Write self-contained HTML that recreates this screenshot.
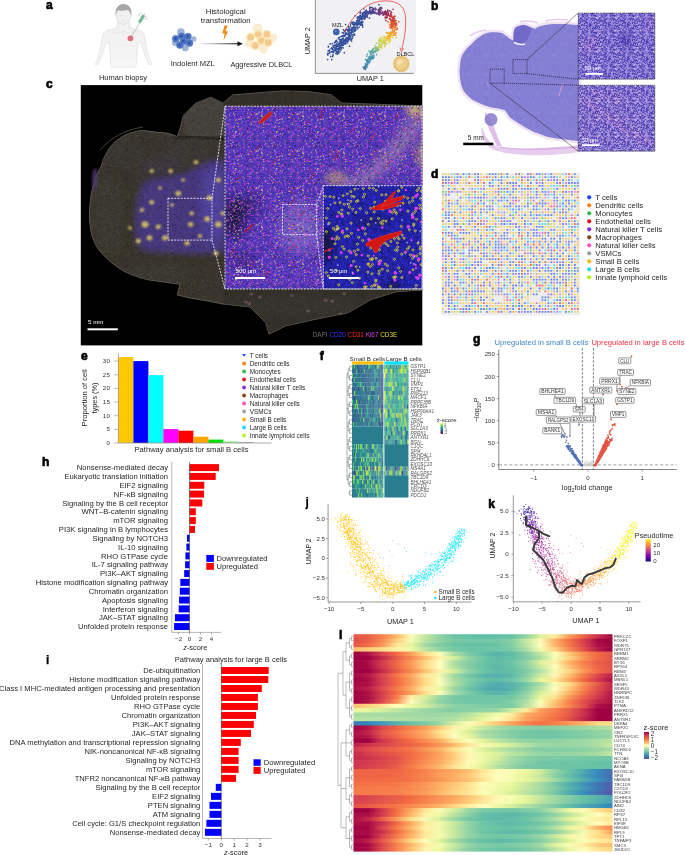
<!DOCTYPE html>
<html><head><meta charset="utf-8"><style>
html,body{margin:0;padding:0;background:#fff;width:685px;height:855px;overflow:hidden}
svg{display:block;will-change:transform}
text{font-family:"Liberation Sans",sans-serif}
</style></head><body>
<svg width="685" height="855" viewBox="0 0 685 855">
<text x="46.0" y="9.4" font-size="12" text-anchor="start" fill="#000" font-weight="bold" stroke="#000" stroke-width="0.65">a</text>
<text x="431.0" y="9.5" font-size="12" text-anchor="start" fill="#000" font-weight="bold" stroke="#000" stroke-width="0.65">b</text>
<text x="46.0" y="88.0" font-size="12" text-anchor="start" fill="#000" font-weight="bold" stroke="#000" stroke-width="0.65">c</text>
<text x="431.0" y="177.8" font-size="12" text-anchor="start" fill="#000" font-weight="bold" stroke="#000" stroke-width="0.65">d</text>
<text x="81.0" y="359.8" font-size="12" text-anchor="start" fill="#000" font-weight="bold" stroke="#000" stroke-width="0.65">e</text>
<text x="319.7" y="359.7" font-size="12" text-anchor="start" fill="#000" font-weight="bold" stroke="#000" stroke-width="0.65">f</text>
<text x="473.0" y="342.6" font-size="12" text-anchor="start" fill="#000" font-weight="bold" stroke="#000" stroke-width="0.65">g</text>
<text x="42.0" y="465.6" font-size="12" text-anchor="start" fill="#000" font-weight="bold" stroke="#000" stroke-width="0.65">h</text>
<text x="46.0" y="663.9" font-size="12" text-anchor="start" fill="#000" font-weight="bold" stroke="#000" stroke-width="0.25">i</text>
<text x="305.5" y="506.3" font-size="12" text-anchor="start" fill="#000" font-weight="bold" stroke="#000" stroke-width="0.25">j</text>
<text x="488.2" y="507.5" font-size="12" text-anchor="start" fill="#000" font-weight="bold" stroke="#000" stroke-width="0.65">k</text>
<text x="339.0" y="639.0" font-size="12" text-anchor="start" fill="#000" font-weight="bold" stroke="#000" stroke-width="0.65">l</text>
<defs><linearGradient id="bodyfade" x1="0" y1="0" x2="0" y2="1"><stop offset="0" stop-color="#f1f1f1"/><stop offset="0.8" stop-color="#f4f4f4"/><stop offset="1" stop-color="#fafafa"/></linearGradient><linearGradient id="arrowg" x1="0" y1="0" x2="1" y2="0"><stop offset="0" stop-color="#e8e8e8"/><stop offset="0.5" stop-color="#909090"/><stop offset="1" stop-color="#111"/></linearGradient></defs>
<path d="M117.5,22 L117,28 C112,29.5 107,30 104.5,32 C102,35 101.5,42 100.5,48 C99,55 97,60 95.3,64.5 L98,65 C100,60 102.5,54 104,49 L106,43 L109,42 C110,48 110,54 110.5,60 L111,67 L136,67 L136.5,60 C137,54 137,48 138,42 L141,43 L143,49 C144.5,54 147,60 149,65 L151.8,64.5 C150,60 148,55 146.5,48 C145.5,42 145,35 142.5,32 C140,30 135,29.5 130,28 L129.5,22 Z" fill="url(#bodyfade)" stroke="#cfcfcf" stroke-width="0.45"/>
<path d="M113,32 C117,33.5 121,33 123.5,31 C126,33 130,33.5 134,32" stroke="#d4d4d4" stroke-width="0.35" fill="none"/>
<path d="M123.5,31 L123.5,37 M116,44 C118,46 121,46 123,45 M124,45 C126,46 129,46 131,44" stroke="#dcdcdc" stroke-width="0.35" fill="none"/>
<ellipse cx="123.5" cy="14.8" rx="7.3" ry="9.6" fill="#f0f0f0" stroke="#c8c8c8" stroke-width="0.45"/>
<path d="M115.6,16 C115,9 117.5,4.3 123.5,4.1 C129.5,4.3 132.2,9 131.4,16 C130.5,12 129,10.5 127,10 C124,11 120,11 118,10.3 C116.5,11.5 116,13.5 115.6,16Z" fill="#a6a6a6"/>
<path d="M120,16 h2 M125,16 h2 M122.5,20.5 h2" stroke="#c0c0c0" stroke-width="0.4"/>
<circle cx="130.4" cy="38.3" r="2.9" fill="#e2707c"/>
<path d="M131.2,37.3 L140.5,21.5" stroke="#7a7a7a" stroke-width="0.4"/>
<g transform="translate(141.5,19) rotate(-58)"><rect x="-4.2" y="-1.3" width="8.4" height="2.6" rx="1" fill="#6cbf98" stroke="#4a9a78" stroke-width="0.3"/><ellipse cx="3.2" cy="-2.6" rx="1.4" ry="2" fill="none" stroke="#999" stroke-width="0.35"/><ellipse cx="3.2" cy="2.6" rx="1.4" ry="2" fill="none" stroke="#999" stroke-width="0.35"/><path d="M4.2,0 H6.3" stroke="#888" stroke-width="0.5"/></g>
<text x="123.0" y="79.6" font-size="7.55" text-anchor="middle" fill="#231f20" >Human biopsy</text>
<circle cx="180.9" cy="32.1" r="3.8" fill="#9db3da"/>
<circle cx="193.8" cy="38.9" r="2.7" fill="#9db3da"/>
<circle cx="174.6" cy="43.3" r="2.7" fill="#9db3da"/>
<circle cx="185.3" cy="47.9" r="3.4" fill="#9db3da"/>
<circle cx="175.7" cy="38.7" r="3.55" fill="#4d72c2" stroke="#5a7dc8" stroke-width="0.3"/>
<circle cx="175.5" cy="38.6" r="1.35" fill="#2f56a2"/>
<circle cx="181.6" cy="36.3" r="3.55" fill="#4d72c2" stroke="#5a7dc8" stroke-width="0.3"/>
<circle cx="181.4" cy="36.199999999999996" r="1.35" fill="#2f56a2"/>
<circle cx="187.9" cy="36.5" r="3.55" fill="#4d72c2" stroke="#5a7dc8" stroke-width="0.3"/>
<circle cx="187.70000000000002" cy="36.4" r="1.35" fill="#2f56a2"/>
<circle cx="183.5" cy="41.3" r="3.55" fill="#4d72c2" stroke="#5a7dc8" stroke-width="0.3"/>
<circle cx="183.3" cy="41.199999999999996" r="1.35" fill="#2f56a2"/>
<circle cx="189.5" cy="43.1" r="3.55" fill="#4d72c2" stroke="#5a7dc8" stroke-width="0.3"/>
<circle cx="189.3" cy="43.0" r="1.35" fill="#2f56a2"/>
<circle cx="179.8" cy="45.1" r="3.55" fill="#4d72c2" stroke="#5a7dc8" stroke-width="0.3"/>
<circle cx="179.60000000000002" cy="45.0" r="1.35" fill="#2f56a2"/>
<text x="192.8" y="66.0" font-size="7.55" text-anchor="middle" fill="#231f20" >Indolent MZL</text>
<rect x="200.5" y="43.2" width="38" height="1.1" fill="url(#arrowg)"/>
<path d="M237.5,41.3 L242.8,43.75 L237.5,46.2 Z" fill="#111"/>
<path d="M224.6,25.6 L227.6,25.6 L225.6,31.2 L228.2,31.2 L223.5,40.6 L224.6,33.6 L222.2,33.6 Z" fill="#f08a1c"/>
<text x="225.7" y="13.5" font-size="7.8" text-anchor="middle" fill="#231f20" >Histological</text>
<text x="225.7" y="22.6" font-size="7.8" text-anchor="middle" fill="#231f20" >transformation</text>
<circle cx="257.7" cy="28.8" r="5.2" fill="#faecd0"/>
<circle cx="273.5" cy="37.8" r="3.7" fill="#faecd0"/>
<circle cx="248.8" cy="43.5" r="3.7" fill="#faecd0"/>
<circle cx="263.5" cy="49.3" r="4.2" fill="#faecd0"/>
<circle cx="250.6" cy="37.2" r="4.4" fill="#fcf0c0" stroke="#f3df9c" stroke-width="0.4"/>
<circle cx="250.6" cy="37.2" r="3.3" fill="#f4c88e"/>
<circle cx="258.2" cy="34.6" r="4.4" fill="#fcf0c0" stroke="#f3df9c" stroke-width="0.4"/>
<circle cx="258.2" cy="34.6" r="3.3" fill="#f4c88e"/>
<circle cx="266.9" cy="34.3" r="4.4" fill="#fcf0c0" stroke="#f3df9c" stroke-width="0.4"/>
<circle cx="266.9" cy="34.3" r="3.3" fill="#f4c88e"/>
<circle cx="261.4" cy="40.7" r="4.4" fill="#fcf0c0" stroke="#f3df9c" stroke-width="0.4"/>
<circle cx="261.4" cy="40.7" r="3.3" fill="#f4c88e"/>
<circle cx="268.2" cy="42.5" r="4.4" fill="#fcf0c0" stroke="#f3df9c" stroke-width="0.4"/>
<circle cx="268.2" cy="42.5" r="3.3" fill="#f4c88e"/>
<circle cx="255.3" cy="45.6" r="4.4" fill="#fcf0c0" stroke="#f3df9c" stroke-width="0.4"/>
<circle cx="255.3" cy="45.6" r="3.3" fill="#f4c88e"/>
<text x="261.4" y="67.2" font-size="7.35" text-anchor="middle" fill="#231f20" >Aggressive DLBCL</text>
<rect x="315" y="0" width="101" height="73.4" fill="#f1f1f3"/>
<path d="M315.3 0V73.4H413.7" stroke="#666" stroke-width="0.7" fill="none"/>
<text x="370.2" y="81.2" font-size="7.3" text-anchor="middle" fill="#231f20" >UMAP 1</text>
<text transform="translate(310,40.8) rotate(-90)" font-size="7.3" text-anchor="middle" fill="#231f20">UMAP 2</text>
<path d="M328.4 46.3h0M331.0 48.6h0M328.1 51.0h0M340.3 47.3h0M333.7 47.5h0M339.8 51.7h0M335.5 45.9h0M330.0 52.7h0M332.8 52.1h0M329.5 51.0h0M333.3 45.5h0M334.5 47.7h0M345.7 43.9h0M336.5 48.7h0M338.6 52.7h0M336.4 46.8h0M339.7 44.3h0M336.0 49.2h0M338.9 44.9h0M337.1 44.9h0M327.6 59.5h0M339.5 47.7h0M337.3 54.2h0M329.3 50.1h0M332.5 49.6h0M339.2 49.4h0M331.8 59.6h0M336.1 51.8h0M327.9 55.0h0M344.3 52.7h0M332.6 56.6h0M333.6 51.2h0M329.7 51.0h0M334.0 50.1h0M335.7 44.8h0M339.5 46.8h0M340.1 42.7h0M332.2 43.6h0M339.1 49.2h0M335.1 48.3h0M333.7 52.1h0M337.1 52.4h0M335.8 49.5h0M339.5 47.4h0M338.6 44.5h0M335.4 49.4h0M330.7 56.4h0M333.0 55.3h0M338.2 50.0h0M343.4 44.4h0M335.8 45.9h0M338.5 53.5h0M337.9 46.5h0M331.7 47.8h0M335.1 50.1h0M335.4 41.4h0M336.1 41.1h0M336.5 48.5h0M341.3 42.6h0M340.7 42.9h0M333.6 50.1h0M340.4 49.7h0M343.5 40.7h0M334.1 45.3h0M335.7 47.9h0M341.8 47.0h0M335.9 53.5h0M330.1 43.9h0M336.0 50.9h0M337.7 48.7h0M337.4 42.1h0M336.9 48.9h0M327.5 53.7h0M341.4 42.7h0M335.6 49.3h0M338.7 43.3h0M339.8 45.8h0M330.0 52.3h0M329.0 53.4h0M333.0 54.1h0M338.7 44.5h0M332.0 52.0h0M335.0 45.5h0M339.8 46.1h0M341.0 49.8h0M333.8 51.6h0M332.5 48.8h0M339.7 39.8h0M338.3 50.2h0M336.3 51.6h0M338.5 48.8h0M332.9 46.2h0M336.7 44.4h0M339.2 45.1h0M339.1 43.0h0M330.2 44.0h0M328.4 46.9h0M341.4 44.7h0M338.3 51.9h0M335.3 41.9h0M340.3 45.7h0M334.6 43.0h0M339.2 46.7h0M337.1 51.6h0M336.4 44.4h0M331.7 51.6h0M339.5 48.2h0M339.2 47.3h0M334.7 42.4h0M340.6 45.6h0M349.4 36.5h0M343.0 44.0h0M339.4 37.4h0M343.4 41.7h0M348.4 35.2h0M350.4 35.6h0M345.7 42.4h0M343.5 39.0h0M344.7 35.0h0M343.2 35.4h0M348.9 39.3h0M349.9 38.5h0M340.6 41.8h0M346.1 34.2h0M343.0 41.5h0M346.4 37.7h0M348.2 37.3h0M340.8 39.5h0M341.8 39.8h0M348.4 39.9h0M343.2 45.2h0M341.3 42.2h0M345.3 40.9h0M342.7 35.5h0M342.3 32.5h0M341.5 36.4h0M346.2 38.3h0M349.5 46.2h0M348.6 37.7h0M345.7 38.8h0M342.0 39.0h0M337.3 45.5h0M341.5 48.2h0M348.7 35.5h0M344.2 35.9h0M345.9 38.9h0M344.5 43.9h0M342.6 38.7h0M343.1 47.8h0M349.1 34.5h0M343.7 42.4h0M344.6 40.1h0M340.4 41.1h0M338.4 38.4h0M336.7 43.8h0M343.9 42.0h0M350.4 40.0h0M344.7 31.1h0M341.7 40.6h0M349.4 38.9h0M346.3 39.1h0M347.4 34.2h0M350.5 32.8h0M346.4 34.0h0M348.3 38.7h0M346.6 40.0h0M343.6 36.7h0M346.2 33.1h0M341.9 36.5h0M347.4 40.5h0M346.2 29.3h0M336.5 40.5h0M341.3 42.3h0M340.6 43.2h0M345.2 39.6h0M347.9 38.6h0M344.4 30.9h0M336.5 40.4h0M342.0 42.8h0M345.5 42.8h0M351.6 41.1h0M339.4 39.5h0M341.9 45.0h0M343.5 43.6h0M344.6 41.5h0M343.1 47.8h0M347.1 37.5h0M347.6 43.0h0M343.2 41.6h0M346.0 39.3h0M348.6 37.4h0M349.2 39.1h0M348.0 41.3h0M343.9 40.8h0M346.5 41.5h0M343.1 38.6h0M340.1 41.3h0M351.7 39.1h0M346.0 38.9h0M348.0 31.9h0M342.3 45.3h0M341.0 36.6h0M346.9 39.3h0M353.2 32.1h0M350.5 35.5h0M350.0 30.2h0M348.6 31.9h0M350.2 26.4h0M352.5 38.0h0M350.7 36.4h0M345.6 24.5h0M345.7 30.6h0M349.5 33.3h0M345.4 32.9h0M349.5 38.6h0M347.0 38.8h0M350.1 29.0h0M347.8 30.2h0M351.9 28.7h0M344.7 36.1h0M348.7 33.9h0M352.0 35.0h0M343.4 32.9h0M352.8 36.6h0M348.9 29.4h0M350.6 37.7h0M354.6 31.1h0M347.0 29.5h0M353.8 35.0h0M347.3 34.3h0M345.7 29.9h0M352.3 34.6h0M349.6 35.9h0M348.8 29.0h0M350.5 35.2h0M349.3 30.9h0M354.7 28.4h0M343.4 29.8h0M351.5 31.6h0M345.2 35.4h0M350.5 35.8h0M352.2 30.1h0M350.5 29.8h0M354.9 29.7h0M352.0 30.6h0M349.7 33.3h0M345.6 33.2h0M350.0 30.5h0M343.5 33.2h0M350.1 29.5h0M349.6 29.5h0M349.1 30.6h0" stroke="#34509a" stroke-width="1.7" stroke-linecap="round" fill="none"/>
<path d="M352.9 30.7h0M349.0 27.7h0M352.6 27.5h0M352.1 27.9h0M351.3 33.4h0M352.5 30.3h0M360.0 24.5h0M354.3 29.5h0M348.5 26.5h0M354.1 34.2h0M354.1 27.6h0M348.1 29.4h0M351.9 22.3h0M357.6 28.9h0M351.9 27.5h0M355.4 27.2h0M351.1 22.9h0M356.5 22.8h0M352.6 23.8h0M353.9 25.8h0M353.8 27.2h0M357.0 27.1h0M352.7 29.3h0M353.2 27.1h0M355.5 23.9h0M349.4 30.0h0M353.8 24.4h0M352.7 24.2h0M354.7 29.2h0M354.6 34.1h0M355.7 28.7h0M355.6 30.4h0M352.4 31.9h0M354.7 30.9h0M354.6 34.8h0M353.6 27.2h0M351.6 30.0h0M355.5 24.3h0M351.6 32.1h0M351.0 32.6h0M350.6 24.8h0M357.5 22.3h0M359.2 27.1h0M357.1 25.3h0M362.6 25.3h0M353.9 22.3h0M356.6 23.6h0M355.1 15.8h0M353.9 28.0h0M352.9 22.2h0M359.2 22.3h0M362.7 27.1h0M358.6 23.0h0M358.3 22.5h0M362.3 24.0h0M359.4 24.2h0M354.4 22.9h0M359.3 23.9h0M354.8 24.1h0M362.8 21.9h0M360.9 24.8h0M357.5 27.5h0M355.3 24.7h0M361.3 21.8h0M356.4 24.4h0M356.5 22.7h0M357.0 24.4h0M364.4 19.2h0M358.4 24.3h0M362.4 18.7h0M355.1 23.1h0" stroke="#36509a" stroke-width="1.7" stroke-linecap="round" fill="none"/>
<path d="M360.3 22.6h0M359.1 18.7h0M360.7 17.7h0M357.9 16.8h0M360.8 22.3h0M359.2 17.3h0M361.0 24.7h0M358.3 18.1h0M360.5 25.1h0M357.1 17.7h0M361.9 24.9h0M359.1 22.0h0M356.5 20.8h0M364.9 18.5h0M362.0 24.5h0M359.2 20.0h0M358.9 21.9h0M357.6 24.2h0M357.0 22.3h0M361.5 19.7h0M359.8 24.2h0M362.5 21.7h0M359.3 16.3h0M357.9 20.6h0M361.0 19.7h0M353.1 24.1h0M360.0 15.5h0M358.4 23.1h0M357.4 22.5h0M357.4 20.1h0M360.7 18.7h0M360.6 23.6h0M359.3 20.8h0M361.9 21.8h0M362.5 18.4h0M361.3 16.6h0M361.8 17.7h0M358.3 21.5h0M361.4 19.3h0M357.3 25.1h0M361.7 19.6h0M360.1 13.3h0M360.4 12.1h0M360.5 15.3h0M359.6 16.6h0M362.6 15.8h0M362.5 14.8h0M361.0 16.2h0M363.3 13.5h0M358.4 18.3h0M364.0 18.5h0M366.5 16.2h0M362.2 17.5h0M361.3 16.5h0M362.6 15.8h0M364.5 17.0h0M361.8 18.5h0M359.4 18.9h0M362.8 16.8h0M363.9 9.0h0M358.0 18.4h0M361.5 22.8h0M360.2 18.5h0M363.7 16.2h0" stroke="#38509c" stroke-width="1.7" stroke-linecap="round" fill="none"/>
<path d="M365.1 12.5h0M366.7 13.6h0M365.0 15.8h0M364.2 16.9h0M364.8 11.9h0M369.5 18.2h0M366.0 13.5h0M364.3 13.4h0M362.5 13.6h0M364.8 12.1h0M365.5 12.7h0M364.9 15.0h0M366.4 16.7h0M365.3 12.5h0M360.6 12.5h0M363.1 12.3h0M365.0 15.3h0M362.4 14.6h0M367.4 17.2h0M366.3 11.2h0M367.3 15.2h0M362.7 13.7h0M365.1 17.3h0M366.5 13.7h0M365.5 12.9h0M371.8 12.0h0M365.7 11.0h0M369.0 12.6h0M363.8 15.4h0M368.7 11.9h0M365.2 14.8h0M367.9 11.6h0M368.4 12.8h0M366.5 12.4h0M365.5 13.6h0M366.4 11.2h0M366.6 15.8h0M365.2 14.9h0M366.9 14.4h0M367.7 12.7h0" stroke="#3c4c98" stroke-width="1.7" stroke-linecap="round" fill="none"/>
<path d="M372.3 7.6h0M371.7 12.3h0M371.7 12.4h0M372.0 9.5h0M369.3 11.7h0M368.4 13.8h0M370.0 13.1h0M371.8 13.3h0M370.1 13.5h0M369.8 7.0h0M369.9 11.4h0M369.8 10.5h0M366.3 10.2h0M370.9 14.0h0M372.8 10.3h0M374.0 11.5h0M373.1 13.2h0M374.8 12.8h0M376.4 13.7h0M375.0 12.1h0M376.2 13.3h0M370.6 12.3h0M371.8 11.4h0M372.9 9.8h0M373.9 11.5h0M376.2 9.3h0M372.9 9.8h0M370.9 7.5h0M369.7 8.7h0M373.0 11.9h0M372.7 9.6h0M370.0 10.4h0M370.4 11.1h0M375.5 9.8h0" stroke="#4a4490" stroke-width="1.7" stroke-linecap="round" fill="none"/>
<path d="M378.2 14.1h0M380.1 9.8h0M373.1 9.9h0M374.6 8.9h0M378.5 9.6h0M378.6 11.3h0M374.3 12.9h0M378.7 12.1h0M373.4 9.1h0M378.8 10.6h0M375.2 8.0h0M378.3 9.9h0M373.0 11.2h0M379.4 14.8h0M381.1 13.6h0M379.5 11.4h0M378.3 10.1h0M381.0 9.1h0M381.8 8.0h0M378.3 13.6h0M379.1 9.4h0M380.2 7.3h0M373.8 8.5h0M379.1 9.9h0M378.9 4.7h0M378.5 11.5h0M381.1 7.5h0M377.4 13.1h0M379.3 12.0h0M378.5 11.5h0M380.0 13.7h0M380.2 12.0h0" stroke="#5e3c8c" stroke-width="1.7" stroke-linecap="round" fill="none"/>
<path d="M381.3 13.1h0M380.2 13.9h0M381.0 10.9h0M379.4 8.9h0M384.2 13.2h0M382.2 13.0h0M386.0 14.4h0M384.3 11.9h0M382.7 12.1h0M379.2 11.8h0M384.7 11.5h0M378.6 10.6h0M383.6 14.4h0M383.2 13.9h0M385.7 11.0h0M385.4 14.4h0M383.1 15.2h0M388.5 13.9h0M387.9 10.2h0M386.1 12.7h0M386.4 13.2h0M385.4 17.2h0M380.3 11.4h0M385.6 11.5h0M383.6 13.9h0M385.6 11.4h0M385.8 13.2h0M385.5 13.0h0M386.8 12.1h0" stroke="#7e3474" stroke-width="1.7" stroke-linecap="round" fill="none"/>
<path d="M390.2 18.5h0M386.1 12.5h0M393.1 9.3h0M386.8 16.2h0M387.8 11.9h0M389.7 10.8h0M393.1 17.5h0M391.3 14.7h0M388.0 11.8h0M386.2 14.9h0M388.1 15.1h0M384.7 12.9h0M385.0 14.3h0M388.0 12.9h0M386.9 17.4h0M385.7 20.4h0M388.2 13.7h0M387.6 14.0h0M388.2 15.2h0M391.1 21.0h0M391.5 12.4h0M390.7 13.6h0M389.5 15.3h0M391.1 11.8h0M391.2 15.4h0M386.5 18.0h0" stroke="#a02e54" stroke-width="1.7" stroke-linecap="round" fill="none"/>
<path d="M392.8 21.4h0M392.2 19.5h0M393.1 17.3h0M391.9 20.5h0M393.9 16.6h0M389.8 16.6h0M391.1 16.5h0M389.5 18.8h0M393.7 17.7h0M393.6 21.1h0M392.3 17.6h0M393.7 18.0h0M396.5 23.4h0M394.9 16.2h0M385.1 18.0h0M391.8 16.1h0M391.5 14.9h0M387.4 17.0h0M392.9 20.1h0M392.6 17.9h0M391.8 17.1h0M393.3 22.3h0M391.7 24.1h0M390.2 19.1h0M394.9 22.8h0M393.7 22.8h0M395.9 20.5h0M394.7 24.1h0M393.8 19.9h0M388.0 21.8h0M392.4 19.9h0M394.7 18.6h0M394.9 21.2h0M391.1 20.7h0M394.6 21.4h0M395.9 25.1h0M391.1 21.8h0M391.3 21.5h0M391.7 24.9h0" stroke="#c83a36" stroke-width="1.7" stroke-linecap="round" fill="none"/>
<path d="M393.2 22.9h0M392.8 23.3h0M391.9 23.4h0M392.1 24.9h0M392.2 26.8h0M391.4 22.2h0M392.5 21.9h0M395.0 21.7h0M396.7 25.1h0M392.3 21.8h0M393.8 24.3h0M391.2 23.4h0M398.8 21.8h0M391.4 25.9h0M392.5 27.1h0M393.1 26.5h0M391.6 23.6h0M397.2 28.2h0M390.6 26.5h0M393.8 23.9h0M395.5 27.1h0M393.5 25.2h0M394.5 28.0h0M390.9 26.9h0M395.9 25.5h0M389.9 24.7h0M394.8 22.8h0M394.8 26.3h0M392.7 25.7h0M396.8 29.6h0M390.1 27.2h0M393.1 25.2h0M391.0 28.2h0" stroke="#e0582a" stroke-width="1.7" stroke-linecap="round" fill="none"/>
<path d="M389.4 33.4h0M390.6 21.9h0M394.1 35.2h0M392.7 33.3h0M392.9 28.3h0M392.9 30.4h0M394.9 30.0h0M395.9 32.6h0M392.3 30.9h0M394.2 31.4h0M390.0 27.6h0M395.2 29.4h0M394.7 26.8h0M389.5 33.8h0M392.8 30.6h0M393.6 33.3h0M390.2 32.7h0M391.7 33.0h0M387.8 33.1h0M393.7 32.1h0M392.5 30.2h0M392.4 30.6h0M389.4 33.6h0M390.8 34.7h0M395.3 34.0h0M390.3 36.4h0" stroke="#f08a22" stroke-width="1.7" stroke-linecap="round" fill="none"/>
<path d="M389.2 33.0h0M390.3 34.8h0M393.0 33.5h0M389.8 35.3h0M389.4 33.1h0M388.9 36.3h0M396.0 37.5h0M389.6 36.8h0M391.2 32.2h0M386.4 32.6h0M395.8 34.9h0M390.4 34.7h0M387.9 36.2h0M390.8 35.5h0M387.3 36.2h0M389.9 34.0h0M392.4 33.1h0M384.4 36.8h0M391.2 34.8h0M388.0 37.0h0M389.5 35.2h0M387.7 38.9h0M389.9 37.7h0M390.7 34.4h0M386.7 37.9h0M392.8 35.5h0M389.9 39.3h0M388.4 35.7h0M388.8 38.3h0M387.8 39.6h0" stroke="#f0b024" stroke-width="1.7" stroke-linecap="round" fill="none"/>
<path d="M389.5 37.6h0M384.5 41.1h0M388.2 40.2h0M385.8 39.8h0M384.9 41.5h0M387.4 40.4h0M385.6 38.2h0M384.5 40.1h0M392.3 37.5h0M388.4 40.1h0M389.8 40.1h0M385.9 37.7h0M389.8 41.3h0M390.2 40.9h0M391.5 35.5h0M383.9 42.6h0M386.1 42.9h0M386.9 40.5h0M380.5 40.9h0M387.8 37.5h0M383.0 41.5h0M384.5 40.0h0M385.3 39.6h0M380.5 37.5h0M383.2 40.4h0M384.5 44.9h0M383.1 41.7h0M378.7 40.1h0M382.9 36.8h0M381.0 40.4h0M380.4 39.7h0M389.1 42.8h0M389.4 41.5h0M384.1 41.6h0" stroke="#e8d040" stroke-width="1.7" stroke-linecap="round" fill="none"/>
<path d="M380.0 41.6h0M381.0 38.5h0M382.1 43.7h0M379.2 46.2h0M384.4 42.1h0M382.4 43.4h0M384.6 46.6h0M386.4 44.4h0M379.7 47.4h0M384.6 40.1h0M385.5 43.2h0M384.3 43.5h0M385.0 42.6h0M382.0 43.3h0M379.6 39.5h0M381.7 43.9h0M381.0 41.2h0M383.3 38.8h0M382.0 42.3h0M379.3 49.5h0M381.0 45.8h0M379.2 44.3h0M379.1 43.8h0M380.3 46.3h0M379.1 42.7h0M380.9 45.5h0M384.0 42.5h0M381.4 47.9h0M378.7 47.9h0M379.2 44.1h0M381.6 43.7h0M383.4 41.7h0M379.4 40.3h0M381.9 46.8h0M378.3 46.5h0M380.4 44.8h0M379.8 45.2h0M380.0 46.1h0" stroke="#c8d058" stroke-width="1.7" stroke-linecap="round" fill="none"/>
<path d="M377.4 49.5h0M377.3 48.4h0M378.5 49.8h0M376.7 47.0h0M377.6 48.3h0M375.8 49.8h0M374.4 47.5h0M374.5 51.2h0M376.4 43.2h0M376.3 49.1h0M375.5 45.5h0M377.2 51.4h0M376.9 49.2h0M374.8 50.6h0M376.6 49.9h0M375.6 47.6h0M377.6 51.0h0M373.1 49.0h0M375.1 48.0h0M374.1 48.5h0" stroke="#90c080" stroke-width="1.7" stroke-linecap="round" fill="none"/>
<path d="M372.1 50.1h0M369.1 51.1h0M375.3 51.9h0M373.3 53.9h0M370.2 53.5h0M372.0 52.5h0M373.1 52.7h0M373.0 52.2h0M370.7 52.0h0M372.6 52.6h0M373.3 52.7h0M371.3 51.5h0M372.8 51.1h0M373.3 56.8h0M373.9 51.5h0M375.9 50.4h0M376.6 54.6h0M371.1 52.5h0M372.8 49.4h0M373.7 57.2h0M373.3 51.7h0M373.4 53.4h0M367.4 54.2h0M369.7 56.1h0M372.6 57.4h0M372.1 52.8h0M371.9 52.6h0M370.9 51.4h0M369.9 57.0h0M374.1 55.8h0M370.1 51.9h0M372.6 56.9h0" stroke="#5aa8a8" stroke-width="1.7" stroke-linecap="round" fill="none"/>
<path d="M371.9 56.6h0M368.6 58.0h0M373.5 57.4h0M371.2 54.7h0M370.4 56.9h0M369.7 59.0h0M371.5 58.8h0M371.8 57.6h0M370.5 58.0h0M369.0 58.4h0M373.3 58.5h0M370.9 54.5h0M373.0 55.6h0M369.0 57.0h0M371.8 56.6h0M370.8 57.9h0M366.8 56.1h0M369.5 58.7h0M370.6 59.9h0M367.4 62.1h0M368.8 61.7h0M367.2 59.4h0M369.5 62.6h0M369.0 61.7h0M369.2 62.7h0M369.2 58.5h0M369.1 59.4h0M368.0 60.5h0M372.0 58.8h0" stroke="#4898b0" stroke-width="1.7" stroke-linecap="round" fill="none"/>
<path d="M367.6 62.2h0M365.4 63.8h0M367.3 64.4h0M367.8 63.7h0M369.8 61.5h0M365.7 59.7h0M366.8 66.1h0M365.6 64.8h0M367.9 63.9h0M367.5 64.5h0M366.3 65.5h0M367.1 61.4h0M367.0 64.4h0M367.7 61.0h0M366.7 61.1h0M364.8 66.4h0M367.1 64.7h0M363.7 68.2h0M366.6 64.1h0M364.9 67.8h0M365.1 68.4h0M365.1 68.6h0M363.3 67.2h0M363.9 68.6h0M366.3 64.3h0" stroke="#4088b0" stroke-width="1.7" stroke-linecap="round" fill="none"/>
<path d="M365.5 69.5h0M365.1 67.9h0M365.3 66.7h0M366.8 67.4h0M363.8 68.3h0" stroke="#4080b0" stroke-width="1.7" stroke-linecap="round" fill="none"/>
<circle cx="336.3" cy="31.9" r="3.3" fill="#3a5fae"/><circle cx="335.5" cy="31" r="1.4" fill="#5a7cc0"/>
<text x="337.6" y="27.0" font-size="5.6" text-anchor="middle" fill="#231f20" >MZL</text>
<path d="M343.9,32.6 C352,18 362,4 380,1.2 C395,-0.5 404,4 405.5,16 C406.5,28 404,40 401.8,49" stroke="#e83434" stroke-width="0.75" fill="none"/>
<path d="M399.9,47.6 L401.6,51.8 L403.4,48" stroke="#e83434" stroke-width="0.75" fill="none"/>
<polygon points="409.90,63.80 408.71,65.49 409.05,67.53 407.24,68.54 406.66,70.52 404.60,70.65 403.21,72.18 401.30,71.40 399.39,72.18 398.00,70.65 395.94,70.52 395.36,68.54 393.55,67.53 393.89,65.49 392.70,63.80 393.89,62.11 393.55,60.07 395.36,59.06 395.94,57.08 398.00,56.95 399.39,55.42 401.30,56.20 403.21,55.42 404.60,56.95 406.66,57.08 407.24,59.06 409.05,60.07 408.71,62.11" fill="#e2bc6a"/>
<circle cx="401.3" cy="63.8" r="7.3" fill="#e6c274"/><circle cx="401.3" cy="63.8" r="6.0" fill="#eecf8c"/><circle cx="399.6" cy="62" r="2.8" fill="#f6e2b0"/>
<text x="405.4" y="55.9" font-size="5.6" text-anchor="middle" fill="#231f20" >DLBCL</text>
<defs><pattern id="sp_he" width="19" height="17" patternUnits="userSpaceOnUse"><path d="M3.0 11.0h1.0v1.0h-1.0zM11.4 7.7h1.0v1.0h-1.0zM3.9 12.7h1.0v1.0h-1.0zM14.5 8.2h1.0v1.0h-1.0zM9.1 3.8h1.0v1.0h-1.0zM0.1 5.9h1.0v1.0h-1.0zM10.5 1.1h1.0v1.0h-1.0zM14.3 3.7h1.0v1.0h-1.0zM4.2 0.7h1.0v1.0h-1.0zM18.0 11.8h1.0v1.0h-1.0zM15.8 9.9h1.0v1.0h-1.0zM0.6 5.3h1.0v1.0h-1.0zM9.0 1.9h1.0v1.0h-1.0zM17.1 5.9h1.0v1.0h-1.0zM2.8 13.1h1.0v1.0h-1.0zM2.2 14.8h1.0v1.0h-1.0zM8.2 8.8h1.0v1.0h-1.0zM6.2 7.8h1.0v1.0h-1.0zM3.4 0.6h1.0v1.0h-1.0zM15.6 3.8h1.0v1.0h-1.0zM14.0 3.3h1.0v1.0h-1.0zM17.4 14.3h1.0v1.0h-1.0zM13.6 12.2h1.0v1.0h-1.0zM10.5 11.7h1.0v1.0h-1.0zM2.2 7.6h1.0v1.0h-1.0zM14.9 3.2h1.0v1.0h-1.0zM16.6 14.2h1.0v1.0h-1.0zM7.4 5.8h1.0v1.0h-1.0zM8.1 6.2h1.0v1.0h-1.0zM17.9 6.2h1.0v1.0h-1.0zM0.5 1.5h1.0v1.0h-1.0zM12.9 15.9h1.0v1.0h-1.0zM8.9 7.9h1.0v1.0h-1.0zM9.9 12.0h1.0v1.0h-1.0zM4.0 9.7h1.0v1.0h-1.0zM10.0 10.0h1.0v1.0h-1.0zM3.3 2.7h1.0v1.0h-1.0zM6.3 14.8h1.0v1.0h-1.0zM6.2 9.6h1.0v1.0h-1.0zM5.5 1.7h1.0v1.0h-1.0zM1.2 13.0h1.0v1.0h-1.0zM14.0 6.0h1.0v1.0h-1.0zM12.3 10.8h1.0v1.0h-1.0zM16.2 15.3h1.0v1.0h-1.0zM7.3 15.8h1.0v1.0h-1.0zM17.3 9.4h1.0v1.0h-1.0zM15.9 7.9h1.0v1.0h-1.0zM6.8 4.0h1.0v1.0h-1.0zM15.8 2.6h1.0v1.0h-1.0zM1.2 12.9h1.0v1.0h-1.0zM13.9 7.7h1.0v1.0h-1.0zM15.1 0.8h1.0v1.0h-1.0zM4.6 4.6h1.0v1.0h-1.0zM7.6 2.7h1.0v1.0h-1.0zM1.3 5.4h1.0v1.0h-1.0zM16.2 15.7h1.0v1.0h-1.0zM13.4 7.7h1.0v1.0h-1.0zM4.5 15.3h1.0v1.0h-1.0zM9.5 11.7h1.0v1.0h-1.0zM0.5 3.4h1.0v1.0h-1.0zM15.1 12.7h1.0v1.0h-1.0zM15.9 9.6h1.0v1.0h-1.0zM7.7 9.3h1.0v1.0h-1.0zM15.3 4.9h1.0v1.0h-1.0zM9.6 4.4h1.0v1.0h-1.0zM13.8 0.2h1.0v1.0h-1.0zM12.3 15.3h1.0v1.0h-1.0zM0.4 9.5h1.0v1.0h-1.0zM11.6 13.6h1.0v1.0h-1.0zM10.5 4.1h1.0v1.0h-1.0zM7.3 15.3h1.0v1.0h-1.0zM16.3 2.1h1.0v1.0h-1.0zM1.7 1.5h1.0v1.0h-1.0zM0.5 7.1h1.0v1.0h-1.0zM2.5 13.9h1.0v1.0h-1.0zM11.8 2.0h1.0v1.0h-1.0zM9.7 5.2h1.0v1.0h-1.0zM8.9 3.5h1.0v1.0h-1.0zM3.0 2.9h1.0v1.0h-1.0zM6.8 11.4h1.0v1.0h-1.0zM9.9 0.7h1.0v1.0h-1.0zM12.8 14.0h1.0v1.0h-1.0zM13.9 12.7h1.0v1.0h-1.0zM0.1 7.4h1.0v1.0h-1.0zM1.1 12.2h1.0v1.0h-1.0zM3.2 11.4h1.0v1.0h-1.0zM4.6 11.1h1.0v1.0h-1.0zM5.6 0.7h1.0v1.0h-1.0zM7.0 5.0h1.0v1.0h-1.0zM16.2 4.7h1.0v1.0h-1.0zM9.1 8.8h1.0v1.0h-1.0zM17.1 1.6h1.0v1.0h-1.0zM10.8 8.1h1.0v1.0h-1.0zM13.2 15.5h1.0v1.0h-1.0zM5.6 11.2h1.0v1.0h-1.0zM9.5 9.0h1.0v1.0h-1.0zM1.1 13.0h1.0v1.0h-1.0zM17.6 5.7h1.0v1.0h-1.0zM5.7 15.9h1.0v1.0h-1.0zM1.9 1.2h1.0v1.0h-1.0zM1.3 13.0h1.0v1.0h-1.0zM13.7 7.2h1.0v1.0h-1.0zM11.2 0.3h1.0v1.0h-1.0zM11.6 7.1h1.0v1.0h-1.0zM9.3 6.2h1.0v1.0h-1.0zM7.2 3.6h1.0v1.0h-1.0zM0.9 6.9h1.0v1.0h-1.0zM4.4 11.3h1.0v1.0h-1.0zM14.7 11.6h1.0v1.0h-1.0zM8.2 3.8h1.0v1.0h-1.0zM6.9 7.8h1.0v1.0h-1.0zM11.4 15.4h1.0v1.0h-1.0zM1.5 7.7h1.0v1.0h-1.0zM8.9 11.5h1.0v1.0h-1.0zM16.0 12.5h1.0v1.0h-1.0zM11.3 12.1h1.0v1.0h-1.0zM12.0 13.7h1.0v1.0h-1.0zM12.6 10.9h1.0v1.0h-1.0zM4.4 14.7h1.0v1.0h-1.0zM6.9 9.8h1.0v1.0h-1.0zM14.8 15.4h1.0v1.0h-1.0zM17.8 0.1h1.0v1.0h-1.0zM5.6 5.0h1.0v1.0h-1.0zM7.0 2.3h1.0v1.0h-1.0zM10.0 1.3h1.0v1.0h-1.0zM5.4 15.1h1.0v1.0h-1.0zM13.4 7.4h1.0v1.0h-1.0zM1.9 15.3h1.0v1.0h-1.0zM12.7 3.3h1.0v1.0h-1.0zM6.0 10.3h1.0v1.0h-1.0zM12.3 4.2h1.0v1.0h-1.0zM17.1 5.2h1.0v1.0h-1.0zM4.6 13.5h1.0v1.0h-1.0zM2.8 10.9h1.0v1.0h-1.0zM3.6 9.6h1.0v1.0h-1.0zM5.0 6.1h1.0v1.0h-1.0zM16.9 7.5h1.0v1.0h-1.0zM7.9 9.9h1.0v1.0h-1.0zM5.1 2.8h1.0v1.0h-1.0zM6.9 4.4h1.0v1.0h-1.0zM3.4 15.4h1.0v1.0h-1.0zM0.6 13.0h1.0v1.0h-1.0zM16.8 11.3h1.0v1.0h-1.0zM0.3 8.0h1.0v1.0h-1.0zM0.7 9.7h1.0v1.0h-1.0zM12.6 3.8h1.0v1.0h-1.0zM0.1 8.7h1.0v1.0h-1.0zM1.7 4.9h1.0v1.0h-1.0zM8.2 14.3h1.0v1.0h-1.0zM6.7 2.2h1.0v1.0h-1.0z" fill="#2c1c9c" opacity="0.8"/><path d="M14.3 13.2h1.0v1.0h-1.0zM9.5 0.8h1.0v1.0h-1.0zM3.4 6.4h1.0v1.0h-1.0zM9.9 3.6h1.0v1.0h-1.0zM14.4 13.5h1.0v1.0h-1.0zM16.7 14.1h1.0v1.0h-1.0zM0.3 9.3h1.0v1.0h-1.0zM1.4 14.4h1.0v1.0h-1.0zM13.4 12.1h1.0v1.0h-1.0zM3.4 1.0h1.0v1.0h-1.0zM14.7 9.7h1.0v1.0h-1.0zM11.2 7.5h1.0v1.0h-1.0zM14.4 5.4h1.0v1.0h-1.0zM4.9 5.7h1.0v1.0h-1.0zM5.4 10.0h1.0v1.0h-1.0zM16.0 1.1h1.0v1.0h-1.0zM1.2 8.2h1.0v1.0h-1.0zM12.2 3.0h1.0v1.0h-1.0zM4.9 0.9h1.0v1.0h-1.0zM0.7 7.9h1.0v1.0h-1.0zM12.3 10.5h1.0v1.0h-1.0zM2.8 1.7h1.0v1.0h-1.0zM16.8 8.6h1.0v1.0h-1.0zM7.4 11.1h1.0v1.0h-1.0zM13.1 8.4h1.0v1.0h-1.0zM1.4 13.2h1.0v1.0h-1.0zM3.8 0.6h1.0v1.0h-1.0zM6.3 8.5h1.0v1.0h-1.0zM11.3 2.8h1.0v1.0h-1.0zM12.8 7.9h1.0v1.0h-1.0zM2.9 13.6h1.0v1.0h-1.0zM14.5 14.5h1.0v1.0h-1.0zM12.2 3.5h1.0v1.0h-1.0zM14.0 14.4h1.0v1.0h-1.0zM9.6 14.5h1.0v1.0h-1.0zM17.5 6.2h1.0v1.0h-1.0zM17.0 15.0h1.0v1.0h-1.0zM14.3 0.2h1.0v1.0h-1.0zM6.3 9.8h1.0v1.0h-1.0zM10.9 12.1h1.0v1.0h-1.0zM11.6 2.6h1.0v1.0h-1.0zM16.8 8.6h1.0v1.0h-1.0zM15.9 3.3h1.0v1.0h-1.0zM18.0 8.9h1.0v1.0h-1.0zM14.0 11.8h1.0v1.0h-1.0zM15.9 5.8h1.0v1.0h-1.0zM1.5 6.5h1.0v1.0h-1.0zM3.2 8.6h1.0v1.0h-1.0zM14.7 5.8h1.0v1.0h-1.0zM2.4 0.4h1.0v1.0h-1.0zM7.6 9.3h1.0v1.0h-1.0zM0.5 10.6h1.0v1.0h-1.0zM3.8 1.7h1.0v1.0h-1.0zM16.7 8.4h1.0v1.0h-1.0zM16.1 8.2h1.0v1.0h-1.0zM2.2 3.8h1.0v1.0h-1.0zM7.6 10.3h1.0v1.0h-1.0zM13.9 12.0h1.0v1.0h-1.0zM11.7 4.0h1.0v1.0h-1.0zM7.7 6.0h1.0v1.0h-1.0z" fill="#4838b8" opacity="0.6"/><path d="M8.9 4.3h0.9v0.9h-0.9zM9.7 7.4h0.9v0.9h-0.9zM0.6 13.2h0.9v0.9h-0.9zM10.6 12.9h0.9v0.9h-0.9zM13.3 11.8h0.9v0.9h-0.9zM18.0 6.1h0.9v0.9h-0.9zM7.1 0.1h0.9v0.9h-0.9zM12.0 9.4h0.9v0.9h-0.9zM10.4 16.1h0.9v0.9h-0.9zM3.6 3.7h0.9v0.9h-0.9zM13.3 13.1h0.9v0.9h-0.9zM8.7 0.9h0.9v0.9h-0.9zM6.7 13.3h0.9v0.9h-0.9zM9.0 7.4h0.9v0.9h-0.9zM7.0 10.1h0.9v0.9h-0.9zM10.8 11.2h0.9v0.9h-0.9zM15.7 12.1h0.9v0.9h-0.9zM6.8 4.0h0.9v0.9h-0.9z" fill="#f0e8ff" opacity="0.7"/></pattern><pattern id="sp_he2" width="23" height="21" patternUnits="userSpaceOnUse"><path d="M21.1 2.8h1.0v1.0h-1.0zM0.5 20.0h1.0v1.0h-1.0zM4.1 2.4h1.0v1.0h-1.0zM14.3 6.9h1.0v1.0h-1.0zM19.6 4.6h1.0v1.0h-1.0zM21.1 6.4h1.0v1.0h-1.0zM13.2 18.6h1.0v1.0h-1.0zM15.1 18.5h1.0v1.0h-1.0zM15.6 1.0h1.0v1.0h-1.0zM19.4 11.8h1.0v1.0h-1.0zM6.8 3.8h1.0v1.0h-1.0zM18.7 11.7h1.0v1.0h-1.0zM20.6 15.5h1.0v1.0h-1.0zM21.1 11.3h1.0v1.0h-1.0zM15.4 12.2h1.0v1.0h-1.0zM5.7 19.1h1.0v1.0h-1.0zM6.9 15.6h1.0v1.0h-1.0zM21.0 13.0h1.0v1.0h-1.0zM3.1 16.5h1.0v1.0h-1.0zM14.7 3.7h1.0v1.0h-1.0zM1.1 10.6h1.0v1.0h-1.0zM0.7 18.5h1.0v1.0h-1.0zM11.1 10.3h1.0v1.0h-1.0zM9.0 13.2h1.0v1.0h-1.0zM20.2 6.1h1.0v1.0h-1.0zM8.2 11.7h1.0v1.0h-1.0zM6.5 11.9h1.0v1.0h-1.0zM11.9 8.7h1.0v1.0h-1.0zM14.8 10.6h1.0v1.0h-1.0zM1.9 19.9h1.0v1.0h-1.0zM7.8 8.6h1.0v1.0h-1.0zM8.9 18.6h1.0v1.0h-1.0zM20.9 10.2h1.0v1.0h-1.0zM8.8 1.9h1.0v1.0h-1.0zM19.7 3.4h1.0v1.0h-1.0zM12.0 7.0h1.0v1.0h-1.0zM7.2 7.1h1.0v1.0h-1.0zM4.2 0.7h1.0v1.0h-1.0zM11.8 15.9h1.0v1.0h-1.0zM14.2 4.0h1.0v1.0h-1.0z" fill="#2c1c9c" opacity="0.5"/><path d="M15.1 1.0h1.2v1.2h-1.2zM9.0 16.4h1.2v1.2h-1.2zM20.1 9.1h1.2v1.2h-1.2zM18.5 9.9h1.2v1.2h-1.2zM11.4 11.6h1.2v1.2h-1.2zM21.6 14.7h1.2v1.2h-1.2zM10.3 14.4h1.2v1.2h-1.2zM14.0 7.0h1.2v1.2h-1.2zM17.1 16.2h1.2v1.2h-1.2zM13.3 18.7h1.2v1.2h-1.2zM0.4 9.9h1.2v1.2h-1.2zM13.8 6.7h1.2v1.2h-1.2zM3.7 13.7h1.2v1.2h-1.2zM9.5 5.3h1.2v1.2h-1.2z" fill="#e0a0e0" opacity="0.5"/></pattern><pattern id="sp_body" width="17" height="19" patternUnits="userSpaceOnUse"><path d="M14.8 17.1h1.0v1.0h-1.0zM14.3 1.5h1.0v1.0h-1.0zM9.5 7.6h1.0v1.0h-1.0zM8.5 2.3h1.0v1.0h-1.0zM3.1 8.0h1.0v1.0h-1.0zM3.5 8.2h1.0v1.0h-1.0zM0.4 1.5h1.0v1.0h-1.0zM11.4 7.6h1.0v1.0h-1.0zM8.2 13.2h1.0v1.0h-1.0zM5.7 1.0h1.0v1.0h-1.0zM12.5 10.6h1.0v1.0h-1.0zM10.5 11.2h1.0v1.0h-1.0zM15.5 6.5h1.0v1.0h-1.0zM12.2 6.6h1.0v1.0h-1.0zM9.2 11.9h1.0v1.0h-1.0zM5.0 1.5h1.0v1.0h-1.0zM7.6 12.9h1.0v1.0h-1.0zM9.4 8.1h1.0v1.0h-1.0zM10.3 3.3h1.0v1.0h-1.0zM2.9 5.8h1.0v1.0h-1.0zM13.1 3.5h1.0v1.0h-1.0zM1.8 1.8h1.0v1.0h-1.0z" fill="#6a60c4" opacity="0.35"/><path d="M0.6 5.0h1.0v1.0h-1.0zM9.2 14.8h1.0v1.0h-1.0zM5.3 6.7h1.0v1.0h-1.0zM4.6 5.5h1.0v1.0h-1.0zM12.4 9.9h1.0v1.0h-1.0zM4.1 1.9h1.0v1.0h-1.0zM12.5 12.7h1.0v1.0h-1.0zM13.3 4.3h1.0v1.0h-1.0zM8.7 16.5h1.0v1.0h-1.0zM9.5 17.0h1.0v1.0h-1.0zM2.7 17.6h1.0v1.0h-1.0zM0.9 7.5h1.0v1.0h-1.0zM0.4 14.6h1.0v1.0h-1.0zM11.0 17.5h1.0v1.0h-1.0zM12.9 17.1h1.0v1.0h-1.0zM8.6 17.8h1.0v1.0h-1.0zM12.0 6.2h1.0v1.0h-1.0zM15.6 6.8h1.0v1.0h-1.0z" fill="#a49ce6" opacity="0.35"/></pattern><clipPath id="bins1"><rect x="578.2" y="13" width="76.7" height="66.2"/></clipPath><clipPath id="bins2"><rect x="578.2" y="85.2" width="76.7" height="66"/></clipPath></defs>
<clipPath id="bclip"><path d="M459.6,71.6 C460,64 460.5,59 462.3,55.1 C465,50 468,47 471.4,44.2 C475,40 479,37 482.4,35.1 C486,33 489,32.4 491.5,32.3 C496,32 499,32.5 502.4,33.2 C505,35 508,37 509.7,38.7 L513.4,40.5 C513.5,34 513.5,30 515.2,27.8 C518,26 521,25 524.3,25 C527,25.5 529.5,27 531.6,27.8 L535.3,28.7 C537,27.5 539,26.5 540.8,26 C545,25 549,24.3 553.5,24.1 L564.5,24.1 L577.3,25 L579,25 L579,141 L577.3,140.9 L560.8,139.1 C555,138 550,137.5 546.2,136.4 C541,134.5 537,133 533.5,131.8 C528,129 524,127 520.7,124.5 C516,121.5 512,119 509.7,117.2 C507.5,113.5 506,111 504.3,109.9 C501,109 498,108.6 495.1,108.1 C490,107 486,106 482.4,104.4 C478,102.5 474.5,101 471.4,99 C467,95.5 464,92 462.3,88 C460.5,83 459.6,77 459.6,71.6Z"/></clipPath>
<path d="M459.6,71.6 C460,64 460.5,59 462.3,55.1 C465,50 468,47 471.4,44.2 C475,40 479,37 482.4,35.1 C486,33 489,32.4 491.5,32.3 C496,32 499,32.5 502.4,33.2 C505,35 508,37 509.7,38.7 L513.4,40.5 C513.5,34 513.5,30 515.2,27.8 C518,26 521,25 524.3,25 C527,25.5 529.5,27 531.6,27.8 L535.3,28.7 C537,27.5 539,26.5 540.8,26 C545,25 549,24.3 553.5,24.1 L564.5,24.1 L577.3,25 L579,25 L579,141 L577.3,140.9 L560.8,139.1 C555,138 550,137.5 546.2,136.4 C541,134.5 537,133 533.5,131.8 C528,129 524,127 520.7,124.5 C516,121.5 512,119 509.7,117.2 C507.5,113.5 506,111 504.3,109.9 C501,109 498,108.6 495.1,108.1 C490,107 486,106 482.4,104.4 C478,102.5 474.5,101 471.4,99 C467,95.5 464,92 462.3,88 C460.5,83 459.6,77 459.6,71.6Z" fill="#efe2f3" stroke="#efe2f3" stroke-width="5" stroke-linejoin="round"/>
<path d="M482,126 C484,134 488,142 496,146 C505,149 520,149 540,148 C555,147 570,146 580,145 L580,152 C565,154 545,156 525,155 C508,154 496,152 489,147 C483,141 480,133 482,126Z" fill="#e6cced"/>
<path d="M486,112 C490,118 494,126 497,135 C499,140 500,143 502,146 L497,146 C494,140 490,132 487,124 C485,119 484,115 486,112Z" fill="#e0c0ea"/>
<path d="M500,147 C515,150 540,150 578,147" stroke="#d6a6e0" stroke-width="1" fill="none"/>
<ellipse cx="491" cy="119.5" rx="6.5" ry="6.5" fill="#8d82cc" opacity="0.9"/>
<path d="M470,36 C474,33 480,31 486,30 M520,22 C526,20 532,21 538,23 M545,21 C552,19 560,19 568,20" stroke="#e2b8e8" stroke-width="1.4" fill="none" opacity="0.8"/>
<path d="M459.6,71.6 C460,64 460.5,59 462.3,55.1 C465,50 468,47 471.4,44.2 C475,40 479,37 482.4,35.1 C486,33 489,32.4 491.5,32.3 C496,32 499,32.5 502.4,33.2 C505,35 508,37 509.7,38.7 L513.4,40.5 C513.5,34 513.5,30 515.2,27.8 C518,26 521,25 524.3,25 C527,25.5 529.5,27 531.6,27.8 L535.3,28.7 C537,27.5 539,26.5 540.8,26 C545,25 549,24.3 553.5,24.1 L564.5,24.1 L577.3,25 L579,25 L579,141 L577.3,140.9 L560.8,139.1 C555,138 550,137.5 546.2,136.4 C541,134.5 537,133 533.5,131.8 C528,129 524,127 520.7,124.5 C516,121.5 512,119 509.7,117.2 C507.5,113.5 506,111 504.3,109.9 C501,109 498,108.6 495.1,108.1 C490,107 486,106 482.4,104.4 C478,102.5 474.5,101 471.4,99 C467,95.5 464,92 462.3,88 C460.5,83 459.6,77 459.6,71.6Z" fill="#857fd4"/>
<g clip-path="url(#bclip)">
<rect x="455" y="20" width="130" height="125" fill="url(#sp_body)"/>
<path d="M513.4,40.5 C513.5,34 513.5,30 515.2,27.8 C518,26 521,25 524.3,25 C527,25.5 529.5,27 531.6,27.8 C531,34 528,40 524,43 C520,44 516,43 513.4,40.5Z" fill="#6e64c4" opacity="0.8"/>
<path d="M514,42.5 C518,44.5 522,45 525,44" stroke="#fff" stroke-width="1.6" fill="none" opacity="0.9"/>
<path d="M563,83 C561,88 560,92 559,96" stroke="#d8a0d8" stroke-width="0.9" fill="none"/>
<path d="M487,82 C487,84 488,86 489,87" stroke="#c898d8" stroke-width="0.7" fill="none"/>
<path d="M476,55 L476,47 M480,55 L480,49" stroke="#6a60c0" stroke-width="0.5" fill="none" opacity="0.6"/>
</g>
<rect x="513" y="59.6" width="14" height="14" stroke="#111" stroke-width="0.6" stroke-dasharray="1.2,0.8" fill="none"/>
<rect x="490" y="69.2" width="14.2" height="14" stroke="#111" stroke-width="0.6" stroke-dasharray="1.2,0.8" fill="none"/>
<path d="M527,73.6 L578.2,79.2 M504,83.2 L578.2,85.2" stroke="#111" stroke-width="0.6" stroke-dasharray="1.2,0.8" fill="none"/>
<path d="M490,83.2 L578.2,151.2 M527,59.6 L578.2,13" stroke="#222" stroke-width="0.5" fill="none"/>
<rect x="578.2" y="13" width="76.7" height="66.2" fill="#a294e2"/>
<g clip-path="url(#bins1)" filter="url(#blur2)"><ellipse cx="590" cy="45" rx="8" ry="6" fill="#d8a0e0" opacity="0.6"/><ellipse cx="625" cy="40" rx="7" ry="8" fill="#3020a0" opacity="0.4"/><ellipse cx="650" cy="25" rx="6" ry="8" fill="#d8a0e0" opacity="0.4"/></g>
<rect x="578.2" y="13" width="76.7" height="66.2" fill="url(#sp_he)"/>
<rect x="578.2" y="13" width="76.7" height="66.2" fill="url(#sp_he2)"/>
<rect x="578.2" y="85.2" width="76.7" height="66" fill="#a898e0"/>
<g filter="url(#blur2)" clip-path="url(#bins2)"><path d="M583,100 C600,110 620,128 652,145" stroke="#d898d8" stroke-width="7" fill="none" opacity="0.6"/><path d="M590,90 C600,96 612,95 625,104" stroke="#d898d8" stroke-width="5" fill="none" opacity="0.5"/></g>
<rect x="578.2" y="85.2" width="76.7" height="66" fill="url(#sp_he)"/>
<rect x="578.2" y="85.2" width="76.7" height="66" fill="url(#sp_he2)"/>
<rect x="578.2" y="13" width="76.7" height="66.2" stroke="#111" stroke-width="0.6" stroke-dasharray="1.2,0.8" fill="none"/>
<rect x="578.2" y="85.2" width="76.7" height="66" stroke="#111" stroke-width="0.6" stroke-dasharray="1.2,0.8" fill="none"/>
<rect x="585.4" y="73" width="17.6" height="1.8" fill="#fff"/>
<text x="585.0" y="70.0" font-size="5.6" text-anchor="start" fill="#fff" >50 µm</text>
<rect x="582" y="144.2" width="17.6" height="1.8" fill="#fff"/>
<text x="582.0" y="141.5" font-size="5.6" text-anchor="start" fill="#fff" >50 µm</text>
<rect x="463.2" y="142.7" width="30.1" height="2.5" fill="#000"/>
<text x="467.8" y="140.0" font-size="6.4" text-anchor="start" fill="#231f20" >5 mm</text>
<defs><clipPath id="cclip"><rect x="80.8" y="85.1" width="341.5" height="260.3"/></clipPath><clipPath id="cmed"><rect x="225" y="106.2" width="197.3" height="182.8"/></clipPath><clipPath id="csml"><rect x="323.3" y="185.7" width="99" height="103.3"/></clipPath><filter id="blur1"><feGaussianBlur stdDeviation="1.2"/></filter><filter id="blur2"><feGaussianBlur stdDeviation="3"/></filter><filter id="blur4"><feGaussianBlur stdDeviation="6"/></filter><pattern id="sp_med" width="41" height="37" patternUnits="userSpaceOnUse"><path d="M24.9 26.7h1.0v1.0h-1.0zM31.8 33.9h1.0v1.0h-1.0zM29.6 33.2h1.0v1.0h-1.0zM1.2 16.8h1.0v1.0h-1.0zM37.7 23.4h1.0v1.0h-1.0zM36.0 4.1h1.0v1.0h-1.0zM18.8 8.9h1.0v1.0h-1.0zM21.8 20.7h1.0v1.0h-1.0zM0.5 7.8h1.0v1.0h-1.0zM11.2 33.0h1.0v1.0h-1.0zM30.6 5.7h1.0v1.0h-1.0zM31.9 5.0h1.0v1.0h-1.0zM24.7 4.6h1.0v1.0h-1.0zM0.1 31.4h1.0v1.0h-1.0zM8.4 7.8h1.0v1.0h-1.0zM39.3 31.4h1.0v1.0h-1.0zM11.6 34.6h1.0v1.0h-1.0zM21.6 24.4h1.0v1.0h-1.0zM8.2 33.9h1.0v1.0h-1.0zM27.6 34.8h1.0v1.0h-1.0zM35.7 10.8h1.0v1.0h-1.0zM14.4 6.0h1.0v1.0h-1.0zM5.8 2.3h1.0v1.0h-1.0zM12.1 21.7h1.0v1.0h-1.0zM0.1 24.4h1.0v1.0h-1.0zM13.5 11.2h1.0v1.0h-1.0zM32.7 17.3h1.0v1.0h-1.0zM12.6 17.3h1.0v1.0h-1.0zM28.2 2.1h1.0v1.0h-1.0zM39.0 0.8h1.0v1.0h-1.0zM30.0 30.4h1.0v1.0h-1.0zM0.7 28.4h1.0v1.0h-1.0zM14.6 20.8h1.0v1.0h-1.0zM0.4 1.7h1.0v1.0h-1.0zM7.2 34.4h1.0v1.0h-1.0zM7.9 27.2h1.0v1.0h-1.0zM37.2 33.9h1.0v1.0h-1.0zM13.8 12.8h1.0v1.0h-1.0zM21.0 27.9h1.0v1.0h-1.0zM4.3 26.9h1.0v1.0h-1.0zM31.9 30.9h1.0v1.0h-1.0zM1.5 34.0h1.0v1.0h-1.0zM3.6 12.3h1.0v1.0h-1.0zM24.4 33.1h1.0v1.0h-1.0zM13.6 33.3h1.0v1.0h-1.0zM21.8 11.2h1.0v1.0h-1.0zM12.7 6.4h1.0v1.0h-1.0zM3.1 5.4h1.0v1.0h-1.0zM27.6 35.9h1.0v1.0h-1.0zM6.5 1.7h1.0v1.0h-1.0zM39.5 19.2h1.0v1.0h-1.0zM16.2 8.5h1.0v1.0h-1.0zM23.8 29.7h1.0v1.0h-1.0zM18.2 15.2h1.0v1.0h-1.0zM2.2 33.0h1.0v1.0h-1.0zM1.3 17.8h1.0v1.0h-1.0zM33.5 4.7h1.0v1.0h-1.0zM29.3 34.2h1.0v1.0h-1.0zM25.2 28.4h1.0v1.0h-1.0zM4.3 15.6h1.0v1.0h-1.0zM6.0 30.4h1.0v1.0h-1.0zM11.8 16.3h1.0v1.0h-1.0zM40.0 30.7h1.0v1.0h-1.0zM39.0 16.3h1.0v1.0h-1.0zM19.5 26.3h1.0v1.0h-1.0zM19.2 10.5h1.0v1.0h-1.0zM16.2 5.3h1.0v1.0h-1.0zM15.1 35.6h1.0v1.0h-1.0zM38.4 22.6h1.0v1.0h-1.0zM20.0 12.2h1.0v1.0h-1.0zM3.6 9.8h1.0v1.0h-1.0zM31.3 31.2h1.0v1.0h-1.0zM14.5 28.3h1.0v1.0h-1.0zM31.0 25.0h1.0v1.0h-1.0zM26.6 27.3h1.0v1.0h-1.0zM14.5 25.4h1.0v1.0h-1.0zM11.2 17.5h1.0v1.0h-1.0zM30.8 24.9h1.0v1.0h-1.0zM11.8 34.0h1.0v1.0h-1.0zM26.0 20.9h1.0v1.0h-1.0z" fill="#1c1040" opacity="0.7"/><path d="M0.5 19.7h1.0v1.0h-1.0zM10.0 24.2h1.0v1.0h-1.0zM18.5 29.4h1.0v1.0h-1.0zM25.9 28.7h1.0v1.0h-1.0zM13.9 23.2h1.0v1.0h-1.0zM29.5 29.8h1.0v1.0h-1.0zM14.0 30.3h1.0v1.0h-1.0zM34.8 24.8h1.0v1.0h-1.0zM39.0 34.4h1.0v1.0h-1.0zM20.7 19.1h1.0v1.0h-1.0zM6.6 30.1h1.0v1.0h-1.0zM37.5 17.2h1.0v1.0h-1.0zM27.7 25.9h1.0v1.0h-1.0zM29.2 6.2h1.0v1.0h-1.0zM31.2 20.9h1.0v1.0h-1.0zM26.6 15.1h1.0v1.0h-1.0zM24.9 27.9h1.0v1.0h-1.0zM25.5 25.9h1.0v1.0h-1.0zM1.1 5.8h1.0v1.0h-1.0zM17.6 23.4h1.0v1.0h-1.0zM8.8 24.7h1.0v1.0h-1.0zM25.2 1.5h1.0v1.0h-1.0zM18.9 8.1h1.0v1.0h-1.0zM2.2 4.8h1.0v1.0h-1.0zM12.7 6.5h1.0v1.0h-1.0zM7.7 1.3h1.0v1.0h-1.0zM18.6 13.7h1.0v1.0h-1.0zM24.5 21.2h1.0v1.0h-1.0zM9.5 32.5h1.0v1.0h-1.0zM0.0 14.6h1.0v1.0h-1.0zM11.1 14.8h1.0v1.0h-1.0zM4.6 29.9h1.0v1.0h-1.0zM15.0 1.3h1.0v1.0h-1.0zM24.5 3.4h1.0v1.0h-1.0zM21.8 12.2h1.0v1.0h-1.0zM23.2 34.5h1.0v1.0h-1.0zM32.7 15.1h1.0v1.0h-1.0zM32.5 23.1h1.0v1.0h-1.0zM14.8 5.1h1.0v1.0h-1.0zM23.8 20.3h1.0v1.0h-1.0zM38.3 34.8h1.0v1.0h-1.0zM24.3 12.6h1.0v1.0h-1.0zM35.7 0.0h1.0v1.0h-1.0zM4.3 20.4h1.0v1.0h-1.0zM24.6 5.1h1.0v1.0h-1.0zM25.2 32.1h1.0v1.0h-1.0zM15.0 15.5h1.0v1.0h-1.0zM9.1 10.5h1.0v1.0h-1.0zM38.9 13.7h1.0v1.0h-1.0zM38.4 32.9h1.0v1.0h-1.0zM23.8 9.4h1.0v1.0h-1.0zM39.2 17.9h1.0v1.0h-1.0zM16.6 11.5h1.0v1.0h-1.0zM39.4 17.7h1.0v1.0h-1.0zM11.5 17.2h1.0v1.0h-1.0zM4.9 22.4h1.0v1.0h-1.0zM17.7 10.6h1.0v1.0h-1.0zM31.3 29.8h1.0v1.0h-1.0zM0.5 19.2h1.0v1.0h-1.0zM11.0 33.7h1.0v1.0h-1.0zM31.3 8.8h1.0v1.0h-1.0zM10.7 5.6h1.0v1.0h-1.0zM39.6 10.6h1.0v1.0h-1.0zM24.3 17.1h1.0v1.0h-1.0zM25.8 21.7h1.0v1.0h-1.0zM29.7 4.3h1.0v1.0h-1.0zM30.4 10.8h1.0v1.0h-1.0zM21.3 12.1h1.0v1.0h-1.0zM11.9 19.1h1.0v1.0h-1.0zM18.6 13.0h1.0v1.0h-1.0zM29.8 21.3h1.0v1.0h-1.0zM1.5 9.1h1.0v1.0h-1.0zM18.2 33.0h1.0v1.0h-1.0zM35.5 19.6h1.0v1.0h-1.0zM0.6 28.0h1.0v1.0h-1.0zM17.1 20.7h1.0v1.0h-1.0zM28.3 22.8h1.0v1.0h-1.0zM19.3 32.8h1.0v1.0h-1.0zM15.4 14.1h1.0v1.0h-1.0zM34.1 7.1h1.0v1.0h-1.0zM11.9 29.9h1.0v1.0h-1.0zM2.6 30.1h1.0v1.0h-1.0zM27.8 15.6h1.0v1.0h-1.0zM11.5 28.1h1.0v1.0h-1.0zM36.4 5.1h1.0v1.0h-1.0zM19.1 19.8h1.0v1.0h-1.0zM19.9 11.9h1.0v1.0h-1.0zM6.1 21.1h1.0v1.0h-1.0zM32.5 2.5h1.0v1.0h-1.0zM9.2 29.5h1.0v1.0h-1.0zM31.7 23.9h1.0v1.0h-1.0zM1.0 26.0h1.0v1.0h-1.0zM39.1 35.9h1.0v1.0h-1.0zM28.0 1.8h1.0v1.0h-1.0zM33.7 7.9h1.0v1.0h-1.0zM25.8 34.3h1.0v1.0h-1.0zM28.5 4.8h1.0v1.0h-1.0zM11.7 33.0h1.0v1.0h-1.0zM6.0 22.0h1.0v1.0h-1.0zM16.6 5.8h1.0v1.0h-1.0zM24.9 1.6h1.0v1.0h-1.0zM4.3 13.7h1.0v1.0h-1.0zM2.9 2.1h1.0v1.0h-1.0zM23.0 26.7h1.0v1.0h-1.0zM35.1 4.8h1.0v1.0h-1.0zM17.3 11.3h1.0v1.0h-1.0zM24.0 17.6h1.0v1.0h-1.0zM37.5 13.5h1.0v1.0h-1.0zM2.2 25.1h1.0v1.0h-1.0zM6.0 22.7h1.0v1.0h-1.0zM20.2 32.8h1.0v1.0h-1.0zM22.2 22.4h1.0v1.0h-1.0zM10.5 19.9h1.0v1.0h-1.0zM10.2 27.0h1.0v1.0h-1.0zM20.7 4.8h1.0v1.0h-1.0zM9.4 13.4h1.0v1.0h-1.0zM29.5 6.5h1.0v1.0h-1.0zM28.5 23.6h1.0v1.0h-1.0zM3.4 24.0h1.0v1.0h-1.0zM3.6 4.5h1.0v1.0h-1.0zM23.8 8.6h1.0v1.0h-1.0zM35.1 17.3h1.0v1.0h-1.0zM12.9 28.7h1.0v1.0h-1.0zM1.2 26.1h1.0v1.0h-1.0zM2.1 5.4h1.0v1.0h-1.0zM38.1 24.5h1.0v1.0h-1.0zM8.9 4.2h1.0v1.0h-1.0zM38.9 23.9h1.0v1.0h-1.0zM32.8 5.0h1.0v1.0h-1.0zM25.0 12.8h1.0v1.0h-1.0zM9.4 12.0h1.0v1.0h-1.0zM24.6 12.6h1.0v1.0h-1.0zM15.4 4.9h1.0v1.0h-1.0zM33.2 23.3h1.0v1.0h-1.0zM32.2 15.6h1.0v1.0h-1.0zM34.1 18.6h1.0v1.0h-1.0zM23.7 20.6h1.0v1.0h-1.0zM29.6 14.2h1.0v1.0h-1.0zM3.9 1.2h1.0v1.0h-1.0zM8.1 1.4h1.0v1.0h-1.0zM35.6 17.3h1.0v1.0h-1.0zM30.4 0.0h1.0v1.0h-1.0zM18.8 32.0h1.0v1.0h-1.0zM24.8 15.4h1.0v1.0h-1.0zM18.6 3.6h1.0v1.0h-1.0zM6.2 5.7h1.0v1.0h-1.0zM15.0 13.9h1.0v1.0h-1.0zM35.2 5.5h1.0v1.0h-1.0zM10.2 10.0h1.0v1.0h-1.0zM6.5 10.3h1.0v1.0h-1.0zM9.4 17.4h1.0v1.0h-1.0zM1.3 33.3h1.0v1.0h-1.0zM14.8 33.8h1.0v1.0h-1.0zM27.5 24.3h1.0v1.0h-1.0zM18.9 34.0h1.0v1.0h-1.0zM4.7 24.1h1.0v1.0h-1.0zM11.6 24.3h1.0v1.0h-1.0zM29.2 5.9h1.0v1.0h-1.0zM8.0 0.9h1.0v1.0h-1.0zM9.2 2.8h1.0v1.0h-1.0zM16.0 35.0h1.0v1.0h-1.0zM14.6 11.2h1.0v1.0h-1.0zM18.7 10.2h1.0v1.0h-1.0zM29.3 25.8h1.0v1.0h-1.0zM6.5 8.7h1.0v1.0h-1.0zM26.9 33.9h1.0v1.0h-1.0zM25.8 15.5h1.0v1.0h-1.0zM39.0 0.2h1.0v1.0h-1.0zM2.4 28.1h1.0v1.0h-1.0zM16.4 1.6h1.0v1.0h-1.0zM21.9 35.6h1.0v1.0h-1.0zM20.8 12.6h1.0v1.0h-1.0zM3.8 2.6h1.0v1.0h-1.0zM36.0 17.7h1.0v1.0h-1.0zM37.4 1.9h1.0v1.0h-1.0zM9.7 1.8h1.0v1.0h-1.0zM15.9 2.2h1.0v1.0h-1.0zM10.2 14.7h1.0v1.0h-1.0zM12.2 1.8h1.0v1.0h-1.0zM1.5 35.0h1.0v1.0h-1.0zM7.2 18.3h1.0v1.0h-1.0zM16.1 19.1h1.0v1.0h-1.0zM3.4 11.3h1.0v1.0h-1.0zM4.3 19.5h1.0v1.0h-1.0zM36.9 21.5h1.0v1.0h-1.0zM34.3 7.7h1.0v1.0h-1.0zM0.7 19.4h1.0v1.0h-1.0zM19.5 20.6h1.0v1.0h-1.0zM15.1 22.5h1.0v1.0h-1.0zM29.0 32.9h1.0v1.0h-1.0z" fill="#cc3ce4" opacity="0.9"/><path d="M12.3 16.2h1.0v1.0h-1.0zM33.1 8.1h1.0v1.0h-1.0zM4.6 11.2h1.0v1.0h-1.0zM3.5 27.8h1.0v1.0h-1.0zM32.8 11.3h1.0v1.0h-1.0zM5.2 3.0h1.0v1.0h-1.0zM9.8 3.0h1.0v1.0h-1.0zM17.1 20.8h1.0v1.0h-1.0zM9.8 2.2h1.0v1.0h-1.0zM28.0 1.7h1.0v1.0h-1.0zM8.0 10.3h1.0v1.0h-1.0zM15.0 3.5h1.0v1.0h-1.0zM16.8 11.3h1.0v1.0h-1.0zM30.1 20.0h1.0v1.0h-1.0zM35.8 23.5h1.0v1.0h-1.0zM30.4 20.7h1.0v1.0h-1.0zM17.7 29.4h1.0v1.0h-1.0zM26.2 34.4h1.0v1.0h-1.0zM29.1 25.2h1.0v1.0h-1.0zM10.7 29.2h1.0v1.0h-1.0zM15.3 4.7h1.0v1.0h-1.0zM2.6 6.1h1.0v1.0h-1.0zM10.5 24.3h1.0v1.0h-1.0zM11.4 2.3h1.0v1.0h-1.0zM30.6 20.1h1.0v1.0h-1.0zM1.1 1.8h1.0v1.0h-1.0zM5.2 12.9h1.0v1.0h-1.0zM34.4 34.2h1.0v1.0h-1.0zM24.5 8.3h1.0v1.0h-1.0zM17.2 13.0h1.0v1.0h-1.0zM13.2 0.4h1.0v1.0h-1.0zM23.4 29.8h1.0v1.0h-1.0zM29.1 3.4h1.0v1.0h-1.0zM21.2 6.2h1.0v1.0h-1.0zM28.4 16.1h1.0v1.0h-1.0zM37.5 28.6h1.0v1.0h-1.0zM4.7 11.4h1.0v1.0h-1.0zM36.6 16.6h1.0v1.0h-1.0zM17.4 15.9h1.0v1.0h-1.0zM30.7 33.7h1.0v1.0h-1.0zM21.3 34.9h1.0v1.0h-1.0zM23.8 3.7h1.0v1.0h-1.0zM32.6 15.1h1.0v1.0h-1.0zM2.1 35.2h1.0v1.0h-1.0zM1.3 20.8h1.0v1.0h-1.0zM19.3 31.7h1.0v1.0h-1.0zM15.7 7.8h1.0v1.0h-1.0zM11.1 7.2h1.0v1.0h-1.0zM22.5 12.9h1.0v1.0h-1.0zM30.0 8.7h1.0v1.0h-1.0zM14.1 8.9h1.0v1.0h-1.0zM39.3 30.2h1.0v1.0h-1.0zM34.0 22.3h1.0v1.0h-1.0zM16.0 5.1h1.0v1.0h-1.0zM33.3 17.6h1.0v1.0h-1.0zM1.5 6.1h1.0v1.0h-1.0zM3.9 25.8h1.0v1.0h-1.0zM36.0 7.2h1.0v1.0h-1.0zM31.9 11.7h1.0v1.0h-1.0zM27.3 31.1h1.0v1.0h-1.0z" fill="#dcd050" opacity="0.85"/><path d="M24.9 28.8h1.0v1.0h-1.0zM15.1 0.4h1.0v1.0h-1.0zM20.5 21.1h1.0v1.0h-1.0zM7.4 14.0h1.0v1.0h-1.0zM12.7 1.0h1.0v1.0h-1.0zM12.5 13.8h1.0v1.0h-1.0zM19.0 25.3h1.0v1.0h-1.0zM16.0 35.4h1.0v1.0h-1.0zM32.6 33.3h1.0v1.0h-1.0zM27.7 24.1h1.0v1.0h-1.0zM21.5 28.8h1.0v1.0h-1.0zM14.5 21.4h1.0v1.0h-1.0zM27.2 18.8h1.0v1.0h-1.0zM11.4 2.8h1.0v1.0h-1.0zM3.5 12.8h1.0v1.0h-1.0zM23.2 27.3h1.0v1.0h-1.0zM28.6 11.0h1.0v1.0h-1.0zM37.2 9.9h1.0v1.0h-1.0zM28.6 2.6h1.0v1.0h-1.0zM30.1 24.1h1.0v1.0h-1.0zM38.3 32.3h1.0v1.0h-1.0zM27.5 30.2h1.0v1.0h-1.0zM29.5 22.0h1.0v1.0h-1.0zM8.3 18.6h1.0v1.0h-1.0zM35.8 8.6h1.0v1.0h-1.0zM39.0 19.6h1.0v1.0h-1.0zM15.7 0.1h1.0v1.0h-1.0zM15.6 6.4h1.0v1.0h-1.0zM26.1 32.4h1.0v1.0h-1.0zM36.4 22.1h1.0v1.0h-1.0zM15.5 3.9h1.0v1.0h-1.0zM27.6 19.9h1.0v1.0h-1.0zM28.6 13.5h1.0v1.0h-1.0zM35.5 7.7h1.0v1.0h-1.0zM12.2 9.6h1.0v1.0h-1.0zM24.9 32.3h1.0v1.0h-1.0zM6.7 22.8h1.0v1.0h-1.0zM30.7 8.1h1.0v1.0h-1.0zM2.5 20.4h1.0v1.0h-1.0zM33.2 31.6h1.0v1.0h-1.0zM29.1 15.0h1.0v1.0h-1.0zM17.0 19.0h1.0v1.0h-1.0zM36.2 10.9h1.0v1.0h-1.0zM11.2 21.8h1.0v1.0h-1.0zM38.7 6.7h1.0v1.0h-1.0z" fill="#b4a8f0" opacity="0.7"/><path d="M1.2 4.2h1.0v1.0h-1.0zM22.5 21.7h1.0v1.0h-1.0zM7.4 6.9h1.0v1.0h-1.0zM23.8 23.3h1.0v1.0h-1.0zM27.6 26.2h1.0v1.0h-1.0zM2.5 17.4h1.0v1.0h-1.0zM33.4 34.5h1.0v1.0h-1.0zM12.7 30.6h1.0v1.0h-1.0zM25.8 33.4h1.0v1.0h-1.0zM9.2 25.1h1.0v1.0h-1.0zM33.6 17.2h1.0v1.0h-1.0zM4.0 7.0h1.0v1.0h-1.0zM6.3 3.3h1.0v1.0h-1.0zM6.1 22.2h1.0v1.0h-1.0z" fill="#b82424" opacity="0.8"/></pattern><pattern id="sp_med2" width="29" height="31" patternUnits="userSpaceOnUse"><path d="M13.0 11.2h0.9v0.9h-0.9zM3.9 26.1h0.9v0.9h-0.9zM0.2 15.1h0.9v0.9h-0.9zM25.2 2.4h0.9v0.9h-0.9zM15.6 18.6h0.9v0.9h-0.9zM1.1 11.4h0.9v0.9h-0.9zM19.8 13.6h0.9v0.9h-0.9zM20.4 4.7h0.9v0.9h-0.9zM6.7 3.3h0.9v0.9h-0.9zM14.2 27.8h0.9v0.9h-0.9zM16.6 23.3h0.9v0.9h-0.9zM10.8 22.5h0.9v0.9h-0.9zM2.9 8.8h0.9v0.9h-0.9zM18.9 21.8h0.9v0.9h-0.9zM11.9 2.6h0.9v0.9h-0.9zM7.5 6.3h0.9v0.9h-0.9zM7.9 24.4h0.9v0.9h-0.9zM5.6 26.7h0.9v0.9h-0.9zM24.7 1.6h0.9v0.9h-0.9zM10.6 14.8h0.9v0.9h-0.9zM0.7 12.8h0.9v0.9h-0.9zM25.5 3.4h0.9v0.9h-0.9zM16.8 3.6h0.9v0.9h-0.9zM16.3 26.9h0.9v0.9h-0.9zM5.7 0.2h0.9v0.9h-0.9zM2.3 16.2h0.9v0.9h-0.9zM0.5 2.6h0.9v0.9h-0.9zM14.0 27.7h0.9v0.9h-0.9zM11.8 12.0h0.9v0.9h-0.9zM17.9 2.8h0.9v0.9h-0.9zM16.3 5.2h0.9v0.9h-0.9zM17.1 28.8h0.9v0.9h-0.9zM1.5 16.7h0.9v0.9h-0.9zM17.0 4.5h0.9v0.9h-0.9zM7.5 29.9h0.9v0.9h-0.9zM28.0 3.7h0.9v0.9h-0.9zM19.8 28.6h0.9v0.9h-0.9zM6.7 18.4h0.9v0.9h-0.9zM1.2 11.0h0.9v0.9h-0.9zM18.9 17.8h0.9v0.9h-0.9z" fill="#d040e8" opacity="0.8"/><path d="M21.7 2.6h1.0v1.0h-1.0zM9.7 25.9h1.0v1.0h-1.0zM16.4 13.5h1.0v1.0h-1.0zM11.3 29.6h1.0v1.0h-1.0zM16.1 0.6h1.0v1.0h-1.0zM22.4 9.9h1.0v1.0h-1.0zM12.1 6.4h1.0v1.0h-1.0zM12.4 9.7h1.0v1.0h-1.0zM2.5 18.9h1.0v1.0h-1.0zM2.9 23.5h1.0v1.0h-1.0zM0.7 23.4h1.0v1.0h-1.0zM22.6 14.9h1.0v1.0h-1.0zM19.9 7.4h1.0v1.0h-1.0zM20.7 12.8h1.0v1.0h-1.0zM6.5 28.9h1.0v1.0h-1.0zM11.2 11.2h1.0v1.0h-1.0zM24.1 11.1h1.0v1.0h-1.0zM18.7 5.1h1.0v1.0h-1.0zM23.6 7.8h1.0v1.0h-1.0zM1.4 29.3h1.0v1.0h-1.0zM4.8 28.4h1.0v1.0h-1.0zM27.6 18.2h1.0v1.0h-1.0zM0.3 1.8h1.0v1.0h-1.0zM5.8 11.7h1.0v1.0h-1.0zM17.1 29.0h1.0v1.0h-1.0zM9.9 4.2h1.0v1.0h-1.0zM15.7 4.1h1.0v1.0h-1.0zM2.4 16.7h1.0v1.0h-1.0zM19.5 2.0h1.0v1.0h-1.0zM12.6 21.1h1.0v1.0h-1.0zM21.4 11.5h1.0v1.0h-1.0zM24.8 5.1h1.0v1.0h-1.0zM20.0 23.2h1.0v1.0h-1.0zM24.6 14.8h1.0v1.0h-1.0zM2.8 1.5h1.0v1.0h-1.0zM14.8 5.2h1.0v1.0h-1.0zM17.6 2.5h1.0v1.0h-1.0zM21.8 6.7h1.0v1.0h-1.0zM0.4 5.3h1.0v1.0h-1.0zM12.8 16.8h1.0v1.0h-1.0z" fill="#2a1c70" opacity="0.6"/></pattern><pattern id="sp_tis" width="33" height="29" patternUnits="userSpaceOnUse"><path d="M8.3 19.2h1.0v1.0h-1.0zM21.9 23.8h1.0v1.0h-1.0zM5.9 6.5h1.0v1.0h-1.0zM4.7 6.3h1.0v1.0h-1.0zM23.5 3.6h1.0v1.0h-1.0zM17.0 6.0h1.0v1.0h-1.0zM9.4 12.1h1.0v1.0h-1.0zM26.8 17.0h1.0v1.0h-1.0zM0.5 7.7h1.0v1.0h-1.0zM4.7 24.4h1.0v1.0h-1.0zM25.9 22.6h1.0v1.0h-1.0zM26.4 20.9h1.0v1.0h-1.0zM30.4 22.2h1.0v1.0h-1.0zM8.2 23.8h1.0v1.0h-1.0zM15.6 21.1h1.0v1.0h-1.0zM18.1 12.0h1.0v1.0h-1.0zM11.7 12.0h1.0v1.0h-1.0zM10.0 3.3h1.0v1.0h-1.0zM26.2 22.4h1.0v1.0h-1.0zM31.5 19.3h1.0v1.0h-1.0zM17.7 21.0h1.0v1.0h-1.0zM4.3 19.0h1.0v1.0h-1.0zM14.2 4.9h1.0v1.0h-1.0zM6.5 14.6h1.0v1.0h-1.0zM8.1 12.9h1.0v1.0h-1.0zM19.4 11.1h1.0v1.0h-1.0zM4.2 13.7h1.0v1.0h-1.0zM7.5 6.6h1.0v1.0h-1.0zM6.2 10.3h1.0v1.0h-1.0zM2.3 18.2h1.0v1.0h-1.0zM30.5 10.9h1.0v1.0h-1.0zM23.0 26.1h1.0v1.0h-1.0zM1.4 4.0h1.0v1.0h-1.0zM25.8 23.5h1.0v1.0h-1.0zM20.4 4.5h1.0v1.0h-1.0zM13.2 24.3h1.0v1.0h-1.0zM28.4 22.5h1.0v1.0h-1.0zM6.5 23.9h1.0v1.0h-1.0zM12.0 20.1h1.0v1.0h-1.0zM4.4 27.2h1.0v1.0h-1.0zM19.3 20.2h1.0v1.0h-1.0zM6.8 17.3h1.0v1.0h-1.0zM18.6 16.6h1.0v1.0h-1.0zM11.5 20.4h1.0v1.0h-1.0zM10.9 8.3h1.0v1.0h-1.0zM5.3 19.2h1.0v1.0h-1.0zM3.6 6.3h1.0v1.0h-1.0zM2.2 18.0h1.0v1.0h-1.0zM17.8 15.2h1.0v1.0h-1.0zM1.2 12.3h1.0v1.0h-1.0zM11.0 2.6h1.0v1.0h-1.0zM0.1 27.9h1.0v1.0h-1.0zM3.9 8.4h1.0v1.0h-1.0zM8.6 16.7h1.0v1.0h-1.0zM2.5 13.2h1.0v1.0h-1.0zM11.7 23.4h1.0v1.0h-1.0zM0.2 9.4h1.0v1.0h-1.0zM15.9 27.2h1.0v1.0h-1.0zM16.5 13.3h1.0v1.0h-1.0zM21.4 8.3h1.0v1.0h-1.0zM1.0 14.0h1.0v1.0h-1.0zM29.1 20.7h1.0v1.0h-1.0zM8.3 19.2h1.0v1.0h-1.0zM27.2 7.2h1.0v1.0h-1.0zM18.8 10.0h1.0v1.0h-1.0zM7.8 8.0h1.0v1.0h-1.0zM6.5 9.8h1.0v1.0h-1.0zM1.2 11.1h1.0v1.0h-1.0zM2.8 21.2h1.0v1.0h-1.0zM19.2 0.1h1.0v1.0h-1.0z" fill="#5c5850" opacity="0.45"/><path d="M24.8 5.3h1.0v1.0h-1.0zM15.4 15.5h1.0v1.0h-1.0zM10.7 8.1h1.0v1.0h-1.0zM13.9 3.8h1.0v1.0h-1.0zM27.6 3.1h1.0v1.0h-1.0zM26.4 6.1h1.0v1.0h-1.0zM9.7 10.9h1.0v1.0h-1.0zM1.1 3.6h1.0v1.0h-1.0zM11.6 12.4h1.0v1.0h-1.0zM28.0 27.7h1.0v1.0h-1.0zM1.4 15.0h1.0v1.0h-1.0zM4.1 22.5h1.0v1.0h-1.0zM10.3 25.0h1.0v1.0h-1.0zM17.5 3.5h1.0v1.0h-1.0zM0.2 6.9h1.0v1.0h-1.0zM27.8 4.2h1.0v1.0h-1.0zM15.3 10.4h1.0v1.0h-1.0zM11.0 22.4h1.0v1.0h-1.0zM6.8 20.1h1.0v1.0h-1.0zM21.3 26.2h1.0v1.0h-1.0zM16.6 25.8h1.0v1.0h-1.0zM14.1 16.1h1.0v1.0h-1.0zM19.9 23.5h1.0v1.0h-1.0zM28.7 3.2h1.0v1.0h-1.0zM4.4 14.9h1.0v1.0h-1.0zM26.0 14.9h1.0v1.0h-1.0zM9.6 26.9h1.0v1.0h-1.0zM9.5 2.4h1.0v1.0h-1.0zM1.7 0.9h1.0v1.0h-1.0zM23.3 3.0h1.0v1.0h-1.0zM22.9 24.3h1.0v1.0h-1.0zM32.0 22.7h1.0v1.0h-1.0zM13.6 17.4h1.0v1.0h-1.0zM26.7 20.0h1.0v1.0h-1.0zM9.3 21.3h1.0v1.0h-1.0zM3.5 8.6h1.0v1.0h-1.0zM31.9 13.2h1.0v1.0h-1.0zM8.6 22.0h1.0v1.0h-1.0zM14.4 0.1h1.0v1.0h-1.0zM0.9 7.3h1.0v1.0h-1.0zM10.6 26.2h1.0v1.0h-1.0zM7.9 23.8h1.0v1.0h-1.0zM27.3 11.7h1.0v1.0h-1.0zM31.8 21.3h1.0v1.0h-1.0zM15.5 7.3h1.0v1.0h-1.0zM14.8 25.3h1.0v1.0h-1.0zM17.2 5.4h1.0v1.0h-1.0zM12.0 13.3h1.0v1.0h-1.0zM6.1 16.0h1.0v1.0h-1.0zM1.1 23.0h1.0v1.0h-1.0zM5.7 2.9h1.0v1.0h-1.0zM18.8 8.6h1.0v1.0h-1.0zM28.3 13.9h1.0v1.0h-1.0zM16.7 23.4h1.0v1.0h-1.0zM6.9 20.9h1.0v1.0h-1.0zM20.8 12.0h1.0v1.0h-1.0zM30.7 0.6h1.0v1.0h-1.0zM27.6 4.0h1.0v1.0h-1.0zM26.9 4.3h1.0v1.0h-1.0zM1.7 14.0h1.0v1.0h-1.0z" fill="#1c1a16" opacity="0.45"/><path d="M29.6 7.2h1.0v1.0h-1.0zM15.6 17.0h1.0v1.0h-1.0zM7.8 14.8h1.0v1.0h-1.0zM0.3 12.6h1.0v1.0h-1.0zM24.3 9.5h1.0v1.0h-1.0zM7.1 1.4h1.0v1.0h-1.0zM22.4 12.0h1.0v1.0h-1.0zM29.3 20.7h1.0v1.0h-1.0zM3.2 25.6h1.0v1.0h-1.0zM29.8 22.9h1.0v1.0h-1.0z" fill="#6a3a30" opacity="0.5"/><path d="M26.6 19.1h1.0v1.0h-1.0zM23.1 18.7h1.0v1.0h-1.0zM18.9 7.2h1.0v1.0h-1.0zM4.3 20.3h1.0v1.0h-1.0zM19.1 1.6h1.0v1.0h-1.0zM20.5 17.1h1.0v1.0h-1.0z" fill="#505a30" opacity="0.5"/></pattern><pattern id="sp_sml" width="23" height="27" patternUnits="userSpaceOnUse"><path d="M11.4 20.8h1.2v1.2h-1.2zM20.9 7.5h1.2v1.2h-1.2zM16.7 18.2h1.2v1.2h-1.2zM14.4 2.8h1.2v1.2h-1.2zM0.6 9.9h1.2v1.2h-1.2zM16.3 6.5h1.2v1.2h-1.2zM10.9 8.2h1.2v1.2h-1.2zM18.4 24.4h1.2v1.2h-1.2zM8.8 25.8h1.2v1.2h-1.2zM1.4 21.0h1.2v1.2h-1.2zM19.1 3.9h1.2v1.2h-1.2zM15.4 14.4h1.2v1.2h-1.2zM20.8 5.4h1.2v1.2h-1.2zM11.8 22.8h1.2v1.2h-1.2zM13.9 8.0h1.2v1.2h-1.2zM1.8 24.2h1.2v1.2h-1.2zM10.3 25.7h1.2v1.2h-1.2zM3.1 21.0h1.2v1.2h-1.2zM17.7 23.7h1.2v1.2h-1.2zM0.4 9.6h1.2v1.2h-1.2zM1.1 19.4h1.2v1.2h-1.2zM7.7 24.8h1.2v1.2h-1.2zM8.2 20.0h1.2v1.2h-1.2zM18.9 6.2h1.2v1.2h-1.2zM12.1 24.7h1.2v1.2h-1.2zM11.5 9.3h1.2v1.2h-1.2zM5.8 20.3h1.2v1.2h-1.2zM4.2 15.6h1.2v1.2h-1.2zM12.1 14.3h1.2v1.2h-1.2zM2.8 17.0h1.2v1.2h-1.2zM20.0 8.2h1.2v1.2h-1.2zM7.2 23.5h1.2v1.2h-1.2zM12.6 7.0h1.2v1.2h-1.2zM0.2 19.4h1.2v1.2h-1.2zM7.6 12.1h1.2v1.2h-1.2zM5.9 16.3h1.2v1.2h-1.2zM15.9 8.0h1.2v1.2h-1.2zM1.6 25.5h1.2v1.2h-1.2zM19.8 0.5h1.2v1.2h-1.2zM12.3 17.7h1.2v1.2h-1.2zM8.8 18.9h1.2v1.2h-1.2zM20.9 15.2h1.2v1.2h-1.2zM8.5 5.0h1.2v1.2h-1.2zM5.5 3.9h1.2v1.2h-1.2zM2.4 5.5h1.2v1.2h-1.2zM18.4 13.9h1.2v1.2h-1.2zM17.5 23.7h1.2v1.2h-1.2zM17.7 1.3h1.2v1.2h-1.2zM20.2 2.4h1.2v1.2h-1.2zM16.8 21.6h1.2v1.2h-1.2zM14.3 10.4h1.2v1.2h-1.2zM1.6 2.2h1.2v1.2h-1.2zM13.9 6.2h1.2v1.2h-1.2zM11.6 6.8h1.2v1.2h-1.2zM3.6 7.6h1.2v1.2h-1.2zM15.8 12.6h1.2v1.2h-1.2zM8.6 12.6h1.2v1.2h-1.2zM12.1 13.3h1.2v1.2h-1.2zM9.7 25.0h1.2v1.2h-1.2zM16.4 5.9h1.2v1.2h-1.2zM6.9 4.9h1.2v1.2h-1.2zM7.9 0.7h1.2v1.2h-1.2zM16.2 14.7h1.2v1.2h-1.2zM9.2 23.1h1.2v1.2h-1.2zM7.2 14.9h1.2v1.2h-1.2zM20.3 14.3h1.2v1.2h-1.2zM13.4 9.5h1.2v1.2h-1.2zM21.8 19.5h1.2v1.2h-1.2zM6.6 9.2h1.2v1.2h-1.2zM12.9 13.4h1.2v1.2h-1.2z" fill="#101040" opacity="0.6"/><path d="M11.5 5.0h1.1v1.1h-1.1zM12.6 18.2h1.1v1.1h-1.1zM16.8 11.6h1.1v1.1h-1.1zM9.8 13.1h1.1v1.1h-1.1zM11.7 12.3h1.1v1.1h-1.1zM0.3 6.8h1.1v1.1h-1.1zM21.6 21.4h1.1v1.1h-1.1zM10.2 19.5h1.1v1.1h-1.1zM4.6 6.9h1.1v1.1h-1.1zM11.3 18.1h1.1v1.1h-1.1zM0.6 12.2h1.1v1.1h-1.1zM19.8 15.9h1.1v1.1h-1.1zM21.7 2.6h1.1v1.1h-1.1zM19.9 21.7h1.1v1.1h-1.1zM0.6 13.9h1.1v1.1h-1.1zM16.6 5.8h1.1v1.1h-1.1zM14.2 22.0h1.1v1.1h-1.1zM17.4 11.1h1.1v1.1h-1.1zM1.3 14.0h1.1v1.1h-1.1zM4.1 14.0h1.1v1.1h-1.1zM5.9 9.0h1.1v1.1h-1.1zM11.9 21.2h1.1v1.1h-1.1zM21.4 10.5h1.1v1.1h-1.1zM0.2 19.4h1.1v1.1h-1.1zM7.4 19.6h1.1v1.1h-1.1zM18.2 0.9h1.1v1.1h-1.1zM16.0 7.4h1.1v1.1h-1.1zM7.0 8.7h1.1v1.1h-1.1zM11.8 6.3h1.1v1.1h-1.1zM10.8 7.3h1.1v1.1h-1.1zM2.7 6.5h1.1v1.1h-1.1zM14.9 8.0h1.1v1.1h-1.1zM4.4 9.5h1.1v1.1h-1.1zM4.7 25.5h1.1v1.1h-1.1zM17.2 3.9h1.1v1.1h-1.1zM6.4 11.3h1.1v1.1h-1.1zM11.6 10.1h1.1v1.1h-1.1zM11.5 19.7h1.1v1.1h-1.1zM3.4 14.5h1.1v1.1h-1.1zM3.6 13.9h1.1v1.1h-1.1zM6.9 20.8h1.1v1.1h-1.1zM19.3 24.8h1.1v1.1h-1.1zM8.9 16.0h1.1v1.1h-1.1zM3.7 18.4h1.1v1.1h-1.1zM17.0 11.1h1.1v1.1h-1.1zM7.0 19.6h1.1v1.1h-1.1zM16.4 20.7h1.1v1.1h-1.1zM6.3 6.3h1.1v1.1h-1.1zM5.5 4.9h1.1v1.1h-1.1zM0.2 3.2h1.1v1.1h-1.1zM10.8 11.2h1.1v1.1h-1.1zM19.5 9.8h1.1v1.1h-1.1zM3.7 24.1h1.1v1.1h-1.1zM1.6 8.8h1.1v1.1h-1.1zM16.7 8.3h1.1v1.1h-1.1zM21.1 19.3h1.1v1.1h-1.1zM6.8 22.4h1.1v1.1h-1.1zM20.2 13.3h1.1v1.1h-1.1zM3.1 2.7h1.1v1.1h-1.1zM17.9 23.0h1.1v1.1h-1.1zM14.3 20.0h1.1v1.1h-1.1zM17.4 6.1h1.1v1.1h-1.1zM4.7 22.5h1.1v1.1h-1.1zM18.4 11.3h1.1v1.1h-1.1zM5.9 2.0h1.1v1.1h-1.1zM8.9 23.5h1.1v1.1h-1.1zM4.5 8.2h1.1v1.1h-1.1zM0.8 14.7h1.1v1.1h-1.1zM1.3 17.5h1.1v1.1h-1.1zM10.8 11.0h1.1v1.1h-1.1zM5.7 7.8h1.1v1.1h-1.1zM19.6 24.4h1.1v1.1h-1.1zM16.5 5.5h1.1v1.1h-1.1zM4.6 9.4h1.1v1.1h-1.1zM19.2 24.4h1.1v1.1h-1.1zM5.0 16.4h1.1v1.1h-1.1zM8.3 11.8h1.1v1.1h-1.1zM4.3 18.7h1.1v1.1h-1.1zM17.1 24.3h1.1v1.1h-1.1zM10.6 11.4h1.1v1.1h-1.1z" fill="#3434f0" opacity="0.7"/></pattern></defs>
<rect x="80.8" y="85.1" width="341.5" height="260.3" fill="#000"/>
<g clip-path="url(#cclip)">
<clipPath id="tclip"><path d="M143.2,130.5 C135,131 127,133.5 122.1,136.8 C115,141 110,146 107.4,151.6 C104,157 102.5,162 101.1,166.3 C98,172 96,176 94.7,181 C92,188 91,194 90.5,200 C89.7,207 89.4,213 89.5,219 C90,226 91,232 92.6,237.9 C96,246 99,251 103.2,254.7 C108,260 113,264 117.9,267.4 C123,271 129,274 134.7,275.8 C140,278 145,279 149.5,280 L164.2,282.1 L180,284.2 L177.3,294.9 L189.5,297.9 L207.7,301 L222.9,304 L250,307 L265.7,322.7 L269,334.2 L285.4,326 L315,319.4 L347.8,312.9 L370.8,299.7 L397,291.5 L425,289.9 L425,106 L341.3,103 L331.4,94.9 L308.4,91.6 L282,90.9 L232.8,94.9 L223,103.2 L210.8,97.2 L195.6,103.2 L183.4,115.4 L180.4,127.6 L177.3,136.7 C172,134 166,132.5 160,132.6 Z"/></clipPath>
<path d="M143.2,130.5 C135,131 127,133.5 122.1,136.8 C115,141 110,146 107.4,151.6 C104,157 102.5,162 101.1,166.3 C98,172 96,176 94.7,181 C92,188 91,194 90.5,200 C89.7,207 89.4,213 89.5,219 C90,226 91,232 92.6,237.9 C96,246 99,251 103.2,254.7 C108,260 113,264 117.9,267.4 C123,271 129,274 134.7,275.8 C140,278 145,279 149.5,280 L164.2,282.1 L180,284.2 L177.3,294.9 L189.5,297.9 L207.7,301 L222.9,304 L250,307 L265.7,322.7 L269,334.2 L285.4,326 L315,319.4 L347.8,312.9 L370.8,299.7 L397,291.5 L425,289.9 L425,106 L341.3,103 L331.4,94.9 L308.4,91.6 L282,90.9 L232.8,94.9 L223,103.2 L210.8,97.2 L195.6,103.2 L183.4,115.4 L180.4,127.6 L177.3,136.7 C172,134 166,132.5 160,132.6 Z" fill="#39352c" stroke="#5e5a52" stroke-width="1.0"/>
<path d="M100,150 C110,138 125,130 143,127" stroke="#55524d" stroke-width="0.8" fill="none"/>
<g filter="url(#blur1)"><ellipse cx="95" cy="180" rx="3" ry="12" fill="#4a3c70" opacity="0.8"/></g>
<g clip-path="url(#tclip)">
<g filter="url(#blur4)"><ellipse cx="118" cy="150" rx="22" ry="12" fill="#3a3833" opacity="0.8"/><ellipse cx="190" cy="150" rx="30" ry="14" fill="#3c3636" opacity="0.7"/><ellipse cx="108" cy="215" rx="14" ry="40" fill="#3e3a30" opacity="0.6"/><ellipse cx="160" cy="168" rx="22" ry="9" fill="#3e3650" opacity="0.7"/><ellipse cx="160" cy="272" rx="35" ry="8" fill="#3e3b36" opacity="0.6"/><ellipse cx="300" cy="305" rx="60" ry="10" fill="#443f3a" opacity="0.6"/></g>
<path d="M183.4,115.4 C190,104 200,98 210.8,97.2 C218,98 223,103 225,106 L225,135 C215,140 200,140 185,134 Z" fill="#45423c" filter="url(#blur1)"/>
<path d="M176,138 C185,135 200,137 226,139" stroke="#151412" stroke-width="2.2" fill="none" filter="url(#blur1)"/>
<path d="M147,180 C160,177 175,177 190,171 C200,163 215,158 226,160 L226,252 C200,256 175,254 150,252 C140,251 136,246 135.5,235 C134.5,222 135,212 137,200 C139,190 142,184 147,180Z" fill="#47398c" opacity="0.88" filter="url(#blur2)"/>
<ellipse cx="214" cy="205" rx="14" ry="40" fill="#5a4cc0" opacity="0.55" filter="url(#blur4)"/>
<rect x="80" y="85" width="345" height="260" fill="url(#sp_tis)"/>
<rect x="224" y="85" width="201" height="260" fill="#262626" opacity="0.3"/>
<g filter="url(#blur1)"><ellipse cx="145" cy="224.4" rx="3.5" ry="3.1" fill="#d8c460" opacity="0.9"/><ellipse cx="149.4" cy="237.8" rx="2.9" ry="2.6" fill="#d8c460" opacity="0.9"/><ellipse cx="158.3" cy="226.7" rx="2.6" ry="2.3" fill="#d8c460" opacity="0.9"/><ellipse cx="165" cy="237.8" rx="2.9" ry="2.6" fill="#d8c460" opacity="0.9"/><ellipse cx="178.3" cy="193.3" rx="2.9" ry="2.6" fill="#d8c460" opacity="0.9"/><ellipse cx="191.7" cy="213.3" rx="2.3" ry="2.1" fill="#d8c460" opacity="0.9"/><ellipse cx="190.6" cy="224.4" rx="2.6" ry="2.3" fill="#d8c460" opacity="0.9"/><ellipse cx="207.2" cy="218.9" rx="2.9" ry="2.6" fill="#d8c460" opacity="0.9"/><ellipse cx="218.3" cy="224.4" rx="3.2" ry="2.9" fill="#d8c460" opacity="0.9"/><ellipse cx="209.4" cy="197.8" rx="2.9" ry="2.6" fill="#d8c460" opacity="0.9"/><ellipse cx="187.2" cy="243.3" rx="2.6" ry="2.3" fill="#d8c460" opacity="0.9"/><ellipse cx="151.7" cy="202.2" rx="2.5" ry="2.2" fill="#d8c460" opacity="0.9"/><ellipse cx="138.3" cy="241.1" rx="2.6" ry="2.3" fill="#d8c460" opacity="0.9"/><ellipse cx="196" cy="162.2" rx="2.3" ry="2.1" fill="#d8c460" opacity="0.9"/><ellipse cx="170.6" cy="171.1" rx="2.3" ry="2.1" fill="#d8c460" opacity="0.9"/><ellipse cx="151.7" cy="171.1" rx="2.2" ry="2.0" fill="#d8c460" opacity="0.9"/><ellipse cx="218.3" cy="180" rx="2.6" ry="2.3" fill="#d8c460" opacity="0.9"/><ellipse cx="222.8" cy="213.3" rx="2.3" ry="2.1" fill="#d8c460" opacity="0.9"/><ellipse cx="216" cy="253.3" rx="2.5" ry="2.2" fill="#d8c460" opacity="0.9"/><ellipse cx="142" cy="210" rx="2.2" ry="2.0" fill="#d8c460" opacity="0.9"/><ellipse cx="172" cy="205" rx="2.0" ry="1.8" fill="#d8c460" opacity="0.9"/><ellipse cx="200" cy="236" rx="2.2" ry="2.0" fill="#d8c460" opacity="0.9"/><ellipse cx="130" cy="228" rx="2.0" ry="1.8" fill="#d8c460" opacity="0.9"/><ellipse cx="183" cy="180" rx="1.9" ry="1.7" fill="#d8c460" opacity="0.9"/><ellipse cx="160" cy="188" rx="1.9" ry="1.7" fill="#d8c460" opacity="0.9"/></g>
<ellipse cx="291.8" cy="295.5" rx="2" ry="1.6" fill="#8a6a70" opacity="0.5"/>
<ellipse cx="344.1" cy="293.7" rx="2" ry="1.6" fill="#8a6a70" opacity="0.5"/>
<ellipse cx="325.7" cy="300.4" rx="2" ry="1.6" fill="#8a6a70" opacity="0.5"/>
<ellipse cx="249.3" cy="303.7" rx="2" ry="1.6" fill="#8a6a70" opacity="0.5"/>
<ellipse cx="246.0" cy="302.0" rx="2" ry="1.6" fill="#8a6a70" opacity="0.5"/>
<ellipse cx="251.2" cy="294.1" rx="2" ry="1.6" fill="#8a6a70" opacity="0.5"/>
<ellipse cx="307.9" cy="311.0" rx="2" ry="1.6" fill="#8a6a70" opacity="0.5"/>
<ellipse cx="259.8" cy="297.1" rx="2" ry="1.6" fill="#8a6a70" opacity="0.5"/>
<ellipse cx="340.4" cy="313.8" rx="2" ry="1.6" fill="#8a6a70" opacity="0.5"/>
<ellipse cx="332.3" cy="301.1" rx="2" ry="1.6" fill="#8a6a70" opacity="0.5"/>
<ellipse cx="396.2" cy="293.1" rx="2" ry="1.6" fill="#8a6a70" opacity="0.5"/>
<ellipse cx="377.4" cy="298.7" rx="2" ry="1.6" fill="#8a6a70" opacity="0.5"/>
</g>
</g>
<g clip-path="url(#cmed)">
<rect x="225" y="106.2" width="197.3" height="182.8" fill="#4c38b8"/>
<g filter="url(#blur4)"><path d="M330,195 C340,185 350,178 362,172 C380,160 395,140 410,118 L425,104 L425,125 C410,145 395,165 375,180 C360,190 345,198 335,202Z" fill="#b0a0a8" opacity="0.55"/><ellipse cx="300" cy="228" rx="22" ry="26" fill="#9a90d0" opacity="0.45"/><ellipse cx="234" cy="218" rx="10" ry="22" fill="#120c20" opacity="0.8"/><ellipse cx="250" cy="205" rx="10" ry="10" fill="#201040" opacity="0.6"/><ellipse cx="242" cy="262" rx="9" ry="9" fill="#2a1a40" opacity="0.5"/></g>
<g filter="url(#blur2)"><ellipse cx="415" cy="110" rx="10" ry="6" fill="#d8c860" opacity="0.8"/><ellipse cx="421" cy="155" rx="5" ry="14" fill="#c8b868" opacity="0.6"/><ellipse cx="336" cy="178" rx="11" ry="7" fill="#c8b860" opacity="0.6"/></g>
<rect x="225" y="106" width="198" height="184" fill="url(#sp_med)"/>
<rect x="225" y="106" width="198" height="184" fill="url(#sp_med2)"/>
<path d="M259,122 C262,118 267,114 272,111 C273,112 271,116 267,119 C264,121 262,123 259,124Z" fill="#c81818" stroke="#e85020" stroke-width="0.5"/>
<line x1="236" y1="180" x2="241" y2="176" stroke="#b81c1c" stroke-width="0.9" stroke-linecap="round"/>
<line x1="290" y1="205" x2="295" y2="199" stroke="#b81c1c" stroke-width="0.9" stroke-linecap="round"/>
<line x1="300" y1="216" x2="305" y2="211" stroke="#b81c1c" stroke-width="0.8" stroke-linecap="round"/>
<line x1="335" y1="160" x2="339" y2="151" stroke="#b81c1c" stroke-width="0.8" stroke-linecap="round"/>
<line x1="370" y1="140" x2="376" y2="133" stroke="#b81c1c" stroke-width="0.8" stroke-linecap="round"/>
<line x1="255" y1="150" x2="260" y2="146" stroke="#b81c1c" stroke-width="0.8" stroke-linecap="round"/>
<line x1="230" y1="255" x2="234" y2="250" stroke="#b81c1c" stroke-width="0.8" stroke-linecap="round"/>
<line x1="395" y1="120" x2="399" y2="113" stroke="#b81c1c" stroke-width="0.8" stroke-linecap="round"/>
<line x1="320" y1="118" x2="323" y2="109" stroke="#b81c1c" stroke-width="0.8" stroke-linecap="round"/>
<line x1="272" y1="165" x2="276" y2="159" stroke="#b81c1c" stroke-width="0.7" stroke-linecap="round"/>
<line x1="350" y1="132" x2="356" y2="128" stroke="#b81c1c" stroke-width="0.7" stroke-linecap="round"/>
<line x1="385" y1="168" x2="389" y2="162" stroke="#b81c1c" stroke-width="0.7" stroke-linecap="round"/>
<line x1="290" y1="250" x2="294" y2="245" stroke="#b81c1c" stroke-width="0.7" stroke-linecap="round"/>
<line x1="265" y1="275" x2="270" y2="271" stroke="#b81c1c" stroke-width="0.7" stroke-linecap="round"/>
<line x1="310" y1="180" x2="313" y2="174" stroke="#b81c1c" stroke-width="0.7" stroke-linecap="round"/>
<line x1="245" y1="232" x2="252" y2="225" stroke="#b81c1c" stroke-width="1.2" stroke-linecap="round"/>
</g>
<g clip-path="url(#csml)">
<rect x="323.3" y="185.7" width="99" height="103.3" fill="#2222a8"/>
<rect x="323" y="185" width="100" height="105" fill="url(#sp_sml)"/>
<g filter="url(#blur2)"><ellipse cx="327" cy="245" rx="5" ry="18" fill="#0c0c18" opacity="0.8"/><ellipse cx="393" cy="286" rx="6" ry="4" fill="#0c0c18" opacity="0.8"/><ellipse cx="372" cy="222" rx="18" ry="6" fill="#181860" opacity="0.5"/></g>
<path d="M333.5,227.4a1.0,1.0 0 1,0 0.01,0zM325.3,195.5a1.0,1.0 0 1,0 0.01,0zM382.9,219.9a1.0,1.0 0 1,0 0.01,0zM363.4,196.2a1.0,1.0 0 1,0 0.01,0zM410.6,254.1a1.0,1.0 0 1,0 0.01,0zM371.6,240.3a1.0,1.0 0 1,0 0.01,0zM342.4,245.7a1.0,1.0 0 1,0 0.01,0zM397.7,204.7a1.0,1.0 0 1,0 0.01,0zM338.7,237.6a1.0,1.0 0 1,0 0.01,0zM337.8,227.7a1.0,1.0 0 1,0 0.01,0zM350.9,190.7a1.0,1.0 0 1,0 0.01,0zM357.9,269.3a1.0,1.0 0 1,0 0.01,0zM378.0,207.2a1.0,1.0 0 1,0 0.01,0zM330.1,195.6a1.0,1.0 0 1,0 0.01,0zM421.1,263.7a1.0,1.0 0 1,0 0.01,0zM383.4,241.8a1.0,1.0 0 1,0 0.01,0zM407.6,197.3a1.0,1.0 0 1,0 0.01,0zM400.6,270.6a1.0,1.0 0 1,0 0.01,0zM353.7,260.5a1.0,1.0 0 1,0 0.01,0zM356.1,253.6a1.0,1.0 0 1,0 0.01,0zM349.4,206.1a1.0,1.0 0 1,0 0.01,0zM420.5,207.6a1.0,1.0 0 1,0 0.01,0zM348.2,212.3a1.0,1.0 0 1,0 0.01,0zM374.1,206.1a1.0,1.0 0 1,0 0.01,0zM329.2,222.1a1.0,1.0 0 1,0 0.01,0zM369.4,187.1a1.0,1.0 0 1,0 0.01,0zM420.6,197.6a1.0,1.0 0 1,0 0.01,0zM374.8,284.5a1.0,1.0 0 1,0 0.01,0zM401.9,276.6a1.0,1.0 0 1,0 0.01,0zM416.8,254.9a1.0,1.0 0 1,0 0.01,0zM378.5,244.0a1.0,1.0 0 1,0 0.01,0zM352.4,281.8a1.0,1.0 0 1,0 0.01,0zM370.4,258.6a1.0,1.0 0 1,0 0.01,0zM343.1,194.7a1.0,1.0 0 1,0 0.01,0zM378.5,286.1a1.0,1.0 0 1,0 0.01,0zM366.6,211.8a1.0,1.0 0 1,0 0.01,0zM364.6,286.0a1.0,1.0 0 1,0 0.01,0zM347.0,227.8a1.0,1.0 0 1,0 0.01,0zM392.3,211.6a1.0,1.0 0 1,0 0.01,0zM370.7,207.4a1.0,1.0 0 1,0 0.01,0zM404.2,195.8a1.0,1.0 0 1,0 0.01,0zM338.1,227.6a1.0,1.0 0 1,0 0.01,0zM398.7,266.9a1.0,1.0 0 1,0 0.01,0zM415.2,229.9a1.0,1.0 0 1,0 0.01,0zM335.6,238.5a1.0,1.0 0 1,0 0.01,0zM397.6,233.6a1.0,1.0 0 1,0 0.01,0zM390.9,233.9a1.0,1.0 0 1,0 0.01,0zM375.9,279.2a1.0,1.0 0 1,0 0.01,0zM362.7,239.6a1.0,1.0 0 1,0 0.01,0zM371.8,285.5a1.0,1.0 0 1,0 0.01,0zM413.7,223.1a1.0,1.0 0 1,0 0.01,0zM368.3,223.5a1.0,1.0 0 1,0 0.01,0zM335.5,229.1a1.0,1.0 0 1,0 0.01,0zM382.5,223.0a1.0,1.0 0 1,0 0.01,0zM374.7,201.3a1.0,1.0 0 1,0 0.01,0zM412.7,257.3a1.0,1.0 0 1,0 0.01,0zM326.4,217.1a1.0,1.0 0 1,0 0.01,0zM393.7,276.4a1.0,1.0 0 1,0 0.01,0zM381.8,193.9a1.0,1.0 0 1,0 0.01,0zM376.2,189.5a1.0,1.0 0 1,0 0.01,0zM338.8,211.5a1.0,1.0 0 1,0 0.01,0zM386.0,220.2a1.0,1.0 0 1,0 0.01,0zM337.0,235.9a1.0,1.0 0 1,0 0.01,0zM395.6,211.1a1.0,1.0 0 1,0 0.01,0zM401.8,186.5a1.0,1.0 0 1,0 0.01,0zM373.3,187.5a1.0,1.0 0 1,0 0.01,0zM394.0,209.0a1.0,1.0 0 1,0 0.01,0zM413.0,268.8a1.0,1.0 0 1,0 0.01,0zM363.3,187.7a1.0,1.0 0 1,0 0.01,0zM338.7,283.8a1.0,1.0 0 1,0 0.01,0zM371.9,272.9a1.0,1.0 0 1,0 0.01,0zM413.2,212.7a1.0,1.0 0 1,0 0.01,0zM391.0,240.6a1.0,1.0 0 1,0 0.01,0zM380.8,221.8a1.0,1.0 0 1,0 0.01,0zM366.2,285.9a1.0,1.0 0 1,0 0.01,0zM394.4,237.8a1.0,1.0 0 1,0 0.01,0zM364.5,227.8a1.0,1.0 0 1,0 0.01,0zM368.3,254.9a1.0,1.0 0 1,0 0.01,0zM385.3,263.1a1.0,1.0 0 1,0 0.01,0zM403.2,202.3a1.0,1.0 0 1,0 0.01,0zM397.7,246.4a1.0,1.0 0 1,0 0.01,0zM370.2,265.6a1.0,1.0 0 1,0 0.01,0zM420.5,246.0a1.0,1.0 0 1,0 0.01,0zM351.8,195.1a1.0,1.0 0 1,0 0.01,0zM382.6,208.4a1.0,1.0 0 1,0 0.01,0zM378.6,285.9a1.0,1.0 0 1,0 0.01,0zM409.4,201.7a1.0,1.0 0 1,0 0.01,0zM344.0,248.1a1.0,1.0 0 1,0 0.01,0zM340.0,201.8a1.0,1.0 0 1,0 0.01,0zM348.4,235.5a1.0,1.0 0 1,0 0.01,0zM374.2,211.0a1.0,1.0 0 1,0 0.01,0zM335.0,242.8a1.0,1.0 0 1,0 0.01,0zM341.7,213.2a1.0,1.0 0 1,0 0.01,0zM415.2,287.9a1.0,1.0 0 1,0 0.01,0zM326.3,271.6a1.0,1.0 0 1,0 0.01,0zM390.7,285.5a1.0,1.0 0 1,0 0.01,0zM392.3,217.8a1.0,1.0 0 1,0 0.01,0zM376.8,240.8a1.0,1.0 0 1,0 0.01,0zM394.2,235.6a1.0,1.0 0 1,0 0.01,0zM379.3,270.1a1.0,1.0 0 1,0 0.01,0zM388.0,244.7a1.0,1.0 0 1,0 0.01,0zM409.3,228.8a1.0,1.0 0 1,0 0.01,0zM350.8,200.4a1.0,1.0 0 1,0 0.01,0zM378.5,217.6a1.0,1.0 0 1,0 0.01,0zM402.2,234.2a1.0,1.0 0 1,0 0.01,0zM337.1,225.5a1.0,1.0 0 1,0 0.01,0zM387.7,269.9a1.0,1.0 0 1,0 0.01,0zM391.6,195.6a1.0,1.0 0 1,0 0.01,0zM397.3,249.4a1.0,1.0 0 1,0 0.01,0zM399.0,238.0a1.0,1.0 0 1,0 0.01,0zM417.9,242.3a1.0,1.0 0 1,0 0.01,0zM374.6,283.9a1.0,1.0 0 1,0 0.01,0zM380.4,259.7a1.0,1.0 0 1,0 0.01,0zM394.8,276.4a1.0,1.0 0 1,0 0.01,0zM396.4,212.5a1.0,1.0 0 1,0 0.01,0zM352.7,208.2a1.0,1.0 0 1,0 0.01,0zM387.4,264.8a1.0,1.0 0 1,0 0.01,0zM413.7,224.5a1.0,1.0 0 1,0 0.01,0zM405.2,251.5a1.0,1.0 0 1,0 0.01,0zM335.8,256.5a1.0,1.0 0 1,0 0.01,0zM421.2,190.2a1.0,1.0 0 1,0 0.01,0zM401.2,225.4a1.0,1.0 0 1,0 0.01,0zM386.1,193.8a1.0,1.0 0 1,0 0.01,0zM401.7,253.2a1.0,1.0 0 1,0 0.01,0zM342.6,231.7a1.0,1.0 0 1,0 0.01,0zM409.2,246.0a1.0,1.0 0 1,0 0.01,0zM360.3,207.6a1.0,1.0 0 1,0 0.01,0zM418.8,187.4a1.0,1.0 0 1,0 0.01,0zM420.0,252.6a1.0,1.0 0 1,0 0.01,0zM356.0,211.5a1.0,1.0 0 1,0 0.01,0zM372.4,263.6a1.0,1.0 0 1,0 0.01,0zM348.6,203.3a1.0,1.0 0 1,0 0.01,0zM417.0,189.6a1.0,1.0 0 1,0 0.01,0zM378.8,272.8a1.0,1.0 0 1,0 0.01,0zM358.1,248.9a1.0,1.0 0 1,0 0.01,0zM333.8,196.3a1.0,1.0 0 1,0 0.01,0zM407.4,248.0a1.0,1.0 0 1,0 0.01,0zM371.1,217.8a1.0,1.0 0 1,0 0.01,0zM404.0,237.3a1.0,1.0 0 1,0 0.01,0zM368.0,263.4a1.0,1.0 0 1,0 0.01,0zM349.2,250.1a1.0,1.0 0 1,0 0.01,0zM349.9,278.3a1.0,1.0 0 1,0 0.01,0zM412.8,196.9a1.0,1.0 0 1,0 0.01,0zM370.8,247.2a1.0,1.0 0 1,0 0.01,0zM327.7,207.6a1.0,1.0 0 1,0 0.01,0zM334.9,202.0a1.0,1.0 0 1,0 0.01,0zM397.6,236.4a1.0,1.0 0 1,0 0.01,0zM379.7,286.8a1.0,1.0 0 1,0 0.01,0zM356.3,265.8a1.0,1.0 0 1,0 0.01,0zM358.6,236.5a1.0,1.0 0 1,0 0.01,0zM344.3,203.4a1.0,1.0 0 1,0 0.01,0zM365.3,232.9a1.0,1.0 0 1,0 0.01,0zM367.8,271.2a1.0,1.0 0 1,0 0.01,0zM364.6,193.4a1.0,1.0 0 1,0 0.01,0zM347.3,234.8a1.0,1.0 0 1,0 0.01,0zM365.1,287.7a1.0,1.0 0 1,0 0.01,0zM354.9,188.2a1.0,1.0 0 1,0 0.01,0zM382.2,268.3a1.0,1.0 0 1,0 0.01,0zM394.4,258.4a1.0,1.0 0 1,0 0.01,0zM379.4,248.9a1.0,1.0 0 1,0 0.01,0zM328.3,275.0a1.0,1.0 0 1,0 0.01,0zM416.4,284.6a1.0,1.0 0 1,0 0.01,0zM326.4,230.8a1.0,1.0 0 1,0 0.01,0zM357.5,243.2a1.0,1.0 0 1,0 0.01,0zM372.1,241.6a1.0,1.0 0 1,0 0.01,0zM412.6,200.0a1.0,1.0 0 1,0 0.01,0zM356.5,200.6a1.0,1.0 0 1,0 0.01,0zM351.4,232.4a1.0,1.0 0 1,0 0.01,0zM357.9,199.7a1.0,1.0 0 1,0 0.01,0zM397.4,242.1a1.0,1.0 0 1,0 0.01,0zM419.6,204.5a1.0,1.0 0 1,0 0.01,0zM375.8,280.3a1.0,1.0 0 1,0 0.01,0zM386.0,242.8a1.0,1.0 0 1,0 0.01,0zM418.4,259.3a1.0,1.0 0 1,0 0.01,0zM412.9,249.1a1.0,1.0 0 1,0 0.01,0zM345.1,235.8a1.0,1.0 0 1,0 0.01,0zM372.2,258.7a1.0,1.0 0 1,0 0.01,0zM395.4,249.0a1.0,1.0 0 1,0 0.01,0zM354.0,195.8a1.0,1.0 0 1,0 0.01,0zM354.6,250.3a1.0,1.0 0 1,0 0.01,0zM370.5,241.5a1.0,1.0 0 1,0 0.01,0zM376.0,257.4a1.0,1.0 0 1,0 0.01,0zM420.0,248.1a1.0,1.0 0 1,0 0.01,0zM415.3,210.4a1.0,1.0 0 1,0 0.01,0zM347.3,192.9a1.0,1.0 0 1,0 0.01,0zM416.6,218.4a1.0,1.0 0 1,0 0.01,0zM395.4,275.8a1.0,1.0 0 1,0 0.01,0zM408.0,210.2a1.0,1.0 0 1,0 0.01,0zM372.1,257.6a1.0,1.0 0 1,0 0.01,0zM336.6,269.6a1.0,1.0 0 1,0 0.01,0zM398.5,190.1a1.0,1.0 0 1,0 0.01,0zM341.3,213.4a1.0,1.0 0 1,0 0.01,0zM394.0,198.7a1.0,1.0 0 1,0 0.01,0zM368.6,262.8a1.0,1.0 0 1,0 0.01,0zM359.5,277.3a1.0,1.0 0 1,0 0.01,0zM346.5,256.0a1.0,1.0 0 1,0 0.01,0zM351.1,222.2a1.0,1.0 0 1,0 0.01,0zM398.6,189.7a1.0,1.0 0 1,0 0.01,0zM385.4,200.4a1.0,1.0 0 1,0 0.01,0zM341.8,209.1a1.0,1.0 0 1,0 0.01,0z" fill="#6a6030" fill-opacity="0.4" stroke="#e0d440" stroke-width="0.75"/>
<path d="M408.2,225.0a1.7,1.7 0 1,0 0.01,0zM379.2,262.0a1.7,1.7 0 1,0 0.01,0zM411.4,239.0a1.1,1.1 0 1,0 0.01,0zM351.0,251.1a1.6,1.6 0 1,0 0.01,0zM416.1,276.0a1.2,1.2 0 1,0 0.01,0zM390.0,209.6a1.7,1.7 0 1,0 0.01,0zM362.6,226.3a1.7,1.7 0 1,0 0.01,0zM400.5,208.5a1.4,1.4 0 1,0 0.01,0zM418.8,257.8a1.0,1.0 0 1,0 0.01,0zM420.8,220.8a1.1,1.1 0 1,0 0.01,0zM405.8,188.8a1.2,1.2 0 1,0 0.01,0zM364.9,281.9a1.3,1.3 0 1,0 0.01,0zM415.9,206.7a1.7,1.7 0 1,0 0.01,0zM373.7,254.7a1.1,1.1 0 1,0 0.01,0zM376.9,283.3a1.1,1.1 0 1,0 0.01,0zM337.3,214.9a1.4,1.4 0 1,0 0.01,0zM382.4,203.8a1.2,1.2 0 1,0 0.01,0zM417.0,206.8a1.5,1.5 0 1,0 0.01,0zM361.8,253.8a1.3,1.3 0 1,0 0.01,0zM415.5,263.5a1.3,1.3 0 1,0 0.01,0zM413.7,254.1a1.7,1.7 0 1,0 0.01,0zM395.2,271.0a1.8,1.8 0 1,0 0.01,0zM341.3,250.9a1.5,1.5 0 1,0 0.01,0zM419.8,273.4a1.7,1.7 0 1,0 0.01,0zM358.3,228.5a1.4,1.4 0 1,0 0.01,0zM405.5,250.6a1.3,1.3 0 1,0 0.01,0zM351.1,264.1a1.6,1.6 0 1,0 0.01,0zM382.3,226.2a1.3,1.3 0 1,0 0.01,0zM342.4,214.6a1.6,1.6 0 1,0 0.01,0zM416.0,267.0a1.2,1.2 0 1,0 0.01,0zM329.3,248.5a1.5,1.5 0 1,0 0.01,0zM415.9,194.4a1.7,1.7 0 1,0 0.01,0zM400.0,231.2a1.6,1.6 0 1,0 0.01,0zM380.8,260.4a1.2,1.2 0 1,0 0.01,0zM394.8,278.8a1.5,1.5 0 1,0 0.01,0zM379.9,243.6a1.7,1.7 0 1,0 0.01,0zM397.5,233.6a1.5,1.5 0 1,0 0.01,0zM409.8,270.8a1.6,1.6 0 1,0 0.01,0zM412.2,213.1a1.0,1.0 0 1,0 0.01,0zM329.3,255.7a1.6,1.6 0 1,0 0.01,0zM417.6,193.1a1.3,1.3 0 1,0 0.01,0zM418.8,257.3a1.7,1.7 0 1,0 0.01,0zM342.4,229.4a1.6,1.6 0 1,0 0.01,0zM369.0,237.7a1.7,1.7 0 1,0 0.01,0zM396.0,198.0a1.6,1.6 0 1,0 0.01,0zM412.7,215.5a1.8,1.8 0 1,0 0.01,0zM353.0,272.4a1.2,1.2 0 1,0 0.01,0zM417.8,276.5a1.7,1.7 0 1,0 0.01,0zM396.0,204.0a1.1,1.1 0 1,0 0.01,0zM332.2,236.9a1.6,1.6 0 1,0 0.01,0z" fill="#e03ce8"/>
<path d="M402.0,219.2a0.8,0.8 0 1,0 0.01,0zM413.9,263.1a0.8,0.8 0 1,0 0.01,0zM378.3,260.5a0.8,0.8 0 1,0 0.01,0zM374.2,249.8a0.8,0.8 0 1,0 0.01,0zM407.1,241.7a0.8,0.8 0 1,0 0.01,0zM410.8,262.0a0.8,0.8 0 1,0 0.01,0zM411.7,214.3a0.8,0.8 0 1,0 0.01,0zM337.8,264.3a0.8,0.8 0 1,0 0.01,0zM358.1,187.9a0.8,0.8 0 1,0 0.01,0zM418.5,241.2a0.8,0.8 0 1,0 0.01,0zM337.1,228.6a0.8,0.8 0 1,0 0.01,0zM375.8,222.0a0.8,0.8 0 1,0 0.01,0zM361.2,219.2a0.8,0.8 0 1,0 0.01,0zM400.4,205.0a0.8,0.8 0 1,0 0.01,0zM420.3,230.6a0.8,0.8 0 1,0 0.01,0zM338.7,197.6a0.8,0.8 0 1,0 0.01,0zM328.0,223.5a0.8,0.8 0 1,0 0.01,0zM352.6,271.6a0.8,0.8 0 1,0 0.01,0zM378.5,186.0a0.8,0.8 0 1,0 0.01,0zM330.6,203.8a0.8,0.8 0 1,0 0.01,0zM359.8,266.2a0.8,0.8 0 1,0 0.01,0zM347.8,199.2a0.8,0.8 0 1,0 0.01,0zM347.5,203.2a0.8,0.8 0 1,0 0.01,0zM414.5,255.7a0.8,0.8 0 1,0 0.01,0zM330.3,277.2a0.8,0.8 0 1,0 0.01,0z" fill="#e8d8f0" opacity="0.7"/>
<path d="M371,209 C380,204 390,199 403,196 C404,198 402,200 398,201 C392,203 386,205 380,207 C388,205 396,203 402,202 C400,205 394,207 386,209 C380,210 375,210 371,209Z" fill="#d01810" stroke="#ff3020" stroke-width="0.6"/>
<path d="M382,206 C386,200 390,195 395,191 C396,192 394,196 390,200Z" fill="#d01810" stroke="#ff3020" stroke-width="0.5"/>
<path d="M366,243 C375,238 388,234 402,231 C402,234 398,236 392,238 C386,240 380,244 378,250 C377,253 375,254 374,251 C373,248 372,246 366,246Z" fill="#d01810" stroke="#ff3020" stroke-width="0.6"/>
<path d="M324,252 C327,250 330,249 333,248" stroke="#e02010" stroke-width="1.2" fill="none"/>
</g>
<rect x="225" y="106.2" width="197" height="182.8" stroke="#fff" stroke-width="0.8" stroke-dasharray="2,1.2" fill="none"/>
<rect x="323.3" y="185.7" width="99" height="103.3" stroke="#fff" stroke-width="0.8" stroke-dasharray="2,1.2" fill="none"/>
<rect x="168" y="198.3" width="44" height="41.8" stroke="#fff" stroke-width="0.8" stroke-dasharray="2,1.2" fill="none"/>
<rect x="282.5" y="204.4" width="34.2" height="30.2" stroke="#fff" stroke-width="0.8" stroke-dasharray="2,1.2" fill="none"/>
<path d="M212,198.3 L225,106.2 M212,240.1 L225,289 M316.7,204.4 L323.3,185.7 M316.7,234.6 L323.3,289" stroke="#fff" stroke-width="0.8" stroke-dasharray="2,1.2" fill="none"/>
<rect x="87.5" y="328.3" width="30.3" height="2" fill="#fff"/>
<text x="88.0" y="323.5" font-size="6.2" text-anchor="start" fill="#fff" >5 mm</text>
<rect x="235" y="277" width="30" height="2" fill="#fff"/>
<text x="235.5" y="272.5" font-size="6.2" text-anchor="start" fill="#fff" >500 µm</text>
<rect x="329" y="277" width="30.5" height="2" fill="#fff"/>
<text x="330.0" y="272.5" font-size="6.2" text-anchor="start" fill="#fff" >50 µm</text>
<text x="312.7" y="336.5" font-size="6.4"><tspan fill="#6d6a64">DAPI </tspan><tspan fill="#3838ff">CD20 </tspan><tspan fill="#ff2a2a">CD31 </tspan><tspan fill="#e040e0">Ki67 </tspan><tspan fill="#e4dc30">CD3E</tspan></text>
<rect x="441.5" y="172.8" width="138.5" height="142.7" fill="#eeeef0"/>
<defs><filter id="gblur" x="-2%" y="-2%" width="104%" height="104%"><feGaussianBlur stdDeviation="0.45"/></filter></defs><g filter="url(#gblur)">
<path d="M442.0 173.3h1.8v1.8h-1.8zM444.9 173.3h1.8v1.8h-1.8zM447.9 173.3h1.8v1.8h-1.8zM459.6 173.3h1.8v1.8h-1.8zM471.3 173.3h1.8v1.8h-1.8zM480.1 173.3h1.8v1.8h-1.8zM521.1 173.3h1.8v1.8h-1.8zM532.8 173.3h1.8v1.8h-1.8zM553.3 173.3h1.8v1.8h-1.8zM556.3 173.3h1.8v1.8h-1.8zM559.2 173.3h1.8v1.8h-1.8zM570.9 173.3h1.8v1.8h-1.8zM462.5 176.2h1.8v1.8h-1.8zM471.3 176.2h1.8v1.8h-1.8zM480.1 176.2h1.8v1.8h-1.8zM497.7 176.2h1.8v1.8h-1.8zM509.4 176.2h1.8v1.8h-1.8zM515.2 176.2h1.8v1.8h-1.8zM518.2 176.2h1.8v1.8h-1.8zM541.6 176.2h1.8v1.8h-1.8zM559.2 176.2h1.8v1.8h-1.8zM565.1 176.2h1.8v1.8h-1.8zM576.8 176.2h1.8v1.8h-1.8zM450.8 179.2h1.8v1.8h-1.8zM459.6 179.2h1.8v1.8h-1.8zM462.5 179.2h1.8v1.8h-1.8zM483.0 179.2h1.8v1.8h-1.8zM485.9 179.2h1.8v1.8h-1.8zM488.9 179.2h1.8v1.8h-1.8zM503.5 179.2h1.8v1.8h-1.8zM506.5 179.2h1.8v1.8h-1.8zM512.3 179.2h1.8v1.8h-1.8zM515.2 179.2h1.8v1.8h-1.8zM524.0 179.2h1.8v1.8h-1.8zM529.9 179.2h1.8v1.8h-1.8zM544.5 179.2h1.8v1.8h-1.8zM559.2 179.2h1.8v1.8h-1.8zM565.1 179.2h1.8v1.8h-1.8zM459.6 182.1h1.8v1.8h-1.8zM462.5 182.1h1.8v1.8h-1.8zM471.3 182.1h1.8v1.8h-1.8zM474.2 182.1h1.8v1.8h-1.8zM480.1 182.1h1.8v1.8h-1.8zM497.7 182.1h1.8v1.8h-1.8zM503.5 182.1h1.8v1.8h-1.8zM524.0 182.1h1.8v1.8h-1.8zM527.0 182.1h1.8v1.8h-1.8zM544.5 182.1h1.8v1.8h-1.8zM547.5 182.1h1.8v1.8h-1.8zM550.4 182.1h1.8v1.8h-1.8zM553.3 182.1h1.8v1.8h-1.8zM444.9 185.0h1.8v1.8h-1.8zM450.8 185.0h1.8v1.8h-1.8zM453.7 185.0h1.8v1.8h-1.8zM459.6 185.0h1.8v1.8h-1.8zM465.4 185.0h1.8v1.8h-1.8zM468.4 185.0h1.8v1.8h-1.8zM471.3 185.0h1.8v1.8h-1.8zM474.2 185.0h1.8v1.8h-1.8zM477.2 185.0h1.8v1.8h-1.8zM480.1 185.0h1.8v1.8h-1.8zM494.7 185.0h1.8v1.8h-1.8zM500.6 185.0h1.8v1.8h-1.8zM503.5 185.0h1.8v1.8h-1.8zM509.4 185.0h1.8v1.8h-1.8zM524.0 185.0h1.8v1.8h-1.8zM529.9 185.0h1.8v1.8h-1.8zM532.8 185.0h1.8v1.8h-1.8zM535.8 185.0h1.8v1.8h-1.8zM544.5 185.0h1.8v1.8h-1.8zM547.5 185.0h1.8v1.8h-1.8zM568.0 185.0h1.8v1.8h-1.8zM442.0 188.0h1.8v1.8h-1.8zM450.8 188.0h1.8v1.8h-1.8zM456.6 188.0h1.8v1.8h-1.8zM459.6 188.0h1.8v1.8h-1.8zM485.9 188.0h1.8v1.8h-1.8zM488.9 188.0h1.8v1.8h-1.8zM491.8 188.0h1.8v1.8h-1.8zM494.7 188.0h1.8v1.8h-1.8zM509.4 188.0h1.8v1.8h-1.8zM518.2 188.0h1.8v1.8h-1.8zM544.5 188.0h1.8v1.8h-1.8zM550.4 188.0h1.8v1.8h-1.8zM559.2 188.0h1.8v1.8h-1.8zM562.1 188.0h1.8v1.8h-1.8zM565.1 188.0h1.8v1.8h-1.8zM568.0 188.0h1.8v1.8h-1.8zM570.9 188.0h1.8v1.8h-1.8zM576.8 188.0h1.8v1.8h-1.8zM462.5 190.9h1.8v1.8h-1.8zM465.4 190.9h1.8v1.8h-1.8zM468.4 190.9h1.8v1.8h-1.8zM477.2 190.9h1.8v1.8h-1.8zM483.0 190.9h1.8v1.8h-1.8zM485.9 190.9h1.8v1.8h-1.8zM488.9 190.9h1.8v1.8h-1.8zM491.8 190.9h1.8v1.8h-1.8zM515.2 190.9h1.8v1.8h-1.8zM524.0 190.9h1.8v1.8h-1.8zM538.7 190.9h1.8v1.8h-1.8zM556.3 190.9h1.8v1.8h-1.8zM456.6 193.8h1.8v1.8h-1.8zM471.3 193.8h1.8v1.8h-1.8zM477.2 193.8h1.8v1.8h-1.8zM480.1 193.8h1.8v1.8h-1.8zM488.9 193.8h1.8v1.8h-1.8zM494.7 193.8h1.8v1.8h-1.8zM500.6 193.8h1.8v1.8h-1.8zM506.5 193.8h1.8v1.8h-1.8zM515.2 193.8h1.8v1.8h-1.8zM524.0 193.8h1.8v1.8h-1.8zM529.9 193.8h1.8v1.8h-1.8zM532.8 193.8h1.8v1.8h-1.8zM541.6 193.8h1.8v1.8h-1.8zM556.3 193.8h1.8v1.8h-1.8zM565.1 193.8h1.8v1.8h-1.8zM573.9 193.8h1.8v1.8h-1.8zM576.8 193.8h1.8v1.8h-1.8zM442.0 196.7h1.8v1.8h-1.8zM444.9 196.7h1.8v1.8h-1.8zM462.5 196.7h1.8v1.8h-1.8zM488.9 196.7h1.8v1.8h-1.8zM497.7 196.7h1.8v1.8h-1.8zM521.1 196.7h1.8v1.8h-1.8zM541.6 196.7h1.8v1.8h-1.8zM565.1 196.7h1.8v1.8h-1.8zM568.0 196.7h1.8v1.8h-1.8zM573.9 196.7h1.8v1.8h-1.8zM442.0 199.7h1.8v1.8h-1.8zM450.8 199.7h1.8v1.8h-1.8zM453.7 199.7h1.8v1.8h-1.8zM459.6 199.7h1.8v1.8h-1.8zM465.4 199.7h1.8v1.8h-1.8zM477.2 199.7h1.8v1.8h-1.8zM483.0 199.7h1.8v1.8h-1.8zM494.7 199.7h1.8v1.8h-1.8zM509.4 199.7h1.8v1.8h-1.8zM524.0 199.7h1.8v1.8h-1.8zM538.7 199.7h1.8v1.8h-1.8zM544.5 199.7h1.8v1.8h-1.8zM547.5 199.7h1.8v1.8h-1.8zM550.4 199.7h1.8v1.8h-1.8zM559.2 199.7h1.8v1.8h-1.8zM576.8 199.7h1.8v1.8h-1.8zM444.9 202.6h1.8v1.8h-1.8zM459.6 202.6h1.8v1.8h-1.8zM462.5 202.6h1.8v1.8h-1.8zM465.4 202.6h1.8v1.8h-1.8zM468.4 202.6h1.8v1.8h-1.8zM471.3 202.6h1.8v1.8h-1.8zM488.9 202.6h1.8v1.8h-1.8zM497.7 202.6h1.8v1.8h-1.8zM503.5 202.6h1.8v1.8h-1.8zM506.5 202.6h1.8v1.8h-1.8zM515.2 202.6h1.8v1.8h-1.8zM521.1 202.6h1.8v1.8h-1.8zM524.0 202.6h1.8v1.8h-1.8zM532.8 202.6h1.8v1.8h-1.8zM550.4 202.6h1.8v1.8h-1.8zM565.1 202.6h1.8v1.8h-1.8zM570.9 202.6h1.8v1.8h-1.8zM573.9 202.6h1.8v1.8h-1.8zM442.0 205.5h1.8v1.8h-1.8zM450.8 205.5h1.8v1.8h-1.8zM453.7 205.5h1.8v1.8h-1.8zM456.6 205.5h1.8v1.8h-1.8zM468.4 205.5h1.8v1.8h-1.8zM477.2 205.5h1.8v1.8h-1.8zM480.1 205.5h1.8v1.8h-1.8zM500.6 205.5h1.8v1.8h-1.8zM512.3 205.5h1.8v1.8h-1.8zM538.7 205.5h1.8v1.8h-1.8zM544.5 205.5h1.8v1.8h-1.8zM547.5 205.5h1.8v1.8h-1.8zM568.0 205.5h1.8v1.8h-1.8zM576.8 205.5h1.8v1.8h-1.8zM444.9 208.5h1.8v1.8h-1.8zM450.8 208.5h1.8v1.8h-1.8zM453.7 208.5h1.8v1.8h-1.8zM474.2 208.5h1.8v1.8h-1.8zM477.2 208.5h1.8v1.8h-1.8zM497.7 208.5h1.8v1.8h-1.8zM500.6 208.5h1.8v1.8h-1.8zM503.5 208.5h1.8v1.8h-1.8zM527.0 208.5h1.8v1.8h-1.8zM529.9 208.5h1.8v1.8h-1.8zM541.6 208.5h1.8v1.8h-1.8zM550.4 208.5h1.8v1.8h-1.8zM559.2 208.5h1.8v1.8h-1.8zM565.1 208.5h1.8v1.8h-1.8zM576.8 208.5h1.8v1.8h-1.8zM442.0 211.4h1.8v1.8h-1.8zM456.6 211.4h1.8v1.8h-1.8zM462.5 211.4h1.8v1.8h-1.8zM465.4 211.4h1.8v1.8h-1.8zM468.4 211.4h1.8v1.8h-1.8zM477.2 211.4h1.8v1.8h-1.8zM483.0 211.4h1.8v1.8h-1.8zM488.9 211.4h1.8v1.8h-1.8zM491.8 211.4h1.8v1.8h-1.8zM494.7 211.4h1.8v1.8h-1.8zM506.5 211.4h1.8v1.8h-1.8zM509.4 211.4h1.8v1.8h-1.8zM518.2 211.4h1.8v1.8h-1.8zM524.0 211.4h1.8v1.8h-1.8zM527.0 211.4h1.8v1.8h-1.8zM532.8 211.4h1.8v1.8h-1.8zM538.7 211.4h1.8v1.8h-1.8zM544.5 211.4h1.8v1.8h-1.8zM550.4 211.4h1.8v1.8h-1.8zM556.3 211.4h1.8v1.8h-1.8zM568.0 211.4h1.8v1.8h-1.8zM573.9 211.4h1.8v1.8h-1.8zM576.8 211.4h1.8v1.8h-1.8zM453.7 214.3h1.8v1.8h-1.8zM456.6 214.3h1.8v1.8h-1.8zM459.6 214.3h1.8v1.8h-1.8zM462.5 214.3h1.8v1.8h-1.8zM465.4 214.3h1.8v1.8h-1.8zM477.2 214.3h1.8v1.8h-1.8zM488.9 214.3h1.8v1.8h-1.8zM494.7 214.3h1.8v1.8h-1.8zM497.7 214.3h1.8v1.8h-1.8zM515.2 214.3h1.8v1.8h-1.8zM527.0 214.3h1.8v1.8h-1.8zM553.3 214.3h1.8v1.8h-1.8zM556.3 214.3h1.8v1.8h-1.8zM559.2 214.3h1.8v1.8h-1.8zM562.1 214.3h1.8v1.8h-1.8zM568.0 214.3h1.8v1.8h-1.8zM573.9 214.3h1.8v1.8h-1.8zM442.0 217.2h1.8v1.8h-1.8zM456.6 217.2h1.8v1.8h-1.8zM465.4 217.2h1.8v1.8h-1.8zM483.0 217.2h1.8v1.8h-1.8zM491.8 217.2h1.8v1.8h-1.8zM506.5 217.2h1.8v1.8h-1.8zM509.4 217.2h1.8v1.8h-1.8zM515.2 217.2h1.8v1.8h-1.8zM518.2 217.2h1.8v1.8h-1.8zM524.0 217.2h1.8v1.8h-1.8zM527.0 217.2h1.8v1.8h-1.8zM547.5 217.2h1.8v1.8h-1.8zM550.4 217.2h1.8v1.8h-1.8zM556.3 217.2h1.8v1.8h-1.8zM568.0 217.2h1.8v1.8h-1.8zM450.8 220.2h1.8v1.8h-1.8zM459.6 220.2h1.8v1.8h-1.8zM462.5 220.2h1.8v1.8h-1.8zM477.2 220.2h1.8v1.8h-1.8zM491.8 220.2h1.8v1.8h-1.8zM494.7 220.2h1.8v1.8h-1.8zM518.2 220.2h1.8v1.8h-1.8zM521.1 220.2h1.8v1.8h-1.8zM529.9 220.2h1.8v1.8h-1.8zM535.8 220.2h1.8v1.8h-1.8zM541.6 220.2h1.8v1.8h-1.8zM550.4 220.2h1.8v1.8h-1.8zM556.3 220.2h1.8v1.8h-1.8zM562.1 220.2h1.8v1.8h-1.8zM565.1 220.2h1.8v1.8h-1.8zM576.8 220.2h1.8v1.8h-1.8zM442.0 223.1h1.8v1.8h-1.8zM444.9 223.1h1.8v1.8h-1.8zM447.9 223.1h1.8v1.8h-1.8zM450.8 223.1h1.8v1.8h-1.8zM459.6 223.1h1.8v1.8h-1.8zM465.4 223.1h1.8v1.8h-1.8zM471.3 223.1h1.8v1.8h-1.8zM485.9 223.1h1.8v1.8h-1.8zM488.9 223.1h1.8v1.8h-1.8zM491.8 223.1h1.8v1.8h-1.8zM497.7 223.1h1.8v1.8h-1.8zM518.2 223.1h1.8v1.8h-1.8zM521.1 223.1h1.8v1.8h-1.8zM532.8 223.1h1.8v1.8h-1.8zM535.8 223.1h1.8v1.8h-1.8zM550.4 223.1h1.8v1.8h-1.8zM553.3 223.1h1.8v1.8h-1.8zM570.9 223.1h1.8v1.8h-1.8zM456.6 226.0h1.8v1.8h-1.8zM465.4 226.0h1.8v1.8h-1.8zM468.4 226.0h1.8v1.8h-1.8zM477.2 226.0h1.8v1.8h-1.8zM480.1 226.0h1.8v1.8h-1.8zM497.7 226.0h1.8v1.8h-1.8zM500.6 226.0h1.8v1.8h-1.8zM503.5 226.0h1.8v1.8h-1.8zM506.5 226.0h1.8v1.8h-1.8zM512.3 226.0h1.8v1.8h-1.8zM521.1 226.0h1.8v1.8h-1.8zM532.8 226.0h1.8v1.8h-1.8zM544.5 226.0h1.8v1.8h-1.8zM547.5 226.0h1.8v1.8h-1.8zM550.4 226.0h1.8v1.8h-1.8zM553.3 226.0h1.8v1.8h-1.8zM559.2 226.0h1.8v1.8h-1.8zM442.0 229.0h1.8v1.8h-1.8zM450.8 229.0h1.8v1.8h-1.8zM468.4 229.0h1.8v1.8h-1.8zM480.1 229.0h1.8v1.8h-1.8zM483.0 229.0h1.8v1.8h-1.8zM494.7 229.0h1.8v1.8h-1.8zM500.6 229.0h1.8v1.8h-1.8zM503.5 229.0h1.8v1.8h-1.8zM509.4 229.0h1.8v1.8h-1.8zM527.0 229.0h1.8v1.8h-1.8zM544.5 229.0h1.8v1.8h-1.8zM547.5 229.0h1.8v1.8h-1.8zM556.3 229.0h1.8v1.8h-1.8zM559.2 229.0h1.8v1.8h-1.8zM565.1 229.0h1.8v1.8h-1.8zM576.8 229.0h1.8v1.8h-1.8zM453.7 231.9h1.8v1.8h-1.8zM456.6 231.9h1.8v1.8h-1.8zM471.3 231.9h1.8v1.8h-1.8zM474.2 231.9h1.8v1.8h-1.8zM480.1 231.9h1.8v1.8h-1.8zM483.0 231.9h1.8v1.8h-1.8zM485.9 231.9h1.8v1.8h-1.8zM488.9 231.9h1.8v1.8h-1.8zM500.6 231.9h1.8v1.8h-1.8zM509.4 231.9h1.8v1.8h-1.8zM512.3 231.9h1.8v1.8h-1.8zM515.2 231.9h1.8v1.8h-1.8zM524.0 231.9h1.8v1.8h-1.8zM529.9 231.9h1.8v1.8h-1.8zM550.4 231.9h1.8v1.8h-1.8zM556.3 231.9h1.8v1.8h-1.8zM559.2 231.9h1.8v1.8h-1.8zM568.0 231.9h1.8v1.8h-1.8zM573.9 231.9h1.8v1.8h-1.8zM576.8 231.9h1.8v1.8h-1.8zM442.0 234.8h1.8v1.8h-1.8zM462.5 234.8h1.8v1.8h-1.8zM465.4 234.8h1.8v1.8h-1.8zM468.4 234.8h1.8v1.8h-1.8zM471.3 234.8h1.8v1.8h-1.8zM474.2 234.8h1.8v1.8h-1.8zM477.2 234.8h1.8v1.8h-1.8zM483.0 234.8h1.8v1.8h-1.8zM497.7 234.8h1.8v1.8h-1.8zM524.0 234.8h1.8v1.8h-1.8zM529.9 234.8h1.8v1.8h-1.8zM544.5 234.8h1.8v1.8h-1.8zM550.4 234.8h1.8v1.8h-1.8zM553.3 234.8h1.8v1.8h-1.8zM576.8 234.8h1.8v1.8h-1.8zM444.9 237.8h1.8v1.8h-1.8zM465.4 237.8h1.8v1.8h-1.8zM468.4 237.8h1.8v1.8h-1.8zM471.3 237.8h1.8v1.8h-1.8zM477.2 237.8h1.8v1.8h-1.8zM483.0 237.8h1.8v1.8h-1.8zM488.9 237.8h1.8v1.8h-1.8zM512.3 237.8h1.8v1.8h-1.8zM515.2 237.8h1.8v1.8h-1.8zM518.2 237.8h1.8v1.8h-1.8zM532.8 237.8h1.8v1.8h-1.8zM535.8 237.8h1.8v1.8h-1.8zM538.7 237.8h1.8v1.8h-1.8zM562.1 237.8h1.8v1.8h-1.8zM565.1 237.8h1.8v1.8h-1.8zM568.0 237.8h1.8v1.8h-1.8zM570.9 237.8h1.8v1.8h-1.8zM447.9 240.7h1.8v1.8h-1.8zM450.8 240.7h1.8v1.8h-1.8zM462.5 240.7h1.8v1.8h-1.8zM465.4 240.7h1.8v1.8h-1.8zM471.3 240.7h1.8v1.8h-1.8zM480.1 240.7h1.8v1.8h-1.8zM483.0 240.7h1.8v1.8h-1.8zM491.8 240.7h1.8v1.8h-1.8zM503.5 240.7h1.8v1.8h-1.8zM506.5 240.7h1.8v1.8h-1.8zM518.2 240.7h1.8v1.8h-1.8zM521.1 240.7h1.8v1.8h-1.8zM524.0 240.7h1.8v1.8h-1.8zM541.6 240.7h1.8v1.8h-1.8zM547.5 240.7h1.8v1.8h-1.8zM553.3 240.7h1.8v1.8h-1.8zM562.1 240.7h1.8v1.8h-1.8zM447.9 243.6h1.8v1.8h-1.8zM459.6 243.6h1.8v1.8h-1.8zM471.3 243.6h1.8v1.8h-1.8zM477.2 243.6h1.8v1.8h-1.8zM485.9 243.6h1.8v1.8h-1.8zM491.8 243.6h1.8v1.8h-1.8zM515.2 243.6h1.8v1.8h-1.8zM521.1 243.6h1.8v1.8h-1.8zM529.9 243.6h1.8v1.8h-1.8zM535.8 243.6h1.8v1.8h-1.8zM544.5 243.6h1.8v1.8h-1.8zM550.4 243.6h1.8v1.8h-1.8zM562.1 243.6h1.8v1.8h-1.8zM573.9 243.6h1.8v1.8h-1.8zM450.8 246.6h1.8v1.8h-1.8zM456.6 246.6h1.8v1.8h-1.8zM465.4 246.6h1.8v1.8h-1.8zM474.2 246.6h1.8v1.8h-1.8zM488.9 246.6h1.8v1.8h-1.8zM509.4 246.6h1.8v1.8h-1.8zM521.1 246.6h1.8v1.8h-1.8zM538.7 246.6h1.8v1.8h-1.8zM544.5 246.6h1.8v1.8h-1.8zM565.1 246.6h1.8v1.8h-1.8zM570.9 246.6h1.8v1.8h-1.8zM576.8 246.6h1.8v1.8h-1.8zM453.7 249.5h1.8v1.8h-1.8zM459.6 249.5h1.8v1.8h-1.8zM480.1 249.5h1.8v1.8h-1.8zM485.9 249.5h1.8v1.8h-1.8zM488.9 249.5h1.8v1.8h-1.8zM509.4 249.5h1.8v1.8h-1.8zM512.3 249.5h1.8v1.8h-1.8zM527.0 249.5h1.8v1.8h-1.8zM532.8 249.5h1.8v1.8h-1.8zM535.8 249.5h1.8v1.8h-1.8zM556.3 249.5h1.8v1.8h-1.8zM562.1 249.5h1.8v1.8h-1.8zM568.0 249.5h1.8v1.8h-1.8zM570.9 249.5h1.8v1.8h-1.8zM576.8 249.5h1.8v1.8h-1.8zM471.3 252.4h1.8v1.8h-1.8zM500.6 252.4h1.8v1.8h-1.8zM503.5 252.4h1.8v1.8h-1.8zM506.5 252.4h1.8v1.8h-1.8zM515.2 252.4h1.8v1.8h-1.8zM518.2 252.4h1.8v1.8h-1.8zM535.8 252.4h1.8v1.8h-1.8zM547.5 252.4h1.8v1.8h-1.8zM553.3 252.4h1.8v1.8h-1.8zM559.2 252.4h1.8v1.8h-1.8zM568.0 252.4h1.8v1.8h-1.8zM570.9 252.4h1.8v1.8h-1.8zM477.2 255.3h1.8v1.8h-1.8zM480.1 255.3h1.8v1.8h-1.8zM488.9 255.3h1.8v1.8h-1.8zM494.7 255.3h1.8v1.8h-1.8zM497.7 255.3h1.8v1.8h-1.8zM503.5 255.3h1.8v1.8h-1.8zM509.4 255.3h1.8v1.8h-1.8zM512.3 255.3h1.8v1.8h-1.8zM515.2 255.3h1.8v1.8h-1.8zM524.0 255.3h1.8v1.8h-1.8zM527.0 255.3h1.8v1.8h-1.8zM538.7 255.3h1.8v1.8h-1.8zM544.5 255.3h1.8v1.8h-1.8zM547.5 255.3h1.8v1.8h-1.8zM553.3 255.3h1.8v1.8h-1.8zM562.1 255.3h1.8v1.8h-1.8zM565.1 255.3h1.8v1.8h-1.8zM573.9 255.3h1.8v1.8h-1.8zM447.9 258.3h1.8v1.8h-1.8zM453.7 258.3h1.8v1.8h-1.8zM456.6 258.3h1.8v1.8h-1.8zM468.4 258.3h1.8v1.8h-1.8zM471.3 258.3h1.8v1.8h-1.8zM477.2 258.3h1.8v1.8h-1.8zM512.3 258.3h1.8v1.8h-1.8zM527.0 258.3h1.8v1.8h-1.8zM532.8 258.3h1.8v1.8h-1.8zM538.7 258.3h1.8v1.8h-1.8zM544.5 258.3h1.8v1.8h-1.8zM559.2 258.3h1.8v1.8h-1.8zM565.1 258.3h1.8v1.8h-1.8zM442.0 261.2h1.8v1.8h-1.8zM447.9 261.2h1.8v1.8h-1.8zM456.6 261.2h1.8v1.8h-1.8zM465.4 261.2h1.8v1.8h-1.8zM471.3 261.2h1.8v1.8h-1.8zM488.9 261.2h1.8v1.8h-1.8zM503.5 261.2h1.8v1.8h-1.8zM506.5 261.2h1.8v1.8h-1.8zM515.2 261.2h1.8v1.8h-1.8zM535.8 261.2h1.8v1.8h-1.8zM541.6 261.2h1.8v1.8h-1.8zM547.5 261.2h1.8v1.8h-1.8zM565.1 261.2h1.8v1.8h-1.8zM568.0 261.2h1.8v1.8h-1.8zM573.9 261.2h1.8v1.8h-1.8zM444.9 264.1h1.8v1.8h-1.8zM447.9 264.1h1.8v1.8h-1.8zM456.6 264.1h1.8v1.8h-1.8zM483.0 264.1h1.8v1.8h-1.8zM485.9 264.1h1.8v1.8h-1.8zM494.7 264.1h1.8v1.8h-1.8zM506.5 264.1h1.8v1.8h-1.8zM512.3 264.1h1.8v1.8h-1.8zM524.0 264.1h1.8v1.8h-1.8zM527.0 264.1h1.8v1.8h-1.8zM556.3 264.1h1.8v1.8h-1.8zM565.1 264.1h1.8v1.8h-1.8zM570.9 264.1h1.8v1.8h-1.8zM447.9 267.1h1.8v1.8h-1.8zM453.7 267.1h1.8v1.8h-1.8zM456.6 267.1h1.8v1.8h-1.8zM471.3 267.1h1.8v1.8h-1.8zM483.0 267.1h1.8v1.8h-1.8zM500.6 267.1h1.8v1.8h-1.8zM509.4 267.1h1.8v1.8h-1.8zM512.3 267.1h1.8v1.8h-1.8zM527.0 267.1h1.8v1.8h-1.8zM550.4 267.1h1.8v1.8h-1.8zM565.1 267.1h1.8v1.8h-1.8zM570.9 267.1h1.8v1.8h-1.8zM447.9 270.0h1.8v1.8h-1.8zM450.8 270.0h1.8v1.8h-1.8zM453.7 270.0h1.8v1.8h-1.8zM459.6 270.0h1.8v1.8h-1.8zM465.4 270.0h1.8v1.8h-1.8zM474.2 270.0h1.8v1.8h-1.8zM477.2 270.0h1.8v1.8h-1.8zM488.9 270.0h1.8v1.8h-1.8zM503.5 270.0h1.8v1.8h-1.8zM532.8 270.0h1.8v1.8h-1.8zM535.8 270.0h1.8v1.8h-1.8zM541.6 270.0h1.8v1.8h-1.8zM559.2 270.0h1.8v1.8h-1.8zM562.1 270.0h1.8v1.8h-1.8zM450.8 272.9h1.8v1.8h-1.8zM462.5 272.9h1.8v1.8h-1.8zM471.3 272.9h1.8v1.8h-1.8zM477.2 272.9h1.8v1.8h-1.8zM483.0 272.9h1.8v1.8h-1.8zM485.9 272.9h1.8v1.8h-1.8zM488.9 272.9h1.8v1.8h-1.8zM509.4 272.9h1.8v1.8h-1.8zM532.8 272.9h1.8v1.8h-1.8zM538.7 272.9h1.8v1.8h-1.8zM541.6 272.9h1.8v1.8h-1.8zM544.5 272.9h1.8v1.8h-1.8zM547.5 272.9h1.8v1.8h-1.8zM559.2 272.9h1.8v1.8h-1.8zM576.8 272.9h1.8v1.8h-1.8zM442.0 275.9h1.8v1.8h-1.8zM450.8 275.9h1.8v1.8h-1.8zM459.6 275.9h1.8v1.8h-1.8zM462.5 275.9h1.8v1.8h-1.8zM465.4 275.9h1.8v1.8h-1.8zM474.2 275.9h1.8v1.8h-1.8zM483.0 275.9h1.8v1.8h-1.8zM491.8 275.9h1.8v1.8h-1.8zM503.5 275.9h1.8v1.8h-1.8zM512.3 275.9h1.8v1.8h-1.8zM515.2 275.9h1.8v1.8h-1.8zM527.0 275.9h1.8v1.8h-1.8zM532.8 275.9h1.8v1.8h-1.8zM544.5 275.9h1.8v1.8h-1.8zM550.4 275.9h1.8v1.8h-1.8zM556.3 275.9h1.8v1.8h-1.8zM573.9 275.9h1.8v1.8h-1.8zM576.8 275.9h1.8v1.8h-1.8zM442.0 278.8h1.8v1.8h-1.8zM444.9 278.8h1.8v1.8h-1.8zM450.8 278.8h1.8v1.8h-1.8zM465.4 278.8h1.8v1.8h-1.8zM468.4 278.8h1.8v1.8h-1.8zM480.1 278.8h1.8v1.8h-1.8zM483.0 278.8h1.8v1.8h-1.8zM488.9 278.8h1.8v1.8h-1.8zM491.8 278.8h1.8v1.8h-1.8zM494.7 278.8h1.8v1.8h-1.8zM506.5 278.8h1.8v1.8h-1.8zM512.3 278.8h1.8v1.8h-1.8zM521.1 278.8h1.8v1.8h-1.8zM524.0 278.8h1.8v1.8h-1.8zM527.0 278.8h1.8v1.8h-1.8zM529.9 278.8h1.8v1.8h-1.8zM547.5 278.8h1.8v1.8h-1.8zM559.2 278.8h1.8v1.8h-1.8zM570.9 278.8h1.8v1.8h-1.8zM576.8 278.8h1.8v1.8h-1.8zM442.0 281.7h1.8v1.8h-1.8zM453.7 281.7h1.8v1.8h-1.8zM456.6 281.7h1.8v1.8h-1.8zM468.4 281.7h1.8v1.8h-1.8zM474.2 281.7h1.8v1.8h-1.8zM477.2 281.7h1.8v1.8h-1.8zM480.1 281.7h1.8v1.8h-1.8zM485.9 281.7h1.8v1.8h-1.8zM491.8 281.7h1.8v1.8h-1.8zM500.6 281.7h1.8v1.8h-1.8zM506.5 281.7h1.8v1.8h-1.8zM512.3 281.7h1.8v1.8h-1.8zM515.2 281.7h1.8v1.8h-1.8zM529.9 281.7h1.8v1.8h-1.8zM538.7 281.7h1.8v1.8h-1.8zM547.5 281.7h1.8v1.8h-1.8zM568.0 281.7h1.8v1.8h-1.8zM576.8 281.7h1.8v1.8h-1.8zM442.0 284.6h1.8v1.8h-1.8zM450.8 284.6h1.8v1.8h-1.8zM456.6 284.6h1.8v1.8h-1.8zM465.4 284.6h1.8v1.8h-1.8zM471.3 284.6h1.8v1.8h-1.8zM485.9 284.6h1.8v1.8h-1.8zM491.8 284.6h1.8v1.8h-1.8zM494.7 284.6h1.8v1.8h-1.8zM500.6 284.6h1.8v1.8h-1.8zM509.4 284.6h1.8v1.8h-1.8zM529.9 284.6h1.8v1.8h-1.8zM544.5 284.6h1.8v1.8h-1.8zM562.1 284.6h1.8v1.8h-1.8zM568.0 284.6h1.8v1.8h-1.8zM570.9 284.6h1.8v1.8h-1.8zM576.8 284.6h1.8v1.8h-1.8zM447.9 287.6h1.8v1.8h-1.8zM459.6 287.6h1.8v1.8h-1.8zM468.4 287.6h1.8v1.8h-1.8zM471.3 287.6h1.8v1.8h-1.8zM480.1 287.6h1.8v1.8h-1.8zM483.0 287.6h1.8v1.8h-1.8zM485.9 287.6h1.8v1.8h-1.8zM494.7 287.6h1.8v1.8h-1.8zM509.4 287.6h1.8v1.8h-1.8zM524.0 287.6h1.8v1.8h-1.8zM527.0 287.6h1.8v1.8h-1.8zM532.8 287.6h1.8v1.8h-1.8zM541.6 287.6h1.8v1.8h-1.8zM559.2 287.6h1.8v1.8h-1.8zM562.1 287.6h1.8v1.8h-1.8zM565.1 287.6h1.8v1.8h-1.8zM447.9 290.5h1.8v1.8h-1.8zM459.6 290.5h1.8v1.8h-1.8zM485.9 290.5h1.8v1.8h-1.8zM488.9 290.5h1.8v1.8h-1.8zM506.5 290.5h1.8v1.8h-1.8zM509.4 290.5h1.8v1.8h-1.8zM518.2 290.5h1.8v1.8h-1.8zM524.0 290.5h1.8v1.8h-1.8zM529.9 290.5h1.8v1.8h-1.8zM532.8 290.5h1.8v1.8h-1.8zM547.5 290.5h1.8v1.8h-1.8zM550.4 290.5h1.8v1.8h-1.8zM559.2 290.5h1.8v1.8h-1.8zM562.1 290.5h1.8v1.8h-1.8zM568.0 290.5h1.8v1.8h-1.8zM573.9 290.5h1.8v1.8h-1.8zM444.9 293.4h1.8v1.8h-1.8zM456.6 293.4h1.8v1.8h-1.8zM480.1 293.4h1.8v1.8h-1.8zM483.0 293.4h1.8v1.8h-1.8zM485.9 293.4h1.8v1.8h-1.8zM488.9 293.4h1.8v1.8h-1.8zM512.3 293.4h1.8v1.8h-1.8zM529.9 293.4h1.8v1.8h-1.8zM556.3 293.4h1.8v1.8h-1.8zM562.1 293.4h1.8v1.8h-1.8zM565.1 293.4h1.8v1.8h-1.8zM573.9 293.4h1.8v1.8h-1.8zM576.8 293.4h1.8v1.8h-1.8zM442.0 296.4h1.8v1.8h-1.8zM453.7 296.4h1.8v1.8h-1.8zM462.5 296.4h1.8v1.8h-1.8zM468.4 296.4h1.8v1.8h-1.8zM474.2 296.4h1.8v1.8h-1.8zM477.2 296.4h1.8v1.8h-1.8zM483.0 296.4h1.8v1.8h-1.8zM488.9 296.4h1.8v1.8h-1.8zM491.8 296.4h1.8v1.8h-1.8zM503.5 296.4h1.8v1.8h-1.8zM524.0 296.4h1.8v1.8h-1.8zM527.0 296.4h1.8v1.8h-1.8zM550.4 296.4h1.8v1.8h-1.8zM556.3 296.4h1.8v1.8h-1.8zM562.1 296.4h1.8v1.8h-1.8zM576.8 296.4h1.8v1.8h-1.8zM444.9 299.3h1.8v1.8h-1.8zM459.6 299.3h1.8v1.8h-1.8zM462.5 299.3h1.8v1.8h-1.8zM468.4 299.3h1.8v1.8h-1.8zM488.9 299.3h1.8v1.8h-1.8zM503.5 299.3h1.8v1.8h-1.8zM515.2 299.3h1.8v1.8h-1.8zM521.1 299.3h1.8v1.8h-1.8zM527.0 299.3h1.8v1.8h-1.8zM562.1 299.3h1.8v1.8h-1.8zM568.0 299.3h1.8v1.8h-1.8zM576.8 299.3h1.8v1.8h-1.8zM444.9 302.2h1.8v1.8h-1.8zM459.6 302.2h1.8v1.8h-1.8zM462.5 302.2h1.8v1.8h-1.8zM465.4 302.2h1.8v1.8h-1.8zM468.4 302.2h1.8v1.8h-1.8zM477.2 302.2h1.8v1.8h-1.8zM480.1 302.2h1.8v1.8h-1.8zM485.9 302.2h1.8v1.8h-1.8zM488.9 302.2h1.8v1.8h-1.8zM491.8 302.2h1.8v1.8h-1.8zM500.6 302.2h1.8v1.8h-1.8zM503.5 302.2h1.8v1.8h-1.8zM506.5 302.2h1.8v1.8h-1.8zM509.4 302.2h1.8v1.8h-1.8zM515.2 302.2h1.8v1.8h-1.8zM521.1 302.2h1.8v1.8h-1.8zM529.9 302.2h1.8v1.8h-1.8zM532.8 302.2h1.8v1.8h-1.8zM538.7 302.2h1.8v1.8h-1.8zM541.6 302.2h1.8v1.8h-1.8zM544.5 302.2h1.8v1.8h-1.8zM556.3 302.2h1.8v1.8h-1.8zM565.1 302.2h1.8v1.8h-1.8zM573.9 302.2h1.8v1.8h-1.8zM444.9 305.1h1.8v1.8h-1.8zM462.5 305.1h1.8v1.8h-1.8zM483.0 305.1h1.8v1.8h-1.8zM488.9 305.1h1.8v1.8h-1.8zM491.8 305.1h1.8v1.8h-1.8zM494.7 305.1h1.8v1.8h-1.8zM497.7 305.1h1.8v1.8h-1.8zM500.6 305.1h1.8v1.8h-1.8zM503.5 305.1h1.8v1.8h-1.8zM509.4 305.1h1.8v1.8h-1.8zM524.0 305.1h1.8v1.8h-1.8zM541.6 305.1h1.8v1.8h-1.8zM550.4 305.1h1.8v1.8h-1.8zM565.1 305.1h1.8v1.8h-1.8zM568.0 305.1h1.8v1.8h-1.8zM570.9 305.1h1.8v1.8h-1.8zM576.8 305.1h1.8v1.8h-1.8zM442.0 308.1h1.8v1.8h-1.8zM471.3 308.1h1.8v1.8h-1.8zM474.2 308.1h1.8v1.8h-1.8zM477.2 308.1h1.8v1.8h-1.8zM527.0 308.1h1.8v1.8h-1.8zM529.9 308.1h1.8v1.8h-1.8zM562.1 308.1h1.8v1.8h-1.8zM442.0 311.0h1.8v1.8h-1.8zM450.8 311.0h1.8v1.8h-1.8zM456.6 311.0h1.8v1.8h-1.8zM471.3 311.0h1.8v1.8h-1.8zM488.9 311.0h1.8v1.8h-1.8zM491.8 311.0h1.8v1.8h-1.8zM494.7 311.0h1.8v1.8h-1.8zM503.5 311.0h1.8v1.8h-1.8zM506.5 311.0h1.8v1.8h-1.8zM515.2 311.0h1.8v1.8h-1.8zM573.9 311.0h1.8v1.8h-1.8zM576.8 311.0h1.8v1.8h-1.8z" fill="#f5c638" opacity="0.7"/>
<path d="M456.6 173.3h1.8v1.8h-1.8zM462.5 173.3h1.8v1.8h-1.8zM468.4 173.3h1.8v1.8h-1.8zM474.2 173.3h1.8v1.8h-1.8zM477.2 173.3h1.8v1.8h-1.8zM488.9 173.3h1.8v1.8h-1.8zM491.8 173.3h1.8v1.8h-1.8zM494.7 173.3h1.8v1.8h-1.8zM506.5 173.3h1.8v1.8h-1.8zM518.2 173.3h1.8v1.8h-1.8zM527.0 173.3h1.8v1.8h-1.8zM535.8 173.3h1.8v1.8h-1.8zM538.7 173.3h1.8v1.8h-1.8zM550.4 173.3h1.8v1.8h-1.8zM573.9 173.3h1.8v1.8h-1.8zM442.0 176.2h1.8v1.8h-1.8zM444.9 176.2h1.8v1.8h-1.8zM447.9 176.2h1.8v1.8h-1.8zM456.6 176.2h1.8v1.8h-1.8zM459.6 176.2h1.8v1.8h-1.8zM477.2 176.2h1.8v1.8h-1.8zM494.7 176.2h1.8v1.8h-1.8zM500.6 176.2h1.8v1.8h-1.8zM506.5 176.2h1.8v1.8h-1.8zM521.1 176.2h1.8v1.8h-1.8zM529.9 176.2h1.8v1.8h-1.8zM532.8 176.2h1.8v1.8h-1.8zM544.5 176.2h1.8v1.8h-1.8zM550.4 176.2h1.8v1.8h-1.8zM553.3 176.2h1.8v1.8h-1.8zM570.9 176.2h1.8v1.8h-1.8zM444.9 179.2h1.8v1.8h-1.8zM447.9 179.2h1.8v1.8h-1.8zM456.6 179.2h1.8v1.8h-1.8zM477.2 179.2h1.8v1.8h-1.8zM491.8 179.2h1.8v1.8h-1.8zM497.7 179.2h1.8v1.8h-1.8zM500.6 179.2h1.8v1.8h-1.8zM527.0 179.2h1.8v1.8h-1.8zM547.5 179.2h1.8v1.8h-1.8zM553.3 179.2h1.8v1.8h-1.8zM556.3 179.2h1.8v1.8h-1.8zM562.1 179.2h1.8v1.8h-1.8zM568.0 179.2h1.8v1.8h-1.8zM444.9 182.1h1.8v1.8h-1.8zM456.6 182.1h1.8v1.8h-1.8zM477.2 182.1h1.8v1.8h-1.8zM488.9 182.1h1.8v1.8h-1.8zM500.6 182.1h1.8v1.8h-1.8zM509.4 182.1h1.8v1.8h-1.8zM512.3 182.1h1.8v1.8h-1.8zM515.2 182.1h1.8v1.8h-1.8zM529.9 182.1h1.8v1.8h-1.8zM535.8 182.1h1.8v1.8h-1.8zM541.6 182.1h1.8v1.8h-1.8zM556.3 182.1h1.8v1.8h-1.8zM568.0 182.1h1.8v1.8h-1.8zM570.9 182.1h1.8v1.8h-1.8zM573.9 182.1h1.8v1.8h-1.8zM576.8 182.1h1.8v1.8h-1.8zM442.0 185.0h1.8v1.8h-1.8zM488.9 185.0h1.8v1.8h-1.8zM491.8 185.0h1.8v1.8h-1.8zM497.7 185.0h1.8v1.8h-1.8zM512.3 185.0h1.8v1.8h-1.8zM518.2 185.0h1.8v1.8h-1.8zM538.7 185.0h1.8v1.8h-1.8zM541.6 185.0h1.8v1.8h-1.8zM565.1 185.0h1.8v1.8h-1.8zM576.8 185.0h1.8v1.8h-1.8zM447.9 188.0h1.8v1.8h-1.8zM453.7 188.0h1.8v1.8h-1.8zM483.0 188.0h1.8v1.8h-1.8zM500.6 188.0h1.8v1.8h-1.8zM503.5 188.0h1.8v1.8h-1.8zM512.3 188.0h1.8v1.8h-1.8zM515.2 188.0h1.8v1.8h-1.8zM521.1 188.0h1.8v1.8h-1.8zM524.0 188.0h1.8v1.8h-1.8zM527.0 188.0h1.8v1.8h-1.8zM529.9 188.0h1.8v1.8h-1.8zM541.6 188.0h1.8v1.8h-1.8zM556.3 188.0h1.8v1.8h-1.8zM573.9 188.0h1.8v1.8h-1.8zM450.8 190.9h1.8v1.8h-1.8zM456.6 190.9h1.8v1.8h-1.8zM497.7 190.9h1.8v1.8h-1.8zM506.5 190.9h1.8v1.8h-1.8zM512.3 190.9h1.8v1.8h-1.8zM535.8 190.9h1.8v1.8h-1.8zM541.6 190.9h1.8v1.8h-1.8zM544.5 190.9h1.8v1.8h-1.8zM553.3 190.9h1.8v1.8h-1.8zM565.1 190.9h1.8v1.8h-1.8zM570.9 190.9h1.8v1.8h-1.8zM444.9 193.8h1.8v1.8h-1.8zM447.9 193.8h1.8v1.8h-1.8zM483.0 193.8h1.8v1.8h-1.8zM509.4 193.8h1.8v1.8h-1.8zM535.8 193.8h1.8v1.8h-1.8zM544.5 193.8h1.8v1.8h-1.8zM553.3 193.8h1.8v1.8h-1.8zM570.9 193.8h1.8v1.8h-1.8zM459.6 196.7h1.8v1.8h-1.8zM468.4 196.7h1.8v1.8h-1.8zM474.2 196.7h1.8v1.8h-1.8zM477.2 196.7h1.8v1.8h-1.8zM480.1 196.7h1.8v1.8h-1.8zM483.0 196.7h1.8v1.8h-1.8zM494.7 196.7h1.8v1.8h-1.8zM500.6 196.7h1.8v1.8h-1.8zM503.5 196.7h1.8v1.8h-1.8zM512.3 196.7h1.8v1.8h-1.8zM515.2 196.7h1.8v1.8h-1.8zM529.9 196.7h1.8v1.8h-1.8zM535.8 196.7h1.8v1.8h-1.8zM553.3 196.7h1.8v1.8h-1.8zM556.3 196.7h1.8v1.8h-1.8zM562.1 196.7h1.8v1.8h-1.8zM456.6 199.7h1.8v1.8h-1.8zM480.1 199.7h1.8v1.8h-1.8zM491.8 199.7h1.8v1.8h-1.8zM497.7 199.7h1.8v1.8h-1.8zM500.6 199.7h1.8v1.8h-1.8zM506.5 199.7h1.8v1.8h-1.8zM541.6 199.7h1.8v1.8h-1.8zM553.3 199.7h1.8v1.8h-1.8zM556.3 199.7h1.8v1.8h-1.8zM565.1 199.7h1.8v1.8h-1.8zM568.0 199.7h1.8v1.8h-1.8zM573.9 199.7h1.8v1.8h-1.8zM447.9 202.6h1.8v1.8h-1.8zM456.6 202.6h1.8v1.8h-1.8zM483.0 202.6h1.8v1.8h-1.8zM509.4 202.6h1.8v1.8h-1.8zM527.0 202.6h1.8v1.8h-1.8zM538.7 202.6h1.8v1.8h-1.8zM541.6 202.6h1.8v1.8h-1.8zM544.5 202.6h1.8v1.8h-1.8zM562.1 202.6h1.8v1.8h-1.8zM568.0 202.6h1.8v1.8h-1.8zM447.9 205.5h1.8v1.8h-1.8zM459.6 205.5h1.8v1.8h-1.8zM471.3 205.5h1.8v1.8h-1.8zM485.9 205.5h1.8v1.8h-1.8zM488.9 205.5h1.8v1.8h-1.8zM503.5 205.5h1.8v1.8h-1.8zM506.5 205.5h1.8v1.8h-1.8zM509.4 205.5h1.8v1.8h-1.8zM515.2 205.5h1.8v1.8h-1.8zM518.2 205.5h1.8v1.8h-1.8zM524.0 205.5h1.8v1.8h-1.8zM527.0 205.5h1.8v1.8h-1.8zM532.8 205.5h1.8v1.8h-1.8zM535.8 205.5h1.8v1.8h-1.8zM541.6 205.5h1.8v1.8h-1.8zM556.3 205.5h1.8v1.8h-1.8zM565.1 205.5h1.8v1.8h-1.8zM570.9 205.5h1.8v1.8h-1.8zM573.9 205.5h1.8v1.8h-1.8zM468.4 208.5h1.8v1.8h-1.8zM471.3 208.5h1.8v1.8h-1.8zM480.1 208.5h1.8v1.8h-1.8zM488.9 208.5h1.8v1.8h-1.8zM491.8 208.5h1.8v1.8h-1.8zM512.3 208.5h1.8v1.8h-1.8zM518.2 208.5h1.8v1.8h-1.8zM532.8 208.5h1.8v1.8h-1.8zM535.8 208.5h1.8v1.8h-1.8zM547.5 208.5h1.8v1.8h-1.8zM553.3 208.5h1.8v1.8h-1.8zM562.1 208.5h1.8v1.8h-1.8zM568.0 208.5h1.8v1.8h-1.8zM444.9 211.4h1.8v1.8h-1.8zM447.9 211.4h1.8v1.8h-1.8zM459.6 211.4h1.8v1.8h-1.8zM474.2 211.4h1.8v1.8h-1.8zM480.1 211.4h1.8v1.8h-1.8zM485.9 211.4h1.8v1.8h-1.8zM515.2 211.4h1.8v1.8h-1.8zM529.9 211.4h1.8v1.8h-1.8zM553.3 211.4h1.8v1.8h-1.8zM559.2 211.4h1.8v1.8h-1.8zM565.1 211.4h1.8v1.8h-1.8zM444.9 214.3h1.8v1.8h-1.8zM447.9 214.3h1.8v1.8h-1.8zM491.8 214.3h1.8v1.8h-1.8zM509.4 214.3h1.8v1.8h-1.8zM524.0 214.3h1.8v1.8h-1.8zM529.9 214.3h1.8v1.8h-1.8zM535.8 214.3h1.8v1.8h-1.8zM538.7 214.3h1.8v1.8h-1.8zM544.5 214.3h1.8v1.8h-1.8zM547.5 214.3h1.8v1.8h-1.8zM550.4 214.3h1.8v1.8h-1.8zM576.8 214.3h1.8v1.8h-1.8zM444.9 217.2h1.8v1.8h-1.8zM447.9 217.2h1.8v1.8h-1.8zM453.7 217.2h1.8v1.8h-1.8zM471.3 217.2h1.8v1.8h-1.8zM494.7 217.2h1.8v1.8h-1.8zM500.6 217.2h1.8v1.8h-1.8zM503.5 217.2h1.8v1.8h-1.8zM512.3 217.2h1.8v1.8h-1.8zM521.1 217.2h1.8v1.8h-1.8zM532.8 217.2h1.8v1.8h-1.8zM562.1 217.2h1.8v1.8h-1.8zM565.1 217.2h1.8v1.8h-1.8zM447.9 220.2h1.8v1.8h-1.8zM453.7 220.2h1.8v1.8h-1.8zM468.4 220.2h1.8v1.8h-1.8zM471.3 220.2h1.8v1.8h-1.8zM474.2 220.2h1.8v1.8h-1.8zM503.5 220.2h1.8v1.8h-1.8zM506.5 220.2h1.8v1.8h-1.8zM509.4 220.2h1.8v1.8h-1.8zM524.0 220.2h1.8v1.8h-1.8zM538.7 220.2h1.8v1.8h-1.8zM547.5 220.2h1.8v1.8h-1.8zM553.3 220.2h1.8v1.8h-1.8zM568.0 220.2h1.8v1.8h-1.8zM573.9 220.2h1.8v1.8h-1.8zM453.7 223.1h1.8v1.8h-1.8zM456.6 223.1h1.8v1.8h-1.8zM468.4 223.1h1.8v1.8h-1.8zM480.1 223.1h1.8v1.8h-1.8zM500.6 223.1h1.8v1.8h-1.8zM503.5 223.1h1.8v1.8h-1.8zM509.4 223.1h1.8v1.8h-1.8zM515.2 223.1h1.8v1.8h-1.8zM524.0 223.1h1.8v1.8h-1.8zM529.9 223.1h1.8v1.8h-1.8zM562.1 223.1h1.8v1.8h-1.8zM576.8 223.1h1.8v1.8h-1.8zM447.9 226.0h1.8v1.8h-1.8zM453.7 226.0h1.8v1.8h-1.8zM459.6 226.0h1.8v1.8h-1.8zM474.2 226.0h1.8v1.8h-1.8zM488.9 226.0h1.8v1.8h-1.8zM515.2 226.0h1.8v1.8h-1.8zM518.2 226.0h1.8v1.8h-1.8zM535.8 226.0h1.8v1.8h-1.8zM538.7 226.0h1.8v1.8h-1.8zM541.6 226.0h1.8v1.8h-1.8zM570.9 226.0h1.8v1.8h-1.8zM573.9 226.0h1.8v1.8h-1.8zM462.5 229.0h1.8v1.8h-1.8zM477.2 229.0h1.8v1.8h-1.8zM485.9 229.0h1.8v1.8h-1.8zM491.8 229.0h1.8v1.8h-1.8zM506.5 229.0h1.8v1.8h-1.8zM518.2 229.0h1.8v1.8h-1.8zM532.8 229.0h1.8v1.8h-1.8zM535.8 229.0h1.8v1.8h-1.8zM550.4 229.0h1.8v1.8h-1.8zM553.3 229.0h1.8v1.8h-1.8zM444.9 231.9h1.8v1.8h-1.8zM447.9 231.9h1.8v1.8h-1.8zM450.8 231.9h1.8v1.8h-1.8zM459.6 231.9h1.8v1.8h-1.8zM462.5 231.9h1.8v1.8h-1.8zM465.4 231.9h1.8v1.8h-1.8zM468.4 231.9h1.8v1.8h-1.8zM494.7 231.9h1.8v1.8h-1.8zM503.5 231.9h1.8v1.8h-1.8zM506.5 231.9h1.8v1.8h-1.8zM518.2 231.9h1.8v1.8h-1.8zM527.0 231.9h1.8v1.8h-1.8zM532.8 231.9h1.8v1.8h-1.8zM535.8 231.9h1.8v1.8h-1.8zM547.5 231.9h1.8v1.8h-1.8zM570.9 231.9h1.8v1.8h-1.8zM450.8 234.8h1.8v1.8h-1.8zM453.7 234.8h1.8v1.8h-1.8zM480.1 234.8h1.8v1.8h-1.8zM500.6 234.8h1.8v1.8h-1.8zM503.5 234.8h1.8v1.8h-1.8zM527.0 234.8h1.8v1.8h-1.8zM532.8 234.8h1.8v1.8h-1.8zM535.8 234.8h1.8v1.8h-1.8zM538.7 234.8h1.8v1.8h-1.8zM547.5 234.8h1.8v1.8h-1.8zM559.2 234.8h1.8v1.8h-1.8zM562.1 234.8h1.8v1.8h-1.8zM573.9 234.8h1.8v1.8h-1.8zM442.0 237.8h1.8v1.8h-1.8zM453.7 237.8h1.8v1.8h-1.8zM456.6 237.8h1.8v1.8h-1.8zM459.6 237.8h1.8v1.8h-1.8zM474.2 237.8h1.8v1.8h-1.8zM480.1 237.8h1.8v1.8h-1.8zM500.6 237.8h1.8v1.8h-1.8zM503.5 237.8h1.8v1.8h-1.8zM506.5 237.8h1.8v1.8h-1.8zM541.6 237.8h1.8v1.8h-1.8zM544.5 237.8h1.8v1.8h-1.8zM550.4 237.8h1.8v1.8h-1.8zM553.3 237.8h1.8v1.8h-1.8zM559.2 237.8h1.8v1.8h-1.8zM576.8 237.8h1.8v1.8h-1.8zM456.6 240.7h1.8v1.8h-1.8zM468.4 240.7h1.8v1.8h-1.8zM477.2 240.7h1.8v1.8h-1.8zM488.9 240.7h1.8v1.8h-1.8zM494.7 240.7h1.8v1.8h-1.8zM497.7 240.7h1.8v1.8h-1.8zM509.4 240.7h1.8v1.8h-1.8zM515.2 240.7h1.8v1.8h-1.8zM527.0 240.7h1.8v1.8h-1.8zM532.8 240.7h1.8v1.8h-1.8zM538.7 240.7h1.8v1.8h-1.8zM544.5 240.7h1.8v1.8h-1.8zM550.4 240.7h1.8v1.8h-1.8zM556.3 240.7h1.8v1.8h-1.8zM559.2 240.7h1.8v1.8h-1.8zM568.0 240.7h1.8v1.8h-1.8zM570.9 240.7h1.8v1.8h-1.8zM442.0 243.6h1.8v1.8h-1.8zM462.5 243.6h1.8v1.8h-1.8zM483.0 243.6h1.8v1.8h-1.8zM488.9 243.6h1.8v1.8h-1.8zM494.7 243.6h1.8v1.8h-1.8zM497.7 243.6h1.8v1.8h-1.8zM524.0 243.6h1.8v1.8h-1.8zM547.5 243.6h1.8v1.8h-1.8zM556.3 243.6h1.8v1.8h-1.8zM568.0 243.6h1.8v1.8h-1.8zM447.9 246.6h1.8v1.8h-1.8zM471.3 246.6h1.8v1.8h-1.8zM477.2 246.6h1.8v1.8h-1.8zM483.0 246.6h1.8v1.8h-1.8zM485.9 246.6h1.8v1.8h-1.8zM494.7 246.6h1.8v1.8h-1.8zM497.7 246.6h1.8v1.8h-1.8zM500.6 246.6h1.8v1.8h-1.8zM503.5 246.6h1.8v1.8h-1.8zM515.2 246.6h1.8v1.8h-1.8zM518.2 246.6h1.8v1.8h-1.8zM529.9 246.6h1.8v1.8h-1.8zM535.8 246.6h1.8v1.8h-1.8zM541.6 246.6h1.8v1.8h-1.8zM547.5 246.6h1.8v1.8h-1.8zM556.3 246.6h1.8v1.8h-1.8zM562.1 246.6h1.8v1.8h-1.8zM573.9 246.6h1.8v1.8h-1.8zM442.0 249.5h1.8v1.8h-1.8zM444.9 249.5h1.8v1.8h-1.8zM447.9 249.5h1.8v1.8h-1.8zM450.8 249.5h1.8v1.8h-1.8zM456.6 249.5h1.8v1.8h-1.8zM468.4 249.5h1.8v1.8h-1.8zM471.3 249.5h1.8v1.8h-1.8zM474.2 249.5h1.8v1.8h-1.8zM477.2 249.5h1.8v1.8h-1.8zM494.7 249.5h1.8v1.8h-1.8zM500.6 249.5h1.8v1.8h-1.8zM506.5 249.5h1.8v1.8h-1.8zM515.2 249.5h1.8v1.8h-1.8zM538.7 249.5h1.8v1.8h-1.8zM550.4 249.5h1.8v1.8h-1.8zM565.1 249.5h1.8v1.8h-1.8zM573.9 249.5h1.8v1.8h-1.8zM442.0 252.4h1.8v1.8h-1.8zM447.9 252.4h1.8v1.8h-1.8zM459.6 252.4h1.8v1.8h-1.8zM462.5 252.4h1.8v1.8h-1.8zM468.4 252.4h1.8v1.8h-1.8zM483.0 252.4h1.8v1.8h-1.8zM497.7 252.4h1.8v1.8h-1.8zM509.4 252.4h1.8v1.8h-1.8zM529.9 252.4h1.8v1.8h-1.8zM544.5 252.4h1.8v1.8h-1.8zM550.4 252.4h1.8v1.8h-1.8zM556.3 252.4h1.8v1.8h-1.8zM562.1 252.4h1.8v1.8h-1.8zM444.9 255.3h1.8v1.8h-1.8zM468.4 255.3h1.8v1.8h-1.8zM483.0 255.3h1.8v1.8h-1.8zM485.9 255.3h1.8v1.8h-1.8zM491.8 255.3h1.8v1.8h-1.8zM500.6 255.3h1.8v1.8h-1.8zM506.5 255.3h1.8v1.8h-1.8zM518.2 255.3h1.8v1.8h-1.8zM521.1 255.3h1.8v1.8h-1.8zM532.8 255.3h1.8v1.8h-1.8zM541.6 255.3h1.8v1.8h-1.8zM550.4 255.3h1.8v1.8h-1.8zM559.2 255.3h1.8v1.8h-1.8zM568.0 255.3h1.8v1.8h-1.8zM444.9 258.3h1.8v1.8h-1.8zM450.8 258.3h1.8v1.8h-1.8zM462.5 258.3h1.8v1.8h-1.8zM480.1 258.3h1.8v1.8h-1.8zM491.8 258.3h1.8v1.8h-1.8zM494.7 258.3h1.8v1.8h-1.8zM506.5 258.3h1.8v1.8h-1.8zM515.2 258.3h1.8v1.8h-1.8zM521.1 258.3h1.8v1.8h-1.8zM524.0 258.3h1.8v1.8h-1.8zM535.8 258.3h1.8v1.8h-1.8zM541.6 258.3h1.8v1.8h-1.8zM547.5 258.3h1.8v1.8h-1.8zM550.4 258.3h1.8v1.8h-1.8zM553.3 258.3h1.8v1.8h-1.8zM556.3 258.3h1.8v1.8h-1.8zM568.0 258.3h1.8v1.8h-1.8zM570.9 258.3h1.8v1.8h-1.8zM444.9 261.2h1.8v1.8h-1.8zM450.8 261.2h1.8v1.8h-1.8zM453.7 261.2h1.8v1.8h-1.8zM474.2 261.2h1.8v1.8h-1.8zM477.2 261.2h1.8v1.8h-1.8zM480.1 261.2h1.8v1.8h-1.8zM509.4 261.2h1.8v1.8h-1.8zM512.3 261.2h1.8v1.8h-1.8zM529.9 261.2h1.8v1.8h-1.8zM538.7 261.2h1.8v1.8h-1.8zM550.4 261.2h1.8v1.8h-1.8zM556.3 261.2h1.8v1.8h-1.8zM562.1 261.2h1.8v1.8h-1.8zM570.9 261.2h1.8v1.8h-1.8zM453.7 264.1h1.8v1.8h-1.8zM471.3 264.1h1.8v1.8h-1.8zM477.2 264.1h1.8v1.8h-1.8zM491.8 264.1h1.8v1.8h-1.8zM497.7 264.1h1.8v1.8h-1.8zM509.4 264.1h1.8v1.8h-1.8zM515.2 264.1h1.8v1.8h-1.8zM535.8 264.1h1.8v1.8h-1.8zM559.2 264.1h1.8v1.8h-1.8zM562.1 264.1h1.8v1.8h-1.8zM568.0 264.1h1.8v1.8h-1.8zM573.9 264.1h1.8v1.8h-1.8zM444.9 267.1h1.8v1.8h-1.8zM450.8 267.1h1.8v1.8h-1.8zM465.4 267.1h1.8v1.8h-1.8zM468.4 267.1h1.8v1.8h-1.8zM474.2 267.1h1.8v1.8h-1.8zM485.9 267.1h1.8v1.8h-1.8zM488.9 267.1h1.8v1.8h-1.8zM491.8 267.1h1.8v1.8h-1.8zM524.0 267.1h1.8v1.8h-1.8zM532.8 267.1h1.8v1.8h-1.8zM535.8 267.1h1.8v1.8h-1.8zM541.6 267.1h1.8v1.8h-1.8zM547.5 267.1h1.8v1.8h-1.8zM559.2 267.1h1.8v1.8h-1.8zM573.9 267.1h1.8v1.8h-1.8zM444.9 270.0h1.8v1.8h-1.8zM456.6 270.0h1.8v1.8h-1.8zM462.5 270.0h1.8v1.8h-1.8zM480.1 270.0h1.8v1.8h-1.8zM483.0 270.0h1.8v1.8h-1.8zM485.9 270.0h1.8v1.8h-1.8zM494.7 270.0h1.8v1.8h-1.8zM500.6 270.0h1.8v1.8h-1.8zM509.4 270.0h1.8v1.8h-1.8zM512.3 270.0h1.8v1.8h-1.8zM515.2 270.0h1.8v1.8h-1.8zM527.0 270.0h1.8v1.8h-1.8zM538.7 270.0h1.8v1.8h-1.8zM544.5 270.0h1.8v1.8h-1.8zM547.5 270.0h1.8v1.8h-1.8zM550.4 270.0h1.8v1.8h-1.8zM556.3 270.0h1.8v1.8h-1.8zM568.0 270.0h1.8v1.8h-1.8zM573.9 270.0h1.8v1.8h-1.8zM576.8 270.0h1.8v1.8h-1.8zM453.7 272.9h1.8v1.8h-1.8zM456.6 272.9h1.8v1.8h-1.8zM465.4 272.9h1.8v1.8h-1.8zM468.4 272.9h1.8v1.8h-1.8zM491.8 272.9h1.8v1.8h-1.8zM506.5 272.9h1.8v1.8h-1.8zM512.3 272.9h1.8v1.8h-1.8zM518.2 272.9h1.8v1.8h-1.8zM524.0 272.9h1.8v1.8h-1.8zM550.4 272.9h1.8v1.8h-1.8zM553.3 272.9h1.8v1.8h-1.8zM562.1 272.9h1.8v1.8h-1.8zM565.1 272.9h1.8v1.8h-1.8zM568.0 272.9h1.8v1.8h-1.8zM573.9 272.9h1.8v1.8h-1.8zM447.9 275.9h1.8v1.8h-1.8zM456.6 275.9h1.8v1.8h-1.8zM468.4 275.9h1.8v1.8h-1.8zM477.2 275.9h1.8v1.8h-1.8zM497.7 275.9h1.8v1.8h-1.8zM506.5 275.9h1.8v1.8h-1.8zM518.2 275.9h1.8v1.8h-1.8zM521.1 275.9h1.8v1.8h-1.8zM529.9 275.9h1.8v1.8h-1.8zM547.5 275.9h1.8v1.8h-1.8zM553.3 275.9h1.8v1.8h-1.8zM559.2 275.9h1.8v1.8h-1.8zM447.9 278.8h1.8v1.8h-1.8zM456.6 278.8h1.8v1.8h-1.8zM474.2 278.8h1.8v1.8h-1.8zM503.5 278.8h1.8v1.8h-1.8zM509.4 278.8h1.8v1.8h-1.8zM532.8 278.8h1.8v1.8h-1.8zM535.8 278.8h1.8v1.8h-1.8zM538.7 278.8h1.8v1.8h-1.8zM541.6 278.8h1.8v1.8h-1.8zM544.5 278.8h1.8v1.8h-1.8zM550.4 278.8h1.8v1.8h-1.8zM553.3 278.8h1.8v1.8h-1.8zM556.3 278.8h1.8v1.8h-1.8zM562.1 278.8h1.8v1.8h-1.8zM565.1 278.8h1.8v1.8h-1.8zM573.9 278.8h1.8v1.8h-1.8zM444.9 281.7h1.8v1.8h-1.8zM447.9 281.7h1.8v1.8h-1.8zM450.8 281.7h1.8v1.8h-1.8zM459.6 281.7h1.8v1.8h-1.8zM462.5 281.7h1.8v1.8h-1.8zM471.3 281.7h1.8v1.8h-1.8zM483.0 281.7h1.8v1.8h-1.8zM497.7 281.7h1.8v1.8h-1.8zM509.4 281.7h1.8v1.8h-1.8zM518.2 281.7h1.8v1.8h-1.8zM535.8 281.7h1.8v1.8h-1.8zM550.4 281.7h1.8v1.8h-1.8zM556.3 281.7h1.8v1.8h-1.8zM559.2 281.7h1.8v1.8h-1.8zM573.9 281.7h1.8v1.8h-1.8zM447.9 284.6h1.8v1.8h-1.8zM453.7 284.6h1.8v1.8h-1.8zM468.4 284.6h1.8v1.8h-1.8zM483.0 284.6h1.8v1.8h-1.8zM488.9 284.6h1.8v1.8h-1.8zM503.5 284.6h1.8v1.8h-1.8zM512.3 284.6h1.8v1.8h-1.8zM515.2 284.6h1.8v1.8h-1.8zM521.1 284.6h1.8v1.8h-1.8zM573.9 284.6h1.8v1.8h-1.8zM442.0 287.6h1.8v1.8h-1.8zM450.8 287.6h1.8v1.8h-1.8zM462.5 287.6h1.8v1.8h-1.8zM497.7 287.6h1.8v1.8h-1.8zM500.6 287.6h1.8v1.8h-1.8zM512.3 287.6h1.8v1.8h-1.8zM529.9 287.6h1.8v1.8h-1.8zM538.7 287.6h1.8v1.8h-1.8zM547.5 287.6h1.8v1.8h-1.8zM553.3 287.6h1.8v1.8h-1.8zM556.3 287.6h1.8v1.8h-1.8zM576.8 287.6h1.8v1.8h-1.8zM450.8 290.5h1.8v1.8h-1.8zM453.7 290.5h1.8v1.8h-1.8zM456.6 290.5h1.8v1.8h-1.8zM465.4 290.5h1.8v1.8h-1.8zM471.3 290.5h1.8v1.8h-1.8zM474.2 290.5h1.8v1.8h-1.8zM477.2 290.5h1.8v1.8h-1.8zM480.1 290.5h1.8v1.8h-1.8zM483.0 290.5h1.8v1.8h-1.8zM497.7 290.5h1.8v1.8h-1.8zM500.6 290.5h1.8v1.8h-1.8zM515.2 290.5h1.8v1.8h-1.8zM527.0 290.5h1.8v1.8h-1.8zM556.3 290.5h1.8v1.8h-1.8zM565.1 290.5h1.8v1.8h-1.8zM570.9 290.5h1.8v1.8h-1.8zM576.8 290.5h1.8v1.8h-1.8zM442.0 293.4h1.8v1.8h-1.8zM447.9 293.4h1.8v1.8h-1.8zM453.7 293.4h1.8v1.8h-1.8zM465.4 293.4h1.8v1.8h-1.8zM471.3 293.4h1.8v1.8h-1.8zM503.5 293.4h1.8v1.8h-1.8zM506.5 293.4h1.8v1.8h-1.8zM515.2 293.4h1.8v1.8h-1.8zM532.8 293.4h1.8v1.8h-1.8zM535.8 293.4h1.8v1.8h-1.8zM550.4 293.4h1.8v1.8h-1.8zM568.0 293.4h1.8v1.8h-1.8zM447.9 296.4h1.8v1.8h-1.8zM465.4 296.4h1.8v1.8h-1.8zM480.1 296.4h1.8v1.8h-1.8zM485.9 296.4h1.8v1.8h-1.8zM521.1 296.4h1.8v1.8h-1.8zM541.6 296.4h1.8v1.8h-1.8zM544.5 296.4h1.8v1.8h-1.8zM547.5 296.4h1.8v1.8h-1.8zM570.9 296.4h1.8v1.8h-1.8zM573.9 296.4h1.8v1.8h-1.8zM442.0 299.3h1.8v1.8h-1.8zM447.9 299.3h1.8v1.8h-1.8zM450.8 299.3h1.8v1.8h-1.8zM471.3 299.3h1.8v1.8h-1.8zM480.1 299.3h1.8v1.8h-1.8zM483.0 299.3h1.8v1.8h-1.8zM491.8 299.3h1.8v1.8h-1.8zM541.6 299.3h1.8v1.8h-1.8zM544.5 299.3h1.8v1.8h-1.8zM556.3 299.3h1.8v1.8h-1.8zM559.2 299.3h1.8v1.8h-1.8zM570.9 299.3h1.8v1.8h-1.8zM573.9 299.3h1.8v1.8h-1.8zM442.0 302.2h1.8v1.8h-1.8zM447.9 302.2h1.8v1.8h-1.8zM450.8 302.2h1.8v1.8h-1.8zM471.3 302.2h1.8v1.8h-1.8zM518.2 302.2h1.8v1.8h-1.8zM524.0 302.2h1.8v1.8h-1.8zM547.5 302.2h1.8v1.8h-1.8zM568.0 302.2h1.8v1.8h-1.8zM447.9 305.1h1.8v1.8h-1.8zM453.7 305.1h1.8v1.8h-1.8zM465.4 305.1h1.8v1.8h-1.8zM468.4 305.1h1.8v1.8h-1.8zM485.9 305.1h1.8v1.8h-1.8zM506.5 305.1h1.8v1.8h-1.8zM512.3 305.1h1.8v1.8h-1.8zM518.2 305.1h1.8v1.8h-1.8zM521.1 305.1h1.8v1.8h-1.8zM529.9 305.1h1.8v1.8h-1.8zM538.7 305.1h1.8v1.8h-1.8zM559.2 305.1h1.8v1.8h-1.8zM562.1 305.1h1.8v1.8h-1.8zM453.7 308.1h1.8v1.8h-1.8zM462.5 308.1h1.8v1.8h-1.8zM465.4 308.1h1.8v1.8h-1.8zM468.4 308.1h1.8v1.8h-1.8zM480.1 308.1h1.8v1.8h-1.8zM483.0 308.1h1.8v1.8h-1.8zM488.9 308.1h1.8v1.8h-1.8zM494.7 308.1h1.8v1.8h-1.8zM506.5 308.1h1.8v1.8h-1.8zM512.3 308.1h1.8v1.8h-1.8zM524.0 308.1h1.8v1.8h-1.8zM532.8 308.1h1.8v1.8h-1.8zM535.8 308.1h1.8v1.8h-1.8zM553.3 308.1h1.8v1.8h-1.8zM444.9 311.0h1.8v1.8h-1.8zM447.9 311.0h1.8v1.8h-1.8zM462.5 311.0h1.8v1.8h-1.8zM474.2 311.0h1.8v1.8h-1.8zM485.9 311.0h1.8v1.8h-1.8zM500.6 311.0h1.8v1.8h-1.8zM509.4 311.0h1.8v1.8h-1.8zM518.2 311.0h1.8v1.8h-1.8zM524.0 311.0h1.8v1.8h-1.8zM527.0 311.0h1.8v1.8h-1.8zM529.9 311.0h1.8v1.8h-1.8zM538.7 311.0h1.8v1.8h-1.8zM541.6 311.0h1.8v1.8h-1.8zM544.5 311.0h1.8v1.8h-1.8zM547.5 311.0h1.8v1.8h-1.8zM565.1 311.0h1.8v1.8h-1.8z" fill="#2d55f0" opacity="0.7"/>
<path d="M450.8 173.3h1.8v1.8h-1.8zM465.4 173.3h1.8v1.8h-1.8zM547.5 173.3h1.8v1.8h-1.8zM562.1 173.3h1.8v1.8h-1.8zM453.7 176.2h1.8v1.8h-1.8zM465.4 176.2h1.8v1.8h-1.8zM474.2 176.2h1.8v1.8h-1.8zM503.5 176.2h1.8v1.8h-1.8zM512.3 176.2h1.8v1.8h-1.8zM538.7 176.2h1.8v1.8h-1.8zM547.5 176.2h1.8v1.8h-1.8zM556.3 176.2h1.8v1.8h-1.8zM494.7 179.2h1.8v1.8h-1.8zM518.2 179.2h1.8v1.8h-1.8zM532.8 179.2h1.8v1.8h-1.8zM538.7 179.2h1.8v1.8h-1.8zM570.9 179.2h1.8v1.8h-1.8zM576.8 179.2h1.8v1.8h-1.8zM491.8 182.1h1.8v1.8h-1.8zM562.1 182.1h1.8v1.8h-1.8zM447.9 185.0h1.8v1.8h-1.8zM506.5 185.0h1.8v1.8h-1.8zM521.1 185.0h1.8v1.8h-1.8zM550.4 185.0h1.8v1.8h-1.8zM553.3 185.0h1.8v1.8h-1.8zM556.3 185.0h1.8v1.8h-1.8zM570.9 185.0h1.8v1.8h-1.8zM474.2 188.0h1.8v1.8h-1.8zM477.2 188.0h1.8v1.8h-1.8zM532.8 188.0h1.8v1.8h-1.8zM547.5 188.0h1.8v1.8h-1.8zM553.3 188.0h1.8v1.8h-1.8zM480.1 190.9h1.8v1.8h-1.8zM509.4 190.9h1.8v1.8h-1.8zM518.2 190.9h1.8v1.8h-1.8zM532.8 190.9h1.8v1.8h-1.8zM474.2 193.8h1.8v1.8h-1.8zM485.9 193.8h1.8v1.8h-1.8zM503.5 193.8h1.8v1.8h-1.8zM550.4 193.8h1.8v1.8h-1.8zM559.2 193.8h1.8v1.8h-1.8zM465.4 196.7h1.8v1.8h-1.8zM491.8 196.7h1.8v1.8h-1.8zM506.5 196.7h1.8v1.8h-1.8zM547.5 196.7h1.8v1.8h-1.8zM471.3 199.7h1.8v1.8h-1.8zM474.2 199.7h1.8v1.8h-1.8zM485.9 199.7h1.8v1.8h-1.8zM503.5 199.7h1.8v1.8h-1.8zM527.0 199.7h1.8v1.8h-1.8zM562.1 199.7h1.8v1.8h-1.8zM570.9 199.7h1.8v1.8h-1.8zM453.7 202.6h1.8v1.8h-1.8zM474.2 202.6h1.8v1.8h-1.8zM480.1 202.6h1.8v1.8h-1.8zM494.7 202.6h1.8v1.8h-1.8zM559.2 202.6h1.8v1.8h-1.8zM576.8 202.6h1.8v1.8h-1.8zM444.9 205.5h1.8v1.8h-1.8zM465.4 205.5h1.8v1.8h-1.8zM497.7 205.5h1.8v1.8h-1.8zM562.1 205.5h1.8v1.8h-1.8zM456.6 208.5h1.8v1.8h-1.8zM462.5 208.5h1.8v1.8h-1.8zM465.4 208.5h1.8v1.8h-1.8zM485.9 208.5h1.8v1.8h-1.8zM509.4 208.5h1.8v1.8h-1.8zM515.2 208.5h1.8v1.8h-1.8zM521.1 208.5h1.8v1.8h-1.8zM538.7 208.5h1.8v1.8h-1.8zM556.3 208.5h1.8v1.8h-1.8zM570.9 208.5h1.8v1.8h-1.8zM450.8 211.4h1.8v1.8h-1.8zM500.6 211.4h1.8v1.8h-1.8zM512.3 211.4h1.8v1.8h-1.8zM442.0 214.3h1.8v1.8h-1.8zM474.2 214.3h1.8v1.8h-1.8zM480.1 214.3h1.8v1.8h-1.8zM521.1 214.3h1.8v1.8h-1.8zM532.8 214.3h1.8v1.8h-1.8zM541.6 214.3h1.8v1.8h-1.8zM459.6 217.2h1.8v1.8h-1.8zM480.1 217.2h1.8v1.8h-1.8zM485.9 217.2h1.8v1.8h-1.8zM456.6 220.2h1.8v1.8h-1.8zM465.4 220.2h1.8v1.8h-1.8zM497.7 220.2h1.8v1.8h-1.8zM532.8 220.2h1.8v1.8h-1.8zM506.5 223.1h1.8v1.8h-1.8zM527.0 223.1h1.8v1.8h-1.8zM538.7 223.1h1.8v1.8h-1.8zM541.6 223.1h1.8v1.8h-1.8zM544.5 223.1h1.8v1.8h-1.8zM568.0 223.1h1.8v1.8h-1.8zM442.0 226.0h1.8v1.8h-1.8zM444.9 226.0h1.8v1.8h-1.8zM491.8 226.0h1.8v1.8h-1.8zM556.3 226.0h1.8v1.8h-1.8zM568.0 226.0h1.8v1.8h-1.8zM576.8 226.0h1.8v1.8h-1.8zM444.9 229.0h1.8v1.8h-1.8zM471.3 229.0h1.8v1.8h-1.8zM488.9 229.0h1.8v1.8h-1.8zM512.3 229.0h1.8v1.8h-1.8zM521.1 229.0h1.8v1.8h-1.8zM541.6 229.0h1.8v1.8h-1.8zM562.1 229.0h1.8v1.8h-1.8zM573.9 229.0h1.8v1.8h-1.8zM477.2 231.9h1.8v1.8h-1.8zM553.3 231.9h1.8v1.8h-1.8zM565.1 231.9h1.8v1.8h-1.8zM444.9 234.8h1.8v1.8h-1.8zM488.9 234.8h1.8v1.8h-1.8zM491.8 234.8h1.8v1.8h-1.8zM512.3 234.8h1.8v1.8h-1.8zM565.1 234.8h1.8v1.8h-1.8zM568.0 234.8h1.8v1.8h-1.8zM485.9 237.8h1.8v1.8h-1.8zM494.7 237.8h1.8v1.8h-1.8zM524.0 237.8h1.8v1.8h-1.8zM527.0 237.8h1.8v1.8h-1.8zM459.6 240.7h1.8v1.8h-1.8zM485.9 240.7h1.8v1.8h-1.8zM512.3 240.7h1.8v1.8h-1.8zM529.9 240.7h1.8v1.8h-1.8zM444.9 243.6h1.8v1.8h-1.8zM456.6 243.6h1.8v1.8h-1.8zM474.2 243.6h1.8v1.8h-1.8zM512.3 243.6h1.8v1.8h-1.8zM541.6 243.6h1.8v1.8h-1.8zM553.3 243.6h1.8v1.8h-1.8zM565.1 243.6h1.8v1.8h-1.8zM491.8 246.6h1.8v1.8h-1.8zM506.5 246.6h1.8v1.8h-1.8zM524.0 246.6h1.8v1.8h-1.8zM527.0 246.6h1.8v1.8h-1.8zM553.3 246.6h1.8v1.8h-1.8zM462.5 249.5h1.8v1.8h-1.8zM483.0 249.5h1.8v1.8h-1.8zM503.5 249.5h1.8v1.8h-1.8zM544.5 249.5h1.8v1.8h-1.8zM450.8 252.4h1.8v1.8h-1.8zM456.6 252.4h1.8v1.8h-1.8zM488.9 252.4h1.8v1.8h-1.8zM512.3 252.4h1.8v1.8h-1.8zM573.9 252.4h1.8v1.8h-1.8zM462.5 255.3h1.8v1.8h-1.8zM535.8 255.3h1.8v1.8h-1.8zM556.3 255.3h1.8v1.8h-1.8zM570.9 255.3h1.8v1.8h-1.8zM576.8 255.3h1.8v1.8h-1.8zM465.4 258.3h1.8v1.8h-1.8zM483.0 258.3h1.8v1.8h-1.8zM503.5 258.3h1.8v1.8h-1.8zM509.4 258.3h1.8v1.8h-1.8zM518.2 258.3h1.8v1.8h-1.8zM576.8 258.3h1.8v1.8h-1.8zM468.4 261.2h1.8v1.8h-1.8zM524.0 261.2h1.8v1.8h-1.8zM442.0 264.1h1.8v1.8h-1.8zM450.8 264.1h1.8v1.8h-1.8zM468.4 264.1h1.8v1.8h-1.8zM503.5 264.1h1.8v1.8h-1.8zM547.5 264.1h1.8v1.8h-1.8zM553.3 264.1h1.8v1.8h-1.8zM459.6 267.1h1.8v1.8h-1.8zM462.5 267.1h1.8v1.8h-1.8zM480.1 267.1h1.8v1.8h-1.8zM494.7 267.1h1.8v1.8h-1.8zM506.5 267.1h1.8v1.8h-1.8zM515.2 267.1h1.8v1.8h-1.8zM518.2 267.1h1.8v1.8h-1.8zM529.9 267.1h1.8v1.8h-1.8zM544.5 267.1h1.8v1.8h-1.8zM553.3 267.1h1.8v1.8h-1.8zM562.1 267.1h1.8v1.8h-1.8zM506.5 270.0h1.8v1.8h-1.8zM518.2 270.0h1.8v1.8h-1.8zM529.9 270.0h1.8v1.8h-1.8zM444.9 272.9h1.8v1.8h-1.8zM480.1 272.9h1.8v1.8h-1.8zM503.5 272.9h1.8v1.8h-1.8zM556.3 272.9h1.8v1.8h-1.8zM471.3 275.9h1.8v1.8h-1.8zM485.9 275.9h1.8v1.8h-1.8zM494.7 275.9h1.8v1.8h-1.8zM509.4 275.9h1.8v1.8h-1.8zM524.0 275.9h1.8v1.8h-1.8zM541.6 275.9h1.8v1.8h-1.8zM459.6 278.8h1.8v1.8h-1.8zM462.5 278.8h1.8v1.8h-1.8zM494.7 281.7h1.8v1.8h-1.8zM503.5 281.7h1.8v1.8h-1.8zM532.8 281.7h1.8v1.8h-1.8zM541.6 281.7h1.8v1.8h-1.8zM459.6 284.6h1.8v1.8h-1.8zM474.2 284.6h1.8v1.8h-1.8zM506.5 284.6h1.8v1.8h-1.8zM527.0 284.6h1.8v1.8h-1.8zM547.5 284.6h1.8v1.8h-1.8zM550.4 284.6h1.8v1.8h-1.8zM559.2 284.6h1.8v1.8h-1.8zM465.4 287.6h1.8v1.8h-1.8zM474.2 287.6h1.8v1.8h-1.8zM503.5 287.6h1.8v1.8h-1.8zM544.5 287.6h1.8v1.8h-1.8zM550.4 287.6h1.8v1.8h-1.8zM535.8 290.5h1.8v1.8h-1.8zM462.5 293.4h1.8v1.8h-1.8zM509.4 293.4h1.8v1.8h-1.8zM459.6 296.4h1.8v1.8h-1.8zM471.3 296.4h1.8v1.8h-1.8zM512.3 296.4h1.8v1.8h-1.8zM518.2 296.4h1.8v1.8h-1.8zM559.2 296.4h1.8v1.8h-1.8zM565.1 296.4h1.8v1.8h-1.8zM568.0 296.4h1.8v1.8h-1.8zM465.4 299.3h1.8v1.8h-1.8zM474.2 299.3h1.8v1.8h-1.8zM512.3 299.3h1.8v1.8h-1.8zM547.5 299.3h1.8v1.8h-1.8zM553.3 299.3h1.8v1.8h-1.8zM453.7 302.2h1.8v1.8h-1.8zM456.6 302.2h1.8v1.8h-1.8zM512.3 302.2h1.8v1.8h-1.8zM527.0 302.2h1.8v1.8h-1.8zM550.4 302.2h1.8v1.8h-1.8zM471.3 305.1h1.8v1.8h-1.8zM474.2 305.1h1.8v1.8h-1.8zM480.1 305.1h1.8v1.8h-1.8zM544.5 305.1h1.8v1.8h-1.8zM553.3 305.1h1.8v1.8h-1.8zM573.9 305.1h1.8v1.8h-1.8zM450.8 308.1h1.8v1.8h-1.8zM456.6 308.1h1.8v1.8h-1.8zM491.8 308.1h1.8v1.8h-1.8zM521.1 308.1h1.8v1.8h-1.8zM550.4 308.1h1.8v1.8h-1.8zM477.2 311.0h1.8v1.8h-1.8zM553.3 311.0h1.8v1.8h-1.8zM559.2 311.0h1.8v1.8h-1.8zM570.9 311.0h1.8v1.8h-1.8z" fill="#30d8f0" opacity="0.7"/>
<path d="M500.6 173.3h1.8v1.8h-1.8zM515.2 173.3h1.8v1.8h-1.8zM529.9 173.3h1.8v1.8h-1.8zM568.0 173.3h1.8v1.8h-1.8zM468.4 176.2h1.8v1.8h-1.8zM485.9 176.2h1.8v1.8h-1.8zM474.2 179.2h1.8v1.8h-1.8zM521.1 179.2h1.8v1.8h-1.8zM535.8 179.2h1.8v1.8h-1.8zM541.6 179.2h1.8v1.8h-1.8zM442.0 182.1h1.8v1.8h-1.8zM450.8 182.1h1.8v1.8h-1.8zM468.4 182.1h1.8v1.8h-1.8zM483.0 182.1h1.8v1.8h-1.8zM559.2 182.1h1.8v1.8h-1.8zM527.0 185.0h1.8v1.8h-1.8zM497.7 188.0h1.8v1.8h-1.8zM535.8 188.0h1.8v1.8h-1.8zM447.9 190.9h1.8v1.8h-1.8zM474.2 190.9h1.8v1.8h-1.8zM562.1 190.9h1.8v1.8h-1.8zM576.8 190.9h1.8v1.8h-1.8zM497.7 193.8h1.8v1.8h-1.8zM576.8 196.7h1.8v1.8h-1.8zM447.9 199.7h1.8v1.8h-1.8zM515.2 199.7h1.8v1.8h-1.8zM477.2 202.6h1.8v1.8h-1.8zM535.8 202.6h1.8v1.8h-1.8zM474.2 205.5h1.8v1.8h-1.8zM550.4 205.5h1.8v1.8h-1.8zM553.3 205.5h1.8v1.8h-1.8zM442.0 208.5h1.8v1.8h-1.8zM471.3 211.4h1.8v1.8h-1.8zM450.8 214.3h1.8v1.8h-1.8zM462.5 217.2h1.8v1.8h-1.8zM559.2 217.2h1.8v1.8h-1.8zM570.9 217.2h1.8v1.8h-1.8zM573.9 217.2h1.8v1.8h-1.8zM480.1 220.2h1.8v1.8h-1.8zM500.6 220.2h1.8v1.8h-1.8zM477.2 223.1h1.8v1.8h-1.8zM573.9 223.1h1.8v1.8h-1.8zM485.9 226.0h1.8v1.8h-1.8zM456.6 229.0h1.8v1.8h-1.8zM459.6 229.0h1.8v1.8h-1.8zM442.0 231.9h1.8v1.8h-1.8zM544.5 231.9h1.8v1.8h-1.8zM447.9 234.8h1.8v1.8h-1.8zM485.9 234.8h1.8v1.8h-1.8zM494.7 234.8h1.8v1.8h-1.8zM518.2 234.8h1.8v1.8h-1.8zM521.1 234.8h1.8v1.8h-1.8zM450.8 237.8h1.8v1.8h-1.8zM491.8 237.8h1.8v1.8h-1.8zM497.7 237.8h1.8v1.8h-1.8zM468.4 243.6h1.8v1.8h-1.8zM480.1 243.6h1.8v1.8h-1.8zM532.8 243.6h1.8v1.8h-1.8zM538.7 243.6h1.8v1.8h-1.8zM453.7 246.6h1.8v1.8h-1.8zM462.5 246.6h1.8v1.8h-1.8zM512.3 246.6h1.8v1.8h-1.8zM547.5 249.5h1.8v1.8h-1.8zM553.3 249.5h1.8v1.8h-1.8zM453.7 252.4h1.8v1.8h-1.8zM480.1 252.4h1.8v1.8h-1.8zM494.7 252.4h1.8v1.8h-1.8zM524.0 252.4h1.8v1.8h-1.8zM532.8 252.4h1.8v1.8h-1.8zM538.7 252.4h1.8v1.8h-1.8zM576.8 252.4h1.8v1.8h-1.8zM447.9 255.3h1.8v1.8h-1.8zM562.1 258.3h1.8v1.8h-1.8zM518.2 261.2h1.8v1.8h-1.8zM521.1 261.2h1.8v1.8h-1.8zM532.8 261.2h1.8v1.8h-1.8zM500.6 264.1h1.8v1.8h-1.8zM529.9 264.1h1.8v1.8h-1.8zM442.0 267.1h1.8v1.8h-1.8zM442.0 270.0h1.8v1.8h-1.8zM521.1 270.0h1.8v1.8h-1.8zM497.7 272.9h1.8v1.8h-1.8zM500.6 275.9h1.8v1.8h-1.8zM471.3 278.8h1.8v1.8h-1.8zM477.2 278.8h1.8v1.8h-1.8zM485.9 278.8h1.8v1.8h-1.8zM488.9 281.7h1.8v1.8h-1.8zM527.0 281.7h1.8v1.8h-1.8zM480.1 284.6h1.8v1.8h-1.8zM535.8 284.6h1.8v1.8h-1.8zM538.7 284.6h1.8v1.8h-1.8zM541.6 284.6h1.8v1.8h-1.8zM456.6 287.6h1.8v1.8h-1.8zM570.9 287.6h1.8v1.8h-1.8zM444.9 290.5h1.8v1.8h-1.8zM468.4 290.5h1.8v1.8h-1.8zM544.5 290.5h1.8v1.8h-1.8zM468.4 293.4h1.8v1.8h-1.8zM450.8 296.4h1.8v1.8h-1.8zM515.2 296.4h1.8v1.8h-1.8zM506.5 299.3h1.8v1.8h-1.8zM518.2 299.3h1.8v1.8h-1.8zM565.1 299.3h1.8v1.8h-1.8zM474.2 302.2h1.8v1.8h-1.8zM483.0 302.2h1.8v1.8h-1.8zM553.3 302.2h1.8v1.8h-1.8zM570.9 302.2h1.8v1.8h-1.8zM477.2 305.1h1.8v1.8h-1.8zM459.6 308.1h1.8v1.8h-1.8zM518.2 308.1h1.8v1.8h-1.8zM544.5 308.1h1.8v1.8h-1.8zM570.9 308.1h1.8v1.8h-1.8zM576.8 308.1h1.8v1.8h-1.8zM465.4 311.0h1.8v1.8h-1.8zM497.7 311.0h1.8v1.8h-1.8zM550.4 311.0h1.8v1.8h-1.8z" fill="#ee3030" opacity="0.7"/>
<path d="M544.5 173.3h1.8v1.8h-1.8zM565.1 173.3h1.8v1.8h-1.8zM524.0 176.2h1.8v1.8h-1.8zM527.0 176.2h1.8v1.8h-1.8zM453.7 179.2h1.8v1.8h-1.8zM550.4 179.2h1.8v1.8h-1.8zM447.9 182.1h1.8v1.8h-1.8zM453.7 182.1h1.8v1.8h-1.8zM565.1 182.1h1.8v1.8h-1.8zM471.3 188.0h1.8v1.8h-1.8zM480.1 188.0h1.8v1.8h-1.8zM459.6 190.9h1.8v1.8h-1.8zM494.7 190.9h1.8v1.8h-1.8zM547.5 190.9h1.8v1.8h-1.8zM527.0 193.8h1.8v1.8h-1.8zM547.5 193.8h1.8v1.8h-1.8zM532.8 196.7h1.8v1.8h-1.8zM512.3 199.7h1.8v1.8h-1.8zM518.2 199.7h1.8v1.8h-1.8zM532.8 199.7h1.8v1.8h-1.8zM450.8 202.6h1.8v1.8h-1.8zM512.3 202.6h1.8v1.8h-1.8zM491.8 205.5h1.8v1.8h-1.8zM559.2 205.5h1.8v1.8h-1.8zM483.0 208.5h1.8v1.8h-1.8zM497.7 211.4h1.8v1.8h-1.8zM503.5 211.4h1.8v1.8h-1.8zM471.3 214.3h1.8v1.8h-1.8zM570.9 214.3h1.8v1.8h-1.8zM477.2 217.2h1.8v1.8h-1.8zM535.8 217.2h1.8v1.8h-1.8zM483.0 220.2h1.8v1.8h-1.8zM485.9 220.2h1.8v1.8h-1.8zM559.2 220.2h1.8v1.8h-1.8zM483.0 223.1h1.8v1.8h-1.8zM494.7 223.1h1.8v1.8h-1.8zM512.3 223.1h1.8v1.8h-1.8zM565.1 223.1h1.8v1.8h-1.8zM524.0 226.0h1.8v1.8h-1.8zM529.9 229.0h1.8v1.8h-1.8zM541.6 231.9h1.8v1.8h-1.8zM556.3 234.8h1.8v1.8h-1.8zM509.4 237.8h1.8v1.8h-1.8zM529.9 237.8h1.8v1.8h-1.8zM474.2 240.7h1.8v1.8h-1.8zM450.8 243.6h1.8v1.8h-1.8zM465.4 243.6h1.8v1.8h-1.8zM506.5 243.6h1.8v1.8h-1.8zM527.0 243.6h1.8v1.8h-1.8zM444.9 246.6h1.8v1.8h-1.8zM568.0 246.6h1.8v1.8h-1.8zM497.7 249.5h1.8v1.8h-1.8zM559.2 249.5h1.8v1.8h-1.8zM485.9 252.4h1.8v1.8h-1.8zM527.0 252.4h1.8v1.8h-1.8zM442.0 255.3h1.8v1.8h-1.8zM453.7 255.3h1.8v1.8h-1.8zM474.2 255.3h1.8v1.8h-1.8zM459.6 258.3h1.8v1.8h-1.8zM485.9 258.3h1.8v1.8h-1.8zM529.9 258.3h1.8v1.8h-1.8zM500.6 261.2h1.8v1.8h-1.8zM559.2 261.2h1.8v1.8h-1.8zM518.2 264.1h1.8v1.8h-1.8zM538.7 264.1h1.8v1.8h-1.8zM544.5 264.1h1.8v1.8h-1.8zM521.1 267.1h1.8v1.8h-1.8zM568.0 267.1h1.8v1.8h-1.8zM471.3 270.0h1.8v1.8h-1.8zM447.9 272.9h1.8v1.8h-1.8zM500.6 272.9h1.8v1.8h-1.8zM515.2 272.9h1.8v1.8h-1.8zM527.0 272.9h1.8v1.8h-1.8zM538.7 275.9h1.8v1.8h-1.8zM562.1 275.9h1.8v1.8h-1.8zM553.3 281.7h1.8v1.8h-1.8zM562.1 281.7h1.8v1.8h-1.8zM444.9 284.6h1.8v1.8h-1.8zM477.2 284.6h1.8v1.8h-1.8zM477.2 287.6h1.8v1.8h-1.8zM494.7 290.5h1.8v1.8h-1.8zM512.3 290.5h1.8v1.8h-1.8zM497.7 293.4h1.8v1.8h-1.8zM518.2 293.4h1.8v1.8h-1.8zM547.5 293.4h1.8v1.8h-1.8zM456.6 296.4h1.8v1.8h-1.8zM506.5 296.4h1.8v1.8h-1.8zM509.4 299.3h1.8v1.8h-1.8zM497.7 302.2h1.8v1.8h-1.8zM535.8 302.2h1.8v1.8h-1.8zM547.5 305.1h1.8v1.8h-1.8zM556.3 305.1h1.8v1.8h-1.8zM447.9 308.1h1.8v1.8h-1.8zM538.7 308.1h1.8v1.8h-1.8zM541.6 308.1h1.8v1.8h-1.8zM556.3 308.1h1.8v1.8h-1.8zM573.9 308.1h1.8v1.8h-1.8zM521.1 311.0h1.8v1.8h-1.8zM535.8 311.0h1.8v1.8h-1.8zM556.3 311.0h1.8v1.8h-1.8z" fill="#b050e8" opacity="0.7"/>
<path d="M450.8 176.2h1.8v1.8h-1.8zM483.0 176.2h1.8v1.8h-1.8zM491.8 176.2h1.8v1.8h-1.8zM465.4 179.2h1.8v1.8h-1.8zM480.1 179.2h1.8v1.8h-1.8zM521.1 182.1h1.8v1.8h-1.8zM550.4 190.9h1.8v1.8h-1.8zM465.4 193.8h1.8v1.8h-1.8zM491.8 193.8h1.8v1.8h-1.8zM538.7 193.8h1.8v1.8h-1.8zM518.2 196.7h1.8v1.8h-1.8zM524.0 196.7h1.8v1.8h-1.8zM529.9 199.7h1.8v1.8h-1.8zM442.0 202.6h1.8v1.8h-1.8zM483.0 205.5h1.8v1.8h-1.8zM459.6 208.5h1.8v1.8h-1.8zM506.5 208.5h1.8v1.8h-1.8zM521.1 211.4h1.8v1.8h-1.8zM535.8 211.4h1.8v1.8h-1.8zM547.5 211.4h1.8v1.8h-1.8zM500.6 214.3h1.8v1.8h-1.8zM468.4 217.2h1.8v1.8h-1.8zM544.5 217.2h1.8v1.8h-1.8zM570.9 220.2h1.8v1.8h-1.8zM474.2 223.1h1.8v1.8h-1.8zM559.2 223.1h1.8v1.8h-1.8zM471.3 226.0h1.8v1.8h-1.8zM483.0 226.0h1.8v1.8h-1.8zM509.4 226.0h1.8v1.8h-1.8zM465.4 229.0h1.8v1.8h-1.8zM568.0 229.0h1.8v1.8h-1.8zM491.8 231.9h1.8v1.8h-1.8zM521.1 231.9h1.8v1.8h-1.8zM444.9 240.7h1.8v1.8h-1.8zM453.7 240.7h1.8v1.8h-1.8zM535.8 240.7h1.8v1.8h-1.8zM576.8 240.7h1.8v1.8h-1.8zM453.7 243.6h1.8v1.8h-1.8zM576.8 243.6h1.8v1.8h-1.8zM442.0 246.6h1.8v1.8h-1.8zM480.1 246.6h1.8v1.8h-1.8zM532.8 246.6h1.8v1.8h-1.8zM444.9 252.4h1.8v1.8h-1.8zM491.8 252.4h1.8v1.8h-1.8zM465.4 255.3h1.8v1.8h-1.8zM573.9 258.3h1.8v1.8h-1.8zM491.8 261.2h1.8v1.8h-1.8zM494.7 261.2h1.8v1.8h-1.8zM576.8 261.2h1.8v1.8h-1.8zM459.6 264.1h1.8v1.8h-1.8zM462.5 264.1h1.8v1.8h-1.8zM521.1 264.1h1.8v1.8h-1.8zM491.8 270.0h1.8v1.8h-1.8zM497.7 270.0h1.8v1.8h-1.8zM442.0 272.9h1.8v1.8h-1.8zM494.7 272.9h1.8v1.8h-1.8zM535.8 275.9h1.8v1.8h-1.8zM570.9 281.7h1.8v1.8h-1.8zM553.3 284.6h1.8v1.8h-1.8zM444.9 287.6h1.8v1.8h-1.8zM462.5 290.5h1.8v1.8h-1.8zM521.1 290.5h1.8v1.8h-1.8zM538.7 290.5h1.8v1.8h-1.8zM450.8 293.4h1.8v1.8h-1.8zM500.6 293.4h1.8v1.8h-1.8zM553.3 293.4h1.8v1.8h-1.8zM453.7 299.3h1.8v1.8h-1.8zM477.2 299.3h1.8v1.8h-1.8zM562.1 302.2h1.8v1.8h-1.8zM527.0 305.1h1.8v1.8h-1.8zM532.8 305.1h1.8v1.8h-1.8zM497.7 308.1h1.8v1.8h-1.8zM500.6 308.1h1.8v1.8h-1.8zM503.5 308.1h1.8v1.8h-1.8zM565.1 308.1h1.8v1.8h-1.8zM512.3 311.0h1.8v1.8h-1.8z" fill="#ff9a20" opacity="0.7"/>
<path d="M497.7 173.3h1.8v1.8h-1.8zM541.6 173.3h1.8v1.8h-1.8zM573.9 185.0h1.8v1.8h-1.8zM442.0 190.9h1.8v1.8h-1.8zM444.9 190.9h1.8v1.8h-1.8zM500.6 190.9h1.8v1.8h-1.8zM503.5 190.9h1.8v1.8h-1.8zM468.4 193.8h1.8v1.8h-1.8zM527.0 196.7h1.8v1.8h-1.8zM444.9 199.7h1.8v1.8h-1.8zM488.9 199.7h1.8v1.8h-1.8zM491.8 202.6h1.8v1.8h-1.8zM529.9 202.6h1.8v1.8h-1.8zM468.4 214.3h1.8v1.8h-1.8zM512.3 214.3h1.8v1.8h-1.8zM497.7 217.2h1.8v1.8h-1.8zM541.6 217.2h1.8v1.8h-1.8zM544.5 220.2h1.8v1.8h-1.8zM462.5 223.1h1.8v1.8h-1.8zM547.5 223.1h1.8v1.8h-1.8zM494.7 226.0h1.8v1.8h-1.8zM570.9 229.0h1.8v1.8h-1.8zM456.6 234.8h1.8v1.8h-1.8zM529.9 249.5h1.8v1.8h-1.8zM471.3 255.3h1.8v1.8h-1.8zM462.5 261.2h1.8v1.8h-1.8zM465.4 264.1h1.8v1.8h-1.8zM532.8 264.1h1.8v1.8h-1.8zM576.8 267.1h1.8v1.8h-1.8zM565.1 270.0h1.8v1.8h-1.8zM570.9 270.0h1.8v1.8h-1.8zM570.9 272.9h1.8v1.8h-1.8zM568.0 278.8h1.8v1.8h-1.8zM521.1 281.7h1.8v1.8h-1.8zM474.2 293.4h1.8v1.8h-1.8zM491.8 293.4h1.8v1.8h-1.8zM521.1 293.4h1.8v1.8h-1.8zM527.0 293.4h1.8v1.8h-1.8zM515.2 305.1h1.8v1.8h-1.8zM485.9 308.1h1.8v1.8h-1.8zM459.6 311.0h1.8v1.8h-1.8zM468.4 311.0h1.8v1.8h-1.8zM568.0 311.0h1.8v1.8h-1.8z" fill="#40c040" opacity="0.7"/>
<path d="M453.7 173.3h1.8v1.8h-1.8zM488.9 176.2h1.8v1.8h-1.8zM573.9 176.2h1.8v1.8h-1.8zM465.4 182.1h1.8v1.8h-1.8zM483.0 185.0h1.8v1.8h-1.8zM559.2 185.0h1.8v1.8h-1.8zM468.4 188.0h1.8v1.8h-1.8zM471.3 190.9h1.8v1.8h-1.8zM521.1 190.9h1.8v1.8h-1.8zM442.0 193.8h1.8v1.8h-1.8zM562.1 193.8h1.8v1.8h-1.8zM538.7 196.7h1.8v1.8h-1.8zM468.4 199.7h1.8v1.8h-1.8zM556.3 202.6h1.8v1.8h-1.8zM462.5 205.5h1.8v1.8h-1.8zM521.1 205.5h1.8v1.8h-1.8zM447.9 208.5h1.8v1.8h-1.8zM503.5 214.3h1.8v1.8h-1.8zM565.1 214.3h1.8v1.8h-1.8zM529.9 217.2h1.8v1.8h-1.8zM527.0 220.2h1.8v1.8h-1.8zM527.0 226.0h1.8v1.8h-1.8zM562.1 226.0h1.8v1.8h-1.8zM524.0 229.0h1.8v1.8h-1.8zM497.7 231.9h1.8v1.8h-1.8zM562.1 231.9h1.8v1.8h-1.8zM506.5 234.8h1.8v1.8h-1.8zM541.6 234.8h1.8v1.8h-1.8zM573.9 240.7h1.8v1.8h-1.8zM503.5 243.6h1.8v1.8h-1.8zM468.4 246.6h1.8v1.8h-1.8zM559.2 246.6h1.8v1.8h-1.8zM491.8 249.5h1.8v1.8h-1.8zM518.2 249.5h1.8v1.8h-1.8zM521.1 249.5h1.8v1.8h-1.8zM524.0 249.5h1.8v1.8h-1.8zM497.7 261.2h1.8v1.8h-1.8zM497.7 267.1h1.8v1.8h-1.8zM468.4 270.0h1.8v1.8h-1.8zM474.2 272.9h1.8v1.8h-1.8zM529.9 272.9h1.8v1.8h-1.8zM535.8 272.9h1.8v1.8h-1.8zM565.1 275.9h1.8v1.8h-1.8zM568.0 275.9h1.8v1.8h-1.8zM570.9 275.9h1.8v1.8h-1.8zM518.2 278.8h1.8v1.8h-1.8zM465.4 281.7h1.8v1.8h-1.8zM524.0 281.7h1.8v1.8h-1.8zM518.2 284.6h1.8v1.8h-1.8zM453.7 287.6h1.8v1.8h-1.8zM506.5 287.6h1.8v1.8h-1.8zM442.0 290.5h1.8v1.8h-1.8zM491.8 290.5h1.8v1.8h-1.8zM553.3 290.5h1.8v1.8h-1.8zM477.2 293.4h1.8v1.8h-1.8zM494.7 293.4h1.8v1.8h-1.8zM559.2 293.4h1.8v1.8h-1.8zM456.6 299.3h1.8v1.8h-1.8zM494.7 302.2h1.8v1.8h-1.8zM456.6 305.1h1.8v1.8h-1.8zM509.4 308.1h1.8v1.8h-1.8zM547.5 308.1h1.8v1.8h-1.8zM480.1 311.0h1.8v1.8h-1.8z" fill="#a0a0a0" opacity="0.7"/>
<path d="M568.0 176.2h1.8v1.8h-1.8zM538.7 182.1h1.8v1.8h-1.8zM515.2 185.0h1.8v1.8h-1.8zM453.7 190.9h1.8v1.8h-1.8zM529.9 190.9h1.8v1.8h-1.8zM568.0 190.9h1.8v1.8h-1.8zM573.9 190.9h1.8v1.8h-1.8zM521.1 193.8h1.8v1.8h-1.8zM471.3 196.7h1.8v1.8h-1.8zM485.9 196.7h1.8v1.8h-1.8zM509.4 196.7h1.8v1.8h-1.8zM544.5 196.7h1.8v1.8h-1.8zM547.5 202.6h1.8v1.8h-1.8zM553.3 202.6h1.8v1.8h-1.8zM544.5 208.5h1.8v1.8h-1.8zM541.6 211.4h1.8v1.8h-1.8zM518.2 214.3h1.8v1.8h-1.8zM474.2 229.0h1.8v1.8h-1.8zM538.7 231.9h1.8v1.8h-1.8zM570.9 234.8h1.8v1.8h-1.8zM442.0 240.7h1.8v1.8h-1.8zM500.6 240.7h1.8v1.8h-1.8zM565.1 240.7h1.8v1.8h-1.8zM550.4 246.6h1.8v1.8h-1.8zM541.6 252.4h1.8v1.8h-1.8zM442.0 258.3h1.8v1.8h-1.8zM474.2 258.3h1.8v1.8h-1.8zM500.6 258.3h1.8v1.8h-1.8zM459.6 261.2h1.8v1.8h-1.8zM553.3 261.2h1.8v1.8h-1.8zM474.2 264.1h1.8v1.8h-1.8zM480.1 264.1h1.8v1.8h-1.8zM538.7 267.1h1.8v1.8h-1.8zM444.9 275.9h1.8v1.8h-1.8zM453.7 275.9h1.8v1.8h-1.8zM488.9 275.9h1.8v1.8h-1.8zM453.7 278.8h1.8v1.8h-1.8zM497.7 278.8h1.8v1.8h-1.8zM497.7 284.6h1.8v1.8h-1.8zM570.9 293.4h1.8v1.8h-1.8zM576.8 302.2h1.8v1.8h-1.8z" fill="#ff60c0" opacity="0.7"/>
<path d="M485.9 173.3h1.8v1.8h-1.8zM503.5 173.3h1.8v1.8h-1.8zM527.0 190.9h1.8v1.8h-1.8zM559.2 190.9h1.8v1.8h-1.8zM462.5 193.8h1.8v1.8h-1.8zM512.3 193.8h1.8v1.8h-1.8zM568.0 193.8h1.8v1.8h-1.8zM538.7 217.2h1.8v1.8h-1.8zM488.9 220.2h1.8v1.8h-1.8zM538.7 229.0h1.8v1.8h-1.8zM518.2 243.6h1.8v1.8h-1.8zM559.2 243.6h1.8v1.8h-1.8zM459.6 246.6h1.8v1.8h-1.8zM459.6 255.3h1.8v1.8h-1.8zM524.0 270.0h1.8v1.8h-1.8zM553.3 270.0h1.8v1.8h-1.8zM518.2 287.6h1.8v1.8h-1.8zM450.8 305.1h1.8v1.8h-1.8zM453.7 311.0h1.8v1.8h-1.8zM532.8 311.0h1.8v1.8h-1.8z" fill="#c8e030" opacity="0.7"/>
<path d="M442.0 179.2h1.8v1.8h-1.8zM506.5 182.1h1.8v1.8h-1.8zM562.1 185.0h1.8v1.8h-1.8zM462.5 188.0h1.8v1.8h-1.8zM506.5 188.0h1.8v1.8h-1.8zM453.7 211.4h1.8v1.8h-1.8zM562.1 211.4h1.8v1.8h-1.8zM442.0 220.2h1.8v1.8h-1.8zM462.5 237.8h1.8v1.8h-1.8zM521.1 237.8h1.8v1.8h-1.8zM500.6 243.6h1.8v1.8h-1.8zM488.9 258.3h1.8v1.8h-1.8zM497.7 258.3h1.8v1.8h-1.8zM544.5 261.2h1.8v1.8h-1.8zM556.3 267.1h1.8v1.8h-1.8zM521.1 272.9h1.8v1.8h-1.8zM544.5 281.7h1.8v1.8h-1.8zM565.1 281.7h1.8v1.8h-1.8zM565.1 284.6h1.8v1.8h-1.8zM491.8 287.6h1.8v1.8h-1.8zM459.6 293.4h1.8v1.8h-1.8zM559.2 302.2h1.8v1.8h-1.8z" fill="#8c4a1a" opacity="0.7"/>
</g>
<circle cx="589.2" cy="197.3" r="2.1" fill="#1e46ff"/>
<text x="595.3" y="199.9" font-size="7.7" text-anchor="start" fill="#231f20" >T cells</text>
<circle cx="589.2" cy="205.3" r="2.1" fill="#ff7f1a"/>
<text x="595.3" y="207.9" font-size="7.7" text-anchor="start" fill="#231f20" >Dendritic cells</text>
<circle cx="589.2" cy="213.3" r="2.1" fill="#2ec040"/>
<text x="595.3" y="215.9" font-size="7.7" text-anchor="start" fill="#231f20" >Monocytes</text>
<circle cx="589.2" cy="221.3" r="2.1" fill="#e8141c"/>
<text x="595.3" y="223.9" font-size="7.7" text-anchor="start" fill="#231f20" >Endothelial cells</text>
<circle cx="589.2" cy="229.3" r="2.1" fill="#8a2be2"/>
<text x="595.3" y="231.9" font-size="7.7" text-anchor="start" fill="#231f20" >Natural killer T cells</text>
<circle cx="589.2" cy="237.3" r="2.1" fill="#8b4513"/>
<text x="595.3" y="239.9" font-size="7.7" text-anchor="start" fill="#231f20" >Macrophages</text>
<circle cx="589.2" cy="245.3" r="2.1" fill="#ff4fc0"/>
<text x="595.3" y="247.9" font-size="7.7" text-anchor="start" fill="#231f20" >Natural killer cells</text>
<circle cx="589.2" cy="253.3" r="2.1" fill="#a0a0a0"/>
<text x="595.3" y="255.9" font-size="7.7" text-anchor="start" fill="#231f20" >VSMCs</text>
<circle cx="589.2" cy="261.3" r="2.1" fill="#ffb400"/>
<text x="595.3" y="263.9" font-size="7.7" text-anchor="start" fill="#231f20" >Small B cells</text>
<circle cx="589.2" cy="269.3" r="2.1" fill="#19d6ff"/>
<text x="595.3" y="271.9" font-size="7.7" text-anchor="start" fill="#231f20" >Large B cells</text>
<circle cx="589.2" cy="277.3" r="2.1" fill="#b4f01e"/>
<text x="595.3" y="279.9" font-size="7.7" text-anchor="start" fill="#231f20" >Innate lymphoid cells</text>
<rect x="118.40" y="357.00" width="15.00" height="86.00" fill="#ffc800"/>
<rect x="133.40" y="361.10" width="15.00" height="81.90" fill="#0000ff"/>
<rect x="148.40" y="375.16" width="15.00" height="67.84" fill="#00ffff"/>
<rect x="163.40" y="429.08" width="15.00" height="13.92" fill="#ff00ff"/>
<rect x="178.40" y="430.71" width="15.00" height="12.29" fill="#ff0000"/>
<rect x="193.40" y="436.72" width="15.00" height="6.28" fill="#ffa500"/>
<rect x="208.40" y="439.59" width="15.00" height="3.41" fill="#00e000"/>
<rect x="223.40" y="441.36" width="15.00" height="1.64" fill="#90ee90"/>
<rect x="238.40" y="442.18" width="15.00" height="0.82" fill="#a0a0a0"/>
<path d="M118.4 353.5 V443.0 H271.5" stroke="#8a8a8a" stroke-width="0.7" fill="none"/>
<path d="M114.10000000000001 443.0H118.4" stroke="#8a8a8a" stroke-width="0.6"/>
<text x="110.4" y="445.0" font-size="6.2" text-anchor="end" fill="#333" letter-spacing="0.35">0</text>
<path d="M114.10000000000001 429.4H118.4" stroke="#8a8a8a" stroke-width="0.6"/>
<text x="110.4" y="431.4" font-size="6.2" text-anchor="end" fill="#333" letter-spacing="0.35">5</text>
<path d="M114.10000000000001 415.7H118.4" stroke="#8a8a8a" stroke-width="0.6"/>
<text x="110.4" y="417.7" font-size="6.2" text-anchor="end" fill="#333" letter-spacing="0.35">10</text>
<path d="M114.10000000000001 402.1H118.4" stroke="#8a8a8a" stroke-width="0.6"/>
<text x="110.4" y="404.1" font-size="6.2" text-anchor="end" fill="#333" letter-spacing="0.35">15</text>
<path d="M114.10000000000001 388.4H118.4" stroke="#8a8a8a" stroke-width="0.6"/>
<text x="110.4" y="390.4" font-size="6.2" text-anchor="end" fill="#333" letter-spacing="0.35">20</text>
<path d="M114.10000000000001 374.8H118.4" stroke="#8a8a8a" stroke-width="0.6"/>
<text x="110.4" y="376.8" font-size="6.2" text-anchor="end" fill="#333" letter-spacing="0.35">25</text>
<path d="M114.10000000000001 361.1H118.4" stroke="#8a8a8a" stroke-width="0.6"/>
<text x="110.4" y="363.1" font-size="6.2" text-anchor="end" fill="#333" letter-spacing="0.35">30</text>
<text transform="translate(87,397.9) rotate(-90)" font-size="7.6" text-anchor="middle" fill="#231f20">Proportion of cell</text>
<text transform="translate(96.6,398) rotate(-90)" font-size="7.3" text-anchor="middle" fill="#231f20">types (%)</text>
<path d="M242.2 354.0 L246 354.0 L244.1 356.8Z" fill="#1e46ff"/>
<text x="249.7" y="357.7" font-size="6.4" text-anchor="start" fill="#231f20" >T cells</text>
<circle cx="244.1" cy="363.5" r="1.9" fill="#ff7f1a"/>
<text x="249.7" y="365.7" font-size="6.4" text-anchor="start" fill="#231f20" >Dendritic cells</text>
<circle cx="244.1" cy="371.5" r="1.9" fill="#2ec040"/>
<text x="249.7" y="373.7" font-size="6.4" text-anchor="start" fill="#231f20" >Monocytes</text>
<circle cx="244.1" cy="379.5" r="1.9" fill="#e8141c"/>
<text x="249.7" y="381.7" font-size="6.4" text-anchor="start" fill="#231f20" >Endothelial cells</text>
<circle cx="244.1" cy="387.5" r="1.9" fill="#8a2be2"/>
<text x="249.7" y="389.7" font-size="6.4" text-anchor="start" fill="#231f20" >Natural killer T cells</text>
<circle cx="244.1" cy="395.5" r="1.9" fill="#8b4513"/>
<text x="249.7" y="397.7" font-size="6.4" text-anchor="start" fill="#231f20" >Macrophages</text>
<circle cx="244.1" cy="403.5" r="1.9" fill="#ff4fc0"/>
<text x="249.7" y="405.7" font-size="6.4" text-anchor="start" fill="#231f20" >Natural killer cells</text>
<circle cx="244.1" cy="411.5" r="1.9" fill="#a0a0a0"/>
<text x="249.7" y="413.7" font-size="6.4" text-anchor="start" fill="#231f20" >VSMCs</text>
<circle cx="244.1" cy="419.5" r="1.9" fill="#ffb400"/>
<text x="249.7" y="421.7" font-size="6.4" text-anchor="start" fill="#231f20" >Small B cells</text>
<circle cx="244.1" cy="427.5" r="1.9" fill="#19d6ff"/>
<text x="249.7" y="429.7" font-size="6.4" text-anchor="start" fill="#231f20" >Large B cells</text>
<circle cx="244.1" cy="435.5" r="1.9" fill="#b4f01e"/>
<text x="249.7" y="437.7" font-size="6.4" text-anchor="start" fill="#231f20" >Innate lymphoid cells</text>
<g>
<path d="M352.00 364.40h1.06v4.48h-1.06zM368.15 364.40h1.06v4.48h-1.06zM405.40 364.40h1.05v4.48h-1.05zM356.04 368.83h1.06v4.48h-1.06zM382.29 368.83h1.06v4.48h-1.06zM386.40 373.27h1.05v4.48h-1.05zM388.40 373.27h1.05v4.48h-1.05zM390.40 373.27h1.05v4.48h-1.05zM403.40 373.27h1.05v4.48h-1.05zM405.40 373.27h1.05v4.48h-1.05zM394.40 377.70h1.05v4.48h-1.05zM406.40 377.70h1.05v4.48h-1.05zM385.40 382.13h1.05v4.48h-1.05zM386.40 395.43h1.05v4.48h-1.05zM397.40 395.43h1.05v4.48h-1.05zM399.40 395.43h1.05v4.48h-1.05zM388.40 399.87h1.05v4.48h-1.05zM400.40 399.87h1.05v4.48h-1.05zM399.40 404.30h1.05v4.48h-1.05zM361.09 408.73h1.06v4.48h-1.06zM374.21 408.73h1.06v4.48h-1.06zM385.40 408.73h1.05v4.48h-1.05zM389.40 408.73h1.05v4.48h-1.05zM407.40 408.73h1.05v4.48h-1.05zM380.27 417.60h1.06v4.48h-1.06zM356.04 422.03h1.06v4.48h-1.06zM384.40 422.03h1.05v4.48h-1.05zM393.40 422.03h1.05v4.48h-1.05zM395.40 426.47h1.05v4.48h-1.05zM399.40 426.47h1.05v4.48h-1.05zM394.40 430.90h1.05v4.48h-1.05zM399.40 435.33h1.05v4.48h-1.05zM402.40 435.33h1.05v4.48h-1.05zM389.40 439.77h1.05v4.48h-1.05zM401.40 439.77h1.05v4.48h-1.05zM363.11 448.63h1.06v4.48h-1.06zM378.25 457.50h1.06v4.48h-1.06zM360.08 461.93h1.06v4.48h-1.06zM393.40 466.37h1.05v4.48h-1.05zM359.07 475.23h1.06v4.48h-1.06zM381.28 475.23h1.06v4.48h-1.06zM355.03 484.10h1.06v4.48h-1.06zM381.28 484.10h1.06v4.48h-1.06zM379.26 488.53h1.06v4.48h-1.06z" fill="#39b977"/>
<path d="M353.01 364.40h1.06v4.48h-1.06zM357.05 364.40h1.06v4.48h-1.06zM365.13 364.40h1.06v4.48h-1.06zM370.17 364.40h1.06v4.48h-1.06zM373.20 364.40h1.06v4.48h-1.06zM379.26 364.40h1.06v4.48h-1.06zM393.40 364.40h1.05v4.48h-1.05zM353.01 368.83h1.06v4.48h-1.06zM362.10 368.83h1.06v4.48h-1.06zM366.14 368.83h1.06v4.48h-1.06zM378.25 368.83h1.06v4.48h-1.06zM397.40 368.83h1.05v4.48h-1.05zM357.05 373.27h1.06v4.48h-1.06zM370.17 373.27h1.06v4.48h-1.06zM373.20 373.27h1.06v4.48h-1.06zM404.40 373.27h1.05v4.48h-1.05zM352.00 377.70h1.06v4.48h-1.06zM366.14 377.70h1.06v4.48h-1.06zM368.15 377.70h1.06v4.48h-1.06zM356.04 382.13h1.06v4.48h-1.06zM379.26 382.13h1.06v4.48h-1.06zM403.40 382.13h1.05v4.48h-1.05zM353.01 386.57h1.06v4.48h-1.06zM354.02 386.57h1.06v4.48h-1.06zM378.25 386.57h1.06v4.48h-1.06zM357.05 391.00h1.06v4.48h-1.06zM359.07 391.00h1.06v4.48h-1.06zM373.20 395.43h1.06v4.48h-1.06zM377.24 395.43h1.06v4.48h-1.06zM404.40 395.43h1.05v4.48h-1.05zM372.19 399.87h1.06v4.48h-1.06zM373.20 399.87h1.06v4.48h-1.06zM381.28 399.87h1.06v4.48h-1.06zM352.00 404.30h1.06v4.48h-1.06zM372.19 404.30h1.06v4.48h-1.06zM380.27 404.30h1.06v4.48h-1.06zM403.40 404.30h1.05v4.48h-1.05zM355.03 408.73h1.06v4.48h-1.06zM372.19 408.73h1.06v4.48h-1.06zM373.20 408.73h1.06v4.48h-1.06zM402.40 408.73h1.05v4.48h-1.05zM355.03 413.17h1.06v4.48h-1.06zM358.06 413.17h1.06v4.48h-1.06zM373.20 413.17h1.06v4.48h-1.06zM404.40 413.17h1.05v4.48h-1.05zM353.01 417.60h1.06v4.48h-1.06zM355.03 417.60h1.06v4.48h-1.06zM357.05 417.60h1.06v4.48h-1.06zM359.07 417.60h1.06v4.48h-1.06zM361.09 417.60h1.06v4.48h-1.06zM355.03 422.03h1.06v4.48h-1.06zM357.05 422.03h1.06v4.48h-1.06zM362.10 422.03h1.06v4.48h-1.06zM365.13 422.03h1.06v4.48h-1.06zM370.17 422.03h1.06v4.48h-1.06zM371.18 422.03h1.06v4.48h-1.06zM373.20 422.03h1.06v4.48h-1.06zM378.25 422.03h1.06v4.48h-1.06zM379.26 422.03h1.06v4.48h-1.06zM380.27 422.03h1.06v4.48h-1.06zM395.40 422.03h1.05v4.48h-1.05zM354.02 466.37h1.06v4.48h-1.06zM377.24 466.37h1.06v4.48h-1.06zM389.40 466.37h1.05v4.48h-1.05zM399.40 466.37h1.05v4.48h-1.05zM364.12 470.80h1.06v4.48h-1.06zM382.29 470.80h1.06v4.48h-1.06zM384.40 470.80h1.05v4.48h-1.05z" fill="#32668e"/>
<path d="M354.02 364.40h1.06v4.48h-1.06zM369.16 364.40h1.06v4.48h-1.06zM364.12 368.83h1.06v4.48h-1.06zM352.00 373.27h1.06v4.48h-1.06zM403.40 377.70h1.05v4.48h-1.05zM385.40 395.43h1.05v4.48h-1.05zM390.40 404.30h1.05v4.48h-1.05zM353.01 422.03h1.06v4.48h-1.06zM402.40 430.90h1.05v4.48h-1.05zM373.20 444.20h1.06v4.48h-1.06zM375.22 448.63h1.06v4.48h-1.06zM373.20 453.07h1.06v4.48h-1.06zM355.03 457.50h1.06v4.48h-1.06zM366.14 457.50h1.06v4.48h-1.06zM353.01 466.37h1.06v4.48h-1.06zM374.21 466.37h1.06v4.48h-1.06zM360.08 475.23h1.06v4.48h-1.06zM375.22 484.10h1.06v4.48h-1.06zM359.07 488.53h1.06v4.48h-1.06zM374.21 488.53h1.06v4.48h-1.06zM377.24 488.53h1.06v4.48h-1.06z" fill="#5fc861"/>
<path d="M355.03 364.40h1.06v4.48h-1.06zM359.07 364.40h1.06v4.48h-1.06zM361.09 364.40h1.06v4.48h-1.06zM380.27 364.40h1.06v4.48h-1.06zM404.40 364.40h1.05v4.48h-1.05zM352.00 368.83h1.06v4.48h-1.06zM368.15 368.83h1.06v4.48h-1.06zM373.20 368.83h1.06v4.48h-1.06zM377.24 368.83h1.06v4.48h-1.06zM389.40 368.83h1.05v4.48h-1.05zM361.09 373.27h1.06v4.48h-1.06zM362.10 373.27h1.06v4.48h-1.06zM363.11 373.27h1.06v4.48h-1.06zM366.14 373.27h1.06v4.48h-1.06zM371.18 373.27h1.06v4.48h-1.06zM380.27 373.27h1.06v4.48h-1.06zM393.40 373.27h1.05v4.48h-1.05zM369.16 377.70h1.06v4.48h-1.06zM375.22 377.70h1.06v4.48h-1.06zM376.23 377.70h1.06v4.48h-1.06zM355.03 382.13h1.06v4.48h-1.06zM357.05 382.13h1.06v4.48h-1.06zM359.07 382.13h1.06v4.48h-1.06zM364.12 382.13h1.06v4.48h-1.06zM372.19 382.13h1.06v4.48h-1.06zM374.21 382.13h1.06v4.48h-1.06zM375.22 382.13h1.06v4.48h-1.06zM355.03 386.57h1.06v4.48h-1.06zM360.08 386.57h1.06v4.48h-1.06zM370.17 386.57h1.06v4.48h-1.06zM401.40 386.57h1.05v4.48h-1.05zM356.04 391.00h1.06v4.48h-1.06zM361.09 391.00h1.06v4.48h-1.06zM379.26 391.00h1.06v4.48h-1.06zM361.09 395.43h1.06v4.48h-1.06zM363.11 395.43h1.06v4.48h-1.06zM375.22 395.43h1.06v4.48h-1.06zM361.09 399.87h1.06v4.48h-1.06zM363.11 399.87h1.06v4.48h-1.06zM364.12 399.87h1.06v4.48h-1.06zM374.21 399.87h1.06v4.48h-1.06zM379.26 399.87h1.06v4.48h-1.06zM395.40 399.87h1.05v4.48h-1.05zM360.08 404.30h1.06v4.48h-1.06zM368.15 404.30h1.06v4.48h-1.06zM375.22 404.30h1.06v4.48h-1.06zM389.40 404.30h1.05v4.48h-1.05zM391.40 404.30h1.05v4.48h-1.05zM401.40 404.30h1.05v4.48h-1.05zM354.02 408.73h1.06v4.48h-1.06zM356.04 408.73h1.06v4.48h-1.06zM364.12 408.73h1.06v4.48h-1.06zM366.14 408.73h1.06v4.48h-1.06zM375.22 408.73h1.06v4.48h-1.06zM387.40 408.73h1.05v4.48h-1.05zM388.40 408.73h1.05v4.48h-1.05zM365.13 413.17h1.06v4.48h-1.06zM367.15 413.17h1.06v4.48h-1.06zM371.18 413.17h1.06v4.48h-1.06zM372.19 413.17h1.06v4.48h-1.06zM375.22 413.17h1.06v4.48h-1.06zM399.40 413.17h1.05v4.48h-1.05zM367.15 417.60h1.06v4.48h-1.06zM395.40 417.60h1.05v4.48h-1.05zM396.40 417.60h1.05v4.48h-1.05zM398.40 417.60h1.05v4.48h-1.05zM359.07 422.03h1.06v4.48h-1.06zM361.09 422.03h1.06v4.48h-1.06zM372.19 422.03h1.06v4.48h-1.06zM392.40 422.03h1.05v4.48h-1.05zM384.40 426.47h1.05v4.48h-1.05zM388.40 426.47h1.05v4.48h-1.05zM394.40 426.47h1.05v4.48h-1.05zM396.40 426.47h1.05v4.48h-1.05zM397.40 426.47h1.05v4.48h-1.05zM403.40 426.47h1.05v4.48h-1.05zM392.40 430.90h1.05v4.48h-1.05zM396.40 430.90h1.05v4.48h-1.05zM400.40 430.90h1.05v4.48h-1.05zM384.40 435.33h1.05v4.48h-1.05zM390.40 435.33h1.05v4.48h-1.05zM398.40 435.33h1.05v4.48h-1.05zM400.40 435.33h1.05v4.48h-1.05zM401.40 435.33h1.05v4.48h-1.05zM407.40 435.33h1.05v4.48h-1.05zM385.40 439.77h1.05v4.48h-1.05zM402.40 439.77h1.05v4.48h-1.05zM353.01 444.20h1.06v4.48h-1.06zM355.03 444.20h1.06v4.48h-1.06zM359.07 444.20h1.06v4.48h-1.06zM367.15 444.20h1.06v4.48h-1.06zM354.02 448.63h1.06v4.48h-1.06zM366.14 448.63h1.06v4.48h-1.06zM368.15 448.63h1.06v4.48h-1.06zM377.24 448.63h1.06v4.48h-1.06zM379.26 448.63h1.06v4.48h-1.06zM354.02 453.07h1.06v4.48h-1.06zM356.04 453.07h1.06v4.48h-1.06zM359.07 453.07h1.06v4.48h-1.06zM371.18 453.07h1.06v4.48h-1.06zM353.01 457.50h1.06v4.48h-1.06zM362.10 457.50h1.06v4.48h-1.06zM364.12 457.50h1.06v4.48h-1.06zM370.17 457.50h1.06v4.48h-1.06zM376.23 457.50h1.06v4.48h-1.06zM380.27 457.50h1.06v4.48h-1.06zM382.29 457.50h1.06v4.48h-1.06zM354.02 461.93h1.06v4.48h-1.06zM357.05 461.93h1.06v4.48h-1.06zM358.06 461.93h1.06v4.48h-1.06zM362.10 461.93h1.06v4.48h-1.06zM369.16 461.93h1.06v4.48h-1.06zM370.17 461.93h1.06v4.48h-1.06zM380.27 461.93h1.06v4.48h-1.06zM363.11 466.37h1.06v4.48h-1.06zM398.40 466.37h1.05v4.48h-1.05zM403.40 466.37h1.05v4.48h-1.05zM373.20 470.80h1.06v4.48h-1.06zM356.04 475.23h1.06v4.48h-1.06zM358.06 475.23h1.06v4.48h-1.06zM362.10 475.23h1.06v4.48h-1.06zM367.15 475.23h1.06v4.48h-1.06zM368.15 475.23h1.06v4.48h-1.06zM371.18 475.23h1.06v4.48h-1.06zM372.19 475.23h1.06v4.48h-1.06zM374.21 475.23h1.06v4.48h-1.06zM375.22 475.23h1.06v4.48h-1.06zM382.29 475.23h1.06v4.48h-1.06zM352.00 479.67h1.06v4.48h-1.06zM364.12 479.67h1.06v4.48h-1.06zM372.19 479.67h1.06v4.48h-1.06zM379.26 479.67h1.06v4.48h-1.06zM352.00 484.10h1.06v4.48h-1.06zM357.05 484.10h1.06v4.48h-1.06zM378.25 484.10h1.06v4.48h-1.06zM353.01 488.53h1.06v4.48h-1.06zM355.03 488.53h1.06v4.48h-1.06zM357.05 488.53h1.06v4.48h-1.06zM365.13 488.53h1.06v4.48h-1.06zM368.15 488.53h1.06v4.48h-1.06zM370.17 488.53h1.06v4.48h-1.06zM380.27 488.53h1.06v4.48h-1.06zM353.01 492.97h1.06v4.48h-1.06zM355.03 492.97h1.06v4.48h-1.06zM357.05 492.97h1.06v4.48h-1.06zM380.27 492.97h1.06v4.48h-1.06z" fill="#2a788e"/>
<path d="M356.04 364.40h1.06v4.48h-1.06zM366.14 364.40h1.06v4.48h-1.06zM367.15 364.40h1.06v4.48h-1.06zM372.19 364.40h1.06v4.48h-1.06zM360.08 368.83h1.06v4.48h-1.06zM361.09 368.83h1.06v4.48h-1.06zM367.15 368.83h1.06v4.48h-1.06zM355.03 373.27h1.06v4.48h-1.06zM360.08 373.27h1.06v4.48h-1.06zM377.24 373.27h1.06v4.48h-1.06zM353.01 377.70h1.06v4.48h-1.06zM358.06 377.70h1.06v4.48h-1.06zM359.07 377.70h1.06v4.48h-1.06zM364.12 377.70h1.06v4.48h-1.06zM365.13 377.70h1.06v4.48h-1.06zM386.40 377.70h1.05v4.48h-1.05zM362.10 382.13h1.06v4.48h-1.06zM363.11 382.13h1.06v4.48h-1.06zM370.17 382.13h1.06v4.48h-1.06zM373.20 382.13h1.06v4.48h-1.06zM380.27 382.13h1.06v4.48h-1.06zM405.40 382.13h1.05v4.48h-1.05zM356.04 386.57h1.06v4.48h-1.06zM357.05 386.57h1.06v4.48h-1.06zM361.09 386.57h1.06v4.48h-1.06zM368.15 386.57h1.06v4.48h-1.06zM407.40 386.57h1.05v4.48h-1.05zM352.00 391.00h1.06v4.48h-1.06zM353.01 391.00h1.06v4.48h-1.06zM363.11 391.00h1.06v4.48h-1.06zM376.23 391.00h1.06v4.48h-1.06zM380.27 391.00h1.06v4.48h-1.06zM359.07 395.43h1.06v4.48h-1.06zM364.12 395.43h1.06v4.48h-1.06zM370.17 395.43h1.06v4.48h-1.06zM371.18 395.43h1.06v4.48h-1.06zM372.19 395.43h1.06v4.48h-1.06zM365.13 399.87h1.06v4.48h-1.06zM377.24 399.87h1.06v4.48h-1.06zM387.40 399.87h1.05v4.48h-1.05zM391.40 399.87h1.05v4.48h-1.05zM358.06 404.30h1.06v4.48h-1.06zM377.24 404.30h1.06v4.48h-1.06zM353.01 408.73h1.06v4.48h-1.06zM360.08 408.73h1.06v4.48h-1.06zM369.16 408.73h1.06v4.48h-1.06zM356.04 413.17h1.06v4.48h-1.06zM374.21 413.17h1.06v4.48h-1.06zM356.04 417.60h1.06v4.48h-1.06zM370.17 417.60h1.06v4.48h-1.06zM372.19 417.60h1.06v4.48h-1.06zM377.24 417.60h1.06v4.48h-1.06zM363.11 422.03h1.06v4.48h-1.06zM396.40 435.33h1.05v4.48h-1.05zM393.40 439.77h1.05v4.48h-1.05zM352.00 448.63h1.06v4.48h-1.06zM367.15 448.63h1.06v4.48h-1.06zM380.27 448.63h1.06v4.48h-1.06zM369.16 453.07h1.06v4.48h-1.06zM377.24 461.93h1.06v4.48h-1.06zM356.04 466.37h1.06v4.48h-1.06zM367.15 466.37h1.06v4.48h-1.06zM387.40 466.37h1.05v4.48h-1.05zM358.06 470.80h1.06v4.48h-1.06zM372.19 470.80h1.06v4.48h-1.06zM388.40 470.80h1.05v4.48h-1.05zM404.40 470.80h1.05v4.48h-1.05zM380.27 475.23h1.06v4.48h-1.06zM361.09 479.67h1.06v4.48h-1.06zM365.13 479.67h1.06v4.48h-1.06zM366.14 479.67h1.06v4.48h-1.06zM373.20 484.10h1.06v4.48h-1.06zM380.27 484.10h1.06v4.48h-1.06z" fill="#2d728e"/>
<path d="M358.06 364.40h1.06v4.48h-1.06zM382.29 417.60h1.06v4.48h-1.06zM376.23 466.37h1.06v4.48h-1.06zM392.40 466.37h1.05v4.48h-1.05zM397.40 466.37h1.05v4.48h-1.05zM407.40 466.37h1.05v4.48h-1.05zM354.02 470.80h1.06v4.48h-1.06z" fill="#3e4b89"/>
<path d="M360.08 364.40h1.06v4.48h-1.06zM364.12 364.40h1.06v4.48h-1.06zM395.40 364.40h1.05v4.48h-1.05zM354.02 368.83h1.06v4.48h-1.06zM355.03 368.83h1.06v4.48h-1.06zM363.11 368.83h1.06v4.48h-1.06zM365.13 368.83h1.06v4.48h-1.06zM372.19 368.83h1.06v4.48h-1.06zM379.26 368.83h1.06v4.48h-1.06zM387.40 368.83h1.05v4.48h-1.05zM394.40 368.83h1.05v4.48h-1.05zM358.06 373.27h1.06v4.48h-1.06zM359.07 373.27h1.06v4.48h-1.06zM369.16 373.27h1.06v4.48h-1.06zM372.19 373.27h1.06v4.48h-1.06zM379.26 373.27h1.06v4.48h-1.06zM381.28 373.27h1.06v4.48h-1.06zM355.03 377.70h1.06v4.48h-1.06zM357.05 377.70h1.06v4.48h-1.06zM371.18 377.70h1.06v4.48h-1.06zM378.25 377.70h1.06v4.48h-1.06zM380.27 377.70h1.06v4.48h-1.06zM354.02 382.13h1.06v4.48h-1.06zM367.15 382.13h1.06v4.48h-1.06zM378.25 382.13h1.06v4.48h-1.06zM394.40 382.13h1.05v4.48h-1.05zM359.07 386.57h1.06v4.48h-1.06zM362.10 386.57h1.06v4.48h-1.06zM366.14 386.57h1.06v4.48h-1.06zM369.16 386.57h1.06v4.48h-1.06zM374.21 386.57h1.06v4.48h-1.06zM377.24 386.57h1.06v4.48h-1.06zM380.27 386.57h1.06v4.48h-1.06zM360.08 391.00h1.06v4.48h-1.06zM362.10 391.00h1.06v4.48h-1.06zM365.13 391.00h1.06v4.48h-1.06zM366.14 391.00h1.06v4.48h-1.06zM370.17 391.00h1.06v4.48h-1.06zM371.18 391.00h1.06v4.48h-1.06zM372.19 391.00h1.06v4.48h-1.06zM373.20 391.00h1.06v4.48h-1.06zM374.21 391.00h1.06v4.48h-1.06zM378.25 391.00h1.06v4.48h-1.06zM394.40 391.00h1.05v4.48h-1.05zM397.40 391.00h1.05v4.48h-1.05zM401.40 391.00h1.05v4.48h-1.05zM355.03 395.43h1.06v4.48h-1.06zM358.06 395.43h1.06v4.48h-1.06zM362.10 395.43h1.06v4.48h-1.06zM366.14 395.43h1.06v4.48h-1.06zM406.40 395.43h1.05v4.48h-1.05zM354.02 399.87h1.06v4.48h-1.06zM355.03 399.87h1.06v4.48h-1.06zM366.14 399.87h1.06v4.48h-1.06zM370.17 399.87h1.06v4.48h-1.06zM380.27 399.87h1.06v4.48h-1.06zM382.29 399.87h1.06v4.48h-1.06zM397.40 399.87h1.05v4.48h-1.05zM404.40 399.87h1.05v4.48h-1.05zM353.01 404.30h1.06v4.48h-1.06zM359.07 404.30h1.06v4.48h-1.06zM361.09 404.30h1.06v4.48h-1.06zM363.11 404.30h1.06v4.48h-1.06zM369.16 404.30h1.06v4.48h-1.06zM379.26 404.30h1.06v4.48h-1.06zM404.40 404.30h1.05v4.48h-1.05zM406.40 404.30h1.05v4.48h-1.05zM407.40 404.30h1.05v4.48h-1.05zM352.00 408.73h1.06v4.48h-1.06zM357.05 408.73h1.06v4.48h-1.06zM362.10 408.73h1.06v4.48h-1.06zM363.11 408.73h1.06v4.48h-1.06zM368.15 408.73h1.06v4.48h-1.06zM370.17 408.73h1.06v4.48h-1.06zM377.24 408.73h1.06v4.48h-1.06zM380.27 408.73h1.06v4.48h-1.06zM381.28 408.73h1.06v4.48h-1.06zM393.40 408.73h1.05v4.48h-1.05zM354.02 413.17h1.06v4.48h-1.06zM359.07 413.17h1.06v4.48h-1.06zM363.11 413.17h1.06v4.48h-1.06zM364.12 413.17h1.06v4.48h-1.06zM369.16 413.17h1.06v4.48h-1.06zM370.17 413.17h1.06v4.48h-1.06zM382.29 413.17h1.06v4.48h-1.06zM354.02 417.60h1.06v4.48h-1.06zM365.13 417.60h1.06v4.48h-1.06zM378.25 417.60h1.06v4.48h-1.06zM379.26 417.60h1.06v4.48h-1.06zM358.06 422.03h1.06v4.48h-1.06zM360.08 422.03h1.06v4.48h-1.06zM366.14 422.03h1.06v4.48h-1.06zM367.15 422.03h1.06v4.48h-1.06zM369.16 422.03h1.06v4.48h-1.06zM375.22 422.03h1.06v4.48h-1.06zM356.04 461.93h1.06v4.48h-1.06zM357.05 466.37h1.06v4.48h-1.06zM362.10 466.37h1.06v4.48h-1.06zM373.20 466.37h1.06v4.48h-1.06zM352.00 470.80h1.06v4.48h-1.06zM353.01 470.80h1.06v4.48h-1.06zM381.28 470.80h1.06v4.48h-1.06z" fill="#2f6c8e"/>
<path d="M362.10 364.40h1.06v4.48h-1.06zM371.18 364.40h1.06v4.48h-1.06zM374.21 364.40h1.06v4.48h-1.06zM375.22 364.40h1.06v4.48h-1.06zM357.05 368.83h1.06v4.48h-1.06zM391.40 377.70h1.05v4.48h-1.05zM404.40 382.13h1.05v4.48h-1.05zM376.23 386.57h1.06v4.48h-1.06zM364.12 391.00h1.06v4.48h-1.06zM395.40 391.00h1.05v4.48h-1.05zM404.40 391.00h1.05v4.48h-1.05zM367.15 395.43h1.06v4.48h-1.06zM396.40 395.43h1.05v4.48h-1.05zM357.05 399.87h1.06v4.48h-1.06zM392.40 399.87h1.05v4.48h-1.05zM356.04 404.30h1.06v4.48h-1.06zM387.40 404.30h1.05v4.48h-1.05zM371.18 408.73h1.06v4.48h-1.06zM392.40 408.73h1.05v4.48h-1.05zM401.40 408.73h1.05v4.48h-1.05zM376.23 413.17h1.06v4.48h-1.06zM354.02 422.03h1.06v4.48h-1.06zM364.12 422.03h1.06v4.48h-1.06zM385.40 430.90h1.05v4.48h-1.05zM395.40 430.90h1.05v4.48h-1.05zM399.40 430.90h1.05v4.48h-1.05zM404.40 430.90h1.05v4.48h-1.05zM385.40 435.33h1.05v4.48h-1.05zM394.40 435.33h1.05v4.48h-1.05zM386.40 439.77h1.05v4.48h-1.05zM388.40 439.77h1.05v4.48h-1.05zM392.40 439.77h1.05v4.48h-1.05zM397.40 439.77h1.05v4.48h-1.05zM404.40 439.77h1.05v4.48h-1.05zM371.18 444.20h1.06v4.48h-1.06zM374.21 444.20h1.06v4.48h-1.06zM379.26 444.20h1.06v4.48h-1.06zM355.03 448.63h1.06v4.48h-1.06zM358.06 448.63h1.06v4.48h-1.06zM361.09 448.63h1.06v4.48h-1.06zM373.20 448.63h1.06v4.48h-1.06zM381.28 448.63h1.06v4.48h-1.06zM358.06 453.07h1.06v4.48h-1.06zM361.09 453.07h1.06v4.48h-1.06zM364.12 453.07h1.06v4.48h-1.06zM372.19 453.07h1.06v4.48h-1.06zM375.22 453.07h1.06v4.48h-1.06zM381.28 453.07h1.06v4.48h-1.06zM352.00 457.50h1.06v4.48h-1.06zM354.02 457.50h1.06v4.48h-1.06zM365.13 457.50h1.06v4.48h-1.06zM368.15 457.50h1.06v4.48h-1.06zM373.20 457.50h1.06v4.48h-1.06zM377.24 457.50h1.06v4.48h-1.06zM352.00 461.93h1.06v4.48h-1.06zM355.03 461.93h1.06v4.48h-1.06zM359.07 461.93h1.06v4.48h-1.06zM366.14 461.93h1.06v4.48h-1.06zM371.18 461.93h1.06v4.48h-1.06zM372.19 461.93h1.06v4.48h-1.06zM373.20 461.93h1.06v4.48h-1.06zM404.40 466.37h1.05v4.48h-1.05zM394.40 470.80h1.05v4.48h-1.05zM403.40 470.80h1.05v4.48h-1.05zM357.05 475.23h1.06v4.48h-1.06zM366.14 475.23h1.06v4.48h-1.06zM376.23 475.23h1.06v4.48h-1.06zM360.08 479.67h1.06v4.48h-1.06zM363.11 479.67h1.06v4.48h-1.06zM377.24 479.67h1.06v4.48h-1.06zM381.28 479.67h1.06v4.48h-1.06zM364.12 484.10h1.06v4.48h-1.06zM352.00 488.53h1.06v4.48h-1.06zM354.02 488.53h1.06v4.48h-1.06zM358.06 488.53h1.06v4.48h-1.06zM360.08 488.53h1.06v4.48h-1.06zM362.10 488.53h1.06v4.48h-1.06zM373.20 488.53h1.06v4.48h-1.06zM378.25 488.53h1.06v4.48h-1.06zM354.02 492.97h1.06v4.48h-1.06zM356.04 492.97h1.06v4.48h-1.06zM360.08 492.97h1.06v4.48h-1.06zM362.10 492.97h1.06v4.48h-1.06zM363.11 492.97h1.06v4.48h-1.06zM368.15 492.97h1.06v4.48h-1.06zM371.18 492.97h1.06v4.48h-1.06zM372.19 492.97h1.06v4.48h-1.06zM374.21 492.97h1.06v4.48h-1.06zM375.22 492.97h1.06v4.48h-1.06zM378.25 492.97h1.06v4.48h-1.06zM382.29 492.97h1.06v4.48h-1.06z" fill="#26838e"/>
<path d="M363.11 364.40h1.06v4.48h-1.06zM376.23 364.40h1.06v4.48h-1.06zM396.40 364.40h1.05v4.48h-1.05zM371.18 368.83h1.06v4.48h-1.06zM376.23 368.83h1.06v4.48h-1.06zM354.02 373.27h1.06v4.48h-1.06zM367.15 373.27h1.06v4.48h-1.06zM374.21 373.27h1.06v4.48h-1.06zM356.04 377.70h1.06v4.48h-1.06zM360.08 377.70h1.06v4.48h-1.06zM372.19 377.70h1.06v4.48h-1.06zM366.14 382.13h1.06v4.48h-1.06zM392.40 382.13h1.05v4.48h-1.05zM367.15 386.57h1.06v4.48h-1.06zM372.19 386.57h1.06v4.48h-1.06zM375.22 386.57h1.06v4.48h-1.06zM355.03 391.00h1.06v4.48h-1.06zM358.06 391.00h1.06v4.48h-1.06zM369.16 391.00h1.06v4.48h-1.06zM375.22 391.00h1.06v4.48h-1.06zM396.40 391.00h1.05v4.48h-1.05zM352.00 395.43h1.06v4.48h-1.06zM356.04 395.43h1.06v4.48h-1.06zM357.05 395.43h1.06v4.48h-1.06zM380.27 395.43h1.06v4.48h-1.06zM353.01 399.87h1.06v4.48h-1.06zM360.08 399.87h1.06v4.48h-1.06zM371.18 399.87h1.06v4.48h-1.06zM375.22 399.87h1.06v4.48h-1.06zM394.40 399.87h1.05v4.48h-1.05zM367.15 404.30h1.06v4.48h-1.06zM371.18 404.30h1.06v4.48h-1.06zM374.21 404.30h1.06v4.48h-1.06zM376.23 404.30h1.06v4.48h-1.06zM378.25 408.73h1.06v4.48h-1.06zM352.00 413.17h1.06v4.48h-1.06zM368.15 413.17h1.06v4.48h-1.06zM377.24 413.17h1.06v4.48h-1.06zM379.26 413.17h1.06v4.48h-1.06zM364.12 417.60h1.06v4.48h-1.06zM375.22 417.60h1.06v4.48h-1.06zM376.23 417.60h1.06v4.48h-1.06zM406.40 417.60h1.05v4.48h-1.05zM352.00 422.03h1.06v4.48h-1.06zM374.21 422.03h1.06v4.48h-1.06zM352.00 426.47h1.06v4.48h-1.06zM353.01 426.47h1.06v4.48h-1.06zM354.02 426.47h1.06v4.48h-1.06zM355.03 426.47h1.06v4.48h-1.06zM356.04 426.47h1.06v4.48h-1.06zM357.05 426.47h1.06v4.48h-1.06zM358.06 426.47h1.06v4.48h-1.06zM359.07 426.47h1.06v4.48h-1.06zM360.08 426.47h1.06v4.48h-1.06zM361.09 426.47h1.06v4.48h-1.06zM362.10 426.47h1.06v4.48h-1.06zM363.11 426.47h1.06v4.48h-1.06zM364.12 426.47h1.06v4.48h-1.06zM365.13 426.47h1.06v4.48h-1.06zM366.14 426.47h1.06v4.48h-1.06zM367.15 426.47h1.06v4.48h-1.06zM368.15 426.47h1.06v4.48h-1.06zM369.16 426.47h1.06v4.48h-1.06zM370.17 426.47h1.06v4.48h-1.06zM371.18 426.47h1.06v4.48h-1.06zM372.19 426.47h1.06v4.48h-1.06zM373.20 426.47h1.06v4.48h-1.06zM374.21 426.47h1.06v4.48h-1.06zM375.22 426.47h1.06v4.48h-1.06zM376.23 426.47h1.06v4.48h-1.06zM377.24 426.47h1.06v4.48h-1.06zM378.25 426.47h1.06v4.48h-1.06zM379.26 426.47h1.06v4.48h-1.06zM380.27 426.47h1.06v4.48h-1.06zM381.28 426.47h1.06v4.48h-1.06zM382.29 426.47h1.06v4.48h-1.06zM385.40 426.47h1.05v4.48h-1.05zM386.40 426.47h1.05v4.48h-1.05zM391.40 426.47h1.05v4.48h-1.05zM393.40 426.47h1.05v4.48h-1.05zM400.40 426.47h1.05v4.48h-1.05zM401.40 426.47h1.05v4.48h-1.05zM404.40 426.47h1.05v4.48h-1.05zM405.40 426.47h1.05v4.48h-1.05zM352.00 430.90h1.06v4.48h-1.06zM353.01 430.90h1.06v4.48h-1.06zM354.02 430.90h1.06v4.48h-1.06zM355.03 430.90h1.06v4.48h-1.06zM356.04 430.90h1.06v4.48h-1.06zM357.05 430.90h1.06v4.48h-1.06zM358.06 430.90h1.06v4.48h-1.06zM359.07 430.90h1.06v4.48h-1.06zM360.08 430.90h1.06v4.48h-1.06zM361.09 430.90h1.06v4.48h-1.06zM362.10 430.90h1.06v4.48h-1.06zM363.11 430.90h1.06v4.48h-1.06zM364.12 430.90h1.06v4.48h-1.06zM365.13 430.90h1.06v4.48h-1.06zM366.14 430.90h1.06v4.48h-1.06zM367.15 430.90h1.06v4.48h-1.06zM368.15 430.90h1.06v4.48h-1.06zM369.16 430.90h1.06v4.48h-1.06zM370.17 430.90h1.06v4.48h-1.06zM371.18 430.90h1.06v4.48h-1.06zM372.19 430.90h1.06v4.48h-1.06zM373.20 430.90h1.06v4.48h-1.06zM374.21 430.90h1.06v4.48h-1.06zM375.22 430.90h1.06v4.48h-1.06zM376.23 430.90h1.06v4.48h-1.06zM377.24 430.90h1.06v4.48h-1.06zM378.25 430.90h1.06v4.48h-1.06zM379.26 430.90h1.06v4.48h-1.06zM380.27 430.90h1.06v4.48h-1.06zM381.28 430.90h1.06v4.48h-1.06zM382.29 430.90h1.06v4.48h-1.06zM386.40 430.90h1.05v4.48h-1.05zM388.40 430.90h1.05v4.48h-1.05zM390.40 430.90h1.05v4.48h-1.05zM391.40 430.90h1.05v4.48h-1.05zM397.40 430.90h1.05v4.48h-1.05zM398.40 430.90h1.05v4.48h-1.05zM401.40 430.90h1.05v4.48h-1.05zM405.40 430.90h1.05v4.48h-1.05zM406.40 430.90h1.05v4.48h-1.05zM407.40 430.90h1.05v4.48h-1.05zM352.00 435.33h1.06v4.48h-1.06zM353.01 435.33h1.06v4.48h-1.06zM354.02 435.33h1.06v4.48h-1.06zM355.03 435.33h1.06v4.48h-1.06zM356.04 435.33h1.06v4.48h-1.06zM357.05 435.33h1.06v4.48h-1.06zM358.06 435.33h1.06v4.48h-1.06zM359.07 435.33h1.06v4.48h-1.06zM360.08 435.33h1.06v4.48h-1.06zM361.09 435.33h1.06v4.48h-1.06zM362.10 435.33h1.06v4.48h-1.06zM363.11 435.33h1.06v4.48h-1.06zM364.12 435.33h1.06v4.48h-1.06zM365.13 435.33h1.06v4.48h-1.06zM366.14 435.33h1.06v4.48h-1.06zM367.15 435.33h1.06v4.48h-1.06zM368.15 435.33h1.06v4.48h-1.06zM369.16 435.33h1.06v4.48h-1.06zM370.17 435.33h1.06v4.48h-1.06zM371.18 435.33h1.06v4.48h-1.06zM372.19 435.33h1.06v4.48h-1.06zM373.20 435.33h1.06v4.48h-1.06zM374.21 435.33h1.06v4.48h-1.06zM375.22 435.33h1.06v4.48h-1.06zM376.23 435.33h1.06v4.48h-1.06zM377.24 435.33h1.06v4.48h-1.06zM378.25 435.33h1.06v4.48h-1.06zM379.26 435.33h1.06v4.48h-1.06zM380.27 435.33h1.06v4.48h-1.06zM381.28 435.33h1.06v4.48h-1.06zM382.29 435.33h1.06v4.48h-1.06zM387.40 435.33h1.05v4.48h-1.05zM388.40 435.33h1.05v4.48h-1.05zM389.40 435.33h1.05v4.48h-1.05zM392.40 435.33h1.05v4.48h-1.05zM404.40 435.33h1.05v4.48h-1.05zM405.40 435.33h1.05v4.48h-1.05zM406.40 435.33h1.05v4.48h-1.05zM352.00 439.77h1.06v4.48h-1.06zM353.01 439.77h1.06v4.48h-1.06zM354.02 439.77h1.06v4.48h-1.06zM355.03 439.77h1.06v4.48h-1.06zM356.04 439.77h1.06v4.48h-1.06zM357.05 439.77h1.06v4.48h-1.06zM358.06 439.77h1.06v4.48h-1.06zM359.07 439.77h1.06v4.48h-1.06zM360.08 439.77h1.06v4.48h-1.06zM361.09 439.77h1.06v4.48h-1.06zM362.10 439.77h1.06v4.48h-1.06zM363.11 439.77h1.06v4.48h-1.06zM364.12 439.77h1.06v4.48h-1.06zM365.13 439.77h1.06v4.48h-1.06zM366.14 439.77h1.06v4.48h-1.06zM367.15 439.77h1.06v4.48h-1.06zM368.15 439.77h1.06v4.48h-1.06zM369.16 439.77h1.06v4.48h-1.06zM370.17 439.77h1.06v4.48h-1.06zM371.18 439.77h1.06v4.48h-1.06zM372.19 439.77h1.06v4.48h-1.06zM373.20 439.77h1.06v4.48h-1.06zM374.21 439.77h1.06v4.48h-1.06zM375.22 439.77h1.06v4.48h-1.06zM376.23 439.77h1.06v4.48h-1.06zM377.24 439.77h1.06v4.48h-1.06zM378.25 439.77h1.06v4.48h-1.06zM379.26 439.77h1.06v4.48h-1.06zM380.27 439.77h1.06v4.48h-1.06zM381.28 439.77h1.06v4.48h-1.06zM382.29 439.77h1.06v4.48h-1.06zM384.40 439.77h1.05v4.48h-1.05zM387.40 439.77h1.05v4.48h-1.05zM391.40 439.77h1.05v4.48h-1.05zM394.40 439.77h1.05v4.48h-1.05zM395.40 439.77h1.05v4.48h-1.05zM396.40 439.77h1.05v4.48h-1.05zM398.40 439.77h1.05v4.48h-1.05zM405.40 439.77h1.05v4.48h-1.05zM406.40 439.77h1.05v4.48h-1.05zM357.05 444.20h1.06v4.48h-1.06zM362.10 444.20h1.06v4.48h-1.06zM363.11 444.20h1.06v4.48h-1.06zM365.13 444.20h1.06v4.48h-1.06zM368.15 444.20h1.06v4.48h-1.06zM369.16 444.20h1.06v4.48h-1.06zM370.17 444.20h1.06v4.48h-1.06zM375.22 444.20h1.06v4.48h-1.06zM378.25 444.20h1.06v4.48h-1.06zM380.27 444.20h1.06v4.48h-1.06zM381.28 444.20h1.06v4.48h-1.06zM384.40 444.20h1.05v4.48h-1.05zM385.40 444.20h1.05v4.48h-1.05zM386.40 444.20h1.05v4.48h-1.05zM387.40 444.20h1.05v4.48h-1.05zM388.40 444.20h1.05v4.48h-1.05zM389.40 444.20h1.05v4.48h-1.05zM390.40 444.20h1.05v4.48h-1.05zM391.40 444.20h1.05v4.48h-1.05zM392.40 444.20h1.05v4.48h-1.05zM393.40 444.20h1.05v4.48h-1.05zM394.40 444.20h1.05v4.48h-1.05zM395.40 444.20h1.05v4.48h-1.05zM396.40 444.20h1.05v4.48h-1.05zM397.40 444.20h1.05v4.48h-1.05zM398.40 444.20h1.05v4.48h-1.05zM399.40 444.20h1.05v4.48h-1.05zM400.40 444.20h1.05v4.48h-1.05zM401.40 444.20h1.05v4.48h-1.05zM402.40 444.20h1.05v4.48h-1.05zM403.40 444.20h1.05v4.48h-1.05zM404.40 444.20h1.05v4.48h-1.05zM405.40 444.20h1.05v4.48h-1.05zM406.40 444.20h1.05v4.48h-1.05zM407.40 444.20h1.05v4.48h-1.05zM357.05 448.63h1.06v4.48h-1.06zM359.07 448.63h1.06v4.48h-1.06zM364.12 448.63h1.06v4.48h-1.06zM369.16 448.63h1.06v4.48h-1.06zM370.17 448.63h1.06v4.48h-1.06zM371.18 448.63h1.06v4.48h-1.06zM372.19 448.63h1.06v4.48h-1.06zM378.25 448.63h1.06v4.48h-1.06zM384.40 448.63h1.05v4.48h-1.05zM385.40 448.63h1.05v4.48h-1.05zM386.40 448.63h1.05v4.48h-1.05zM387.40 448.63h1.05v4.48h-1.05zM388.40 448.63h1.05v4.48h-1.05zM389.40 448.63h1.05v4.48h-1.05zM390.40 448.63h1.05v4.48h-1.05zM391.40 448.63h1.05v4.48h-1.05zM392.40 448.63h1.05v4.48h-1.05zM393.40 448.63h1.05v4.48h-1.05zM394.40 448.63h1.05v4.48h-1.05zM395.40 448.63h1.05v4.48h-1.05zM396.40 448.63h1.05v4.48h-1.05zM397.40 448.63h1.05v4.48h-1.05zM398.40 448.63h1.05v4.48h-1.05zM399.40 448.63h1.05v4.48h-1.05zM400.40 448.63h1.05v4.48h-1.05zM401.40 448.63h1.05v4.48h-1.05zM402.40 448.63h1.05v4.48h-1.05zM403.40 448.63h1.05v4.48h-1.05zM404.40 448.63h1.05v4.48h-1.05zM405.40 448.63h1.05v4.48h-1.05zM406.40 448.63h1.05v4.48h-1.05zM407.40 448.63h1.05v4.48h-1.05zM352.00 453.07h1.06v4.48h-1.06zM353.01 453.07h1.06v4.48h-1.06zM357.05 453.07h1.06v4.48h-1.06zM362.10 453.07h1.06v4.48h-1.06zM363.11 453.07h1.06v4.48h-1.06zM365.13 453.07h1.06v4.48h-1.06zM370.17 453.07h1.06v4.48h-1.06zM374.21 453.07h1.06v4.48h-1.06zM377.24 453.07h1.06v4.48h-1.06zM382.29 453.07h1.06v4.48h-1.06zM384.40 453.07h1.05v4.48h-1.05zM385.40 453.07h1.05v4.48h-1.05zM386.40 453.07h1.05v4.48h-1.05zM387.40 453.07h1.05v4.48h-1.05zM388.40 453.07h1.05v4.48h-1.05zM389.40 453.07h1.05v4.48h-1.05zM390.40 453.07h1.05v4.48h-1.05zM391.40 453.07h1.05v4.48h-1.05zM392.40 453.07h1.05v4.48h-1.05zM393.40 453.07h1.05v4.48h-1.05zM394.40 453.07h1.05v4.48h-1.05zM395.40 453.07h1.05v4.48h-1.05zM396.40 453.07h1.05v4.48h-1.05zM397.40 453.07h1.05v4.48h-1.05zM398.40 453.07h1.05v4.48h-1.05zM399.40 453.07h1.05v4.48h-1.05zM400.40 453.07h1.05v4.48h-1.05zM401.40 453.07h1.05v4.48h-1.05zM402.40 453.07h1.05v4.48h-1.05zM403.40 453.07h1.05v4.48h-1.05zM404.40 453.07h1.05v4.48h-1.05zM405.40 453.07h1.05v4.48h-1.05zM406.40 453.07h1.05v4.48h-1.05zM407.40 453.07h1.05v4.48h-1.05zM356.04 457.50h1.06v4.48h-1.06zM357.05 457.50h1.06v4.48h-1.06zM358.06 457.50h1.06v4.48h-1.06zM359.07 457.50h1.06v4.48h-1.06zM360.08 457.50h1.06v4.48h-1.06zM379.26 457.50h1.06v4.48h-1.06zM381.28 457.50h1.06v4.48h-1.06zM384.40 457.50h1.05v4.48h-1.05zM385.40 457.50h1.05v4.48h-1.05zM386.40 457.50h1.05v4.48h-1.05zM387.40 457.50h1.05v4.48h-1.05zM388.40 457.50h1.05v4.48h-1.05zM389.40 457.50h1.05v4.48h-1.05zM390.40 457.50h1.05v4.48h-1.05zM391.40 457.50h1.05v4.48h-1.05zM392.40 457.50h1.05v4.48h-1.05zM393.40 457.50h1.05v4.48h-1.05zM394.40 457.50h1.05v4.48h-1.05zM395.40 457.50h1.05v4.48h-1.05zM396.40 457.50h1.05v4.48h-1.05zM397.40 457.50h1.05v4.48h-1.05zM398.40 457.50h1.05v4.48h-1.05zM399.40 457.50h1.05v4.48h-1.05zM400.40 457.50h1.05v4.48h-1.05zM401.40 457.50h1.05v4.48h-1.05zM402.40 457.50h1.05v4.48h-1.05zM403.40 457.50h1.05v4.48h-1.05zM404.40 457.50h1.05v4.48h-1.05zM405.40 457.50h1.05v4.48h-1.05zM406.40 457.50h1.05v4.48h-1.05zM407.40 457.50h1.05v4.48h-1.05zM361.09 461.93h1.06v4.48h-1.06zM363.11 461.93h1.06v4.48h-1.06zM375.22 461.93h1.06v4.48h-1.06zM376.23 461.93h1.06v4.48h-1.06zM378.25 461.93h1.06v4.48h-1.06zM381.28 461.93h1.06v4.48h-1.06zM382.29 461.93h1.06v4.48h-1.06zM384.40 461.93h1.05v4.48h-1.05zM385.40 461.93h1.05v4.48h-1.05zM386.40 461.93h1.05v4.48h-1.05zM387.40 461.93h1.05v4.48h-1.05zM388.40 461.93h1.05v4.48h-1.05zM389.40 461.93h1.05v4.48h-1.05zM390.40 461.93h1.05v4.48h-1.05zM391.40 461.93h1.05v4.48h-1.05zM392.40 461.93h1.05v4.48h-1.05zM393.40 461.93h1.05v4.48h-1.05zM394.40 461.93h1.05v4.48h-1.05zM395.40 461.93h1.05v4.48h-1.05zM396.40 461.93h1.05v4.48h-1.05zM397.40 461.93h1.05v4.48h-1.05zM398.40 461.93h1.05v4.48h-1.05zM399.40 461.93h1.05v4.48h-1.05zM400.40 461.93h1.05v4.48h-1.05zM401.40 461.93h1.05v4.48h-1.05zM402.40 461.93h1.05v4.48h-1.05zM403.40 461.93h1.05v4.48h-1.05zM404.40 461.93h1.05v4.48h-1.05zM405.40 461.93h1.05v4.48h-1.05zM406.40 461.93h1.05v4.48h-1.05zM407.40 461.93h1.05v4.48h-1.05zM361.09 470.80h1.06v4.48h-1.06zM369.16 470.80h1.06v4.48h-1.06zM352.00 475.23h1.06v4.48h-1.06zM355.03 475.23h1.06v4.48h-1.06zM364.12 475.23h1.06v4.48h-1.06zM365.13 475.23h1.06v4.48h-1.06zM373.20 475.23h1.06v4.48h-1.06zM377.24 475.23h1.06v4.48h-1.06zM379.26 475.23h1.06v4.48h-1.06zM384.40 475.23h1.05v4.48h-1.05zM385.40 475.23h1.05v4.48h-1.05zM386.40 475.23h1.05v4.48h-1.05zM387.40 475.23h1.05v4.48h-1.05zM388.40 475.23h1.05v4.48h-1.05zM389.40 475.23h1.05v4.48h-1.05zM390.40 475.23h1.05v4.48h-1.05zM391.40 475.23h1.05v4.48h-1.05zM392.40 475.23h1.05v4.48h-1.05zM393.40 475.23h1.05v4.48h-1.05zM394.40 475.23h1.05v4.48h-1.05zM395.40 475.23h1.05v4.48h-1.05zM396.40 475.23h1.05v4.48h-1.05zM397.40 475.23h1.05v4.48h-1.05zM398.40 475.23h1.05v4.48h-1.05zM399.40 475.23h1.05v4.48h-1.05zM400.40 475.23h1.05v4.48h-1.05zM401.40 475.23h1.05v4.48h-1.05zM402.40 475.23h1.05v4.48h-1.05zM403.40 475.23h1.05v4.48h-1.05zM404.40 475.23h1.05v4.48h-1.05zM405.40 475.23h1.05v4.48h-1.05zM406.40 475.23h1.05v4.48h-1.05zM407.40 475.23h1.05v4.48h-1.05zM355.03 479.67h1.06v4.48h-1.06zM369.16 479.67h1.06v4.48h-1.06zM370.17 479.67h1.06v4.48h-1.06zM374.21 479.67h1.06v4.48h-1.06zM375.22 479.67h1.06v4.48h-1.06zM376.23 479.67h1.06v4.48h-1.06zM380.27 479.67h1.06v4.48h-1.06zM384.40 479.67h1.05v4.48h-1.05zM385.40 479.67h1.05v4.48h-1.05zM386.40 479.67h1.05v4.48h-1.05zM387.40 479.67h1.05v4.48h-1.05zM388.40 479.67h1.05v4.48h-1.05zM389.40 479.67h1.05v4.48h-1.05zM390.40 479.67h1.05v4.48h-1.05zM391.40 479.67h1.05v4.48h-1.05zM392.40 479.67h1.05v4.48h-1.05zM393.40 479.67h1.05v4.48h-1.05zM394.40 479.67h1.05v4.48h-1.05zM395.40 479.67h1.05v4.48h-1.05zM396.40 479.67h1.05v4.48h-1.05zM397.40 479.67h1.05v4.48h-1.05zM398.40 479.67h1.05v4.48h-1.05zM399.40 479.67h1.05v4.48h-1.05zM400.40 479.67h1.05v4.48h-1.05zM401.40 479.67h1.05v4.48h-1.05zM402.40 479.67h1.05v4.48h-1.05zM403.40 479.67h1.05v4.48h-1.05zM404.40 479.67h1.05v4.48h-1.05zM405.40 479.67h1.05v4.48h-1.05zM406.40 479.67h1.05v4.48h-1.05zM407.40 479.67h1.05v4.48h-1.05zM353.01 484.10h1.06v4.48h-1.06zM354.02 484.10h1.06v4.48h-1.06zM359.07 484.10h1.06v4.48h-1.06zM360.08 484.10h1.06v4.48h-1.06zM361.09 484.10h1.06v4.48h-1.06zM362.10 484.10h1.06v4.48h-1.06zM366.14 484.10h1.06v4.48h-1.06zM368.15 484.10h1.06v4.48h-1.06zM370.17 484.10h1.06v4.48h-1.06zM372.19 484.10h1.06v4.48h-1.06zM374.21 484.10h1.06v4.48h-1.06zM382.29 484.10h1.06v4.48h-1.06zM384.40 484.10h1.05v4.48h-1.05zM385.40 484.10h1.05v4.48h-1.05zM386.40 484.10h1.05v4.48h-1.05zM387.40 484.10h1.05v4.48h-1.05zM388.40 484.10h1.05v4.48h-1.05zM389.40 484.10h1.05v4.48h-1.05zM390.40 484.10h1.05v4.48h-1.05zM391.40 484.10h1.05v4.48h-1.05zM392.40 484.10h1.05v4.48h-1.05zM393.40 484.10h1.05v4.48h-1.05zM394.40 484.10h1.05v4.48h-1.05zM395.40 484.10h1.05v4.48h-1.05zM396.40 484.10h1.05v4.48h-1.05zM397.40 484.10h1.05v4.48h-1.05zM398.40 484.10h1.05v4.48h-1.05zM399.40 484.10h1.05v4.48h-1.05zM400.40 484.10h1.05v4.48h-1.05zM401.40 484.10h1.05v4.48h-1.05zM402.40 484.10h1.05v4.48h-1.05zM403.40 484.10h1.05v4.48h-1.05zM404.40 484.10h1.05v4.48h-1.05zM405.40 484.10h1.05v4.48h-1.05zM406.40 484.10h1.05v4.48h-1.05zM407.40 484.10h1.05v4.48h-1.05zM361.09 488.53h1.06v4.48h-1.06zM363.11 488.53h1.06v4.48h-1.06zM364.12 488.53h1.06v4.48h-1.06zM366.14 488.53h1.06v4.48h-1.06zM371.18 488.53h1.06v4.48h-1.06zM375.22 488.53h1.06v4.48h-1.06zM384.40 488.53h1.05v4.48h-1.05zM385.40 488.53h1.05v4.48h-1.05zM386.40 488.53h1.05v4.48h-1.05zM387.40 488.53h1.05v4.48h-1.05zM388.40 488.53h1.05v4.48h-1.05zM389.40 488.53h1.05v4.48h-1.05zM390.40 488.53h1.05v4.48h-1.05zM391.40 488.53h1.05v4.48h-1.05zM392.40 488.53h1.05v4.48h-1.05zM393.40 488.53h1.05v4.48h-1.05zM394.40 488.53h1.05v4.48h-1.05zM395.40 488.53h1.05v4.48h-1.05zM396.40 488.53h1.05v4.48h-1.05zM397.40 488.53h1.05v4.48h-1.05zM398.40 488.53h1.05v4.48h-1.05zM399.40 488.53h1.05v4.48h-1.05zM400.40 488.53h1.05v4.48h-1.05zM401.40 488.53h1.05v4.48h-1.05zM402.40 488.53h1.05v4.48h-1.05zM403.40 488.53h1.05v4.48h-1.05zM404.40 488.53h1.05v4.48h-1.05zM405.40 488.53h1.05v4.48h-1.05zM406.40 488.53h1.05v4.48h-1.05zM407.40 488.53h1.05v4.48h-1.05zM352.00 492.97h1.06v4.48h-1.06zM359.07 492.97h1.06v4.48h-1.06zM364.12 492.97h1.06v4.48h-1.06zM365.13 492.97h1.06v4.48h-1.06zM366.14 492.97h1.06v4.48h-1.06zM367.15 492.97h1.06v4.48h-1.06zM369.16 492.97h1.06v4.48h-1.06zM370.17 492.97h1.06v4.48h-1.06zM373.20 492.97h1.06v4.48h-1.06zM376.23 492.97h1.06v4.48h-1.06zM384.40 492.97h1.05v4.48h-1.05zM385.40 492.97h1.05v4.48h-1.05zM386.40 492.97h1.05v4.48h-1.05zM387.40 492.97h1.05v4.48h-1.05zM388.40 492.97h1.05v4.48h-1.05zM389.40 492.97h1.05v4.48h-1.05zM390.40 492.97h1.05v4.48h-1.05zM391.40 492.97h1.05v4.48h-1.05zM392.40 492.97h1.05v4.48h-1.05zM393.40 492.97h1.05v4.48h-1.05zM394.40 492.97h1.05v4.48h-1.05zM395.40 492.97h1.05v4.48h-1.05zM396.40 492.97h1.05v4.48h-1.05zM397.40 492.97h1.05v4.48h-1.05zM398.40 492.97h1.05v4.48h-1.05zM399.40 492.97h1.05v4.48h-1.05zM400.40 492.97h1.05v4.48h-1.05zM401.40 492.97h1.05v4.48h-1.05zM402.40 492.97h1.05v4.48h-1.05zM403.40 492.97h1.05v4.48h-1.05zM404.40 492.97h1.05v4.48h-1.05zM405.40 492.97h1.05v4.48h-1.05zM406.40 492.97h1.05v4.48h-1.05zM407.40 492.97h1.05v4.48h-1.05z" fill="#287d8e"/>
<path d="M377.24 364.40h1.06v4.48h-1.06zM385.40 364.40h1.05v4.48h-1.05zM391.40 368.83h1.05v4.48h-1.05zM391.40 373.27h1.05v4.48h-1.05zM394.40 373.27h1.05v4.48h-1.05zM402.40 386.57h1.05v4.48h-1.05zM405.40 386.57h1.05v4.48h-1.05zM378.25 395.43h1.06v4.48h-1.06zM356.04 399.87h1.06v4.48h-1.06zM384.40 399.87h1.05v4.48h-1.05zM386.40 399.87h1.05v4.48h-1.05zM388.40 404.30h1.05v4.48h-1.05zM402.40 404.30h1.05v4.48h-1.05zM386.40 408.73h1.05v4.48h-1.05zM392.40 413.17h1.05v4.48h-1.05zM403.40 413.17h1.05v4.48h-1.05zM392.40 426.47h1.05v4.48h-1.05zM393.40 430.90h1.05v4.48h-1.05zM386.40 435.33h1.05v4.48h-1.05zM400.40 439.77h1.05v4.48h-1.05zM358.06 444.20h1.06v4.48h-1.06zM366.14 444.20h1.06v4.48h-1.06zM372.19 444.20h1.06v4.48h-1.06zM361.09 457.50h1.06v4.48h-1.06zM363.11 457.50h1.06v4.48h-1.06zM358.06 466.37h1.06v4.48h-1.06zM365.13 466.37h1.06v4.48h-1.06zM378.25 466.37h1.06v4.48h-1.06zM400.40 466.37h1.05v4.48h-1.05zM401.40 466.37h1.05v4.48h-1.05zM357.05 470.80h1.06v4.48h-1.06zM385.40 470.80h1.05v4.48h-1.05zM400.40 470.80h1.05v4.48h-1.05zM354.02 475.23h1.06v4.48h-1.06zM369.16 475.23h1.06v4.48h-1.06zM362.10 479.67h1.06v4.48h-1.06zM367.15 488.53h1.06v4.48h-1.06zM358.06 492.97h1.06v4.48h-1.06z" fill="#8bd446"/>
<path d="M378.25 364.40h1.06v4.48h-1.06zM384.40 368.83h1.05v4.48h-1.05zM354.02 377.70h1.06v4.48h-1.06zM398.40 377.70h1.05v4.48h-1.05zM360.08 382.13h1.06v4.48h-1.06zM384.40 382.13h1.05v4.48h-1.05zM373.20 386.57h1.06v4.48h-1.06zM391.40 386.57h1.05v4.48h-1.05zM391.40 391.00h1.05v4.48h-1.05zM394.40 395.43h1.05v4.48h-1.05zM352.00 399.87h1.06v4.48h-1.06zM385.40 404.30h1.05v4.48h-1.05zM394.40 404.30h1.05v4.48h-1.05zM358.06 408.73h1.06v4.48h-1.06zM361.09 413.17h1.06v4.48h-1.06zM385.40 417.60h1.05v4.48h-1.05zM405.40 417.60h1.05v4.48h-1.05zM386.40 422.03h1.05v4.48h-1.05zM398.40 422.03h1.05v4.48h-1.05zM387.40 426.47h1.05v4.48h-1.05zM398.40 426.47h1.05v4.48h-1.05zM406.40 426.47h1.05v4.48h-1.05zM387.40 430.90h1.05v4.48h-1.05zM397.40 435.33h1.05v4.48h-1.05zM371.18 457.50h1.06v4.48h-1.06zM370.17 470.80h1.06v4.48h-1.06zM358.06 479.67h1.06v4.48h-1.06zM371.18 479.67h1.06v4.48h-1.06zM369.16 488.53h1.06v4.48h-1.06zM381.28 492.97h1.06v4.48h-1.06z" fill="#46be6f"/>
<path d="M381.28 364.40h1.06v4.48h-1.06zM359.07 368.83h1.06v4.48h-1.06zM353.01 373.27h1.06v4.48h-1.06zM385.40 373.27h1.05v4.48h-1.05zM361.09 377.70h1.06v4.48h-1.06zM363.11 377.70h1.06v4.48h-1.06zM367.15 377.70h1.06v4.48h-1.06zM370.17 377.70h1.06v4.48h-1.06zM373.20 377.70h1.06v4.48h-1.06zM377.24 377.70h1.06v4.48h-1.06zM379.26 377.70h1.06v4.48h-1.06zM382.29 377.70h1.06v4.48h-1.06zM365.13 382.13h1.06v4.48h-1.06zM368.15 382.13h1.06v4.48h-1.06zM382.29 382.13h1.06v4.48h-1.06zM352.00 386.57h1.06v4.48h-1.06zM364.12 386.57h1.06v4.48h-1.06zM365.13 386.57h1.06v4.48h-1.06zM379.26 386.57h1.06v4.48h-1.06zM381.28 386.57h1.06v4.48h-1.06zM384.40 386.57h1.05v4.48h-1.05zM396.40 386.57h1.05v4.48h-1.05zM367.15 391.00h1.06v4.48h-1.06zM377.24 391.00h1.06v4.48h-1.06zM400.40 391.00h1.05v4.48h-1.05zM353.01 395.43h1.06v4.48h-1.06zM360.08 395.43h1.06v4.48h-1.06zM365.13 395.43h1.06v4.48h-1.06zM358.06 399.87h1.06v4.48h-1.06zM359.07 399.87h1.06v4.48h-1.06zM367.15 399.87h1.06v4.48h-1.06zM369.16 399.87h1.06v4.48h-1.06zM362.10 404.30h1.06v4.48h-1.06zM365.13 404.30h1.06v4.48h-1.06zM370.17 404.30h1.06v4.48h-1.06zM373.20 404.30h1.06v4.48h-1.06zM359.07 408.73h1.06v4.48h-1.06zM365.13 408.73h1.06v4.48h-1.06zM378.25 413.17h1.06v4.48h-1.06zM389.40 413.17h1.05v4.48h-1.05zM397.40 413.17h1.05v4.48h-1.05zM352.00 417.60h1.06v4.48h-1.06zM358.06 417.60h1.06v4.48h-1.06zM362.10 417.60h1.06v4.48h-1.06zM381.28 417.60h1.06v4.48h-1.06zM377.24 422.03h1.06v4.48h-1.06zM366.14 466.37h1.06v4.48h-1.06zM372.19 466.37h1.06v4.48h-1.06zM385.40 466.37h1.05v4.48h-1.05zM386.40 466.37h1.05v4.48h-1.05zM396.40 466.37h1.05v4.48h-1.05zM379.26 470.80h1.06v4.48h-1.06zM392.40 470.80h1.05v4.48h-1.05zM397.40 470.80h1.05v4.48h-1.05z" fill="#355f8c"/>
<path d="M382.29 364.40h1.06v4.48h-1.06zM369.16 368.83h1.06v4.48h-1.06zM364.12 373.27h1.06v4.48h-1.06zM368.15 373.27h1.06v4.48h-1.06zM378.25 373.27h1.06v4.48h-1.06zM382.29 373.27h1.06v4.48h-1.06zM362.10 377.70h1.06v4.48h-1.06zM381.28 377.70h1.06v4.48h-1.06zM353.01 382.13h1.06v4.48h-1.06zM369.16 382.13h1.06v4.48h-1.06zM382.29 391.00h1.06v4.48h-1.06zM382.29 395.43h1.06v4.48h-1.06zM362.10 399.87h1.06v4.48h-1.06zM382.29 408.73h1.06v4.48h-1.06zM353.01 413.17h1.06v4.48h-1.06zM357.05 413.17h1.06v4.48h-1.06zM360.08 413.17h1.06v4.48h-1.06zM362.10 413.17h1.06v4.48h-1.06zM366.14 417.60h1.06v4.48h-1.06zM364.12 466.37h1.06v4.48h-1.06zM381.28 466.37h1.06v4.48h-1.06zM388.40 466.37h1.05v4.48h-1.05zM394.40 466.37h1.05v4.48h-1.05zM395.40 466.37h1.05v4.48h-1.05zM355.03 470.80h1.06v4.48h-1.06zM360.08 470.80h1.06v4.48h-1.06zM375.22 470.80h1.06v4.48h-1.06zM377.24 470.80h1.06v4.48h-1.06zM393.40 470.80h1.05v4.48h-1.05zM401.40 470.80h1.05v4.48h-1.05zM402.40 470.80h1.05v4.48h-1.05z" fill="#38588b"/>
<path d="M384.40 364.40h1.05v4.48h-1.05zM386.40 364.40h1.05v4.48h-1.05zM388.40 364.40h1.05v4.48h-1.05zM406.40 364.40h1.05v4.48h-1.05zM392.40 368.83h1.05v4.48h-1.05zM393.40 368.83h1.05v4.48h-1.05zM395.40 368.83h1.05v4.48h-1.05zM406.40 368.83h1.05v4.48h-1.05zM401.40 373.27h1.05v4.48h-1.05zM388.40 377.70h1.05v4.48h-1.05zM393.40 377.70h1.05v4.48h-1.05zM395.40 377.70h1.05v4.48h-1.05zM399.40 377.70h1.05v4.48h-1.05zM371.18 382.13h1.06v4.48h-1.06zM390.40 382.13h1.05v4.48h-1.05zM400.40 382.13h1.05v4.48h-1.05zM401.40 382.13h1.05v4.48h-1.05zM389.40 386.57h1.05v4.48h-1.05zM393.40 386.57h1.05v4.48h-1.05zM398.40 391.00h1.05v4.48h-1.05zM399.40 391.00h1.05v4.48h-1.05zM402.40 391.00h1.05v4.48h-1.05zM369.16 395.43h1.06v4.48h-1.06zM400.40 395.43h1.05v4.48h-1.05zM368.15 399.87h1.06v4.48h-1.06zM399.40 399.87h1.05v4.48h-1.05zM405.40 399.87h1.05v4.48h-1.05zM354.02 404.30h1.06v4.48h-1.06zM384.40 404.30h1.05v4.48h-1.05zM386.40 404.30h1.05v4.48h-1.05zM395.40 408.73h1.05v4.48h-1.05zM396.40 408.73h1.05v4.48h-1.05zM394.40 413.17h1.05v4.48h-1.05zM402.40 413.17h1.05v4.48h-1.05zM405.40 413.17h1.05v4.48h-1.05zM388.40 417.60h1.05v4.48h-1.05zM394.40 417.60h1.05v4.48h-1.05zM403.40 417.60h1.05v4.48h-1.05zM389.40 422.03h1.05v4.48h-1.05zM397.40 422.03h1.05v4.48h-1.05zM402.40 422.03h1.05v4.48h-1.05zM406.40 422.03h1.05v4.48h-1.05zM389.40 426.47h1.05v4.48h-1.05zM390.40 426.47h1.05v4.48h-1.05zM391.40 435.33h1.05v4.48h-1.05zM393.40 435.33h1.05v4.48h-1.05zM395.40 435.33h1.05v4.48h-1.05zM403.40 435.33h1.05v4.48h-1.05zM399.40 439.77h1.05v4.48h-1.05zM352.00 444.20h1.06v4.48h-1.06zM382.29 444.20h1.06v4.48h-1.06zM360.08 448.63h1.06v4.48h-1.06zM374.21 448.63h1.06v4.48h-1.06zM380.27 453.07h1.06v4.48h-1.06zM359.07 466.37h1.06v4.48h-1.06zM405.40 470.80h1.05v4.48h-1.05zM378.25 475.23h1.06v4.48h-1.06zM356.04 479.67h1.06v4.48h-1.06zM377.24 484.10h1.06v4.48h-1.06z" fill="#23a286"/>
<path d="M387.40 364.40h1.05v4.48h-1.05zM399.40 368.83h1.05v4.48h-1.05zM389.40 373.27h1.05v4.48h-1.05zM402.40 377.70h1.05v4.48h-1.05zM394.40 386.57h1.05v4.48h-1.05zM398.40 386.57h1.05v4.48h-1.05zM387.40 395.43h1.05v4.48h-1.05zM403.40 395.43h1.05v4.48h-1.05zM385.40 399.87h1.05v4.48h-1.05zM390.40 399.87h1.05v4.48h-1.05zM366.14 404.30h1.06v4.48h-1.06zM393.40 404.30h1.05v4.48h-1.05zM397.40 404.30h1.05v4.48h-1.05zM398.40 404.30h1.05v4.48h-1.05zM400.40 404.30h1.05v4.48h-1.05zM367.15 408.73h1.06v4.48h-1.06zM394.40 408.73h1.05v4.48h-1.05zM398.40 408.73h1.05v4.48h-1.05zM404.40 408.73h1.05v4.48h-1.05zM406.40 408.73h1.05v4.48h-1.05zM390.40 413.17h1.05v4.48h-1.05zM407.40 413.17h1.05v4.48h-1.05zM369.16 417.60h1.06v4.48h-1.06zM389.40 417.60h1.05v4.48h-1.05zM393.40 417.60h1.05v4.48h-1.05zM399.40 417.60h1.05v4.48h-1.05zM401.40 422.03h1.05v4.48h-1.05zM389.40 430.90h1.05v4.48h-1.05zM403.40 439.77h1.05v4.48h-1.05zM354.02 444.20h1.06v4.48h-1.06zM365.13 461.93h1.06v4.48h-1.06zM382.29 466.37h1.06v4.48h-1.06zM391.40 466.37h1.05v4.48h-1.05zM369.16 484.10h1.06v4.48h-1.06zM356.04 488.53h1.06v4.48h-1.06zM381.28 488.53h1.06v4.48h-1.06z" fill="#32b37b"/>
<path d="M389.40 364.40h1.05v4.48h-1.05zM390.40 364.40h1.05v4.48h-1.05zM396.40 368.83h1.05v4.48h-1.05zM407.40 368.83h1.05v4.48h-1.05zM356.04 373.27h1.06v4.48h-1.06zM387.40 373.27h1.05v4.48h-1.05zM392.40 373.27h1.05v4.48h-1.05zM400.40 373.27h1.05v4.48h-1.05zM407.40 373.27h1.05v4.48h-1.05zM385.40 377.70h1.05v4.48h-1.05zM397.40 377.70h1.05v4.48h-1.05zM407.40 377.70h1.05v4.48h-1.05zM397.40 382.13h1.05v4.48h-1.05zM398.40 382.13h1.05v4.48h-1.05zM390.40 386.57h1.05v4.48h-1.05zM397.40 386.57h1.05v4.48h-1.05zM406.40 386.57h1.05v4.48h-1.05zM402.40 395.43h1.05v4.48h-1.05zM376.23 399.87h1.06v4.48h-1.06zM389.40 399.87h1.05v4.48h-1.05zM407.40 399.87h1.05v4.48h-1.05zM384.40 413.17h1.05v4.48h-1.05zM360.08 417.60h1.06v4.48h-1.06zM374.21 417.60h1.06v4.48h-1.06zM387.40 417.60h1.05v4.48h-1.05zM407.40 417.60h1.05v4.48h-1.05zM388.40 422.03h1.05v4.48h-1.05zM390.40 422.03h1.05v4.48h-1.05zM390.40 439.77h1.05v4.48h-1.05zM376.23 444.20h1.06v4.48h-1.06zM362.10 448.63h1.06v4.48h-1.06zM374.21 457.50h1.06v4.48h-1.06zM371.18 470.80h1.06v4.48h-1.06zM380.27 470.80h1.06v4.48h-1.06zM386.40 470.80h1.05v4.48h-1.05zM395.40 470.80h1.05v4.48h-1.05zM359.07 479.67h1.06v4.48h-1.06zM358.06 484.10h1.06v4.48h-1.06zM367.15 484.10h1.06v4.48h-1.06z" fill="#1f9d89"/>
<path d="M391.40 364.40h1.05v4.48h-1.05zM397.40 364.40h1.05v4.48h-1.05zM399.40 364.40h1.05v4.48h-1.05zM402.40 364.40h1.05v4.48h-1.05zM375.22 373.27h1.06v4.48h-1.06zM399.40 373.27h1.05v4.48h-1.05zM402.40 373.27h1.05v4.48h-1.05zM406.40 373.27h1.05v4.48h-1.05zM387.40 377.70h1.05v4.48h-1.05zM389.40 377.70h1.05v4.48h-1.05zM400.40 377.70h1.05v4.48h-1.05zM352.00 382.13h1.06v4.48h-1.06zM358.06 382.13h1.06v4.48h-1.06zM361.09 382.13h1.06v4.48h-1.06zM377.24 382.13h1.06v4.48h-1.06zM387.40 382.13h1.05v4.48h-1.05zM393.40 382.13h1.05v4.48h-1.05zM385.40 386.57h1.05v4.48h-1.05zM386.40 386.57h1.05v4.48h-1.05zM400.40 386.57h1.05v4.48h-1.05zM389.40 395.43h1.05v4.48h-1.05zM407.40 395.43h1.05v4.48h-1.05zM398.40 399.87h1.05v4.48h-1.05zM405.40 404.30h1.05v4.48h-1.05zM397.40 408.73h1.05v4.48h-1.05zM400.40 408.73h1.05v4.48h-1.05zM366.14 413.17h1.06v4.48h-1.06zM384.40 417.60h1.05v4.48h-1.05zM400.40 417.60h1.05v4.48h-1.05zM368.15 422.03h1.06v4.48h-1.06zM399.40 422.03h1.05v4.48h-1.05zM407.40 422.03h1.05v4.48h-1.05zM407.40 426.47h1.05v4.48h-1.05zM384.40 430.90h1.05v4.48h-1.05zM376.23 448.63h1.06v4.48h-1.06zM360.08 453.07h1.06v4.48h-1.06zM366.14 453.07h1.06v4.48h-1.06zM376.23 453.07h1.06v4.48h-1.06zM379.26 453.07h1.06v4.48h-1.06zM367.15 457.50h1.06v4.48h-1.06zM364.12 461.93h1.06v4.48h-1.06zM355.03 466.37h1.06v4.48h-1.06zM380.27 466.37h1.06v4.48h-1.06zM390.40 466.37h1.05v4.48h-1.05zM374.21 470.80h1.06v4.48h-1.06zM398.40 470.80h1.05v4.48h-1.05zM354.02 479.67h1.06v4.48h-1.06zM368.15 479.67h1.06v4.48h-1.06zM382.29 479.67h1.06v4.48h-1.06zM356.04 484.10h1.06v4.48h-1.06zM379.26 492.97h1.06v4.48h-1.06z" fill="#28a883"/>
<path d="M392.40 364.40h1.05v4.48h-1.05zM398.40 364.40h1.05v4.48h-1.05zM375.22 368.83h1.06v4.48h-1.06zM380.27 368.83h1.06v4.48h-1.06zM397.40 373.27h1.05v4.48h-1.05zM374.21 377.70h1.06v4.48h-1.06zM396.40 377.70h1.05v4.48h-1.05zM405.40 377.70h1.05v4.48h-1.05zM376.23 382.13h1.06v4.48h-1.06zM387.40 386.57h1.05v4.48h-1.05zM395.40 386.57h1.05v4.48h-1.05zM404.40 386.57h1.05v4.48h-1.05zM374.21 395.43h1.06v4.48h-1.06zM388.40 395.43h1.05v4.48h-1.05zM396.40 404.30h1.05v4.48h-1.05zM399.40 408.73h1.05v4.48h-1.05zM395.40 413.17h1.05v4.48h-1.05zM406.40 413.17h1.05v4.48h-1.05zM392.40 417.60h1.05v4.48h-1.05zM397.40 417.60h1.05v4.48h-1.05zM396.40 422.03h1.05v4.48h-1.05zM404.40 422.03h1.05v4.48h-1.05zM364.12 444.20h1.06v4.48h-1.06zM365.13 448.63h1.06v4.48h-1.06zM352.00 466.37h1.06v4.48h-1.06zM387.40 470.80h1.05v4.48h-1.05zM363.11 484.10h1.06v4.48h-1.06z" fill="#248a8d"/>
<path d="M394.40 364.40h1.05v4.48h-1.05zM374.21 368.83h1.06v4.48h-1.06zM398.40 373.27h1.05v4.48h-1.05zM392.40 377.70h1.05v4.48h-1.05zM401.40 377.70h1.05v4.48h-1.05zM399.40 382.13h1.05v4.48h-1.05zM402.40 382.13h1.05v4.48h-1.05zM385.40 391.00h1.05v4.48h-1.05zM386.40 391.00h1.05v4.48h-1.05zM389.40 391.00h1.05v4.48h-1.05zM405.40 391.00h1.05v4.48h-1.05zM392.40 395.43h1.05v4.48h-1.05zM403.40 399.87h1.05v4.48h-1.05zM406.40 399.87h1.05v4.48h-1.05zM392.40 404.30h1.05v4.48h-1.05zM391.40 408.73h1.05v4.48h-1.05zM401.40 413.17h1.05v4.48h-1.05zM373.20 417.60h1.06v4.48h-1.06zM386.40 417.60h1.05v4.48h-1.05zM390.40 417.60h1.05v4.48h-1.05zM391.40 417.60h1.05v4.48h-1.05zM377.24 444.20h1.06v4.48h-1.06zM353.01 448.63h1.06v4.48h-1.06zM382.29 448.63h1.06v4.48h-1.06zM368.15 461.93h1.06v4.48h-1.06zM374.21 461.93h1.06v4.48h-1.06zM359.07 470.80h1.06v4.48h-1.06zM365.13 470.80h1.06v4.48h-1.06zM370.17 475.23h1.06v4.48h-1.06zM372.19 488.53h1.06v4.48h-1.06z" fill="#2dae7f"/>
<path d="M400.40 364.40h1.05v4.48h-1.05zM388.40 368.83h1.05v4.48h-1.05zM376.23 373.27h1.06v4.48h-1.06zM396.40 373.27h1.05v4.48h-1.05zM396.40 382.13h1.05v4.48h-1.05zM406.40 382.13h1.05v4.48h-1.05zM388.40 386.57h1.05v4.48h-1.05zM399.40 386.57h1.05v4.48h-1.05zM406.40 391.00h1.05v4.48h-1.05zM393.40 395.43h1.05v4.48h-1.05zM395.40 395.43h1.05v4.48h-1.05zM405.40 395.43h1.05v4.48h-1.05zM393.40 399.87h1.05v4.48h-1.05zM395.40 404.30h1.05v4.48h-1.05zM402.40 417.60h1.05v4.48h-1.05zM391.40 422.03h1.05v4.48h-1.05zM362.10 470.80h1.06v4.48h-1.06z" fill="#21968a"/>
<path d="M401.40 364.40h1.05v4.48h-1.05zM390.40 368.83h1.05v4.48h-1.05zM391.40 382.13h1.05v4.48h-1.05zM384.40 391.00h1.05v4.48h-1.05zM398.40 395.43h1.05v4.48h-1.05zM405.40 408.73h1.05v4.48h-1.05zM386.40 413.17h1.05v4.48h-1.05zM400.40 413.17h1.05v4.48h-1.05zM387.40 422.03h1.05v4.48h-1.05zM394.40 422.03h1.05v4.48h-1.05zM369.16 466.37h1.06v4.48h-1.06z" fill="#bbdf2b"/>
<path d="M403.40 364.40h1.05v4.48h-1.05zM405.40 368.83h1.05v4.48h-1.05zM404.40 377.70h1.05v4.48h-1.05zM403.40 391.00h1.05v4.48h-1.05zM390.40 408.73h1.05v4.48h-1.05zM403.40 408.73h1.05v4.48h-1.05zM393.40 413.17h1.05v4.48h-1.05zM403.40 422.03h1.05v4.48h-1.05zM403.40 430.90h1.05v4.48h-1.05zM356.04 444.20h1.06v4.48h-1.06zM361.09 444.20h1.06v4.48h-1.06zM372.19 457.50h1.06v4.48h-1.06zM375.22 457.50h1.06v4.48h-1.06zM356.04 470.80h1.06v4.48h-1.06zM363.11 470.80h1.06v4.48h-1.06zM396.40 470.80h1.05v4.48h-1.05zM353.01 475.23h1.06v4.48h-1.06zM361.09 475.23h1.06v4.48h-1.06zM363.11 475.23h1.06v4.48h-1.06zM353.01 479.67h1.06v4.48h-1.06zM373.20 479.67h1.06v4.48h-1.06zM365.13 484.10h1.06v4.48h-1.06zM379.26 484.10h1.06v4.48h-1.06zM382.29 488.53h1.06v4.48h-1.06zM377.24 492.97h1.06v4.48h-1.06z" fill="#7bd050"/>
<path d="M407.40 364.40h1.05v4.48h-1.05zM388.40 382.13h1.05v4.48h-1.05zM403.40 386.57h1.05v4.48h-1.05zM354.02 391.00h1.06v4.48h-1.06zM357.05 404.30h1.06v4.48h-1.06zM379.26 408.73h1.06v4.48h-1.06zM380.27 413.17h1.06v4.48h-1.06zM401.40 417.60h1.05v4.48h-1.05zM404.40 417.60h1.05v4.48h-1.05zM407.40 439.77h1.05v4.48h-1.05zM361.09 466.37h1.06v4.48h-1.06zM379.26 466.37h1.06v4.48h-1.06zM367.15 470.80h1.06v4.48h-1.06zM378.25 470.80h1.06v4.48h-1.06zM389.40 470.80h1.05v4.48h-1.05zM390.40 470.80h1.05v4.48h-1.05zM399.40 470.80h1.05v4.48h-1.05zM376.23 484.10h1.06v4.48h-1.06z" fill="#9bd83c"/>
<path d="M358.06 368.83h1.06v4.48h-1.06zM381.28 382.13h1.06v4.48h-1.06zM405.40 466.37h1.05v4.48h-1.05z" fill="#404386"/>
<path d="M370.17 368.83h1.06v4.48h-1.06zM381.28 368.83h1.06v4.48h-1.06zM365.13 373.27h1.06v4.48h-1.06zM382.29 386.57h1.06v4.48h-1.06zM368.15 391.00h1.06v4.48h-1.06zM381.28 391.00h1.06v4.48h-1.06zM354.02 395.43h1.06v4.48h-1.06zM379.26 395.43h1.06v4.48h-1.06zM381.28 395.43h1.06v4.48h-1.06zM378.25 399.87h1.06v4.48h-1.06zM364.12 404.30h1.06v4.48h-1.06zM378.25 404.30h1.06v4.48h-1.06zM381.28 404.30h1.06v4.48h-1.06zM382.29 404.30h1.06v4.48h-1.06zM381.28 413.17h1.06v4.48h-1.06zM368.15 417.60h1.06v4.48h-1.06zM381.28 422.03h1.06v4.48h-1.06zM382.29 422.03h1.06v4.48h-1.06zM370.17 466.37h1.06v4.48h-1.06zM406.40 470.80h1.05v4.48h-1.05z" fill="#3b528a"/>
<path d="M385.40 368.83h1.05v4.48h-1.05zM392.40 386.57h1.05v4.48h-1.05zM396.40 413.17h1.05v4.48h-1.05z" fill="#dce328"/>
<path d="M386.40 368.83h1.05v4.48h-1.05zM400.40 368.83h1.05v4.48h-1.05zM404.40 368.83h1.05v4.48h-1.05zM395.40 382.13h1.05v4.48h-1.05zM388.40 391.00h1.05v4.48h-1.05zM390.40 391.00h1.05v4.48h-1.05zM384.40 395.43h1.05v4.48h-1.05zM401.40 395.43h1.05v4.48h-1.05zM385.40 413.17h1.05v4.48h-1.05zM398.40 413.17h1.05v4.48h-1.05zM405.40 422.03h1.05v4.48h-1.05z" fill="#abdc32"/>
<path d="M398.40 368.83h1.05v4.48h-1.05zM402.40 368.83h1.05v4.48h-1.05zM403.40 368.83h1.05v4.48h-1.05zM390.40 377.70h1.05v4.48h-1.05zM363.11 386.57h1.06v4.48h-1.06zM371.18 386.57h1.06v4.48h-1.06zM368.15 395.43h1.06v4.48h-1.06zM355.03 404.30h1.06v4.48h-1.06zM363.11 417.60h1.06v4.48h-1.06zM360.08 444.20h1.06v4.48h-1.06zM356.04 448.63h1.06v4.48h-1.06zM368.15 453.07h1.06v4.48h-1.06zM378.25 453.07h1.06v4.48h-1.06zM379.26 461.93h1.06v4.48h-1.06zM368.15 466.37h1.06v4.48h-1.06zM384.40 466.37h1.05v4.48h-1.05zM368.15 470.80h1.06v4.48h-1.06zM391.40 470.80h1.05v4.48h-1.05zM407.40 470.80h1.05v4.48h-1.05zM357.05 479.67h1.06v4.48h-1.06zM367.15 479.67h1.06v4.48h-1.06zM371.18 484.10h1.06v4.48h-1.06zM376.23 488.53h1.06v4.48h-1.06z" fill="#6ccc5a"/>
<path d="M401.40 368.83h1.05v4.48h-1.05zM389.40 382.13h1.05v4.48h-1.05zM390.40 395.43h1.05v4.48h-1.05zM384.40 408.73h1.05v4.48h-1.05zM366.14 470.80h1.06v4.48h-1.06z" fill="#cce12a"/>
<path d="M384.40 373.27h1.05v4.48h-1.05zM375.22 466.37h1.06v4.48h-1.06z" fill="#fde725"/>
<path d="M395.40 373.27h1.05v4.48h-1.05zM407.40 382.13h1.05v4.48h-1.05zM387.40 391.00h1.05v4.48h-1.05zM392.40 391.00h1.05v4.48h-1.05zM393.40 391.00h1.05v4.48h-1.05zM407.40 391.00h1.05v4.48h-1.05zM376.23 395.43h1.06v4.48h-1.06zM391.40 395.43h1.05v4.48h-1.05zM396.40 399.87h1.05v4.48h-1.05zM401.40 399.87h1.05v4.48h-1.05zM376.23 408.73h1.06v4.48h-1.06zM387.40 413.17h1.05v4.48h-1.05zM388.40 413.17h1.05v4.48h-1.05zM371.18 417.60h1.06v4.48h-1.06zM376.23 422.03h1.06v4.48h-1.06zM371.18 466.37h1.06v4.48h-1.06zM402.40 466.37h1.05v4.48h-1.05z" fill="#22908c"/>
<path d="M384.40 377.70h1.05v4.48h-1.05zM386.40 382.13h1.05v4.48h-1.05zM402.40 399.87h1.05v4.48h-1.05zM391.40 413.17h1.05v4.48h-1.05zM385.40 422.03h1.05v4.48h-1.05zM400.40 422.03h1.05v4.48h-1.05zM402.40 426.47h1.05v4.48h-1.05zM355.03 453.07h1.06v4.48h-1.06zM367.15 453.07h1.06v4.48h-1.06zM369.16 457.50h1.06v4.48h-1.06zM353.01 461.93h1.06v4.48h-1.06zM367.15 461.93h1.06v4.48h-1.06zM360.08 466.37h1.06v4.48h-1.06zM406.40 466.37h1.05v4.48h-1.05zM376.23 470.80h1.06v4.48h-1.06zM378.25 479.67h1.06v4.48h-1.06zM361.09 492.97h1.06v4.48h-1.06z" fill="#52c368"/>
<path d="M358.06 386.57h1.06v4.48h-1.06z" fill="#423c82"/>
</g>
<rect x="352.0" y="361.4" width="31.3" height="3" fill="#ffc000"/>
<rect x="384.4" y="361.4" width="24.0" height="3" fill="#00e5ff"/>
<text x="349.6" y="361.0" font-size="6.2" text-anchor="start" fill="#231f20" >Small B cells</text>
<text x="386.0" y="361.0" font-size="6.2" text-anchor="start" fill="#231f20" >Large B cells</text>
<path d="M352 366.62H349.6M352 371.05H349.6M352 375.48H349.6M352 379.92H349.6M352 384.35H349.6M352 388.78H349.6M352 393.22H349.6M352 397.65H349.6M352 402.08H349.6M352 406.52H349.6M352 410.95H349.6M352 415.38H349.6M352 419.82H349.6M352 424.25H349.6M352 428.68H349.6M352 433.12H349.6M352 437.55H349.6M352 441.98H349.6M352 446.42H349.6M352 450.85H349.6M352 455.28H349.6M352 459.72H349.6M352 464.15H349.6M352 468.58H349.6M352 473.02H349.6M352 477.45H349.6M352 481.88H349.6M352 486.32H349.6M352 490.75H349.6M352 495.18H349.6M349.6 366.62V371.05M349.6 368.83H348.2M349.6 375.48V379.92M349.6 377.70H348.2M349.6 384.35V388.78M349.6 386.57H348.2M349.6 393.22V397.65M349.6 395.43H348.2M349.6 402.08V406.52M349.6 404.30H348.2M349.6 410.95V415.38M349.6 413.17H348.2M349.6 419.82V424.25M349.6 422.03H348.2M349.6 428.68V433.12M349.6 430.90H348.2M349.6 437.55V441.98M349.6 439.77H348.2M349.6 446.42V450.85M349.6 448.63H348.2M349.6 455.28V459.72M349.6 457.50H348.2M349.6 464.15V468.58M349.6 466.37H348.2M349.6 473.02V477.45M349.6 475.23H348.2M349.6 481.88V486.32M349.6 484.10H348.2M349.6 490.75V495.18M349.6 492.97H348.2M348.2 368.83V377.70M348.2 373.27H347M348.2 386.57V395.43M348.2 391.00H347M348.2 404.30V413.17M348.2 408.73H347M348.2 422.03V430.90M348.2 426.47H347M348.2 439.77V448.63M348.2 444.20H347M348.2 457.50V466.37M348.2 461.93H347M348.2 475.23V484.10M348.2 479.67H347M347 373.27V479.67" stroke="#333" stroke-width="0.4" fill="none"/>
<text x="410.4" y="368.3" font-size="4.7" text-anchor="start" fill="#555" font-style="italic">GSTP1</text>
<text x="410.4" y="372.7" font-size="4.7" text-anchor="start" fill="#555" font-style="italic">HSP90B1</text>
<text x="410.4" y="377.2" font-size="4.7" text-anchor="start" fill="#555" font-style="italic">SYNE2</text>
<text x="410.4" y="381.6" font-size="4.7" text-anchor="start" fill="#555" font-style="italic">CLU</text>
<text x="410.4" y="386.0" font-size="4.7" text-anchor="start" fill="#555" font-style="italic">VMP1</text>
<text x="410.4" y="390.5" font-size="4.7" text-anchor="start" fill="#555" font-style="italic">FTS1</text>
<text x="410.4" y="394.9" font-size="4.7" text-anchor="start" fill="#555" font-style="italic">RNF213</text>
<text x="410.4" y="399.3" font-size="4.7" text-anchor="start" fill="#555" font-style="italic">MACF1</text>
<text x="410.4" y="403.8" font-size="4.7" text-anchor="start" fill="#555" font-style="italic">PRPF38B</text>
<text x="410.4" y="408.2" font-size="4.7" text-anchor="start" fill="#555" font-style="italic">NFKBIA</text>
<text x="410.4" y="412.6" font-size="4.7" text-anchor="start" fill="#555" font-style="italic">HSP90AA1</text>
<text x="410.4" y="417.1" font-size="4.7" text-anchor="start" fill="#555" font-style="italic">JAK3</text>
<text x="410.4" y="421.5" font-size="4.7" text-anchor="start" fill="#555" font-style="italic">TRAC</text>
<text x="410.4" y="425.9" font-size="4.7" text-anchor="start" fill="#555" font-style="italic">PCNT</text>
<text x="410.4" y="430.4" font-size="4.7" text-anchor="start" fill="#555" font-style="italic">SLC1A3</text>
<text x="410.4" y="434.8" font-size="4.7" text-anchor="start" fill="#555" font-style="italic">PRRX1</text>
<text x="410.4" y="439.2" font-size="4.7" text-anchor="start" fill="#555" font-style="italic">ANTXR1</text>
<text x="410.4" y="443.7" font-size="4.7" text-anchor="start" fill="#555" font-style="italic">BGN</text>
<text x="410.4" y="448.1" font-size="4.7" text-anchor="start" fill="#555" font-style="italic">C1QC</text>
<text x="410.4" y="452.5" font-size="4.7" text-anchor="start" fill="#555" font-style="italic">SPI4</text>
<text x="410.4" y="457.0" font-size="4.7" text-anchor="start" fill="#555" font-style="italic">RKHD4L1</text>
<text x="410.4" y="461.4" font-size="4.7" text-anchor="start" fill="#555" font-style="italic">ZDHHC6</text>
<text x="410.4" y="465.8" font-size="4.7" text-anchor="start" fill="#555" font-style="italic">EXOSC10</text>
<text x="410.4" y="470.3" font-size="4.7" text-anchor="start" fill="#555" font-style="italic">MS4A1</text>
<text x="410.4" y="474.7" font-size="4.7" text-anchor="start" fill="#555" font-style="italic">RALGPS2</text>
<text x="410.4" y="479.1" font-size="4.7" text-anchor="start" fill="#555" font-style="italic">TBC1D9</text>
<text x="410.4" y="483.6" font-size="4.7" text-anchor="start" fill="#555" font-style="italic">BHLHE41</text>
<text x="410.4" y="488.0" font-size="4.7" text-anchor="start" fill="#555" font-style="italic">CRCD3</text>
<text x="410.4" y="492.4" font-size="4.7" text-anchor="start" fill="#555" font-style="italic">NDUFB2</text>
<text x="410.4" y="496.9" font-size="4.7" text-anchor="start" fill="#555" font-style="italic">PDCD1</text>
<text x="436.7" y="422.0" font-size="6.1" text-anchor="start" fill="#231f20" >z-score</text>
<defs><linearGradient id="virg" x1="0" y1="1" x2="0" y2="0"><stop offset="0.000" stop-color="#440154"/><stop offset="0.111" stop-color="#482878"/><stop offset="0.222" stop-color="#3e4a89"/><stop offset="0.333" stop-color="#31688e"/><stop offset="0.444" stop-color="#26828e"/><stop offset="0.556" stop-color="#1f9e89"/><stop offset="0.667" stop-color="#35b779"/><stop offset="0.778" stop-color="#6dcd59"/><stop offset="0.889" stop-color="#b4de2c"/><stop offset="1.000" stop-color="#fde725"/></linearGradient></defs>
<rect x="440.5" y="423.1" width="2.6" height="10.8" rx="1" fill="url(#virg)"/>
<text x="444.2" y="425.6" font-size="3.2" text-anchor="start" fill="#333" >1</text>
<text x="444.2" y="428.3" font-size="3.2" text-anchor="start" fill="#333" >0</text>
<text x="444.2" y="431.0" font-size="3.2" text-anchor="start" fill="#333" >-1</text>
<text x="444.2" y="433.7" font-size="3.2" text-anchor="start" fill="#333" >-2</text>
<path d="M498.8 349.7 V469.5 H676.8" stroke="#333" stroke-width="0.6" fill="none"/>
<path d="M496.8 464.9H498.8" stroke="#333" stroke-width="0.5"/>
<text x="494.8" y="466.9" font-size="6.0" text-anchor="end" fill="#333" >0</text>
<path d="M496.8 442.8H498.8" stroke="#333" stroke-width="0.5"/>
<text x="494.8" y="444.8" font-size="6.0" text-anchor="end" fill="#333" >50</text>
<path d="M496.8 420.7H498.8" stroke="#333" stroke-width="0.5"/>
<text x="494.8" y="422.7" font-size="6.0" text-anchor="end" fill="#333" >100</text>
<path d="M496.8 398.6H498.8" stroke="#333" stroke-width="0.5"/>
<text x="494.8" y="400.6" font-size="6.0" text-anchor="end" fill="#333" >150</text>
<path d="M496.8 376.5H498.8" stroke="#333" stroke-width="0.5"/>
<text x="494.8" y="378.5" font-size="6.0" text-anchor="end" fill="#333" >200</text>
<path d="M496.8 354.4H498.8" stroke="#333" stroke-width="0.5"/>
<text x="494.8" y="356.4" font-size="6.0" text-anchor="end" fill="#333" >250</text>
<path d="M533.8 469.5V471.5" stroke="#333" stroke-width="0.5"/>
<text x="533.8" y="480.2" font-size="6.0" text-anchor="middle" fill="#333" >−1</text>
<path d="M588.0 469.5V471.5" stroke="#333" stroke-width="0.5"/>
<text x="588.0" y="480.2" font-size="6.0" text-anchor="middle" fill="#333" >0</text>
<path d="M642.2 469.5V471.5" stroke="#333" stroke-width="0.5"/>
<text x="642.2" y="480.2" font-size="6.0" text-anchor="middle" fill="#333" >1</text>
<text x="587.3" y="490" font-size="7.4" text-anchor="middle" fill="#231f20">log<tspan font-size="5" dy="1.8">2</tspan><tspan dy="-1.8">fold change</tspan></text>
<text transform="translate(479,410) rotate(-90)" font-size="7.2" text-anchor="middle" fill="#231f20">−log<tspan font-size="5" dy="1.8">10</tspan><tspan dy="-1.8" font-style="italic">P</tspan></text>
<text x="494.5" y="344.6" font-size="7.6" text-anchor="start" fill="#3d85c8" >Upregulated in small B cells</text>
<text x="591.4" y="344.6" font-size="7.6" text-anchor="start" fill="#f0304a" >Upregulated in large B cells</text>
<path d="M499 464.9H677" stroke="#888" stroke-width="0.8" stroke-dasharray="3,2.2"/>
<path d="M582.4 348.2V470 M593.4 348.2V470" stroke="#222" stroke-width="0.6" stroke-dasharray="2.4,1.6"/>
<path d="M585.6 461.3a0.7 0.7 0 1 0 0.01 0zM586.9 463.6a0.7 0.7 0 1 0 0.01 0zM589.9 462.8a0.7 0.7 0 1 0 0.01 0zM591.6 463.3a0.7 0.7 0 1 0 0.01 0zM584.1 464.5a0.7 0.7 0 1 0 0.01 0zM584.5 462.2a0.7 0.7 0 1 0 0.01 0zM591.2 460.4a0.7 0.7 0 1 0 0.01 0zM584.0 464.9a0.7 0.7 0 1 0 0.01 0zM592.6 462.3a0.7 0.7 0 1 0 0.01 0zM585.6 464.6a0.7 0.7 0 1 0 0.01 0zM589.3 464.8a0.7 0.7 0 1 0 0.01 0zM588.8 464.7a0.7 0.7 0 1 0 0.01 0zM592.7 464.3a0.7 0.7 0 1 0 0.01 0zM585.8 463.6a0.7 0.7 0 1 0 0.01 0zM588.1 464.1a0.7 0.7 0 1 0 0.01 0zM591.4 463.9a0.7 0.7 0 1 0 0.01 0zM589.2 464.6a0.7 0.7 0 1 0 0.01 0zM589.4 464.7a0.7 0.7 0 1 0 0.01 0zM588.6 463.9a0.7 0.7 0 1 0 0.01 0zM584.5 463.3a0.7 0.7 0 1 0 0.01 0zM586.7 464.4a0.7 0.7 0 1 0 0.01 0zM587.7 463.2a0.7 0.7 0 1 0 0.01 0zM588.2 462.1a0.7 0.7 0 1 0 0.01 0zM591.5 464.2a0.7 0.7 0 1 0 0.01 0zM590.6 462.0a0.7 0.7 0 1 0 0.01 0zM585.1 464.8a0.7 0.7 0 1 0 0.01 0zM590.6 464.8a0.7 0.7 0 1 0 0.01 0zM587.6 462.9a0.7 0.7 0 1 0 0.01 0zM592.4 463.0a0.7 0.7 0 1 0 0.01 0zM587.9 464.2a0.7 0.7 0 1 0 0.01 0zM591.5 463.3a0.7 0.7 0 1 0 0.01 0zM587.6 464.7a0.7 0.7 0 1 0 0.01 0zM591.1 461.9a0.7 0.7 0 1 0 0.01 0zM591.9 464.9a0.7 0.7 0 1 0 0.01 0zM584.9 464.8a0.7 0.7 0 1 0 0.01 0zM590.7 463.2a0.7 0.7 0 1 0 0.01 0zM588.9 464.4a0.7 0.7 0 1 0 0.01 0zM584.7 464.8a0.7 0.7 0 1 0 0.01 0zM592.6 462.2a0.7 0.7 0 1 0 0.01 0zM593.0 461.2a0.7 0.7 0 1 0 0.01 0zM587.0 459.9a0.7 0.7 0 1 0 0.01 0zM587.2 462.8a0.7 0.7 0 1 0 0.01 0zM589.6 462.7a0.7 0.7 0 1 0 0.01 0zM586.5 464.9a0.7 0.7 0 1 0 0.01 0zM584.5 463.0a0.7 0.7 0 1 0 0.01 0zM587.0 464.8a0.7 0.7 0 1 0 0.01 0zM589.8 464.6a0.7 0.7 0 1 0 0.01 0zM587.2 464.9a0.7 0.7 0 1 0 0.01 0zM583.8 464.0a0.7 0.7 0 1 0 0.01 0zM591.7 463.9a0.7 0.7 0 1 0 0.01 0z" fill="#c8c8c8" opacity="0.8"/>
<path d="M574.6 455.3a0.75 0.75 0 1 0 0.01 0zM581.7 464.7a0.75 0.75 0 1 0 0.01 0zM577.7 458.2a0.75 0.75 0 1 0 0.01 0zM576.1 456.6a0.75 0.75 0 1 0 0.01 0zM581.4 463.4a0.75 0.75 0 1 0 0.01 0zM580.4 462.3a0.75 0.75 0 1 0 0.01 0zM581.7 464.9a0.75 0.75 0 1 0 0.01 0zM580.1 462.0a0.75 0.75 0 1 0 0.01 0zM570.1 448.6a0.75 0.75 0 1 0 0.01 0zM568.8 446.9a0.75 0.75 0 1 0 0.01 0zM581.8 464.0a0.75 0.75 0 1 0 0.01 0zM578.9 460.8a0.75 0.75 0 1 0 0.01 0zM581.1 464.6a0.75 0.75 0 1 0 0.01 0zM579.7 461.3a0.75 0.75 0 1 0 0.01 0zM574.4 456.1a0.75 0.75 0 1 0 0.01 0zM573.8 452.3a0.75 0.75 0 1 0 0.01 0zM580.6 462.7a0.75 0.75 0 1 0 0.01 0zM580.9 462.6a0.75 0.75 0 1 0 0.01 0zM571.9 451.4a0.75 0.75 0 1 0 0.01 0zM573.4 450.3a0.75 0.75 0 1 0 0.01 0zM576.5 455.8a0.75 0.75 0 1 0 0.01 0zM571.4 452.5a0.75 0.75 0 1 0 0.01 0zM580.9 463.4a0.75 0.75 0 1 0 0.01 0zM581.1 464.7a0.75 0.75 0 1 0 0.01 0zM580.1 461.1a0.75 0.75 0 1 0 0.01 0zM581.3 464.9a0.75 0.75 0 1 0 0.01 0zM568.3 445.9a0.75 0.75 0 1 0 0.01 0zM577.2 457.0a0.75 0.75 0 1 0 0.01 0zM570.4 449.6a0.75 0.75 0 1 0 0.01 0zM582.4 464.8a0.75 0.75 0 1 0 0.01 0zM580.6 462.5a0.75 0.75 0 1 0 0.01 0zM580.0 461.9a0.75 0.75 0 1 0 0.01 0zM578.0 458.2a0.75 0.75 0 1 0 0.01 0zM581.9 464.9a0.75 0.75 0 1 0 0.01 0zM572.4 450.4a0.75 0.75 0 1 0 0.01 0zM582.0 464.9a0.75 0.75 0 1 0 0.01 0zM581.8 464.9a0.75 0.75 0 1 0 0.01 0zM575.9 456.3a0.75 0.75 0 1 0 0.01 0zM580.9 463.3a0.75 0.75 0 1 0 0.01 0zM581.5 464.3a0.75 0.75 0 1 0 0.01 0zM570.3 445.3a0.75 0.75 0 1 0 0.01 0zM570.1 449.9a0.75 0.75 0 1 0 0.01 0zM579.8 461.2a0.75 0.75 0 1 0 0.01 0zM582.3 464.7a0.75 0.75 0 1 0 0.01 0zM579.0 460.0a0.75 0.75 0 1 0 0.01 0zM570.1 450.1a0.75 0.75 0 1 0 0.01 0zM577.1 459.3a0.75 0.75 0 1 0 0.01 0zM574.4 453.4a0.75 0.75 0 1 0 0.01 0zM578.3 461.2a0.75 0.75 0 1 0 0.01 0zM581.8 464.8a0.75 0.75 0 1 0 0.01 0zM570.0 445.1a0.75 0.75 0 1 0 0.01 0zM567.3 445.7a0.75 0.75 0 1 0 0.01 0zM576.3 457.8a0.75 0.75 0 1 0 0.01 0zM567.6 446.2a0.75 0.75 0 1 0 0.01 0zM574.4 453.5a0.75 0.75 0 1 0 0.01 0zM576.3 455.0a0.75 0.75 0 1 0 0.01 0zM577.0 459.6a0.75 0.75 0 1 0 0.01 0zM578.0 459.1a0.75 0.75 0 1 0 0.01 0zM579.6 462.1a0.75 0.75 0 1 0 0.01 0zM568.1 446.3a0.75 0.75 0 1 0 0.01 0zM578.7 461.0a0.75 0.75 0 1 0 0.01 0zM579.5 461.3a0.75 0.75 0 1 0 0.01 0zM567.0 445.1a0.75 0.75 0 1 0 0.01 0zM579.1 459.7a0.75 0.75 0 1 0 0.01 0zM575.7 454.3a0.75 0.75 0 1 0 0.01 0zM567.6 446.4a0.75 0.75 0 1 0 0.01 0zM568.1 447.2a0.75 0.75 0 1 0 0.01 0zM580.5 464.0a0.75 0.75 0 1 0 0.01 0zM570.1 450.2a0.75 0.75 0 1 0 0.01 0zM571.5 450.7a0.75 0.75 0 1 0 0.01 0zM573.3 452.4a0.75 0.75 0 1 0 0.01 0zM570.3 445.4a0.75 0.75 0 1 0 0.01 0zM581.3 464.8a0.75 0.75 0 1 0 0.01 0zM580.1 463.4a0.75 0.75 0 1 0 0.01 0zM576.5 456.6a0.75 0.75 0 1 0 0.01 0zM581.3 463.8a0.75 0.75 0 1 0 0.01 0zM577.8 459.0a0.75 0.75 0 1 0 0.01 0zM581.2 464.0a0.75 0.75 0 1 0 0.01 0zM579.2 462.2a0.75 0.75 0 1 0 0.01 0zM570.4 447.5a0.75 0.75 0 1 0 0.01 0zM574.5 453.2a0.75 0.75 0 1 0 0.01 0zM577.8 459.2a0.75 0.75 0 1 0 0.01 0zM569.8 450.4a0.75 0.75 0 1 0 0.01 0zM579.1 462.0a0.75 0.75 0 1 0 0.01 0zM578.1 460.1a0.75 0.75 0 1 0 0.01 0zM579.9 461.2a0.75 0.75 0 1 0 0.01 0zM580.7 464.4a0.75 0.75 0 1 0 0.01 0zM568.0 446.2a0.75 0.75 0 1 0 0.01 0zM577.9 460.0a0.75 0.75 0 1 0 0.01 0zM571.9 448.8a0.75 0.75 0 1 0 0.01 0zM581.7 464.9a0.75 0.75 0 1 0 0.01 0zM568.3 448.7a0.75 0.75 0 1 0 0.01 0zM573.9 455.6a0.75 0.75 0 1 0 0.01 0zM572.7 453.6a0.75 0.75 0 1 0 0.01 0zM573.0 451.9a0.75 0.75 0 1 0 0.01 0zM575.5 453.7a0.75 0.75 0 1 0 0.01 0zM580.7 463.6a0.75 0.75 0 1 0 0.01 0zM575.4 455.7a0.75 0.75 0 1 0 0.01 0zM580.8 463.8a0.75 0.75 0 1 0 0.01 0zM570.4 449.5a0.75 0.75 0 1 0 0.01 0zM578.1 458.5a0.75 0.75 0 1 0 0.01 0zM569.8 450.2a0.75 0.75 0 1 0 0.01 0zM579.7 462.8a0.75 0.75 0 1 0 0.01 0zM574.4 456.2a0.75 0.75 0 1 0 0.01 0zM581.2 464.2a0.75 0.75 0 1 0 0.01 0zM581.8 463.8a0.75 0.75 0 1 0 0.01 0zM581.1 462.5a0.75 0.75 0 1 0 0.01 0zM567.2 445.1a0.75 0.75 0 1 0 0.01 0zM582.0 464.4a0.75 0.75 0 1 0 0.01 0zM575.1 456.5a0.75 0.75 0 1 0 0.01 0zM568.1 446.3a0.75 0.75 0 1 0 0.01 0zM572.2 452.3a0.75 0.75 0 1 0 0.01 0zM579.5 461.1a0.75 0.75 0 1 0 0.01 0zM571.8 450.6a0.75 0.75 0 1 0 0.01 0zM581.5 464.8a0.75 0.75 0 1 0 0.01 0zM580.8 463.1a0.75 0.75 0 1 0 0.01 0zM572.0 448.1a0.75 0.75 0 1 0 0.01 0zM578.3 459.6a0.75 0.75 0 1 0 0.01 0zM569.3 446.3a0.75 0.75 0 1 0 0.01 0zM572.0 451.9a0.75 0.75 0 1 0 0.01 0zM579.4 462.4a0.75 0.75 0 1 0 0.01 0zM568.3 446.5a0.75 0.75 0 1 0 0.01 0zM577.9 458.7a0.75 0.75 0 1 0 0.01 0zM577.5 459.9a0.75 0.75 0 1 0 0.01 0zM578.3 459.2a0.75 0.75 0 1 0 0.01 0zM580.9 464.6a0.75 0.75 0 1 0 0.01 0zM581.6 464.9a0.75 0.75 0 1 0 0.01 0zM573.4 450.3a0.75 0.75 0 1 0 0.01 0zM582.4 464.8a0.75 0.75 0 1 0 0.01 0zM581.4 463.9a0.75 0.75 0 1 0 0.01 0zM578.8 461.9a0.75 0.75 0 1 0 0.01 0zM575.9 456.2a0.75 0.75 0 1 0 0.01 0zM570.1 450.0a0.75 0.75 0 1 0 0.01 0zM575.4 457.6a0.75 0.75 0 1 0 0.01 0zM579.9 463.0a0.75 0.75 0 1 0 0.01 0zM580.2 462.3a0.75 0.75 0 1 0 0.01 0zM581.5 464.4a0.75 0.75 0 1 0 0.01 0zM567.5 447.0a0.75 0.75 0 1 0 0.01 0zM577.1 458.9a0.75 0.75 0 1 0 0.01 0zM577.3 457.8a0.75 0.75 0 1 0 0.01 0zM579.7 461.4a0.75 0.75 0 1 0 0.01 0zM580.6 462.8a0.75 0.75 0 1 0 0.01 0zM581.2 464.2a0.75 0.75 0 1 0 0.01 0zM568.7 448.6a0.75 0.75 0 1 0 0.01 0zM577.3 458.6a0.75 0.75 0 1 0 0.01 0zM578.5 459.9a0.75 0.75 0 1 0 0.01 0zM575.6 455.9a0.75 0.75 0 1 0 0.01 0zM567.8 445.1a0.75 0.75 0 1 0 0.01 0zM573.5 454.5a0.75 0.75 0 1 0 0.01 0zM579.8 463.0a0.75 0.75 0 1 0 0.01 0zM573.0 451.1a0.75 0.75 0 1 0 0.01 0zM573.9 452.2a0.75 0.75 0 1 0 0.01 0zM581.1 464.8a0.75 0.75 0 1 0 0.01 0zM575.4 457.4a0.75 0.75 0 1 0 0.01 0zM581.8 464.8a0.75 0.75 0 1 0 0.01 0zM582.1 464.7a0.75 0.75 0 1 0 0.01 0zM579.5 460.3a0.75 0.75 0 1 0 0.01 0zM575.7 454.1a0.75 0.75 0 1 0 0.01 0zM577.5 460.1a0.75 0.75 0 1 0 0.01 0zM579.0 461.8a0.75 0.75 0 1 0 0.01 0zM566.3 445.6a0.75 0.75 0 1 0 0.01 0zM581.4 464.7a0.75 0.75 0 1 0 0.01 0zM572.8 452.5a0.75 0.75 0 1 0 0.01 0zM577.2 458.5a0.75 0.75 0 1 0 0.01 0zM571.7 451.2a0.75 0.75 0 1 0 0.01 0zM579.8 463.2a0.75 0.75 0 1 0 0.01 0zM580.0 463.0a0.75 0.75 0 1 0 0.01 0zM581.6 463.4a0.75 0.75 0 1 0 0.01 0zM571.9 448.1a0.75 0.75 0 1 0 0.01 0zM567.6 446.8a0.75 0.75 0 1 0 0.01 0zM562.0 434.2a0.75 0.75 0 1 0 0.01 0zM568.0 444.8a0.75 0.75 0 1 0 0.01 0zM565.7 441.4a0.75 0.75 0 1 0 0.01 0zM561.8 436.4a0.75 0.75 0 1 0 0.01 0zM568.9 446.1a0.75 0.75 0 1 0 0.01 0zM561.2 432.1a0.75 0.75 0 1 0 0.01 0zM564.3 436.3a0.75 0.75 0 1 0 0.01 0zM562.3 434.4a0.75 0.75 0 1 0 0.01 0zM568.3 445.3a0.75 0.75 0 1 0 0.01 0zM563.9 436.2a0.75 0.75 0 1 0 0.01 0zM561.3 435.4a0.75 0.75 0 1 0 0.01 0zM568.3 442.7a0.75 0.75 0 1 0 0.01 0zM566.4 439.4a0.75 0.75 0 1 0 0.01 0zM563.1 435.1a0.75 0.75 0 1 0 0.01 0z" fill="#3b62b0" opacity="0.9"/>
<path d="M595.8 462.2a0.75 0.75 0 1 0 0.01 0zM600.1 455.2a0.75 0.75 0 1 0 0.01 0zM612.0 439.3a0.75 0.75 0 1 0 0.01 0zM607.7 440.6a0.75 0.75 0 1 0 0.01 0zM605.0 447.8a0.75 0.75 0 1 0 0.01 0zM597.5 459.1a0.75 0.75 0 1 0 0.01 0zM606.1 448.0a0.75 0.75 0 1 0 0.01 0zM611.7 439.1a0.75 0.75 0 1 0 0.01 0zM604.7 441.4a0.75 0.75 0 1 0 0.01 0zM602.3 454.6a0.75 0.75 0 1 0 0.01 0zM600.6 457.3a0.75 0.75 0 1 0 0.01 0zM596.9 463.1a0.75 0.75 0 1 0 0.01 0zM605.4 449.8a0.75 0.75 0 1 0 0.01 0zM604.1 446.3a0.75 0.75 0 1 0 0.01 0zM596.8 462.6a0.75 0.75 0 1 0 0.01 0zM610.1 440.8a0.75 0.75 0 1 0 0.01 0zM596.6 463.6a0.75 0.75 0 1 0 0.01 0zM597.9 459.8a0.75 0.75 0 1 0 0.01 0zM609.7 440.8a0.75 0.75 0 1 0 0.01 0zM595.4 463.5a0.75 0.75 0 1 0 0.01 0zM599.8 455.1a0.75 0.75 0 1 0 0.01 0zM604.5 450.6a0.75 0.75 0 1 0 0.01 0zM604.3 447.4a0.75 0.75 0 1 0 0.01 0zM595.9 461.9a0.75 0.75 0 1 0 0.01 0zM596.3 464.0a0.75 0.75 0 1 0 0.01 0zM597.1 459.1a0.75 0.75 0 1 0 0.01 0zM607.0 438.3a0.75 0.75 0 1 0 0.01 0zM601.9 447.7a0.75 0.75 0 1 0 0.01 0zM595.4 464.6a0.75 0.75 0 1 0 0.01 0zM606.3 443.5a0.75 0.75 0 1 0 0.01 0zM609.0 444.0a0.75 0.75 0 1 0 0.01 0zM601.0 456.4a0.75 0.75 0 1 0 0.01 0zM598.4 457.6a0.75 0.75 0 1 0 0.01 0zM600.4 454.3a0.75 0.75 0 1 0 0.01 0zM596.5 462.0a0.75 0.75 0 1 0 0.01 0zM604.7 443.1a0.75 0.75 0 1 0 0.01 0zM597.7 457.9a0.75 0.75 0 1 0 0.01 0zM602.6 452.0a0.75 0.75 0 1 0 0.01 0zM600.6 454.9a0.75 0.75 0 1 0 0.01 0zM595.6 464.2a0.75 0.75 0 1 0 0.01 0zM597.8 460.7a0.75 0.75 0 1 0 0.01 0zM604.8 450.2a0.75 0.75 0 1 0 0.01 0zM607.6 442.6a0.75 0.75 0 1 0 0.01 0zM604.5 443.9a0.75 0.75 0 1 0 0.01 0zM595.6 464.5a0.75 0.75 0 1 0 0.01 0zM604.9 444.5a0.75 0.75 0 1 0 0.01 0zM597.2 461.4a0.75 0.75 0 1 0 0.01 0zM595.7 464.9a0.75 0.75 0 1 0 0.01 0zM599.4 459.1a0.75 0.75 0 1 0 0.01 0zM596.6 461.4a0.75 0.75 0 1 0 0.01 0zM596.9 461.9a0.75 0.75 0 1 0 0.01 0zM604.3 451.0a0.75 0.75 0 1 0 0.01 0zM604.0 451.5a0.75 0.75 0 1 0 0.01 0zM595.7 464.4a0.75 0.75 0 1 0 0.01 0zM605.1 444.6a0.75 0.75 0 1 0 0.01 0zM606.2 448.3a0.75 0.75 0 1 0 0.01 0zM602.2 451.4a0.75 0.75 0 1 0 0.01 0zM597.9 461.2a0.75 0.75 0 1 0 0.01 0zM598.9 459.5a0.75 0.75 0 1 0 0.01 0zM605.0 450.1a0.75 0.75 0 1 0 0.01 0zM603.9 446.2a0.75 0.75 0 1 0 0.01 0zM595.2 464.1a0.75 0.75 0 1 0 0.01 0zM594.8 464.5a0.75 0.75 0 1 0 0.01 0zM595.5 464.8a0.75 0.75 0 1 0 0.01 0zM595.6 464.2a0.75 0.75 0 1 0 0.01 0zM596.6 463.5a0.75 0.75 0 1 0 0.01 0zM600.0 453.2a0.75 0.75 0 1 0 0.01 0zM600.8 453.3a0.75 0.75 0 1 0 0.01 0zM598.2 460.4a0.75 0.75 0 1 0 0.01 0zM596.3 462.2a0.75 0.75 0 1 0 0.01 0zM596.5 462.3a0.75 0.75 0 1 0 0.01 0zM595.1 464.9a0.75 0.75 0 1 0 0.01 0zM599.7 454.1a0.75 0.75 0 1 0 0.01 0zM601.8 451.6a0.75 0.75 0 1 0 0.01 0zM606.2 442.5a0.75 0.75 0 1 0 0.01 0zM598.4 457.9a0.75 0.75 0 1 0 0.01 0zM597.7 460.9a0.75 0.75 0 1 0 0.01 0zM598.2 460.7a0.75 0.75 0 1 0 0.01 0zM596.1 463.4a0.75 0.75 0 1 0 0.01 0zM595.9 464.2a0.75 0.75 0 1 0 0.01 0zM594.9 464.8a0.75 0.75 0 1 0 0.01 0zM609.7 439.1a0.75 0.75 0 1 0 0.01 0zM607.9 440.7a0.75 0.75 0 1 0 0.01 0zM603.5 447.6a0.75 0.75 0 1 0 0.01 0zM601.6 451.7a0.75 0.75 0 1 0 0.01 0zM602.0 449.0a0.75 0.75 0 1 0 0.01 0zM600.2 457.6a0.75 0.75 0 1 0 0.01 0zM594.8 464.6a0.75 0.75 0 1 0 0.01 0zM606.5 442.5a0.75 0.75 0 1 0 0.01 0zM601.5 453.2a0.75 0.75 0 1 0 0.01 0zM600.0 451.8a0.75 0.75 0 1 0 0.01 0zM607.4 445.4a0.75 0.75 0 1 0 0.01 0zM611.5 439.7a0.75 0.75 0 1 0 0.01 0zM599.5 454.8a0.75 0.75 0 1 0 0.01 0zM605.4 448.5a0.75 0.75 0 1 0 0.01 0zM598.6 455.1a0.75 0.75 0 1 0 0.01 0zM603.1 448.3a0.75 0.75 0 1 0 0.01 0zM597.8 457.1a0.75 0.75 0 1 0 0.01 0zM595.4 463.4a0.75 0.75 0 1 0 0.01 0zM600.0 458.2a0.75 0.75 0 1 0 0.01 0zM595.0 464.2a0.75 0.75 0 1 0 0.01 0zM601.0 450.2a0.75 0.75 0 1 0 0.01 0zM595.6 464.9a0.75 0.75 0 1 0 0.01 0zM598.1 461.4a0.75 0.75 0 1 0 0.01 0zM599.3 458.7a0.75 0.75 0 1 0 0.01 0zM596.4 462.9a0.75 0.75 0 1 0 0.01 0zM602.4 454.1a0.75 0.75 0 1 0 0.01 0zM595.1 463.4a0.75 0.75 0 1 0 0.01 0zM610.3 439.3a0.75 0.75 0 1 0 0.01 0zM597.1 461.9a0.75 0.75 0 1 0 0.01 0zM595.2 464.5a0.75 0.75 0 1 0 0.01 0zM604.7 444.3a0.75 0.75 0 1 0 0.01 0zM609.6 441.1a0.75 0.75 0 1 0 0.01 0zM596.4 463.6a0.75 0.75 0 1 0 0.01 0zM598.4 456.4a0.75 0.75 0 1 0 0.01 0zM601.6 451.1a0.75 0.75 0 1 0 0.01 0zM596.0 464.5a0.75 0.75 0 1 0 0.01 0zM599.7 453.3a0.75 0.75 0 1 0 0.01 0zM595.9 464.4a0.75 0.75 0 1 0 0.01 0zM601.7 450.2a0.75 0.75 0 1 0 0.01 0zM599.9 458.3a0.75 0.75 0 1 0 0.01 0zM598.6 455.7a0.75 0.75 0 1 0 0.01 0zM597.6 460.7a0.75 0.75 0 1 0 0.01 0zM603.7 450.5a0.75 0.75 0 1 0 0.01 0zM596.2 462.4a0.75 0.75 0 1 0 0.01 0zM598.9 455.5a0.75 0.75 0 1 0 0.01 0zM595.4 463.6a0.75 0.75 0 1 0 0.01 0zM599.8 453.7a0.75 0.75 0 1 0 0.01 0zM607.0 443.5a0.75 0.75 0 1 0 0.01 0zM595.4 464.2a0.75 0.75 0 1 0 0.01 0zM606.5 446.7a0.75 0.75 0 1 0 0.01 0zM602.8 449.1a0.75 0.75 0 1 0 0.01 0zM600.9 455.2a0.75 0.75 0 1 0 0.01 0zM603.5 443.8a0.75 0.75 0 1 0 0.01 0zM606.7 442.3a0.75 0.75 0 1 0 0.01 0zM594.7 464.9a0.75 0.75 0 1 0 0.01 0zM599.7 453.9a0.75 0.75 0 1 0 0.01 0zM607.3 442.8a0.75 0.75 0 1 0 0.01 0zM606.2 441.1a0.75 0.75 0 1 0 0.01 0zM595.8 464.9a0.75 0.75 0 1 0 0.01 0zM604.2 450.2a0.75 0.75 0 1 0 0.01 0zM605.5 446.1a0.75 0.75 0 1 0 0.01 0zM598.1 461.2a0.75 0.75 0 1 0 0.01 0zM604.6 443.9a0.75 0.75 0 1 0 0.01 0zM606.2 441.5a0.75 0.75 0 1 0 0.01 0zM594.8 464.0a0.75 0.75 0 1 0 0.01 0zM596.9 461.0a0.75 0.75 0 1 0 0.01 0zM595.2 463.7a0.75 0.75 0 1 0 0.01 0zM595.9 464.8a0.75 0.75 0 1 0 0.01 0zM606.5 447.6a0.75 0.75 0 1 0 0.01 0zM606.7 442.8a0.75 0.75 0 1 0 0.01 0zM607.4 442.4a0.75 0.75 0 1 0 0.01 0zM600.6 451.3a0.75 0.75 0 1 0 0.01 0zM604.4 444.1a0.75 0.75 0 1 0 0.01 0zM595.1 463.8a0.75 0.75 0 1 0 0.01 0zM599.3 454.7a0.75 0.75 0 1 0 0.01 0zM600.0 456.0a0.75 0.75 0 1 0 0.01 0zM596.3 461.0a0.75 0.75 0 1 0 0.01 0zM595.4 464.7a0.75 0.75 0 1 0 0.01 0zM596.6 463.7a0.75 0.75 0 1 0 0.01 0zM610.4 440.0a0.75 0.75 0 1 0 0.01 0zM606.7 439.4a0.75 0.75 0 1 0 0.01 0zM596.9 462.7a0.75 0.75 0 1 0 0.01 0zM607.3 444.1a0.75 0.75 0 1 0 0.01 0zM594.7 464.7a0.75 0.75 0 1 0 0.01 0zM599.9 457.9a0.75 0.75 0 1 0 0.01 0zM597.6 458.9a0.75 0.75 0 1 0 0.01 0zM606.1 443.3a0.75 0.75 0 1 0 0.01 0zM603.1 451.7a0.75 0.75 0 1 0 0.01 0zM603.2 444.6a0.75 0.75 0 1 0 0.01 0zM595.3 464.3a0.75 0.75 0 1 0 0.01 0zM600.8 453.0a0.75 0.75 0 1 0 0.01 0zM602.6 447.4a0.75 0.75 0 1 0 0.01 0zM595.0 463.9a0.75 0.75 0 1 0 0.01 0zM598.6 458.0a0.75 0.75 0 1 0 0.01 0zM596.2 461.7a0.75 0.75 0 1 0 0.01 0zM600.6 455.2a0.75 0.75 0 1 0 0.01 0zM596.4 463.2a0.75 0.75 0 1 0 0.01 0zM602.5 450.0a0.75 0.75 0 1 0 0.01 0zM601.6 450.4a0.75 0.75 0 1 0 0.01 0zM594.9 464.7a0.75 0.75 0 1 0 0.01 0zM605.5 442.9a0.75 0.75 0 1 0 0.01 0zM606.4 445.0a0.75 0.75 0 1 0 0.01 0zM596.3 463.5a0.75 0.75 0 1 0 0.01 0zM604.9 444.7a0.75 0.75 0 1 0 0.01 0zM605.8 442.8a0.75 0.75 0 1 0 0.01 0zM600.4 454.4a0.75 0.75 0 1 0 0.01 0zM601.1 449.8a0.75 0.75 0 1 0 0.01 0zM607.3 439.7a0.75 0.75 0 1 0 0.01 0zM604.8 446.4a0.75 0.75 0 1 0 0.01 0zM594.9 464.3a0.75 0.75 0 1 0 0.01 0zM595.8 463.1a0.75 0.75 0 1 0 0.01 0zM598.3 459.3a0.75 0.75 0 1 0 0.01 0zM601.0 450.9a0.75 0.75 0 1 0 0.01 0zM605.0 445.2a0.75 0.75 0 1 0 0.01 0zM601.8 455.4a0.75 0.75 0 1 0 0.01 0zM596.7 463.0a0.75 0.75 0 1 0 0.01 0zM597.6 458.9a0.75 0.75 0 1 0 0.01 0zM596.4 462.0a0.75 0.75 0 1 0 0.01 0zM599.3 454.9a0.75 0.75 0 1 0 0.01 0zM596.0 463.7a0.75 0.75 0 1 0 0.01 0zM596.1 462.5a0.75 0.75 0 1 0 0.01 0zM602.4 448.3a0.75 0.75 0 1 0 0.01 0zM604.3 443.6a0.75 0.75 0 1 0 0.01 0zM598.8 454.8a0.75 0.75 0 1 0 0.01 0zM596.6 461.3a0.75 0.75 0 1 0 0.01 0zM602.8 451.7a0.75 0.75 0 1 0 0.01 0zM595.0 464.6a0.75 0.75 0 1 0 0.01 0zM604.8 448.9a0.75 0.75 0 1 0 0.01 0zM601.4 455.5a0.75 0.75 0 1 0 0.01 0zM595.8 464.2a0.75 0.75 0 1 0 0.01 0zM598.6 460.4a0.75 0.75 0 1 0 0.01 0zM598.1 460.9a0.75 0.75 0 1 0 0.01 0zM596.2 464.2a0.75 0.75 0 1 0 0.01 0zM595.7 463.6a0.75 0.75 0 1 0 0.01 0zM611.7 439.1a0.75 0.75 0 1 0 0.01 0zM597.3 461.3a0.75 0.75 0 1 0 0.01 0zM602.4 454.1a0.75 0.75 0 1 0 0.01 0zM599.9 456.7a0.75 0.75 0 1 0 0.01 0zM595.5 464.6a0.75 0.75 0 1 0 0.01 0zM602.9 446.8a0.75 0.75 0 1 0 0.01 0zM599.7 456.5a0.75 0.75 0 1 0 0.01 0zM597.4 460.9a0.75 0.75 0 1 0 0.01 0zM598.7 457.6a0.75 0.75 0 1 0 0.01 0zM597.0 461.5a0.75 0.75 0 1 0 0.01 0zM607.6 442.3a0.75 0.75 0 1 0 0.01 0zM602.5 453.8a0.75 0.75 0 1 0 0.01 0zM596.0 464.0a0.75 0.75 0 1 0 0.01 0zM596.3 463.5a0.75 0.75 0 1 0 0.01 0zM596.5 462.5a0.75 0.75 0 1 0 0.01 0zM602.8 445.4a0.75 0.75 0 1 0 0.01 0zM595.9 464.6a0.75 0.75 0 1 0 0.01 0zM602.2 454.3a0.75 0.75 0 1 0 0.01 0zM596.2 463.8a0.75 0.75 0 1 0 0.01 0zM607.8 445.3a0.75 0.75 0 1 0 0.01 0zM597.5 461.2a0.75 0.75 0 1 0 0.01 0zM598.7 459.3a0.75 0.75 0 1 0 0.01 0zM602.3 451.5a0.75 0.75 0 1 0 0.01 0zM595.9 464.7a0.75 0.75 0 1 0 0.01 0zM598.4 457.6a0.75 0.75 0 1 0 0.01 0zM597.4 461.8a0.75 0.75 0 1 0 0.01 0zM603.2 446.9a0.75 0.75 0 1 0 0.01 0zM605.7 446.6a0.75 0.75 0 1 0 0.01 0zM600.2 454.9a0.75 0.75 0 1 0 0.01 0zM595.8 462.0a0.75 0.75 0 1 0 0.01 0zM600.3 454.3a0.75 0.75 0 1 0 0.01 0zM595.2 464.4a0.75 0.75 0 1 0 0.01 0zM596.7 460.2a0.75 0.75 0 1 0 0.01 0zM598.3 460.6a0.75 0.75 0 1 0 0.01 0zM597.2 459.1a0.75 0.75 0 1 0 0.01 0zM594.4 464.9a0.75 0.75 0 1 0 0.01 0zM603.2 446.2a0.75 0.75 0 1 0 0.01 0zM597.2 460.6a0.75 0.75 0 1 0 0.01 0zM599.0 455.8a0.75 0.75 0 1 0 0.01 0zM597.7 461.0a0.75 0.75 0 1 0 0.01 0zM603.1 453.0a0.75 0.75 0 1 0 0.01 0zM597.4 461.7a0.75 0.75 0 1 0 0.01 0zM599.4 454.0a0.75 0.75 0 1 0 0.01 0zM598.8 455.3a0.75 0.75 0 1 0 0.01 0zM609.5 442.9a0.75 0.75 0 1 0 0.01 0zM595.1 464.9a0.75 0.75 0 1 0 0.01 0zM601.0 452.0a0.75 0.75 0 1 0 0.01 0zM596.8 460.0a0.75 0.75 0 1 0 0.01 0zM605.3 443.7a0.75 0.75 0 1 0 0.01 0zM599.5 456.5a0.75 0.75 0 1 0 0.01 0zM610.1 438.9a0.75 0.75 0 1 0 0.01 0zM598.5 457.6a0.75 0.75 0 1 0 0.01 0zM602.1 448.3a0.75 0.75 0 1 0 0.01 0zM600.2 451.4a0.75 0.75 0 1 0 0.01 0zM601.1 452.7a0.75 0.75 0 1 0 0.01 0zM598.2 458.8a0.75 0.75 0 1 0 0.01 0zM604.6 446.2a0.75 0.75 0 1 0 0.01 0zM601.7 452.9a0.75 0.75 0 1 0 0.01 0zM608.3 442.4a0.75 0.75 0 1 0 0.01 0zM596.5 462.4a0.75 0.75 0 1 0 0.01 0zM599.1 455.3a0.75 0.75 0 1 0 0.01 0zM595.4 464.8a0.75 0.75 0 1 0 0.01 0zM598.6 460.5a0.75 0.75 0 1 0 0.01 0zM604.5 450.3a0.75 0.75 0 1 0 0.01 0zM595.1 463.4a0.75 0.75 0 1 0 0.01 0zM595.7 463.9a0.75 0.75 0 1 0 0.01 0zM594.9 464.1a0.75 0.75 0 1 0 0.01 0zM605.4 443.5a0.75 0.75 0 1 0 0.01 0zM596.9 461.9a0.75 0.75 0 1 0 0.01 0zM599.2 456.8a0.75 0.75 0 1 0 0.01 0zM597.7 459.8a0.75 0.75 0 1 0 0.01 0zM601.5 453.3a0.75 0.75 0 1 0 0.01 0zM600.7 455.4a0.75 0.75 0 1 0 0.01 0zM594.9 464.9a0.75 0.75 0 1 0 0.01 0zM600.4 454.0a0.75 0.75 0 1 0 0.01 0zM595.3 464.7a0.75 0.75 0 1 0 0.01 0zM596.7 462.8a0.75 0.75 0 1 0 0.01 0zM597.6 459.4a0.75 0.75 0 1 0 0.01 0zM606.4 440.4a0.75 0.75 0 1 0 0.01 0zM598.5 459.9a0.75 0.75 0 1 0 0.01 0zM596.7 462.4a0.75 0.75 0 1 0 0.01 0zM602.1 452.2a0.75 0.75 0 1 0 0.01 0zM595.4 463.8a0.75 0.75 0 1 0 0.01 0zM595.2 464.8a0.75 0.75 0 1 0 0.01 0zM601.0 449.5a0.75 0.75 0 1 0 0.01 0zM596.1 463.1a0.75 0.75 0 1 0 0.01 0zM594.9 464.5a0.75 0.75 0 1 0 0.01 0zM599.9 454.2a0.75 0.75 0 1 0 0.01 0zM595.8 464.8a0.75 0.75 0 1 0 0.01 0zM597.6 459.5a0.75 0.75 0 1 0 0.01 0zM608.0 445.3a0.75 0.75 0 1 0 0.01 0zM596.5 460.2a0.75 0.75 0 1 0 0.01 0zM609.9 438.8a0.75 0.75 0 1 0 0.01 0zM596.7 461.1a0.75 0.75 0 1 0 0.01 0zM599.1 455.3a0.75 0.75 0 1 0 0.01 0zM601.8 455.1a0.75 0.75 0 1 0 0.01 0zM605.4 441.5a0.75 0.75 0 1 0 0.01 0zM598.5 455.4a0.75 0.75 0 1 0 0.01 0zM600.0 456.9a0.75 0.75 0 1 0 0.01 0zM602.1 448.5a0.75 0.75 0 1 0 0.01 0zM597.2 461.5a0.75 0.75 0 1 0 0.01 0zM595.6 464.6a0.75 0.75 0 1 0 0.01 0zM601.6 451.6a0.75 0.75 0 1 0 0.01 0zM607.3 441.8a0.75 0.75 0 1 0 0.01 0zM595.3 463.1a0.75 0.75 0 1 0 0.01 0zM603.5 451.3a0.75 0.75 0 1 0 0.01 0zM608.3 440.8a0.75 0.75 0 1 0 0.01 0zM595.1 464.6a0.75 0.75 0 1 0 0.01 0zM603.9 446.8a0.75 0.75 0 1 0 0.01 0zM594.9 464.1a0.75 0.75 0 1 0 0.01 0zM596.4 460.4a0.75 0.75 0 1 0 0.01 0zM602.3 450.3a0.75 0.75 0 1 0 0.01 0zM610.6 438.5a0.75 0.75 0 1 0 0.01 0zM603.0 447.3a0.75 0.75 0 1 0 0.01 0zM597.0 462.9a0.75 0.75 0 1 0 0.01 0zM602.4 446.3a0.75 0.75 0 1 0 0.01 0zM601.6 450.7a0.75 0.75 0 1 0 0.01 0zM598.2 461.1a0.75 0.75 0 1 0 0.01 0zM603.2 449.9a0.75 0.75 0 1 0 0.01 0zM596.2 464.0a0.75 0.75 0 1 0 0.01 0zM606.9 440.2a0.75 0.75 0 1 0 0.01 0zM594.4 464.9a0.75 0.75 0 1 0 0.01 0zM596.1 463.5a0.75 0.75 0 1 0 0.01 0zM602.1 450.0a0.75 0.75 0 1 0 0.01 0zM601.1 453.4a0.75 0.75 0 1 0 0.01 0zM602.9 446.6a0.75 0.75 0 1 0 0.01 0zM600.1 451.9a0.75 0.75 0 1 0 0.01 0zM606.6 441.3a0.75 0.75 0 1 0 0.01 0zM609.0 442.4a0.75 0.75 0 1 0 0.01 0zM595.6 464.9a0.75 0.75 0 1 0 0.01 0zM597.9 459.9a0.75 0.75 0 1 0 0.01 0zM598.2 460.9a0.75 0.75 0 1 0 0.01 0zM595.7 463.7a0.75 0.75 0 1 0 0.01 0zM596.9 462.4a0.75 0.75 0 1 0 0.01 0zM598.5 457.7a0.75 0.75 0 1 0 0.01 0zM594.9 464.7a0.75 0.75 0 1 0 0.01 0zM604.2 448.1a0.75 0.75 0 1 0 0.01 0zM600.4 457.1a0.75 0.75 0 1 0 0.01 0zM594.7 464.2a0.75 0.75 0 1 0 0.01 0zM595.0 464.0a0.75 0.75 0 1 0 0.01 0zM605.1 445.0a0.75 0.75 0 1 0 0.01 0zM597.2 462.3a0.75 0.75 0 1 0 0.01 0zM611.9 437.5a0.75 0.75 0 1 0 0.01 0zM605.6 439.3a0.75 0.75 0 1 0 0.01 0zM597.6 459.0a0.75 0.75 0 1 0 0.01 0zM594.8 464.0a0.75 0.75 0 1 0 0.01 0zM596.6 461.7a0.75 0.75 0 1 0 0.01 0zM596.3 461.2a0.75 0.75 0 1 0 0.01 0zM603.6 451.9a0.75 0.75 0 1 0 0.01 0zM603.9 445.8a0.75 0.75 0 1 0 0.01 0zM604.0 451.3a0.75 0.75 0 1 0 0.01 0zM595.2 464.6a0.75 0.75 0 1 0 0.01 0zM608.8 443.3a0.75 0.75 0 1 0 0.01 0zM600.1 455.9a0.75 0.75 0 1 0 0.01 0zM598.4 457.6a0.75 0.75 0 1 0 0.01 0zM596.6 462.3a0.75 0.75 0 1 0 0.01 0zM600.3 454.6a0.75 0.75 0 1 0 0.01 0zM594.6 464.7a0.75 0.75 0 1 0 0.01 0zM599.7 456.7a0.75 0.75 0 1 0 0.01 0zM594.7 464.2a0.75 0.75 0 1 0 0.01 0zM597.4 459.4a0.75 0.75 0 1 0 0.01 0zM594.8 464.8a0.75 0.75 0 1 0 0.01 0zM604.0 448.6a0.75 0.75 0 1 0 0.01 0zM597.0 458.9a0.75 0.75 0 1 0 0.01 0zM595.9 462.5a0.75 0.75 0 1 0 0.01 0zM610.2 430.1a0.75 0.75 0 1 0 0.01 0zM605.1 442.1a0.75 0.75 0 1 0 0.01 0zM610.7 434.1a0.75 0.75 0 1 0 0.01 0zM613.2 424.0a0.75 0.75 0 1 0 0.01 0zM609.4 433.2a0.75 0.75 0 1 0 0.01 0zM612.3 424.5a0.75 0.75 0 1 0 0.01 0zM606.6 439.4a0.75 0.75 0 1 0 0.01 0zM605.7 441.2a0.75 0.75 0 1 0 0.01 0zM608.4 437.0a0.75 0.75 0 1 0 0.01 0zM607.1 437.1a0.75 0.75 0 1 0 0.01 0zM608.5 435.8a0.75 0.75 0 1 0 0.01 0zM615.0 424.5a0.75 0.75 0 1 0 0.01 0zM607.9 434.6a0.75 0.75 0 1 0 0.01 0zM612.3 427.7a0.75 0.75 0 1 0 0.01 0zM609.8 431.1a0.75 0.75 0 1 0 0.01 0zM604.8 441.8a0.75 0.75 0 1 0 0.01 0zM611.1 429.0a0.75 0.75 0 1 0 0.01 0zM612.5 424.9a0.75 0.75 0 1 0 0.01 0zM605.5 440.6a0.75 0.75 0 1 0 0.01 0zM609.6 431.6a0.75 0.75 0 1 0 0.01 0zM613.2 423.7a0.75 0.75 0 1 0 0.01 0zM607.4 436.9a0.75 0.75 0 1 0 0.01 0zM613.1 423.9a0.75 0.75 0 1 0 0.01 0zM614.6 423.9a0.75 0.75 0 1 0 0.01 0zM614.8 423.0a0.75 0.75 0 1 0 0.01 0z" fill="#e0442e" opacity="0.9"/>
<path d="M630.8 357.9L631.5 356.2" stroke="#222" stroke-width="0.5"/>
<circle cx="631.5" cy="356.2" r="0.8" fill="#e0442e"/>
<rect x="618.7" y="357.9" width="12.1" height="5.9" rx="0.9" fill="#fff" stroke="#444" stroke-width="0.55"/>
<text x="624.8" y="362.6" font-size="4.7" text-anchor="middle" fill="#333" textLength="9.1" lengthAdjust="spacingAndGlyphs">CLU</text>
<path d="M620.0 375.3L620.0 384.5" stroke="#222" stroke-width="0.5"/>
<circle cx="620" cy="384.5" r="0.8" fill="#e0442e"/>
<rect x="617.7" y="369.4" width="15.8" height="5.9" rx="0.9" fill="#fff" stroke="#444" stroke-width="0.55"/>
<text x="625.6" y="374.1" font-size="4.7" text-anchor="middle" fill="#333" textLength="12.8" lengthAdjust="spacingAndGlyphs">TRAC</text>
<path d="M617.0 384.2L617.0 391.0" stroke="#222" stroke-width="0.5"/>
<circle cx="617" cy="391" r="0.8" fill="#e0442e"/>
<rect x="599.6" y="378" width="19.7" height="6.2" rx="0.9" fill="#fff" stroke="#444" stroke-width="0.55"/>
<text x="609.5" y="382.8" font-size="4.7" text-anchor="middle" fill="#333" textLength="16.7" lengthAdjust="spacingAndGlyphs">PRRX1</text>
<path d="M630.2 385.8L626.0 388.0" stroke="#222" stroke-width="0.5"/>
<circle cx="626" cy="388" r="0.8" fill="#e0442e"/>
<rect x="630.2" y="379.6" width="20.3" height="6.2" rx="0.9" fill="#fff" stroke="#444" stroke-width="0.55"/>
<text x="640.4" y="384.4" font-size="4.7" text-anchor="middle" fill="#333" textLength="17.3" lengthAdjust="spacingAndGlyphs">NFKBIA</text>
<path d="M603.0 393.0L603.0 394.5" stroke="#222" stroke-width="0.5"/>
<circle cx="603" cy="394.5" r="0.8" fill="#e0442e"/>
<rect x="589.8" y="387.2" width="22.0" height="5.8" rx="0.9" fill="#fff" stroke="#444" stroke-width="0.55"/>
<text x="600.8" y="391.8" font-size="4.7" text-anchor="middle" fill="#333" textLength="19.0" lengthAdjust="spacingAndGlyphs">ANTXR1</text>
<path d="M622.0 388.5L622.0 386.5" stroke="#222" stroke-width="0.5"/>
<circle cx="622" cy="386.5" r="0.8" fill="#e0442e"/>
<rect x="617.7" y="388.5" width="18.1" height="5.9" rx="0.9" fill="#fff" stroke="#444" stroke-width="0.55"/>
<text x="626.8" y="393.1" font-size="4.7" text-anchor="middle" fill="#333" textLength="15.1" lengthAdjust="spacingAndGlyphs">SYNE2</text>
<path d="M555.0 394.4L555.0 398.0" stroke="#222" stroke-width="0.5"/>
<circle cx="555" cy="398" r="0.8" fill="#3b62b0"/>
<rect x="539.8" y="388.5" width="25.3" height="5.9" rx="0.9" fill="#fff" stroke="#444" stroke-width="0.55"/>
<text x="552.5" y="393.1" font-size="4.7" text-anchor="middle" fill="#333" textLength="22.3" lengthAdjust="spacingAndGlyphs">BHLHE41</text>
<path d="M575.6 403.3L579.0 410.0" stroke="#222" stroke-width="0.5"/>
<circle cx="579" cy="410" r="0.8" fill="#3b62b0"/>
<rect x="554" y="397.3" width="21.6" height="6.0" rx="0.9" fill="#fff" stroke="#444" stroke-width="0.55"/>
<text x="564.8" y="402.0" font-size="4.7" text-anchor="middle" fill="#333" textLength="18.6" lengthAdjust="spacingAndGlyphs">TBC1D9</text>
<path d="M594.0 403.9L594.0 420.0" stroke="#222" stroke-width="0.5"/>
<circle cx="594" cy="420" r="0.8" fill="#e0442e"/>
<rect x="582.2" y="398" width="21.4" height="5.9" rx="0.9" fill="#fff" stroke="#444" stroke-width="0.55"/>
<text x="592.9" y="402.6" font-size="4.7" text-anchor="middle" fill="#333" textLength="18.4" lengthAdjust="spacingAndGlyphs">SLC1A3</text>
<path d="M617.0 403.3L617.0 404.5" stroke="#222" stroke-width="0.5"/>
<circle cx="617" cy="404.5" r="0.8" fill="#e0442e"/>
<rect x="615.7" y="397.3" width="18.4" height="6.0" rx="0.9" fill="#fff" stroke="#444" stroke-width="0.55"/>
<text x="624.9" y="402.0" font-size="4.7" text-anchor="middle" fill="#333" textLength="15.4" lengthAdjust="spacingAndGlyphs">GSTP1</text>
<path d="M580.0 412.1L580.0 420.0" stroke="#222" stroke-width="0.5"/>
<circle cx="580" cy="420" r="0.8" fill="#3b62b0"/>
<rect x="573.3" y="406.5" width="11.9" height="5.6" rx="0.9" fill="#fff" stroke="#444" stroke-width="0.55"/>
<text x="579.2" y="411.0" font-size="4.7" text-anchor="middle" fill="#333" textLength="8.9" lengthAdjust="spacingAndGlyphs">SPI4</text>
<path d="M555.9 415.4L565.0 434.0" stroke="#222" stroke-width="0.5"/>
<circle cx="565" cy="434" r="0.8" fill="#3b62b0"/>
<rect x="536.2" y="409.5" width="19.7" height="5.9" rx="0.9" fill="#fff" stroke="#444" stroke-width="0.55"/>
<text x="546.0" y="414.1" font-size="4.7" text-anchor="middle" fill="#333" textLength="16.7" lengthAdjust="spacingAndGlyphs">MS4A1</text>
<path d="M611.0 417.4L611.0 419.7" stroke="#222" stroke-width="0.5"/>
<circle cx="611" cy="419.7" r="0.8" fill="#e0442e"/>
<rect x="610.5" y="411.5" width="15.4" height="5.9" rx="0.9" fill="#fff" stroke="#444" stroke-width="0.55"/>
<text x="618.2" y="416.1" font-size="4.7" text-anchor="middle" fill="#333" textLength="12.4" lengthAdjust="spacingAndGlyphs">VMP1</text>
<path d="M570.0 423.3L570.0 436.0" stroke="#222" stroke-width="0.5"/>
<circle cx="570" cy="436" r="0.8" fill="#3b62b0"/>
<rect x="546.4" y="417" width="23.6" height="6.3" rx="0.9" fill="#fff" stroke="#444" stroke-width="0.55"/>
<text x="558.2" y="421.8" font-size="4.7" text-anchor="middle" fill="#333" textLength="20.6" lengthAdjust="spacingAndGlyphs">RALGPS2</text>
<path d="M579.0 422.0L579.0 425.0" stroke="#222" stroke-width="0.5"/>
<circle cx="579" cy="425" r="0.8" fill="#3b62b0"/>
<rect x="571" y="416" width="24.7" height="6.0" rx="0.9" fill="#fff" stroke="#444" stroke-width="0.55"/>
<text x="583.4" y="420.7" font-size="4.7" text-anchor="middle" fill="#333" textLength="21.7" lengthAdjust="spacingAndGlyphs">EXOSC10</text>
<path d="M561.8 433.8L567.0 437.0" stroke="#222" stroke-width="0.5"/>
<circle cx="567" cy="437" r="0.8" fill="#3b62b0"/>
<rect x="542.8" y="427.6" width="19.0" height="6.2" rx="0.9" fill="#fff" stroke="#444" stroke-width="0.55"/>
<text x="552.3" y="432.4" font-size="4.7" text-anchor="middle" fill="#333" textLength="16.0" lengthAdjust="spacingAndGlyphs">BANK1</text>
<rect x="189.5" y="464.10" width="29.50" height="7.0" fill="#ff0000"/>
<text x="168.0" y="470.2" font-size="7.68" text-anchor="end" fill="#231f20" >Nonsense-mediated decay</text>
<rect x="189.5" y="472.93" width="26.20" height="7.0" fill="#ff0000"/>
<text x="168.0" y="479.1" font-size="7.68" text-anchor="end" fill="#231f20" >Eukaryotic translation initiation</text>
<rect x="189.5" y="481.76" width="14.80" height="7.0" fill="#ff0000"/>
<text x="168.0" y="487.9" font-size="7.68" text-anchor="end" fill="#231f20" >EIF2 signaling</text>
<rect x="189.5" y="490.59" width="14.50" height="7.0" fill="#ff0000"/>
<text x="168.0" y="496.7" font-size="7.68" text-anchor="end" fill="#231f20" >NF-κB signaling</text>
<rect x="189.5" y="499.42" width="12.80" height="7.0" fill="#ff0000"/>
<text x="168.0" y="505.6" font-size="7.68" text-anchor="end" fill="#231f20" >Signaling by the B cell receptor</text>
<rect x="189.5" y="508.25" width="6.30" height="7.0" fill="#ff0000"/>
<text x="168.0" y="514.4" font-size="7.68" text-anchor="end" fill="#231f20" >WNT–B-catenin signaling</text>
<rect x="189.5" y="517.08" width="6.30" height="7.0" fill="#ff0000"/>
<text x="168.0" y="523.2" font-size="7.68" text-anchor="end" fill="#231f20" >mTOR signaling</text>
<rect x="189.5" y="525.91" width="5.50" height="7.0" fill="#ff0000"/>
<text x="168.0" y="532.1" font-size="7.68" text-anchor="end" fill="#231f20" >PI3K signaling in B lymphocytes</text>
<rect x="187.0" y="534.74" width="2.50" height="7.0" fill="#0000ff"/>
<text x="168.0" y="540.9" font-size="7.68" text-anchor="end" fill="#231f20" >Signaling by NOTCH3</text>
<rect x="186.4" y="543.57" width="3.10" height="7.0" fill="#0000ff"/>
<text x="168.0" y="549.7" font-size="7.68" text-anchor="end" fill="#231f20" >IL-10 signaling</text>
<rect x="185.4" y="552.40" width="4.10" height="7.0" fill="#0000ff"/>
<text x="168.0" y="558.5" font-size="7.68" text-anchor="end" fill="#231f20" >RHO GTPase cycle</text>
<rect x="185.1" y="561.23" width="4.40" height="7.0" fill="#0000ff"/>
<text x="168.0" y="567.4" font-size="7.68" text-anchor="end" fill="#231f20" >IL-7 signaling pathway</text>
<rect x="184.2" y="570.06" width="5.30" height="7.0" fill="#0000ff"/>
<text x="168.0" y="576.2" font-size="7.68" text-anchor="end" fill="#231f20" >PI3K–AKT signaling</text>
<rect x="180.3" y="578.89" width="9.20" height="7.0" fill="#0000ff"/>
<text x="168.0" y="585.0" font-size="7.68" text-anchor="end" fill="#231f20" >Histone modification signaling pathway</text>
<rect x="179.8" y="587.72" width="9.70" height="7.0" fill="#0000ff"/>
<text x="168.0" y="593.9" font-size="7.68" text-anchor="end" fill="#231f20" >Chromatin organization</text>
<rect x="179.1" y="596.55" width="10.40" height="7.0" fill="#0000ff"/>
<text x="168.0" y="602.7" font-size="7.68" text-anchor="end" fill="#231f20" >Apoptosis signaling</text>
<rect x="178.7" y="605.38" width="10.80" height="7.0" fill="#0000ff"/>
<text x="168.0" y="611.5" font-size="7.68" text-anchor="end" fill="#231f20" >Interferon signaling</text>
<rect x="174.9" y="614.21" width="14.60" height="7.0" fill="#0000ff"/>
<text x="168.0" y="620.4" font-size="7.68" text-anchor="end" fill="#231f20" >JAK–STAT signaling</text>
<rect x="174.1" y="623.04" width="15.40" height="7.0" fill="#0000ff"/>
<text x="168.0" y="629.2" font-size="7.68" text-anchor="end" fill="#231f20" >Unfolded protein response</text>
<path d="M171.8 461.8V632.4H221.3" stroke="#999" stroke-width="0.7" fill="none"/>
<path d="M189.5 461.8V632.4" stroke="#222" stroke-width="0.5"/>
<path d="M178.56 632.4V634.4" stroke="#666" stroke-width="0.5"/>
<text x="178.6" y="641.2" font-size="6.2" text-anchor="middle" fill="#333" >−2</text>
<path d="M189.50 632.4V634.4" stroke="#666" stroke-width="0.5"/>
<text x="189.5" y="641.2" font-size="6.2" text-anchor="middle" fill="#333" >0</text>
<path d="M200.44 632.4V634.4" stroke="#666" stroke-width="0.5"/>
<text x="200.4" y="641.2" font-size="6.2" text-anchor="middle" fill="#333" >2</text>
<path d="M211.38 632.4V634.4" stroke="#666" stroke-width="0.5"/>
<text x="211.4" y="641.2" font-size="6.2" text-anchor="middle" fill="#333" >4</text>
<text x="195.3" y="650.3" font-size="7.4" text-anchor="middle" fill="#231f20"><tspan font-style="italic">z</tspan>-score</text>
<rect x="206.3" y="554.9" width="7.6" height="7" fill="#0000ff"/><rect x="206.3" y="562.9" width="7.6" height="6.9" fill="#ff0000"/>
<text x="216.5" y="561.2" font-size="7.6" text-anchor="start" fill="#231f20" >Downregulated</text>
<text x="216.5" y="569.2" font-size="7.6" text-anchor="start" fill="#231f20" >Upregulated</text>
<text x="191.5" y="451.8" font-size="7.6" text-anchor="middle" fill="#231f20" >Pathway analysis for small B cells</text>
<rect x="221.3" y="667.00" width="47.40" height="7.0" fill="#ff0000"/>
<text x="200.3" y="673.1" font-size="7.62" text-anchor="end" fill="#231f20" >De-ubiquitination</text>
<rect x="221.3" y="675.99" width="47.00" height="7.0" fill="#ff0000"/>
<text x="200.3" y="682.1" font-size="7.62" text-anchor="end" fill="#231f20" >Histone modification signaling pathway</text>
<rect x="221.3" y="684.98" width="40.50" height="7.0" fill="#ff0000"/>
<text x="200.3" y="691.1" font-size="7.62" text-anchor="end" fill="#231f20" >Class I MHC-mediated antigen processing and presentation</text>
<rect x="221.3" y="693.97" width="36.60" height="7.0" fill="#ff0000"/>
<text x="200.3" y="700.1" font-size="7.62" text-anchor="end" fill="#231f20" >Unfolded protein response</text>
<rect x="221.3" y="702.96" width="36.60" height="7.0" fill="#ff0000"/>
<text x="200.3" y="709.1" font-size="7.62" text-anchor="end" fill="#231f20" >RHO GTPase cycle</text>
<rect x="221.3" y="711.95" width="34.70" height="7.0" fill="#ff0000"/>
<text x="200.3" y="718.1" font-size="7.62" text-anchor="end" fill="#231f20" >Chromatin organization</text>
<rect x="221.3" y="720.94" width="32.50" height="7.0" fill="#ff0000"/>
<text x="200.3" y="727.1" font-size="7.62" text-anchor="end" fill="#231f20" >PI3K–AKT signaling</text>
<rect x="221.3" y="729.93" width="29.70" height="7.0" fill="#ff0000"/>
<text x="200.3" y="736.1" font-size="7.62" text-anchor="end" fill="#231f20" >JAK–STAT signaling</text>
<rect x="221.3" y="738.92" width="19.50" height="7.0" fill="#ff0000"/>
<text x="200.3" y="745.1" font-size="7.62" text-anchor="end" fill="#231f20" >DNA methylation and transcriptional repression signaling</text>
<rect x="221.3" y="747.91" width="17.30" height="7.0" fill="#ff0000"/>
<text x="200.3" y="754.1" font-size="7.62" text-anchor="end" fill="#231f20" >NIK-noncanonical NF-κB signaling</text>
<rect x="221.3" y="756.90" width="17.30" height="7.0" fill="#ff0000"/>
<text x="200.3" y="763.0" font-size="7.62" text-anchor="end" fill="#231f20" >Signaling by NOTCH3</text>
<rect x="221.3" y="765.89" width="17.30" height="7.0" fill="#ff0000"/>
<text x="200.3" y="772.0" font-size="7.62" text-anchor="end" fill="#231f20" >mTOR signaling</text>
<rect x="221.3" y="774.88" width="14.70" height="7.0" fill="#ff0000"/>
<text x="200.3" y="781.0" font-size="7.62" text-anchor="end" fill="#231f20" >TNFR2 noncanonical NF-κB pathway</text>
<rect x="215.8" y="783.87" width="5.50" height="7.0" fill="#0000ff"/>
<text x="200.3" y="790.0" font-size="7.62" text-anchor="end" fill="#231f20" >Signaling by the B cell receptor</text>
<rect x="211.0" y="792.86" width="10.30" height="7.0" fill="#0000ff"/>
<text x="200.3" y="799.0" font-size="7.62" text-anchor="end" fill="#231f20" >EIF2 signaling</text>
<rect x="209.5" y="801.85" width="11.80" height="7.0" fill="#0000ff"/>
<text x="200.3" y="808.0" font-size="7.62" text-anchor="end" fill="#231f20" >PTEN signaling</text>
<rect x="209.5" y="810.84" width="11.80" height="7.0" fill="#0000ff"/>
<text x="200.3" y="817.0" font-size="7.62" text-anchor="end" fill="#231f20" >ATM signaling</text>
<rect x="206.4" y="819.83" width="14.90" height="7.0" fill="#0000ff"/>
<text x="200.3" y="826.0" font-size="7.62" text-anchor="end" fill="#231f20" >Cell cycle: G1/S checkpoint regulation</text>
<rect x="204.9" y="828.82" width="16.40" height="7.0" fill="#0000ff"/>
<text x="200.3" y="835.0" font-size="7.62" text-anchor="end" fill="#231f20" >Nonsense-mediated decay</text>
<path d="M202.5 664V838.5H271.5" stroke="#999" stroke-width="0.7" fill="none"/>
<path d="M221.3 664V838.5" stroke="#222" stroke-width="0.5"/>
<path d="M208.40 838.5V840.5" stroke="#666" stroke-width="0.5"/>
<text x="208.4" y="847.0" font-size="6.2" text-anchor="middle" fill="#333" >−1</text>
<path d="M221.30 838.5V840.5" stroke="#666" stroke-width="0.5"/>
<text x="221.3" y="847.0" font-size="6.2" text-anchor="middle" fill="#333" >0</text>
<path d="M234.20 838.5V840.5" stroke="#666" stroke-width="0.5"/>
<text x="234.2" y="847.0" font-size="6.2" text-anchor="middle" fill="#333" >1</text>
<path d="M247.10 838.5V840.5" stroke="#666" stroke-width="0.5"/>
<text x="247.1" y="847.0" font-size="6.2" text-anchor="middle" fill="#333" >2</text>
<path d="M260.00 838.5V840.5" stroke="#666" stroke-width="0.5"/>
<text x="260.0" y="847.0" font-size="6.2" text-anchor="middle" fill="#333" >3</text>
<text x="236" y="854.8" font-size="7.4" text-anchor="middle" fill="#231f20"><tspan font-style="italic">z</tspan>-score</text>
<rect x="253.5" y="759.3" width="7.2" height="6.5" fill="#0000ff"/><rect x="253.5" y="766.9" width="7.2" height="7" fill="#ff0000"/>
<text x="263.8" y="765.3" font-size="7.65" text-anchor="start" fill="#231f20" >Downregulated</text>
<text x="263.8" y="773.1" font-size="7.65" text-anchor="start" fill="#231f20" >Upregulated</text>
<text x="230.9" y="661.9" font-size="7.55" text-anchor="middle" fill="#231f20" >Pathway analysis for large B cells</text>
<path d="M354.0 533.7h0M398.3 586.8h0M367.9 566.8h0M344.4 516.6h0M372.4 557.6h0M346.0 531.6h0M393.3 593.2h0M357.5 543.8h0M382.3 586.6h0M377.2 578.6h0M355.7 546.4h0M381.7 578.7h0M386.1 588.0h0M346.9 533.6h0M380.7 584.5h0M346.9 529.2h0M348.4 534.9h0M388.9 574.9h0M350.2 562.2h0M373.4 587.8h0M364.8 570.0h0M391.5 592.4h0M398.9 591.3h0M381.8 582.0h0M344.4 528.7h0M359.3 544.4h0M366.5 565.5h0M381.0 584.0h0M347.9 525.0h0M391.8 579.2h0M350.1 526.2h0M394.3 586.2h0M354.2 538.8h0M354.0 567.2h0M385.5 588.5h0M389.6 595.3h0M341.7 526.9h0M389.3 588.8h0M383.6 583.0h0M366.3 554.8h0M384.0 578.1h0M356.5 540.6h0M355.8 538.4h0M366.1 577.1h0M360.3 566.4h0M363.6 565.6h0M367.4 573.5h0M405.8 589.6h0M350.0 541.1h0M400.8 587.9h0M398.0 584.7h0M361.8 543.1h0M393.2 584.9h0M342.3 531.7h0M365.3 555.1h0M365.3 554.8h0M338.0 522.4h0M362.0 573.2h0M401.0 583.5h0M397.6 587.5h0M391.1 585.2h0M372.8 584.4h0M349.8 530.9h0M375.8 581.1h0M355.7 547.8h0M352.8 525.7h0M389.0 585.7h0M368.4 569.8h0M399.3 592.2h0M356.9 550.3h0M381.8 574.4h0M367.0 565.7h0M373.8 581.2h0M391.6 594.4h0M400.9 588.4h0M360.7 548.7h0M386.7 582.7h0M363.4 568.5h0M373.8 567.3h0M341.4 514.6h0M404.6 591.4h0M397.3 589.6h0M361.0 553.3h0M400.5 586.4h0M390.3 589.8h0M345.6 526.1h0M350.3 537.5h0M382.3 591.6h0M362.8 582.4h0M384.6 593.7h0M370.4 558.6h0M389.1 588.2h0M387.4 577.1h0M362.0 554.2h0M384.9 589.2h0M400.2 586.7h0M346.2 531.8h0M347.0 526.2h0M357.9 543.9h0M393.7 588.3h0M352.1 538.4h0M378.9 577.9h0M356.9 560.6h0M348.3 528.5h0M348.5 519.4h0M394.1 590.5h0M353.2 530.5h0M401.4 586.4h0M356.7 550.1h0M357.9 561.4h0M355.3 524.1h0M351.5 546.9h0M351.7 525.4h0M352.7 528.7h0M385.7 588.3h0M374.7 568.2h0M369.7 583.6h0M350.2 537.5h0M388.7 581.6h0M348.3 520.1h0M395.8 582.8h0M341.6 516.4h0M350.0 527.6h0M382.5 599.4h0M401.0 591.7h0M377.4 583.1h0M383.0 575.4h0M388.0 593.2h0M383.0 590.9h0M348.8 519.3h0M344.5 526.7h0M396.1 595.5h0M401.5 591.5h0M389.3 591.4h0M384.7 579.2h0M384.4 582.5h0M347.6 533.0h0M388.3 591.8h0M365.6 559.2h0M340.2 529.2h0M343.8 527.3h0M387.4 591.5h0M355.0 542.1h0M365.5 544.1h0M380.2 596.1h0M385.6 593.7h0M354.3 557.2h0M354.8 559.5h0M354.4 536.2h0M340.3 524.7h0M344.3 526.8h0M387.2 594.2h0M359.4 542.5h0M350.8 555.7h0M374.0 565.5h0M378.1 581.6h0M359.5 547.4h0M373.5 572.7h0M399.5 590.4h0M379.8 578.2h0M373.1 572.2h0M354.8 553.7h0M393.6 589.5h0M372.3 563.8h0M367.7 548.6h0M390.3 592.5h0M347.7 535.3h0M394.1 590.0h0M347.8 524.4h0M355.0 557.5h0M353.0 533.1h0M381.2 588.9h0M385.9 594.2h0M354.4 538.3h0M338.1 521.7h0M375.5 574.8h0M373.5 573.6h0M348.6 541.7h0M363.2 552.7h0M349.0 529.6h0M372.3 570.6h0M378.9 577.2h0M374.9 587.0h0M369.7 569.8h0M367.5 555.3h0M350.1 557.6h0M368.7 567.2h0M382.8 593.0h0M352.4 520.2h0M352.9 534.2h0M384.9 592.7h0M342.9 523.2h0M355.6 549.6h0M361.4 567.5h0M369.8 570.0h0M358.3 563.0h0M349.6 531.1h0M366.8 574.1h0M362.5 556.5h0M387.4 584.4h0M358.2 541.4h0M392.2 594.2h0M352.9 544.6h0M370.2 569.9h0M344.0 524.2h0M358.6 535.4h0M346.8 516.1h0M344.7 520.3h0M343.3 523.4h0M376.9 584.0h0M365.4 576.3h0M358.9 557.0h0M377.7 573.5h0M364.2 549.5h0M377.2 580.4h0M398.0 589.6h0M401.8 591.9h0M348.8 534.3h0M351.9 541.5h0M381.3 580.2h0M352.2 552.1h0M379.2 590.4h0M390.3 588.0h0M390.1 594.4h0M385.9 582.3h0M392.7 587.8h0M357.5 540.1h0M351.0 545.0h0M365.3 569.1h0M385.2 588.4h0M345.9 517.5h0M388.1 584.8h0M345.8 531.2h0M396.9 587.6h0M351.9 522.5h0M347.9 523.1h0M366.9 557.0h0M385.7 587.6h0M370.6 558.8h0M378.4 577.2h0M347.6 538.1h0M388.9 594.1h0M397.8 593.2h0M351.6 530.4h0M399.7 592.4h0M352.3 546.8h0M356.4 547.9h0M350.4 536.7h0M370.8 562.3h0M373.3 554.0h0M360.5 544.0h0M391.7 587.8h0M353.5 534.6h0M345.3 531.5h0M352.5 550.4h0M389.8 593.3h0M393.9 585.8h0M350.6 535.0h0M374.0 572.8h0M369.1 557.6h0M359.3 557.3h0M366.6 553.2h0M364.4 553.9h0M384.0 577.3h0M371.1 583.2h0M373.6 572.4h0M343.1 527.1h0M350.5 548.2h0M349.6 534.1h0M365.5 566.6h0M372.2 571.3h0M349.4 528.7h0M388.7 584.4h0M376.9 580.7h0M403.9 587.1h0M356.3 541.0h0M348.5 543.8h0M385.3 582.8h0M343.3 531.5h0M382.7 591.0h0M353.9 528.4h0M345.7 515.4h0M389.4 594.2h0M355.9 529.8h0M361.2 547.2h0M370.5 569.3h0M354.9 552.5h0M369.5 573.3h0M360.6 572.7h0M396.9 592.8h0M365.4 567.3h0M356.1 539.3h0M382.7 594.3h0M349.0 520.7h0M396.9 584.2h0M381.6 573.7h0M384.9 592.6h0M343.4 517.8h0M357.1 560.3h0M393.2 584.8h0M368.8 573.1h0M369.9 586.0h0M386.1 580.6h0M357.6 546.2h0M400.5 586.9h0M360.7 570.3h0M382.2 575.4h0M350.8 563.1h0M392.2 594.5h0M342.2 519.2h0M344.0 530.1h0M399.6 582.9h0M347.5 539.4h0M367.6 552.3h0M404.5 588.1h0M364.9 571.8h0M353.1 532.7h0M337.7 527.6h0M352.1 537.0h0M396.0 587.3h0M384.0 577.8h0M358.9 532.8h0M379.8 587.4h0M380.4 577.5h0M357.9 546.2h0M356.3 533.7h0M341.6 519.4h0M347.6 532.7h0M365.0 567.5h0M372.8 585.5h0M400.7 584.9h0M375.8 582.0h0M387.2 584.9h0M359.9 560.1h0M376.1 586.5h0M374.5 575.9h0M359.0 557.0h0M371.4 576.1h0M353.9 557.1h0M378.2 567.0h0M376.9 577.7h0M355.8 542.8h0M343.6 525.4h0M387.5 596.6h0M347.1 522.8h0M354.5 549.5h0M370.4 575.8h0M369.7 568.6h0M385.9 590.7h0M374.6 581.6h0M395.3 583.8h0M344.6 539.5h0M385.8 589.5h0M383.3 585.4h0M402.8 586.2h0M340.9 519.0h0M344.6 519.4h0M347.4 531.6h0M358.0 537.5h0M394.1 585.0h0M348.0 533.1h0M359.7 566.0h0M359.6 532.4h0M371.0 564.4h0M360.1 550.0h0M365.4 578.6h0M362.5 568.3h0M352.4 547.7h0M400.4 590.9h0M360.5 551.8h0M372.4 585.0h0M344.2 519.3h0M347.8 572.4h0M402.7 586.2h0M366.4 568.9h0M357.0 547.5h0M347.5 514.3h0M396.7 585.1h0M401.3 586.7h0M373.7 586.6h0M355.9 543.0h0M352.1 540.6h0M372.4 558.9h0M397.0 586.9h0M355.8 561.9h0M358.4 570.3h0M402.3 588.4h0M398.4 592.5h0M370.5 571.9h0M345.3 522.8h0M371.1 566.8h0M347.1 516.3h0M384.1 579.8h0M378.5 554.3h0M351.8 556.3h0M372.0 578.8h0M370.1 572.5h0M375.0 576.1h0M352.2 520.6h0M375.3 584.1h0M373.8 584.7h0M349.4 539.4h0M403.3 598.5h0M397.1 589.5h0M344.9 532.6h0M345.5 532.2h0M397.6 590.1h0M379.1 567.5h0M340.4 517.2h0M350.7 531.9h0M353.7 541.2h0M345.8 516.5h0M400.4 582.4h0M368.8 558.6h0M385.3 593.2h0M400.6 584.6h0M367.5 557.8h0M360.5 543.6h0M387.8 580.9h0M345.4 519.8h0M397.8 586.2h0M360.0 540.6h0M375.4 590.2h0M394.5 591.3h0M358.6 550.7h0M385.6 592.6h0M360.7 564.5h0M341.1 524.4h0M388.4 588.8h0M351.0 532.0h0M343.9 533.5h0M355.8 525.5h0M355.3 555.9h0M370.8 567.4h0M353.4 564.7h0M380.0 578.4h0M359.7 538.7h0M377.5 575.3h0M355.1 548.1h0M361.2 550.0h0M360.6 558.4h0M400.3 585.0h0M348.9 522.3h0M377.5 563.9h0M362.5 567.1h0M355.3 539.0h0M382.4 576.0h0M351.3 519.5h0M380.0 579.6h0M374.7 561.9h0M366.7 566.8h0M344.9 536.4h0M397.6 581.2h0M384.3 578.9h0M360.1 572.5h0M350.5 554.1h0M370.2 586.2h0M378.8 576.0h0M389.0 586.7h0M376.3 577.6h0M401.3 586.4h0M355.5 557.0h0M350.8 528.2h0M367.6 586.5h0M350.5 541.7h0M368.7 557.8h0M349.9 552.5h0M381.4 583.6h0M348.1 535.1h0M396.5 588.8h0M355.5 570.2h0M335.2 518.2h0M349.7 537.1h0M352.0 537.6h0M367.6 542.0h0M400.9 585.6h0M371.8 571.9h0M353.8 549.7h0M348.5 529.4h0M356.9 535.0h0M350.5 547.2h0M384.3 582.7h0M376.0 578.6h0M387.2 583.2h0M369.3 557.3h0M403.2 592.3h0M356.4 561.5h0M363.9 560.0h0M366.7 561.8h0M380.4 570.6h0M363.8 558.9h0M390.7 588.5h0M394.9 594.6h0M346.7 520.9h0M358.9 560.3h0M370.4 562.5h0M351.0 542.9h0M393.9 587.2h0M393.3 598.2h0M350.3 546.1h0M358.9 533.9h0M375.6 576.8h0M401.8 593.1h0M354.9 521.1h0M394.7 585.7h0M378.1 564.3h0M362.8 572.0h0M352.8 528.0h0M376.0 578.8h0M352.0 527.9h0M351.4 538.9h0M392.3 585.2h0M402.3 585.1h0M374.2 559.7h0M359.2 551.7h0M359.5 559.5h0M369.9 577.6h0M349.5 537.9h0M398.1 588.4h0M353.5 543.0h0M350.4 553.3h0M355.0 532.9h0M374.4 561.4h0M389.2 592.5h0M371.9 565.0h0M382.4 581.8h0M367.4 573.7h0M369.6 572.3h0M362.3 552.1h0M399.9 586.9h0M351.5 535.9h0M387.6 583.4h0M360.1 541.9h0M368.1 555.2h0M361.5 568.6h0M383.1 589.6h0M381.6 580.6h0M356.2 549.7h0M362.0 555.6h0M362.9 560.2h0M384.8 573.0h0M352.5 551.4h0M330.7 519.5h0M369.8 560.4h0M359.9 552.3h0M385.7 591.1h0M384.0 575.7h0M393.1 596.2h0M340.4 526.2h0M379.1 588.3h0M386.1 583.9h0M348.6 527.6h0M381.2 583.9h0M403.3 586.8h0M368.9 576.9h0M351.3 538.1h0M342.5 520.6h0M370.8 574.7h0M382.8 592.4h0M355.8 538.8h0M367.9 544.0h0M402.9 585.3h0M395.0 583.2h0M357.2 544.4h0M390.2 589.9h0M379.7 582.8h0M362.4 552.7h0M368.5 546.0h0M368.6 586.8h0M341.3 526.9h0M375.7 588.9h0M350.6 519.6h0M363.9 565.4h0M351.5 520.9h0M388.2 594.3h0M388.0 589.1h0M357.1 539.9h0M374.6 576.0h0M343.7 533.9h0M368.4 572.4h0M387.4 591.8h0M385.1 581.9h0M365.4 563.5h0M378.1 575.2h0M377.7 577.0h0M350.2 539.3h0M348.5 539.5h0M369.6 548.0h0M360.8 539.5h0M388.1 594.0h0M390.3 590.3h0M353.2 555.8h0M362.5 553.7h0M357.4 565.2h0M362.0 549.4h0M360.9 563.4h0M383.0 581.7h0M364.9 573.2h0M364.0 572.1h0M358.1 555.3h0M366.6 565.7h0M349.1 528.0h0M356.4 538.5h0M360.9 544.4h0M351.6 544.2h0M394.7 594.8h0M370.6 582.0h0M390.8 585.2h0M358.3 547.2h0M361.6 567.4h0M351.0 540.1h0M344.6 527.4h0M363.1 561.0h0M386.4 581.6h0M400.2 585.4h0M356.5 564.2h0M349.9 517.3h0M385.2 591.5h0M349.7 524.0h0M372.3 571.9h0M393.7 591.4h0M348.8 538.2h0M361.8 555.7h0M350.0 529.3h0M383.7 581.1h0M347.5 535.2h0M357.0 525.6h0M352.8 542.7h0M339.6 530.1h0M365.7 553.2h0M372.2 568.7h0M372.5 562.2h0M347.5 533.5h0M393.0 589.5h0M364.8 550.6h0M393.2 595.0h0M361.7 560.2h0M359.0 557.6h0M372.2 578.4h0M353.8 544.6h0M399.2 592.7h0M389.8 588.8h0M400.3 586.0h0M360.0 546.6h0M354.1 545.1h0M355.8 543.0h0M377.2 583.6h0M353.9 543.7h0M344.6 536.9h0M346.3 537.2h0M344.5 532.4h0M371.0 574.8h0M368.6 567.9h0M364.0 559.1h0M385.6 592.1h0M345.4 528.8h0M353.7 528.3h0M375.3 583.9h0M341.7 536.4h0M360.5 542.7h0M353.4 549.3h0M402.5 590.1h0M391.4 584.6h0M376.4 562.5h0M348.3 534.2h0M347.9 531.6h0M373.9 570.2h0M384.2 587.8h0M346.3 524.2h0M391.5 581.8h0M368.2 568.7h0M369.1 560.3h0M347.0 531.1h0M337.6 520.9h0M401.9 586.3h0M373.3 577.1h0M346.6 524.4h0M371.1 573.7h0M344.6 525.3h0M348.8 537.6h0M403.1 579.9h0M356.4 546.2h0M368.5 582.6h0M367.0 572.3h0M383.3 570.9h0M343.4 523.7h0M396.2 592.2h0M353.2 542.3h0M390.0 581.1h0M381.7 588.5h0M402.9 588.4h0M371.8 567.8h0M352.4 566.6h0M351.4 549.0h0M396.0 592.6h0M365.2 558.5h0M357.9 560.4h0M350.2 533.0h0M354.4 541.3h0M359.8 554.9h0M392.2 587.9h0M369.4 548.8h0M352.6 547.0h0M355.2 537.8h0M405.1 587.5h0M356.9 573.2h0M378.6 567.0h0M372.1 566.1h0M347.5 533.0h0M387.4 582.5h0M344.9 528.7h0M357.8 547.3h0M393.4 593.4h0M363.7 575.3h0M355.9 575.5h0M356.4 544.2h0M393.6 586.9h0M367.6 565.5h0M375.0 567.5h0M396.2 593.2h0M357.8 541.9h0M401.2 581.0h0M373.5 570.5h0M354.8 543.3h0M360.3 559.4h0M347.2 538.2h0M376.5 579.4h0M373.5 576.1h0M403.8 592.3h0M347.8 545.6h0M348.3 518.3h0M349.2 530.3h0M349.8 521.4h0M394.2 587.1h0M387.6 585.5h0M355.4 574.7h0M394.4 591.8h0M352.5 536.3h0M363.7 561.2h0M394.6 587.0h0M345.2 518.6h0M404.5 588.0h0M366.0 581.7h0M355.1 542.5h0M373.4 582.2h0M381.7 576.0h0M391.6 589.0h0M366.9 542.0h0M393.9 592.3h0M379.3 597.8h0M361.6 576.8h0M364.3 566.3h0M353.8 552.2h0M356.6 552.2h0M365.7 563.3h0M363.9 570.4h0M398.3 591.1h0M382.2 579.0h0M380.8 586.3h0M367.4 567.0h0M363.8 546.6h0M366.7 576.7h0M347.4 530.7h0M365.5 543.5h0M405.0 594.1h0M382.3 580.3h0M363.4 567.7h0M357.3 554.1h0M383.3 587.0h0M354.5 554.1h0M371.4 556.2h0M398.9 588.4h0M345.1 519.7h0M398.5 586.9h0M387.8 583.6h0M348.9 536.1h0M345.7 519.9h0M362.2 558.4h0M404.3 585.2h0M377.8 573.4h0M388.1 597.3h0M355.0 545.0h0M353.6 524.8h0M333.1 521.1h0M359.7 538.5h0M398.7 590.6h0M352.1 519.3h0M383.5 569.4h0M402.2 590.9h0M368.3 557.4h0M377.5 601.7h0M382.4 589.7h0M372.7 575.2h0M403.3 587.0h0M408.2 587.5h0M384.2 586.2h0M345.6 514.8h0M360.1 546.3h0M349.7 516.1h0M356.8 556.4h0M358.1 556.2h0M346.5 526.2h0M362.3 544.3h0M383.8 593.0h0M402.7 591.6h0M346.2 533.3h0M374.5 581.7h0M403.8 590.4h0M366.2 556.3h0M391.0 593.4h0M369.4 552.9h0M348.5 536.1h0M390.9 585.0h0M396.0 584.8h0M386.0 585.5h0M374.6 589.1h0M358.8 544.2h0M394.3 589.0h0M356.0 564.8h0M366.0 579.1h0M375.2 591.7h0M386.2 580.5h0M382.3 595.9h0M369.4 573.5h0M369.3 586.6h0M389.8 580.8h0M357.8 559.0h0M349.9 530.7h0M373.0 571.7h0M381.9 571.3h0M366.3 569.7h0M363.4 561.7h0M349.8 538.4h0M390.1 596.9h0M360.5 557.3h0M377.0 585.3h0M342.0 521.0h0M346.8 536.0h0M352.5 553.7h0M405.1 588.1h0M390.1 597.6h0M379.8 573.6h0M343.5 520.2h0M353.0 535.4h0M382.6 583.7h0M339.8 518.6h0M361.0 530.7h0M369.2 572.6h0M379.9 586.3h0M376.3 582.1h0M374.5 565.6h0M350.6 523.2h0M348.5 519.4h0M347.8 516.7h0M402.4 576.7h0M360.5 537.8h0M364.4 553.4h0M344.5 532.9h0M357.2 560.7h0M392.0 588.2h0M376.1 576.7h0M390.7 588.7h0M366.0 574.9h0M388.9 585.9h0M364.5 568.0h0M378.8 553.9h0M369.2 559.4h0M377.9 582.5h0M351.0 531.6h0M363.1 544.4h0M367.8 564.3h0M386.4 582.7h0M392.2 583.2h0M379.5 584.8h0M351.2 529.2h0M350.8 564.9h0M374.1 561.0h0M349.8 543.1h0M369.3 577.7h0M341.3 522.0h0M402.5 586.8h0M404.0 589.5h0M376.1 570.0h0M361.2 539.3h0M348.7 535.6h0M347.9 526.5h0M376.0 579.7h0M355.1 533.7h0M359.5 551.4h0M353.4 524.0h0M377.1 579.6h0M390.8 582.9h0M381.0 574.1h0M403.2 586.3h0M350.3 531.5h0M399.6 590.3h0M377.6 584.8h0M360.5 566.0h0M363.0 561.9h0M342.7 512.8h0M343.7 525.8h0M375.7 559.0h0M366.5 564.7h0M400.5 592.5h0M344.1 528.8h0M345.8 517.3h0M349.7 531.7h0M370.2 571.0h0M395.0 586.4h0M396.1 586.0h0M368.6 565.0h0M352.5 544.4h0M376.9 585.3h0M348.8 522.3h0M402.2 586.3h0M348.4 533.3h0M400.6 588.0h0M352.9 544.2h0M376.4 591.5h0M400.1 583.7h0M378.3 584.8h0M358.6 552.9h0M387.4 587.6h0M349.4 538.7h0M353.4 570.1h0M380.5 586.0h0M393.9 589.0h0M367.4 563.6h0M352.0 530.7h0M401.7 584.6h0M345.6 546.8h0M348.2 530.8h0M368.3 563.2h0M363.1 550.7h0M371.3 552.5h0M383.2 583.3h0M351.4 542.0h0M397.8 589.5h0M360.3 554.9h0M367.6 571.5h0M343.2 517.3h0M343.8 525.8h0M357.8 545.7h0M353.7 529.6h0M348.0 531.9h0M405.1 596.2h0M354.6 547.7h0M367.0 577.0h0M356.3 537.4h0M378.9 578.3h0M365.6 560.4h0M387.8 572.2h0M355.9 535.6h0M335.9 518.8h0M382.4 585.0h0M358.3 547.3h0M375.2 586.1h0M380.2 575.3h0M360.4 548.4h0M358.2 554.3h0M360.0 546.7h0M340.3 521.2h0M368.0 576.8h0M389.1 578.2h0M354.5 531.3h0M359.2 552.1h0M389.5 590.9h0M381.4 571.0h0M361.0 547.6h0M353.2 540.3h0M386.4 595.9h0M370.1 571.9h0M365.2 540.6h0M385.7 579.6h0M346.4 519.7h0M346.0 542.8h0M369.2 566.0h0M355.0 537.7h0M375.1 589.8h0M385.9 588.2h0M353.9 525.7h0M346.8 530.0h0M361.7 565.7h0M376.2 569.7h0M343.0 518.7h0M353.8 548.3h0M362.4 536.8h0M362.5 562.4h0M372.3 572.4h0M344.3 517.3h0M396.9 581.0h0M368.6 550.4h0M392.6 597.5h0M347.7 520.8h0M385.7 584.0h0M361.2 560.7h0M340.5 530.4h0M364.4 581.3h0M360.1 577.9h0M360.2 549.9h0M340.2 520.3h0M383.8 567.9h0M347.1 523.4h0M349.3 524.1h0M349.0 519.3h0M362.4 552.3h0M358.0 554.1h0M350.6 529.1h0M379.8 585.2h0M374.1 586.6h0M358.2 549.1h0M360.8 534.9h0M337.6 517.0h0M373.6 572.4h0M371.3 584.4h0M368.4 567.3h0M371.1 579.2h0M351.6 542.8h0M353.5 542.5h0M395.0 589.8h0M369.5 537.8h0M353.5 531.9h0M358.1 540.3h0M369.4 552.6h0M344.1 523.8h0M369.6 568.5h0M341.6 519.9h0M336.9 525.8h0M340.3 514.7h0M397.8 590.2h0M356.0 544.9h0M356.4 553.7h0M392.9 592.9h0M353.2 528.7h0M372.1 565.8h0M387.5 591.2h0M379.6 588.9h0M336.1 540.6h0M380.4 573.2h0M355.6 545.0h0M376.0 578.9h0M365.9 566.6h0M354.3 542.9h0M359.3 556.8h0M355.0 543.1h0M362.2 568.8h0M340.6 521.7h0M346.9 532.1h0M393.9 582.6h0M399.7 584.1h0" stroke="#ffc20e" stroke-width="0.95" stroke-linecap="round" fill="none" opacity="0.9"/>
<path d="M450.7 555.0h0M444.6 551.8h0M455.5 543.7h0M426.2 569.2h0M410.0 584.9h0M441.1 559.2h0M418.0 577.8h0M406.5 582.1h0M459.0 542.3h0M418.0 582.2h0M411.3 585.9h0M452.5 548.2h0M445.9 560.0h0M424.5 572.6h0M435.5 564.7h0M423.7 576.6h0M450.4 550.0h0M452.4 561.2h0M457.2 539.6h0M425.4 573.6h0M411.7 577.8h0M436.9 573.5h0M449.1 551.5h0M416.5 580.0h0M464.5 530.5h0M458.4 535.9h0M449.0 549.5h0M412.1 582.5h0M437.5 560.9h0M416.5 584.2h0M417.0 580.8h0M404.2 584.3h0M462.1 535.0h0M456.1 546.1h0M421.8 574.7h0M404.5 585.7h0M402.8 585.9h0M456.0 536.8h0M444.3 560.7h0M454.9 547.0h0M411.4 580.8h0M449.4 544.4h0M460.8 545.7h0M459.2 545.4h0M442.9 556.2h0M461.1 542.6h0M432.9 581.3h0M440.1 567.5h0M427.7 578.0h0M435.1 564.9h0M430.8 572.0h0M408.3 585.4h0M461.6 533.6h0M442.4 556.2h0M454.9 548.9h0M441.4 556.4h0M454.8 554.5h0M428.4 578.0h0M418.4 572.6h0M445.2 563.0h0M436.6 569.8h0M405.2 585.7h0M444.0 561.5h0M455.2 538.4h0M462.7 536.2h0M423.7 581.4h0M418.8 577.7h0M454.5 537.2h0M444.7 553.4h0M439.5 552.1h0M455.8 542.8h0M455.4 548.6h0M450.3 548.0h0M440.1 560.1h0M422.4 579.5h0M448.9 550.9h0M411.5 581.8h0M431.6 554.4h0M452.5 550.6h0M413.5 584.1h0M418.1 570.3h0M442.4 562.8h0M427.5 576.7h0M460.0 531.0h0M424.7 577.1h0M450.4 554.0h0M427.5 579.6h0M449.4 550.8h0M449.1 551.1h0M454.8 547.2h0M442.4 567.0h0M459.3 538.2h0M451.7 542.3h0M458.7 548.5h0M431.5 574.8h0M417.3 580.6h0M440.1 565.6h0M457.3 538.5h0M411.3 575.3h0M458.4 546.5h0M415.8 579.0h0M462.2 528.6h0M425.6 584.9h0M462.9 533.3h0M435.0 564.4h0M411.1 582.9h0M463.8 533.2h0M424.7 574.2h0M458.2 539.1h0M447.0 551.2h0M459.6 531.5h0M417.3 584.1h0M440.6 571.5h0M431.7 567.5h0M423.4 571.1h0M432.8 564.9h0M459.4 542.4h0M459.2 542.2h0M458.1 545.2h0M450.4 545.7h0M445.5 553.4h0M414.2 580.3h0M423.0 577.7h0M453.6 545.8h0M443.4 565.7h0M432.7 577.9h0M454.8 554.5h0M457.3 532.9h0M408.3 581.7h0M455.8 544.4h0M450.5 557.2h0M451.4 554.0h0M420.9 573.9h0M455.1 550.6h0M439.8 560.0h0M455.0 545.4h0M406.8 583.8h0M454.0 546.8h0M455.0 542.8h0M427.7 576.2h0M435.4 561.8h0M451.1 551.1h0M430.3 568.6h0M446.5 558.7h0M445.3 556.6h0M417.9 581.2h0M428.1 568.1h0M459.5 542.5h0M426.5 570.4h0M433.9 571.5h0M458.1 545.5h0M434.6 572.2h0M452.7 545.7h0M450.1 547.2h0M460.2 536.9h0M458.6 532.0h0M453.0 546.0h0M423.7 578.0h0M417.0 581.8h0M453.8 543.1h0M433.5 564.5h0M417.3 582.1h0M442.2 555.9h0M413.9 581.2h0M447.7 552.4h0M419.9 584.6h0M430.6 566.3h0M410.4 584.4h0M425.3 552.3h0M457.6 543.5h0M448.8 554.0h0M452.0 548.0h0M437.9 562.1h0M436.3 554.3h0M440.9 572.2h0M442.8 575.5h0M455.0 544.6h0M460.4 538.5h0M414.1 586.8h0M434.1 574.5h0M422.5 571.5h0M443.9 564.6h0M429.6 569.9h0M409.0 586.1h0M414.0 584.1h0M408.8 576.1h0M410.9 578.8h0M429.4 575.7h0M402.1 583.0h0M456.5 543.9h0M454.9 541.1h0M419.0 575.5h0M432.5 569.6h0M420.2 572.5h0M414.7 583.3h0M415.7 583.1h0M440.3 555.3h0M452.3 544.1h0M448.0 557.5h0M415.2 575.6h0M416.9 576.4h0M452.1 542.7h0M409.1 583.5h0M425.2 577.5h0M425.4 579.1h0M404.9 583.9h0M411.3 583.9h0M439.9 572.3h0M424.4 578.0h0M411.2 583.0h0M461.4 535.3h0M437.4 563.8h0M464.2 529.6h0M458.3 536.2h0M461.6 530.4h0M438.0 561.3h0M412.9 583.8h0M410.0 575.4h0M457.2 537.8h0M451.8 555.6h0M425.4 568.3h0M417.9 586.4h0M449.4 558.8h0M408.7 580.9h0M423.5 585.3h0M447.7 554.3h0M409.9 589.6h0M461.2 540.1h0M458.1 531.7h0M430.2 572.1h0M413.1 581.2h0M407.7 581.2h0M423.1 571.4h0M449.0 543.5h0M426.9 579.9h0M438.0 559.5h0M446.5 550.6h0M431.5 565.5h0M439.5 571.8h0M458.0 535.8h0M411.4 582.8h0M433.0 569.9h0M429.9 578.7h0M441.0 567.0h0M424.5 574.5h0M436.3 570.7h0M454.6 543.8h0M411.0 585.1h0M406.7 584.2h0M429.3 575.4h0M451.0 552.0h0M460.2 537.0h0M423.8 578.1h0M420.1 576.4h0M461.1 533.7h0M423.3 570.2h0M457.8 544.0h0M453.9 541.3h0M461.6 538.7h0M456.2 542.4h0M453.0 545.8h0M436.8 568.4h0M436.2 564.8h0M448.3 550.3h0M413.6 586.1h0M454.1 546.8h0M406.1 585.6h0M432.7 570.5h0M410.2 577.1h0M438.2 562.3h0M445.3 560.0h0M441.3 562.8h0M434.6 575.4h0M447.5 555.6h0M452.8 551.2h0M445.6 553.2h0M434.9 568.8h0M427.5 575.4h0M405.4 584.3h0M456.8 537.9h0M450.4 547.6h0M452.0 542.2h0M442.6 559.6h0M438.0 569.5h0M458.7 539.0h0M453.8 557.4h0M451.4 555.5h0M420.5 575.5h0M414.8 579.3h0M446.5 560.0h0M420.2 569.3h0M458.3 543.6h0M458.0 535.9h0M407.8 583.2h0M454.4 546.3h0M459.9 533.0h0M417.7 576.3h0M420.3 581.9h0M430.5 565.4h0M444.7 552.2h0M423.9 579.7h0M422.8 577.1h0M432.5 576.7h0M433.3 565.7h0M451.2 561.9h0M449.4 553.8h0M413.3 589.0h0M407.4 585.0h0M413.1 583.9h0M453.1 557.0h0M406.6 587.9h0M465.7 538.3h0M451.0 552.9h0M425.8 577.3h0M450.3 558.6h0M450.0 554.9h0M456.1 537.4h0M438.2 568.3h0M446.3 554.8h0M421.6 573.4h0M418.7 578.3h0M438.0 564.9h0M445.8 555.3h0M424.2 579.0h0M428.9 574.6h0M440.9 559.5h0M412.2 584.6h0M435.8 568.9h0M442.6 552.1h0M445.2 555.3h0M428.5 574.7h0M458.9 542.0h0M425.4 585.8h0M441.7 559.8h0M411.7 588.9h0M465.8 529.9h0M463.6 533.7h0M429.2 566.1h0M405.6 588.1h0M459.0 533.0h0M447.2 548.1h0M455.0 547.1h0M457.5 542.4h0M435.6 567.3h0M455.6 550.7h0M423.1 575.4h0M444.9 562.6h0M453.7 555.0h0M431.1 563.3h0M438.4 562.5h0M450.8 561.0h0M439.7 556.7h0M454.4 546.3h0M414.7 582.4h0M432.8 583.3h0M446.1 559.3h0M456.2 548.3h0M429.7 569.4h0M459.7 534.1h0M447.2 565.3h0M412.3 581.4h0M444.7 555.1h0M426.1 566.6h0M412.6 579.8h0M426.8 575.0h0M414.1 579.6h0M409.0 583.9h0M404.8 582.3h0M455.0 551.1h0M421.4 577.3h0M451.0 556.5h0M445.0 562.7h0M457.2 544.1h0M454.8 550.1h0M406.9 582.4h0M409.5 586.2h0M461.3 540.2h0M456.4 546.6h0M437.1 567.6h0M439.2 561.5h0M426.6 573.6h0M414.2 583.4h0M425.2 574.5h0M421.4 579.2h0M464.5 531.7h0M446.7 557.7h0M464.6 534.2h0M405.0 587.4h0M429.6 576.3h0M425.7 569.9h0M430.1 569.9h0M460.5 545.8h0M449.8 556.8h0M424.8 575.8h0M426.1 578.2h0M459.7 536.0h0M461.7 539.6h0M418.7 578.1h0M452.1 547.2h0M424.1 577.9h0M451.8 543.9h0M444.4 559.1h0M443.0 558.0h0M416.0 576.6h0M448.9 544.9h0M414.8 578.8h0M424.0 577.4h0M461.3 529.5h0M412.7 581.9h0M459.6 531.6h0M421.1 576.7h0M408.0 582.6h0M428.8 573.8h0M460.8 532.9h0M417.2 587.2h0M451.9 546.1h0M466.5 532.1h0M435.8 564.0h0M455.3 542.3h0M425.2 575.8h0M443.6 553.5h0M447.4 547.3h0M441.1 559.7h0M420.0 580.8h0M411.4 578.5h0M455.1 542.0h0M407.0 583.0h0M417.4 574.9h0M421.8 581.8h0M436.1 568.0h0M438.6 566.0h0M432.9 570.1h0M446.9 562.0h0M446.1 558.7h0M438.4 566.6h0M440.1 570.8h0M458.3 539.5h0M456.4 537.9h0M453.1 544.8h0M428.2 572.4h0M442.8 565.3h0M462.3 531.3h0M460.4 535.6h0M411.5 577.1h0M451.4 553.8h0M455.4 542.1h0M451.2 548.1h0M449.5 550.3h0M416.6 581.1h0M458.2 547.5h0M420.0 580.6h0M458.9 544.4h0M449.6 557.1h0M445.8 560.8h0M439.4 564.0h0M408.5 582.4h0M418.9 585.6h0M429.2 572.4h0M441.3 558.5h0M448.4 555.1h0M419.4 576.1h0M455.4 549.7h0M432.2 562.5h0M437.0 566.7h0M441.9 565.1h0M415.4 582.3h0M460.9 533.0h0M446.3 554.6h0M438.0 569.6h0M462.8 539.5h0M464.4 533.0h0M412.2 575.9h0M414.3 582.9h0M430.2 574.3h0M414.0 584.6h0M408.5 586.1h0M464.7 535.4h0M445.0 567.4h0M413.3 581.3h0M458.8 535.2h0M448.7 563.0h0M411.1 584.6h0M426.9 580.1h0M445.4 560.0h0M444.0 553.0h0M415.6 580.1h0M452.9 552.6h0M446.3 549.1h0M443.6 565.1h0M460.2 546.3h0M430.3 573.9h0M446.9 560.7h0M445.9 556.6h0M410.8 582.5h0M419.7 584.7h0M447.3 557.4h0M434.5 566.2h0M459.9 528.6h0M418.9 575.5h0M409.8 585.1h0M443.4 559.3h0M453.0 539.9h0M411.0 587.3h0M415.2 586.0h0M424.9 571.9h0M436.6 565.9h0M414.1 580.2h0M454.0 552.5h0M449.4 550.8h0M452.6 537.7h0M449.9 557.9h0M438.0 558.3h0M432.1 574.3h0M453.1 541.8h0M456.3 542.7h0M421.5 576.8h0M419.9 581.4h0M439.6 568.5h0M458.5 544.7h0M419.4 578.7h0M418.0 576.7h0M438.4 564.4h0M443.4 568.5h0M422.8 575.0h0M455.4 534.6h0M450.8 550.5h0M450.7 548.6h0M447.2 555.7h0M414.5 582.6h0M458.0 538.7h0M456.5 539.8h0M406.6 585.2h0M416.1 577.4h0M411.0 586.8h0M455.1 540.9h0M438.0 566.2h0M407.7 581.7h0M426.5 574.6h0M449.4 543.5h0M411.7 588.9h0M461.1 541.5h0M416.0 579.6h0M459.7 538.4h0M437.9 566.5h0M403.9 581.8h0M459.5 531.2h0M434.9 571.0h0M425.9 577.3h0M440.8 560.2h0M437.6 568.6h0M453.5 561.2h0M430.4 569.1h0M424.8 571.3h0M433.4 568.3h0M444.0 557.6h0M437.5 570.8h0M449.5 553.9h0M408.1 583.2h0M449.7 558.4h0M408.3 581.9h0M417.5 578.3h0M430.5 574.9h0M454.7 538.6h0M450.4 544.5h0M453.8 536.7h0M437.7 573.3h0M416.5 577.9h0M459.1 536.3h0M458.2 541.2h0M436.1 561.6h0M447.4 558.4h0M458.5 536.6h0M445.1 553.4h0M426.6 579.2h0M413.0 580.1h0M457.1 537.8h0M431.3 573.8h0M417.8 572.0h0M428.4 569.3h0M424.1 581.1h0M451.3 544.7h0M439.0 565.1h0M416.2 575.8h0M413.7 581.0h0M436.5 560.9h0M429.0 567.2h0M438.3 566.0h0M457.3 530.6h0M431.1 570.0h0M449.4 549.2h0M416.0 575.6h0M450.3 539.6h0M421.3 578.0h0M453.2 552.0h0M454.8 540.3h0M444.4 561.3h0M430.9 564.8h0M457.1 536.2h0M428.4 571.3h0M448.5 548.3h0M462.1 531.7h0M429.0 566.1h0M456.2 533.1h0M463.4 530.2h0M413.4 581.3h0M430.9 570.7h0M432.3 567.0h0M460.7 539.3h0M418.7 575.3h0M415.7 587.5h0M411.3 588.3h0M458.8 540.4h0M446.0 559.7h0M425.9 572.8h0M455.6 536.7h0M405.0 584.4h0M417.5 584.9h0M441.5 554.9h0M434.4 565.8h0M415.7 581.8h0M444.7 558.7h0M431.3 573.1h0M427.8 571.4h0M438.7 562.0h0M434.3 561.7h0M463.3 541.8h0M438.6 561.4h0M407.0 584.2h0M461.4 529.4h0M452.4 547.4h0M454.9 539.8h0M448.1 558.8h0M429.6 565.6h0M456.1 546.6h0M406.4 587.6h0M422.3 573.9h0M461.5 542.7h0M452.7 545.8h0M446.7 556.5h0M453.7 548.4h0" stroke="#19e6f5" stroke-width="0.95" stroke-linecap="round" fill="none" opacity="0.9"/>
<path d="M385.1 593.1h0M392.6 540.8h0M380.3 557.2h0M389.3 566.0h0M389.5 551.0h0M392.0 556.8h0M404.4 548.1h0M383.5 557.9h0M373.5 550.5h0M398.2 543.9h0M403.0 574.4h0M406.4 551.2h0" stroke="#6ad0a0" stroke-width="1.05" stroke-linecap="round" fill="none"/>
<path d="M328.1 504V602H471.3" stroke="#555" stroke-width="0.6" fill="none"/>
<path d="M326.1 518.9H328.1" stroke="#555" stroke-width="0.5"/>
<text x="325.0" y="521.0" font-size="6.1" text-anchor="end" fill="#333" >5.0</text>
<path d="M326.1 538.6H328.1" stroke="#555" stroke-width="0.5"/>
<text x="325.0" y="540.7" font-size="6.1" text-anchor="end" fill="#333" >2.5</text>
<path d="M326.1 558.3H328.1" stroke="#555" stroke-width="0.5"/>
<text x="325.0" y="560.4" font-size="6.1" text-anchor="end" fill="#333" >0</text>
<path d="M326.1 578.0H328.1" stroke="#555" stroke-width="0.5"/>
<text x="325.0" y="580.1" font-size="6.1" text-anchor="end" fill="#333" >−2.5</text>
<path d="M326.1 597.7H328.1" stroke="#555" stroke-width="0.5"/>
<text x="325.0" y="599.8" font-size="6.1" text-anchor="end" fill="#333" >−5.0</text>
<path d="M329.1 602V604" stroke="#555" stroke-width="0.5"/>
<text x="329.1" y="611.2" font-size="6.1" text-anchor="middle" fill="#333" >−10</text>
<path d="M360.9 602V604" stroke="#555" stroke-width="0.5"/>
<text x="360.9" y="611.2" font-size="6.1" text-anchor="middle" fill="#333" >−5</text>
<path d="M392.7 602V604" stroke="#555" stroke-width="0.5"/>
<text x="392.7" y="611.2" font-size="6.1" text-anchor="middle" fill="#333" >0</text>
<path d="M424.5 602V604" stroke="#555" stroke-width="0.5"/>
<text x="424.5" y="611.2" font-size="6.1" text-anchor="middle" fill="#333" >5</text>
<path d="M456.3 602V604" stroke="#555" stroke-width="0.5"/>
<text x="456.3" y="611.2" font-size="6.1" text-anchor="middle" fill="#333" >10</text>
<text x="400.4" y="624.0" font-size="7.3" text-anchor="middle" fill="#231f20" >UMAP 1</text>
<text transform="translate(310.8,551.2) rotate(-90)" font-size="7.0" text-anchor="middle" fill="#231f20">UMAP 2</text>
<circle cx="435.3" cy="592" r="1.3" fill="#ffc20e"/><circle cx="435.3" cy="598" r="1.3" fill="#19e6f5"/>
<text x="438.5" y="594.2" font-size="6.3" text-anchor="start" fill="#231f20" >Small B cells</text>
<text x="438.5" y="600.2" font-size="6.3" text-anchor="start" fill="#231f20" >Large B cells</text>
<path d="M527.3 508.7h0M524.6 506.5h0M531.0 511.8h0M524.8 508.5h0M523.6 517.6h0M534.6 512.6h0M529.5 508.1h0M526.3 516.1h0M528.6 509.7h0M526.3 510.0h0M525.3 511.5h0M524.8 511.8h0M524.1 511.3h0M530.1 506.2h0M529.7 508.3h0M523.6 509.3h0M514.8 511.8h0M532.3 509.5h0M529.0 517.0h0M530.8 510.5h0M527.9 512.1h0M525.1 513.5h0M526.5 512.6h0M526.2 509.5h0M519.6 511.1h0M529.1 512.0h0M526.0 511.0h0M527.2 509.4h0M523.5 512.7h0M524.7 512.3h0M520.4 518.7h0" stroke="#0d0887" stroke-width="0.95" stroke-linecap="round" fill="none" opacity="0.85"/>
<path d="M527.3 521.9h0M524.9 519.9h0M521.4 515.0h0M528.4 519.1h0M529.7 519.2h0M530.8 521.6h0M530.9 512.5h0M531.2 511.6h0M523.5 522.4h0M527.2 519.8h0M530.4 517.2h0M521.6 514.3h0M525.9 515.9h0M526.9 517.0h0M527.5 512.7h0M530.4 515.8h0M526.1 520.2h0M528.4 507.4h0M531.4 513.2h0M526.6 518.3h0M529.7 515.4h0M527.4 511.8h0M527.1 511.6h0M528.1 515.5h0M534.3 513.1h0M528.5 508.6h0M528.2 512.1h0M524.3 517.2h0M531.4 514.9h0M533.5 511.8h0M533.1 521.4h0M518.9 510.5h0M529.3 513.4h0M536.8 513.7h0M523.7 519.1h0M525.5 513.1h0M524.4 519.9h0M533.7 513.3h0M527.5 520.5h0M532.1 516.7h0M523.0 523.4h0M524.9 530.3h0M530.5 525.0h0M521.1 513.4h0M529.2 517.2h0M526.3 516.5h0M527.8 521.9h0M532.1 514.0h0M528.0 510.8h0M530.0 524.1h0M528.5 512.3h0M517.1 513.6h0M534.2 511.6h0M528.4 506.7h0M532.1 508.1h0M529.2 519.2h0M523.1 510.8h0M532.9 515.9h0M531.0 511.8h0M530.3 508.8h0M527.4 526.5h0M524.5 514.5h0M525.7 504.5h0M527.0 522.0h0M528.6 509.4h0M531.3 514.9h0M526.8 518.7h0M523.6 513.7h0M530.3 513.3h0M529.7 516.1h0M531.7 516.8h0M521.1 509.1h0M527.0 516.6h0M523.6 506.7h0M519.8 534.9h0M523.9 514.2h0" stroke="#300595" stroke-width="0.95" stroke-linecap="round" fill="none" opacity="0.85"/>
<path d="M528.7 525.0h0M529.6 522.4h0M530.4 517.8h0M525.4 525.1h0M532.2 524.3h0M534.9 518.6h0M529.0 525.3h0M535.3 523.9h0M537.2 516.9h0M534.8 521.9h0M532.4 520.7h0M527.3 519.7h0M530.2 526.6h0M526.7 520.3h0M531.5 522.9h0M532.0 524.5h0M528.6 524.6h0M534.1 515.1h0M533.9 523.8h0M528.1 524.9h0M532.9 528.8h0M531.8 521.9h0M526.2 524.9h0M526.9 523.4h0M535.2 526.2h0M521.2 520.7h0M530.2 526.3h0M527.5 533.6h0M530.0 525.0h0M530.6 526.7h0M527.7 526.1h0M528.3 525.7h0M533.3 525.5h0M537.6 518.4h0M527.7 530.3h0M530.6 528.8h0M534.9 521.1h0M534.2 521.0h0M531.1 520.7h0M532.9 512.0h0M532.3 522.6h0M527.5 530.8h0M527.3 525.9h0M528.2 522.0h0M535.8 521.5h0M529.6 524.5h0M527.5 518.2h0M529.8 532.3h0M531.7 523.7h0M535.6 517.6h0M528.9 526.9h0M531.0 530.0h0M532.3 524.1h0M535.0 529.2h0M533.4 522.5h0M531.1 529.4h0M530.5 519.5h0M535.5 516.8h0M526.6 518.7h0M532.1 525.2h0M530.9 526.9h0M534.2 524.1h0M536.4 524.7h0M535.9 518.6h0M529.4 523.3h0M523.7 523.7h0M531.5 511.6h0M532.9 522.3h0M535.5 525.4h0M529.5 525.6h0" stroke="#5402a3" stroke-width="0.95" stroke-linecap="round" fill="none" opacity="0.85"/>
<path d="M536.0 527.4h0M529.5 527.2h0M530.9 528.7h0M532.5 519.2h0M532.6 531.5h0M533.9 518.3h0M532.6 531.5h0M530.3 529.1h0M535.1 526.7h0M531.1 536.1h0M535.0 527.9h0M540.1 529.2h0M531.3 528.0h0M530.1 532.1h0M532.8 530.6h0M535.6 528.4h0M532.0 527.8h0M531.0 538.4h0M535.9 521.6h0M537.7 523.1h0M537.9 533.4h0M534.3 530.9h0M540.4 526.4h0M538.1 527.3h0M541.1 526.0h0M531.8 533.5h0M533.0 525.4h0M526.8 527.1h0M534.2 531.6h0M531.0 522.7h0M538.7 528.8h0M531.9 531.9h0M536.9 526.5h0M533.7 529.7h0M533.5 532.1h0M526.7 527.6h0M532.6 533.5h0M531.0 533.7h0M531.5 521.1h0M531.3 532.2h0M530.1 529.0h0M538.7 518.5h0M530.1 527.1h0M529.0 531.1h0M531.3 531.7h0M532.6 526.6h0M537.1 531.8h0M530.1 526.6h0M534.6 530.1h0M531.3 530.0h0M532.2 532.5h0M529.4 529.9h0M533.3 525.0h0M537.0 527.4h0M532.6 525.0h0M534.6 539.0h0M531.9 532.8h0M530.8 524.2h0M535.7 522.9h0M530.5 525.3h0M535.3 534.6h0M528.7 537.3h0M537.8 539.6h0M535.2 521.9h0" stroke="#7006a4" stroke-width="0.95" stroke-linecap="round" fill="none" opacity="0.85"/>
<path d="M536.2 533.0h0M532.4 535.5h0M543.0 537.7h0M538.6 545.5h0M534.3 532.5h0M533.7 541.8h0M536.9 536.6h0M536.3 530.1h0M540.9 536.9h0M532.5 553.4h0M537.5 544.7h0M539.8 535.7h0M534.9 539.3h0M534.1 535.8h0M539.2 534.3h0M533.3 539.7h0M538.2 542.8h0M541.9 538.6h0M534.6 545.6h0M538.1 535.3h0M542.6 542.1h0M530.1 533.6h0M548.4 547.6h0M539.6 541.0h0M539.7 531.5h0M538.7 542.5h0M537.7 537.5h0M534.3 534.9h0M535.8 535.6h0M541.4 534.8h0M537.0 543.0h0M542.0 554.3h0M537.2 533.2h0M532.8 536.1h0M532.1 531.0h0M535.8 544.8h0M538.2 557.7h0M540.5 527.6h0M533.6 533.1h0M532.7 548.8h0M543.5 547.5h0M541.5 536.3h0M548.6 538.6h0M538.9 539.0h0M543.7 548.1h0M538.8 534.1h0M542.1 533.7h0M538.1 532.5h0M542.3 539.0h0M533.8 538.8h0M539.9 542.1h0M533.3 534.3h0M534.9 537.1h0M535.8 539.2h0M535.9 538.2h0M541.9 537.2h0M530.8 527.9h0M535.3 536.7h0M533.6 544.0h0M536.4 535.6h0M538.1 538.8h0M539.4 536.2h0M537.0 537.0h0M541.1 532.5h0M540.3 538.8h0M534.7 549.2h0M542.3 524.1h0M532.2 537.6h0M541.0 546.7h0M528.4 541.6h0M533.6 536.5h0M539.5 540.5h0M536.5 542.6h0M538.1 531.4h0M537.7 529.4h0M540.7 547.5h0M542.3 542.5h0M546.1 534.9h0M536.9 531.7h0M535.8 543.3h0M543.6 530.7h0M539.6 549.6h0M535.5 536.9h0M550.1 531.8h0M539.7 534.6h0M538.1 549.2h0M537.4 539.7h0M536.3 537.4h0" stroke="#8b0aa5" stroke-width="0.95" stroke-linecap="round" fill="none" opacity="0.85"/>
<path d="M539.2 538.3h0M537.5 541.2h0M532.5 558.5h0M540.8 539.0h0M547.4 562.1h0M536.0 563.9h0M538.3 534.9h0M537.6 532.5h0M541.7 563.0h0M546.3 550.7h0M537.6 542.8h0M542.1 543.7h0M542.3 548.8h0M539.5 538.5h0M538.6 556.7h0M538.5 545.3h0M546.5 538.7h0M536.3 553.0h0M536.7 555.5h0M533.1 551.3h0M540.9 542.3h0M536.7 549.1h0M548.4 543.6h0M536.9 553.3h0M536.3 532.4h0M544.4 548.1h0M548.3 551.0h0M539.9 559.3h0M540.4 552.8h0M545.3 544.6h0M534.4 547.5h0M547.6 552.7h0M534.5 541.7h0M549.7 553.4h0M540.8 553.1h0M547.4 548.7h0M545.4 549.4h0M532.8 543.1h0M536.8 547.9h0M539.3 541.0h0M533.1 559.5h0M540.6 552.8h0M535.9 552.8h0M537.6 537.2h0M536.4 544.6h0M541.5 545.2h0M534.6 542.6h0M541.9 547.1h0M530.4 569.6h0M534.0 552.0h0M548.2 553.6h0M541.9 538.2h0M540.1 545.9h0M542.1 560.9h0M535.5 561.2h0M541.1 532.8h0M542.5 545.1h0M532.8 549.6h0M537.4 552.7h0M549.3 553.7h0M532.3 547.9h0M548.4 536.4h0M532.8 542.1h0M549.9 553.1h0M540.4 556.4h0M550.8 558.7h0M533.2 537.4h0M532.7 540.9h0M554.3 555.7h0M540.7 546.9h0M535.5 537.5h0M542.8 565.4h0M538.0 544.8h0M543.2 551.2h0M544.1 556.3h0M534.6 546.7h0M541.4 547.7h0M537.6 532.9h0M549.1 540.8h0M544.9 561.9h0M546.4 559.9h0M550.1 543.0h0M535.3 551.5h0M543.7 549.1h0M539.1 561.8h0M543.3 544.5h0M539.8 550.9h0M543.0 551.4h0M546.6 548.7h0M545.8 545.8h0M540.5 553.4h0M541.5 541.4h0M536.1 539.7h0M537.7 537.5h0M535.5 544.4h0M549.7 556.4h0M538.2 541.0h0M534.5 563.3h0M539.6 556.5h0M541.3 550.4h0M534.7 541.8h0M539.4 542.2h0M536.8 537.9h0M541.7 555.4h0M530.3 540.4h0M537.2 572.1h0M547.7 536.5h0M535.8 547.6h0M538.3 547.5h0M544.9 541.5h0M546.4 538.0h0M544.5 564.5h0M539.0 549.6h0M536.4 549.6h0M536.9 539.6h0M541.5 541.1h0M538.5 552.1h0M539.8 551.9h0M543.5 539.0h0M547.1 552.0h0M550.0 548.3h0M537.8 561.3h0M539.5 554.9h0M541.8 553.1h0M541.9 531.8h0M545.5 548.9h0M538.9 556.8h0M549.7 555.4h0M544.2 539.0h0M533.1 561.4h0M542.5 533.5h0M535.0 538.8h0M540.2 548.3h0M535.4 567.0h0M548.1 559.9h0M544.3 545.9h0M539.9 542.2h0M541.8 543.4h0M539.8 549.8h0M541.5 541.6h0M542.9 562.3h0M549.3 545.6h0M542.5 556.9h0M541.5 575.6h0M541.6 545.0h0M543.6 547.7h0M539.8 544.1h0M542.2 528.6h0M549.0 564.0h0M533.8 537.3h0M550.0 547.9h0M540.8 552.6h0M536.9 537.6h0" stroke="#a2209b" stroke-width="0.95" stroke-linecap="round" fill="none" opacity="0.85"/>
<path d="M548.6 563.5h0M552.7 553.5h0M545.8 567.0h0M547.2 550.4h0M547.0 574.7h0M544.7 562.1h0M548.2 570.8h0M546.2 550.4h0M543.2 570.5h0M549.1 566.7h0M547.8 562.3h0M544.5 565.4h0M554.0 564.0h0M550.8 554.6h0M543.3 549.8h0M539.5 557.6h0M554.8 565.0h0M546.5 555.1h0M554.1 562.1h0M553.7 569.9h0M552.6 560.2h0M555.5 572.2h0M553.7 570.9h0M552.6 567.6h0M550.2 566.8h0M549.3 564.0h0M542.7 564.2h0M550.3 567.0h0M547.6 571.4h0M543.7 552.2h0M550.7 566.9h0M546.3 573.8h0M546.2 565.9h0M551.1 554.7h0M551.3 558.5h0M553.5 549.5h0M546.4 563.3h0M552.5 568.4h0M551.0 566.2h0M550.1 570.6h0M542.0 570.0h0M546.3 564.0h0M538.8 556.4h0M549.5 570.4h0M542.1 567.3h0M545.8 568.9h0M545.9 564.2h0M541.3 556.2h0M551.7 573.6h0M550.9 573.3h0M550.2 565.4h0M541.1 562.6h0M551.4 560.8h0M546.4 576.4h0M543.7 565.1h0M547.2 565.7h0M552.7 554.8h0M537.7 558.2h0M540.0 567.3h0M550.9 569.0h0M551.5 563.5h0M558.2 549.8h0M550.6 569.7h0M549.4 554.5h0M537.2 551.6h0M551.3 564.2h0M543.7 563.9h0M554.8 558.1h0M547.5 563.4h0M541.6 569.7h0M537.3 567.2h0M552.1 569.1h0M545.0 556.1h0M547.5 558.0h0M544.9 554.8h0M544.0 569.1h0M541.0 555.5h0M550.4 575.3h0M554.5 557.5h0M552.2 561.5h0M548.2 571.0h0M550.1 569.5h0M548.8 550.8h0M550.3 556.5h0M549.5 574.4h0M554.7 573.6h0M549.1 569.6h0M542.3 559.8h0M545.9 570.5h0M545.1 569.3h0M547.4 562.3h0M542.9 564.1h0M544.2 557.2h0M538.2 560.6h0M552.6 569.0h0M552.5 565.5h0M552.7 558.5h0M543.0 556.3h0M552.5 576.1h0M551.4 572.2h0M545.1 555.1h0M556.3 558.8h0M554.0 567.2h0M548.8 565.5h0M547.8 569.5h0M552.2 564.6h0M546.1 554.4h0M550.0 543.8h0M538.6 570.4h0M544.8 572.7h0M537.7 573.0h0M548.4 562.0h0M555.0 564.2h0M553.7 567.5h0M553.6 573.7h0M544.8 557.3h0M546.9 579.7h0M553.6 580.2h0M542.9 574.4h0M545.3 562.9h0M545.0 567.4h0M548.1 563.7h0M547.5 574.3h0M551.8 551.9h0M543.5 554.3h0M548.9 553.2h0M549.9 570.8h0M553.2 568.8h0M547.1 566.7h0M544.5 557.9h0M559.4 570.9h0M549.8 569.8h0M546.8 572.3h0M545.5 564.8h0M558.5 549.4h0M548.5 560.7h0M554.3 557.1h0M549.9 575.4h0M541.8 562.6h0M544.1 558.1h0M555.7 555.0h0M547.3 561.2h0M550.7 568.1h0M549.3 561.6h0M549.0 559.5h0M551.7 547.8h0M541.7 550.5h0M548.3 568.7h0M547.7 574.6h0M546.5 556.5h0M550.6 569.1h0M549.8 562.6h0M543.7 558.6h0M552.6 569.5h0M545.4 579.3h0M551.5 577.0h0M550.2 565.4h0M552.4 562.4h0M546.8 563.2h0M543.4 565.7h0" stroke="#b93791" stroke-width="0.95" stroke-linecap="round" fill="none" opacity="0.85"/>
<path d="M561.7 585.1h0M557.1 576.4h0M560.2 582.8h0M553.6 586.4h0M553.0 582.7h0M555.8 579.1h0M553.9 579.2h0M565.7 580.9h0M543.9 580.5h0M558.6 575.6h0M550.3 581.8h0M562.3 572.9h0M563.9 577.0h0M557.9 579.6h0M559.4 575.9h0M553.3 569.3h0M555.0 585.5h0M556.8 582.2h0M557.0 578.4h0M558.2 574.8h0M554.1 570.0h0M551.5 581.4h0M553.8 569.5h0M556.8 578.6h0M564.4 580.9h0M561.0 571.0h0M550.4 584.4h0M565.1 578.5h0M561.5 572.9h0M559.9 575.1h0M553.0 583.9h0M555.8 580.0h0M556.1 584.9h0M554.5 573.4h0M558.0 563.7h0M556.8 575.4h0M554.7 579.7h0M562.5 583.8h0M553.9 585.1h0M552.3 576.6h0M555.0 573.7h0M555.3 582.4h0M553.9 583.1h0M558.7 564.2h0M557.3 572.7h0M557.3 560.3h0M561.7 573.6h0M559.5 577.5h0M563.5 576.7h0M550.7 584.7h0M558.5 573.5h0M556.2 575.3h0M548.3 585.0h0M563.4 580.9h0M556.0 576.4h0M559.9 567.6h0M555.6 574.4h0M557.8 560.7h0M555.9 576.5h0M561.8 579.8h0M562.4 588.3h0M563.9 570.2h0M563.2 573.2h0M558.8 586.9h0M560.6 582.2h0M551.3 572.0h0M559.3 581.0h0M549.2 585.3h0M555.6 587.6h0M557.9 572.7h0M557.5 574.6h0M562.3 579.7h0M551.1 580.1h0M557.0 581.8h0M549.2 564.6h0M555.3 582.2h0M553.5 574.7h0M551.5 571.1h0M549.1 580.7h0M562.6 568.0h0M561.1 587.1h0M558.3 563.7h0M552.4 562.7h0M556.4 577.3h0M561.1 573.5h0M546.6 559.7h0M557.6 570.7h0M562.7 566.3h0M552.9 572.7h0M554.7 587.9h0M546.9 576.9h0M565.2 578.4h0M549.9 585.1h0M561.3 568.3h0M556.8 583.6h0M561.9 581.9h0M556.2 580.1h0M554.6 562.2h0M556.0 574.3h0M557.7 580.6h0M559.1 583.1h0M556.0 567.0h0M556.0 577.5h0M557.0 577.5h0M560.5 571.4h0M557.4 583.2h0M556.7 583.7h0M556.3 590.5h0M558.0 583.1h0M558.6 576.0h0M559.7 572.8h0M548.7 574.4h0M560.8 568.0h0M555.1 588.6h0M556.1 566.7h0M559.4 583.5h0M554.3 585.0h0M551.7 582.7h0M555.9 576.7h0" stroke="#ca4a7c" stroke-width="0.95" stroke-linecap="round" fill="none" opacity="0.85"/>
<path d="M561.1 576.5h0M565.1 586.6h0M567.6 572.3h0M576.8 590.2h0M561.2 580.0h0M560.5 582.2h0M572.5 584.7h0M568.0 587.4h0M562.8 581.1h0M563.2 575.8h0M571.6 583.3h0M567.7 584.1h0M561.2 571.7h0M568.9 588.5h0M561.6 590.6h0M566.3 574.7h0M564.0 587.9h0M567.4 579.7h0M561.8 599.1h0M557.2 581.2h0M562.3 589.8h0M574.1 594.9h0M563.6 580.6h0M567.1 590.8h0M566.3 590.4h0M559.8 595.5h0M560.7 587.6h0M564.9 593.4h0M558.6 574.8h0M562.1 592.1h0M564.0 591.7h0M566.3 582.7h0M570.6 593.4h0M557.5 570.8h0M560.8 578.1h0M558.9 589.3h0M569.0 586.6h0M564.9 580.4h0M564.3 587.0h0M564.7 586.2h0M572.2 584.2h0M563.2 574.9h0M562.0 589.8h0M568.1 593.3h0M564.1 591.6h0M574.1 585.9h0M563.2 575.5h0M559.4 586.0h0M566.1 583.2h0M566.4 596.0h0M564.9 589.5h0M564.8 588.2h0M552.7 583.3h0M563.3 577.6h0M564.4 592.2h0M566.6 578.9h0M555.4 589.0h0M559.5 576.1h0M567.8 585.2h0M560.8 581.9h0M566.1 581.4h0M569.3 587.2h0M571.6 597.7h0M572.9 584.1h0M561.0 578.5h0M564.7 590.0h0M565.1 582.2h0M562.1 591.4h0M568.8 588.7h0M567.0 593.5h0M564.2 579.9h0M568.9 589.1h0M569.4 583.5h0M565.3 579.7h0M572.0 590.3h0M562.9 579.1h0M564.6 591.1h0M563.3 586.4h0M570.0 579.9h0M568.6 579.0h0M566.3 580.6h0M566.5 583.9h0M558.9 597.3h0M561.5 576.8h0M560.3 584.8h0M561.7 578.2h0M557.3 601.5h0M561.8 588.4h0M563.4 584.7h0M563.1 592.0h0M554.6 579.7h0M565.0 583.9h0M555.2 590.7h0M561.7 595.2h0M568.4 578.7h0M559.5 584.7h0M565.4 580.8h0M570.6 581.3h0M574.2 584.4h0M566.3 586.2h0M560.1 584.4h0M566.7 569.4h0M561.8 583.4h0M555.3 584.6h0M567.9 576.0h0M568.2 589.7h0M564.8 577.4h0M564.9 586.8h0M564.8 582.2h0M563.1 564.6h0M553.8 569.6h0M566.3 590.1h0M559.2 587.6h0M559.9 570.4h0M581.7 543.1h0" stroke="#db5c68" stroke-width="0.95" stroke-linecap="round" fill="none" opacity="0.85"/>
<path d="M576.2 585.3h0M571.7 592.3h0M570.0 591.5h0M570.3 577.0h0M564.6 587.1h0M568.2 594.6h0M583.0 588.3h0M575.9 583.0h0M578.7 581.7h0M575.5 586.1h0M569.7 583.6h0M577.1 591.2h0M570.1 593.6h0M578.5 587.1h0M581.9 590.4h0M575.3 588.3h0M563.8 592.8h0M567.9 586.9h0M572.0 587.0h0M572.3 589.4h0M564.7 587.0h0M573.9 580.9h0M566.9 592.3h0M579.0 590.4h0M568.0 590.3h0M564.6 592.8h0M566.1 593.4h0M577.3 589.2h0M571.9 588.2h0M568.9 591.5h0M572.4 588.8h0M575.9 588.4h0M579.3 590.9h0M568.7 593.6h0M571.1 586.4h0M566.9 583.1h0M567.6 593.3h0M575.7 592.3h0M577.4 591.4h0M570.2 586.4h0M568.4 592.3h0M567.5 582.7h0M574.9 591.9h0M562.1 593.4h0M574.9 582.5h0M571.6 583.1h0M578.1 585.4h0M570.6 593.7h0M577.4 581.1h0M578.3 583.3h0M573.5 582.1h0M572.4 583.3h0M578.1 589.7h0M574.8 583.5h0M578.9 585.2h0M575.0 585.4h0M579.8 587.0h0M576.3 591.5h0M580.7 598.0h0M575.6 588.9h0M572.7 590.2h0M564.6 591.6h0M567.2 587.4h0M578.0 583.4h0M575.5 579.2h0M578.9 584.9h0M574.6 587.5h0M578.6 584.0h0M573.1 593.8h0M572.2 585.7h0M570.8 583.6h0M576.0 587.1h0M567.9 591.5h0M577.7 585.5h0M566.5 581.6h0M571.4 595.6h0M580.3 583.7h0M573.2 581.3h0M566.8 587.8h0M566.3 590.7h0M566.9 593.2h0M572.9 594.1h0M564.3 590.5h0M571.4 588.2h0M571.5 594.2h0M577.0 591.7h0M568.5 587.5h0M578.0 584.4h0M580.0 588.9h0M569.9 582.9h0M574.2 591.2h0M574.1 591.7h0M570.6 586.6h0M582.4 586.1h0M571.7 592.5h0M572.0 585.4h0M574.3 592.3h0M581.2 591.3h0M572.7 590.7h0M572.9 585.5h0M581.8 586.6h0M570.1 587.7h0M562.5 585.5h0M576.4 585.4h0M566.7 581.8h0M566.9 596.8h0M576.6 589.4h0M579.7 589.8h0M580.1 590.6h0M569.6 592.5h0M569.5 583.4h0M568.7 596.3h0M568.8 597.1h0M570.5 586.9h0M569.3 587.3h0M567.7 584.4h0M580.0 585.3h0M569.3 581.1h0M578.2 591.5h0M573.2 584.8h0M579.7 584.8h0M578.3 586.6h0M572.2 587.8h0M562.5 581.5h0M575.7 588.3h0M582.3 595.6h0M565.4 595.2h0M574.9 579.0h0M571.0 597.0h0M573.2 588.6h0M575.7 589.0h0M571.3 592.0h0M572.2 580.8h0M581.5 582.6h0M581.8 584.1h0M582.4 584.1h0M583.9 582.0h0M585.9 584.6h0M582.6 582.6h0M584.5 583.4h0M564.2 592.2h0M571.0 535.1h0M559.8 553.0h0M568.0 562.6h0M568.2 546.2h0M562.7 553.8h0M553.7 545.7h0M576.1 538.4h0M580.5 571.8h0M583.5 546.5h0" stroke="#e87258" stroke-width="0.95" stroke-linecap="round" fill="none" opacity="0.85"/>
<path d="M578.5 586.5h0M578.2 584.9h0M577.9 585.2h0M579.0 584.9h0M578.7 590.7h0M574.9 586.2h0M581.3 585.6h0M581.8 586.7h0M580.2 584.7h0M580.2 584.6h0M575.1 588.3h0M578.1 580.5h0M578.2 582.9h0M575.8 584.6h0M580.6 591.3h0M579.3 592.2h0M579.8 583.5h0M580.7 585.3h0M577.9 583.8h0M579.5 584.7h0M580.5 577.8h0M580.3 587.1h0M578.8 579.0h0M572.5 585.7h0M572.2 591.3h0M576.2 590.0h0M582.3 593.3h0M576.7 587.0h0M581.6 583.6h0M580.7 585.5h0M585.1 586.1h0M581.2 589.3h0M574.1 583.2h0M572.5 587.7h0M582.4 586.8h0M579.9 574.3h0M581.4 588.2h0M580.7 584.7h0M577.3 589.1h0M577.8 581.9h0M579.3 582.9h0M577.5 582.4h0M586.8 583.2h0M583.7 580.2h0M588.0 584.3h0M588.7 580.7h0M592.7 582.4h0M580.2 584.3h0M585.3 583.7h0M594.8 575.4h0M588.2 579.8h0M588.0 572.7h0M592.1 576.8h0M598.9 568.2h0M590.6 578.2h0M585.2 579.7h0M594.0 579.2h0M593.4 580.1h0M590.5 585.3h0M579.6 581.2h0M591.1 581.4h0M585.9 581.7h0M582.2 582.1h0M588.0 582.1h0M587.9 581.1h0M593.9 584.9h0M585.6 578.9h0M586.7 588.4h0M589.6 579.2h0M584.7 579.2h0M587.7 583.4h0M583.8 582.4h0M583.3 584.0h0M587.0 574.7h0M584.8 581.4h0M583.7 586.5h0M594.7 576.0h0M588.8 582.9h0M588.3 587.6h0M582.8 586.7h0M591.0 580.5h0M588.9 579.4h0M585.9 582.1h0M582.0 580.4h0M584.0 580.5h0M586.3 584.6h0M590.6 581.6h0M597.1 577.0h0M582.3 586.0h0M589.2 580.0h0M585.0 580.8h0M593.3 585.7h0M595.9 578.7h0M588.0 576.2h0M584.1 581.1h0M588.1 574.7h0M585.4 580.5h0M588.8 573.4h0M590.7 581.1h0M585.4 584.6h0M589.8 579.4h0M587.8 582.9h0M591.8 578.0h0M587.6 580.6h0M595.6 583.0h0M587.7 585.8h0M591.5 584.4h0M595.8 579.4h0M598.4 572.5h0M583.7 583.5h0M592.3 575.0h0M584.7 579.8h0M581.3 579.9h0M585.0 581.4h0M585.3 580.0h0M593.9 569.2h0M592.4 573.3h0M590.1 579.0h0M592.2 573.1h0M592.0 586.1h0M588.0 587.0h0M582.3 582.7h0M593.6 583.2h0M584.0 582.5h0M583.6 586.1h0M570.5 552.6h0" stroke="#f48849" stroke-width="0.95" stroke-linecap="round" fill="none" opacity="0.85"/>
<path d="M594.1 575.5h0M594.0 580.3h0M600.0 569.8h0M599.2 574.2h0M588.4 575.4h0M592.6 577.9h0M593.1 578.7h0M597.5 572.1h0M588.1 578.7h0M602.8 575.7h0M594.4 569.8h0M599.2 579.4h0M598.1 577.3h0M590.0 582.3h0M600.1 574.7h0M593.4 578.5h0M600.9 583.2h0M587.8 581.0h0M600.1 571.6h0M593.4 582.3h0M601.8 567.4h0M599.3 575.7h0M593.2 579.8h0M590.3 579.2h0M595.8 582.9h0M587.2 582.7h0M608.6 571.9h0M598.1 568.6h0M590.4 582.4h0M585.7 573.7h0M587.6 576.6h0M604.4 573.1h0M594.9 572.9h0M596.1 569.7h0M592.0 581.3h0M591.5 573.1h0M593.0 574.0h0M600.6 575.1h0M600.8 576.9h0M599.8 575.7h0M589.5 582.1h0M586.8 572.8h0M600.8 565.2h0M599.1 583.7h0M598.7 568.5h0M602.1 577.8h0M588.1 580.9h0M600.0 571.9h0M604.3 572.8h0M599.3 575.8h0M596.0 574.0h0M590.0 584.5h0M596.3 573.0h0M591.1 577.1h0M593.8 573.9h0M596.2 580.0h0M599.4 577.6h0M598.4 574.7h0M589.8 587.7h0M589.6 582.1h0M597.3 570.7h0M603.6 572.1h0M600.7 584.2h0M598.7 572.8h0M607.5 581.5h0M601.4 563.2h0M589.2 577.6h0M590.5 577.5h0M601.8 570.9h0M600.2 573.4h0M601.4 575.9h0M594.7 575.8h0M599.5 575.6h0M592.2 574.1h0M591.2 576.6h0M599.5 575.1h0M596.9 574.3h0M593.5 572.3h0M597.5 579.8h0M592.8 579.1h0M595.8 578.5h0M594.9 584.0h0M591.7 580.4h0M590.5 582.9h0M602.1 578.0h0M594.9 572.9h0M586.6 583.5h0M590.5 578.1h0M597.2 574.4h0M595.3 576.5h0M594.0 574.3h0M590.8 580.7h0M587.7 585.3h0M601.7 572.0h0M588.4 587.6h0M592.2 577.4h0M601.2 574.9h0M600.2 568.4h0M593.6 576.0h0M592.7 575.6h0M589.5 578.0h0M597.0 575.7h0M589.9 579.3h0M594.7 572.8h0M592.0 579.9h0M606.2 570.3h0M598.0 571.3h0" stroke="#f9a23a" stroke-width="0.95" stroke-linecap="round" fill="none" opacity="0.85"/>
<path d="M601.5 566.0h0M600.8 570.9h0M611.2 570.8h0M607.6 579.3h0M605.6 569.2h0M603.5 575.7h0M594.2 567.2h0M602.7 574.2h0M602.7 577.5h0M606.3 572.2h0M609.5 560.9h0M606.5 564.2h0M607.5 561.4h0M598.6 575.3h0M607.4 575.6h0M596.7 571.3h0M602.9 573.8h0M605.2 565.5h0M603.2 564.9h0M609.1 569.4h0M608.1 560.9h0M605.5 562.9h0M604.6 566.9h0M607.2 566.5h0M611.6 560.2h0M605.1 569.2h0M606.3 562.0h0M604.8 576.5h0M610.6 567.7h0M598.9 567.2h0M607.4 567.5h0M609.1 572.9h0M609.4 565.6h0M602.7 572.9h0M596.0 566.2h0M605.4 561.9h0M607.2 574.2h0M608.0 562.3h0M601.2 574.9h0M612.2 561.4h0M599.7 576.8h0M603.9 572.0h0M610.2 565.8h0M604.6 566.3h0M602.0 572.5h0M597.1 574.9h0M600.6 571.9h0M604.6 573.8h0M601.1 566.8h0M603.8 571.1h0M610.2 560.4h0M600.6 573.3h0M610.4 564.8h0M607.5 567.1h0M603.3 569.6h0M604.2 569.6h0M595.4 573.6h0M606.9 558.8h0M605.1 571.6h0M609.0 562.9h0M600.3 569.0h0M606.8 571.7h0M605.4 572.4h0M601.9 577.0h0M606.2 571.1h0M603.5 566.2h0M599.6 579.1h0M604.1 563.9h0M612.5 562.6h0M605.8 561.3h0M603.4 568.4h0M604.0 562.7h0M605.8 567.8h0M607.1 563.7h0M601.2 570.1h0M603.0 568.5h0M604.6 562.2h0" stroke="#febc2b" stroke-width="0.95" stroke-linecap="round" fill="none" opacity="0.85"/>
<path d="M625.4 543.1h0M619.4 556.1h0M609.9 561.2h0M611.8 557.0h0M622.6 539.0h0M616.6 551.9h0M614.1 564.2h0M609.5 561.4h0M616.2 551.9h0M615.3 552.1h0M618.8 559.3h0M610.9 566.7h0M614.1 556.2h0M622.1 546.1h0M606.4 550.0h0M622.5 546.0h0M622.2 546.4h0M616.2 563.7h0M614.1 562.2h0M614.6 568.6h0M626.4 540.6h0M617.1 562.3h0M629.7 526.4h0M623.5 553.0h0M613.8 556.1h0M609.9 558.0h0M608.5 568.6h0M630.9 525.5h0M616.0 551.6h0M621.0 547.7h0M600.6 547.7h0M612.1 558.3h0M610.7 549.9h0M614.8 569.4h0M616.5 572.9h0M627.6 539.2h0M617.6 561.1h0M625.1 538.7h0M613.9 569.4h0M633.6 523.7h0M612.2 557.4h0M622.6 554.7h0M621.0 549.8h0M622.2 538.0h0M612.2 555.5h0M613.6 569.0h0M607.7 566.8h0M614.9 563.7h0M630.2 538.6h0M611.1 565.2h0M610.5 561.3h0M612.3 558.6h0M615.2 559.1h0M616.4 555.7h0M612.2 566.4h0M632.0 526.6h0M625.9 552.8h0M623.4 554.5h0M612.3 565.1h0M619.3 550.9h0M614.8 555.5h0M616.4 547.5h0M618.7 551.0h0M615.5 555.8h0M604.2 562.7h0M610.0 564.0h0M618.4 558.9h0M605.9 559.7h0M612.6 558.7h0M613.7 552.5h0M627.0 541.1h0M619.5 555.3h0M620.6 561.9h0M618.5 559.0h0M611.4 564.3h0M613.2 557.7h0M620.1 553.6h0M605.0 566.8h0M632.9 526.5h0M624.8 540.8h0M617.3 549.0h0M615.0 555.7h0M612.7 562.7h0M620.2 558.2h0M612.6 563.3h0M614.1 567.8h0M616.6 561.8h0M624.3 549.3h0M628.0 536.5h0M624.2 543.0h0M622.7 545.5h0M613.4 560.4h0M615.2 554.4h0M628.0 544.8h0M611.3 563.3h0M615.8 561.6h0M612.2 566.6h0M618.5 564.2h0M618.9 556.1h0M625.7 547.9h0M617.3 561.7h0M632.3 541.1h0M605.2 571.2h0M620.6 553.2h0M632.1 521.8h0M617.1 555.3h0M611.0 562.5h0M612.2 554.2h0M613.7 565.3h0M612.5 560.8h0M617.1 565.3h0M623.8 545.6h0M630.4 532.8h0M627.7 535.2h0M612.2 562.9h0M612.1 563.1h0M631.7 524.6h0M609.4 568.0h0M614.7 556.3h0M611.8 565.5h0M605.3 566.0h0M608.0 565.1h0M622.6 549.4h0M626.6 530.6h0M611.9 570.5h0M610.5 557.9h0M618.6 548.9h0M613.1 561.6h0M610.8 557.0h0M605.9 567.0h0M626.0 547.3h0M619.5 555.8h0M615.4 550.5h0M608.9 562.4h0M608.8 557.9h0M612.8 557.6h0M621.4 554.8h0M620.1 552.3h0" stroke="#f7da26" stroke-width="0.95" stroke-linecap="round" fill="none" opacity="0.85"/>
<path d="M623.7 550.6h0M618.1 547.1h0M628.1 538.3h0M615.0 555.2h0M631.2 536.8h0M623.5 545.1h0M625.2 557.3h0M629.6 533.7h0M622.3 546.7h0M636.2 523.9h0M630.7 529.8h0M622.2 544.6h0M634.0 528.8h0M628.7 540.9h0M628.5 530.7h0M617.9 556.8h0M627.5 541.8h0M632.9 540.4h0M631.4 540.1h0M633.1 537.0h0M633.6 527.2h0M627.6 543.9h0M627.5 550.1h0M617.7 557.7h0M627.8 532.5h0M634.6 530.1h0M627.2 531.1h0M618.3 548.9h0M613.6 547.5h0M628.4 537.3h0M628.0 543.7h0M623.4 543.0h0M625.3 545.8h0M616.2 559.1h0M632.2 524.4h0M623.4 549.5h0M627.4 542.1h0M631.5 532.3h0M624.6 536.8h0M631.0 543.5h0M629.7 532.6h0M630.7 541.3h0M634.1 521.8h0M634.8 526.9h0M635.6 526.8h0M630.5 533.2h0M620.3 546.5h0M631.8 525.0h0M631.6 536.9h0M631.5 536.6h0M630.4 539.9h0M623.4 540.5h0M619.0 548.9h0M627.4 550.1h0M628.4 539.1h0M624.3 549.5h0M627.8 545.8h0M627.6 540.2h0M626.7 541.6h0M627.6 537.2h0M624.1 546.4h0M619.9 554.6h0M618.8 552.3h0M631.7 537.0h0M630.4 540.3h0M625.5 540.4h0M623.2 542.0h0M632.3 530.9h0M625.8 540.7h0M626.6 537.6h0M630.0 538.0h0M622.0 549.5h0M624.9 542.9h0M632.5 532.6h0M629.0 538.5h0M627.6 535.4h0M614.3 551.0h0M621.3 553.4h0M625.0 537.2h0M633.5 529.1h0M636.0 522.9h0M630.6 530.1h0M629.6 531.9h0M624.7 551.3h0M633.3 534.4h0M630.4 525.2h0M619.9 545.8h0M630.4 529.7h0M627.2 538.4h0M624.0 547.3h0M632.4 530.9h0M633.2 527.3h0M626.6 535.6h0M633.6 532.8h0M628.8 536.8h0M625.8 540.6h0M621.6 545.5h0M626.8 541.6h0M618.8 556.1h0M620.8 551.2h0M625.6 546.5h0M619.1 548.7h0M629.3 532.0h0M623.5 542.5h0M624.9 536.6h0M631.0 533.1h0M626.6 553.2h0M624.4 551.1h0M619.9 556.0h0M630.6 538.2h0M630.4 529.8h0M627.1 541.1h0M618.2 547.5h0M624.2 558.1h0M622.6 549.3h0M637.3 532.3h0M624.0 548.3h0M623.1 550.5h0M628.6 531.4h0M619.7 550.4h0M631.1 536.4h0M637.4 523.2h0M635.5 527.4h0M631.2 526.6h0M620.5 543.1h0M627.6 541.9h0M629.9 536.9h0M628.2 545.9h0M626.4 550.6h0M623.8 557.2h0M628.7 543.3h0M631.9 527.7h0M618.3 550.7h0M627.7 546.3h0M624.0 552.2h0M629.7 538.7h0M627.4 545.3h0M633.4 534.5h0M628.9 541.4h0M636.2 525.2h0M636.3 527.9h0M632.6 540.6h0M622.9 552.5h0M631.9 529.9h0M633.7 533.8h0M625.0 542.1h0M624.7 538.5h0M618.0 555.1h0M616.7 553.9h0M622.0 539.6h0M633.3 522.8h0M631.8 525.1h0M638.0 525.6h0M627.9 536.7h0M620.8 542.2h0M627.7 536.5h0M619.5 554.6h0M630.6 533.7h0M628.9 531.9h0M625.9 539.4h0M634.2 524.8h0M632.5 529.4h0M630.5 542.4h0M631.2 539.0h0M622.7 552.9h0M619.3 557.0h0M621.7 550.7h0M633.0 526.6h0M619.8 550.1h0M634.7 533.7h0M636.1 526.6h0M636.4 529.2h0M631.1 529.0h0M621.9 559.3h0M617.6 548.4h0M619.7 544.2h0M620.3 556.8h0M619.4 552.4h0M625.8 534.2h0M626.7 547.9h0M622.6 546.0h0M625.5 531.8h0M623.0 553.7h0M625.9 536.1h0M628.8 537.2h0M630.8 539.4h0M628.0 528.3h0M623.7 543.6h0M620.5 551.3h0M628.9 534.0h0M622.6 538.1h0M633.1 535.9h0M631.9 532.5h0M626.3 557.3h0M617.6 553.5h0M611.8 567.9h0M622.8 554.3h0M627.4 532.8h0M623.4 539.1h0M631.3 530.2h0M630.5 535.6h0M620.8 554.3h0M630.8 530.6h0M629.5 531.8h0M624.2 539.3h0M629.7 523.9h0M622.5 544.2h0M623.4 533.8h0M627.4 534.6h0M618.0 557.5h0M629.5 530.1h0M621.8 543.3h0M634.0 525.2h0M628.7 526.7h0M635.3 523.5h0M632.8 533.5h0M631.1 534.6h0M628.2 530.6h0M618.3 554.6h0M612.9 558.2h0M635.2 536.2h0M633.4 522.6h0M625.2 542.3h0M627.6 534.0h0M628.6 541.5h0M633.5 537.1h0M625.5 540.6h0M626.4 543.4h0" stroke="#f0f921" stroke-width="0.95" stroke-linecap="round" fill="none" opacity="0.85"/>
<path d="M525.9 517.7 L525.9 525.0 L533.2 528.0 L539.0 530.9 L543.4 533.8 L549.2 536.1 M539.0 530.9 L539.0 538.2 L534.6 544.0 L533.2 549.9 L537.6 554.2 L543.4 560.1 L547.8 568.8 L552.2 577.6 L555.1 586.4 L558.6 592.2 L562.4 592.8 L566.8 587.8 L571.1 585.8 L575.5 586.4 L577.0 579.9 L579.9 582.8 L581.9 584.0 L584.3 577.6 L587.8 574.7 L592.4 573.5 L596.5 571.8 L601.2 570.0 L605.3 568.2 L610.0 567.4 L613.5 564.7 L615.8 558.6" stroke="#3a3a3a" stroke-width="1.9" fill="none" stroke-linejoin="round" stroke-linecap="round"/>
<circle cx="526" cy="517.3" r="1.2" fill="none" stroke="#222" stroke-width="0.6"/>
<path d="M513.3 495.3V601.8H640.6" stroke="#555" stroke-width="0.6" fill="none"/>
<path d="M511.3 511.2H513.3" stroke="#555" stroke-width="0.5"/>
<text x="508.6" y="513.3" font-size="6.1" text-anchor="end" fill="#333" >5.0</text>
<path d="M511.3 532.7H513.3" stroke="#555" stroke-width="0.5"/>
<text x="508.6" y="534.8" font-size="6.1" text-anchor="end" fill="#333" >2.5</text>
<path d="M511.3 554.2H513.3" stroke="#555" stroke-width="0.5"/>
<text x="508.6" y="556.3" font-size="6.1" text-anchor="end" fill="#333" >0</text>
<path d="M511.3 575.7H513.3" stroke="#555" stroke-width="0.5"/>
<text x="508.6" y="577.8" font-size="6.1" text-anchor="end" fill="#333" >−2.5</text>
<path d="M511.3 597.2H513.3" stroke="#555" stroke-width="0.5"/>
<text x="508.6" y="599.3" font-size="6.1" text-anchor="end" fill="#333" >−5.0</text>
<path d="M513.4 601.8V603.8" stroke="#555" stroke-width="0.5"/>
<text x="513.4" y="611.3" font-size="6.1" text-anchor="middle" fill="#333" >−10</text>
<path d="M542.2 601.8V603.8" stroke="#555" stroke-width="0.5"/>
<text x="542.2" y="611.3" font-size="6.1" text-anchor="middle" fill="#333" >−5</text>
<path d="M571.1 601.8V603.8" stroke="#555" stroke-width="0.5"/>
<text x="571.1" y="611.3" font-size="6.1" text-anchor="middle" fill="#333" >0</text>
<path d="M600.0 601.8V603.8" stroke="#555" stroke-width="0.5"/>
<text x="600.0" y="611.3" font-size="6.1" text-anchor="middle" fill="#333" >5</text>
<path d="M628.8 601.8V603.8" stroke="#555" stroke-width="0.5"/>
<text x="628.8" y="611.3" font-size="6.1" text-anchor="middle" fill="#333" >10</text>
<text x="585.7" y="623.1" font-size="7.3" text-anchor="middle" fill="#231f20" >UMAP 1</text>
<text transform="translate(494.8,545.5) rotate(-90)" font-size="7.0" text-anchor="middle" fill="#231f20">UMAP 2</text>
<defs><linearGradient id="plg" x1="0" y1="1" x2="0" y2="0"><stop offset="0.000" stop-color="#0d0887"/><stop offset="0.143" stop-color="#5402a3"/><stop offset="0.286" stop-color="#8b0aa5"/><stop offset="0.429" stop-color="#b93791"/><stop offset="0.571" stop-color="#db5c68"/><stop offset="0.714" stop-color="#f48849"/><stop offset="0.857" stop-color="#febc2b"/><stop offset="1.000" stop-color="#f0f921"/></linearGradient></defs>
<rect x="645.6" y="539" width="5.2" height="22.5" fill="url(#plg)"/>
<text x="634.8" y="538.4" font-size="7.3" text-anchor="start" fill="#231f20" >Pseudotime</text>
<text x="653.3" y="546.7" font-size="6.1" text-anchor="start" fill="#333" >20</text>
<text x="653.3" y="554.9" font-size="6.1" text-anchor="start" fill="#333" >10</text>
<text x="653.3" y="563.1" font-size="6.1" text-anchor="start" fill="#333" >0</text>
<defs><linearGradient id="lg0"><stop offset="0.000" stop-color="#e45549"/><stop offset="0.056" stop-color="#ec6146"/><stop offset="0.111" stop-color="#f7824d"/><stop offset="0.167" stop-color="#fdb869"/><stop offset="0.222" stop-color="#fafdb7"/><stop offset="0.278" stop-color="#c3e79f"/><stop offset="0.333" stop-color="#8fd2a4"/><stop offset="0.389" stop-color="#6ec5a5"/><stop offset="0.444" stop-color="#64c0a6"/><stop offset="0.500" stop-color="#62bda7"/><stop offset="0.556" stop-color="#63bea7"/><stop offset="0.611" stop-color="#67c2a5"/><stop offset="0.667" stop-color="#93d3a4"/><stop offset="0.722" stop-color="#def29a"/><stop offset="0.778" stop-color="#feeb9d"/><stop offset="0.833" stop-color="#fb9e5a"/><stop offset="0.889" stop-color="#ed6246"/><stop offset="0.944" stop-color="#c8304c"/><stop offset="1.000" stop-color="#a70b44"/></linearGradient><linearGradient id="lg1"><stop offset="0.000" stop-color="#df4d4b"/><stop offset="0.056" stop-color="#eb5f47"/><stop offset="0.111" stop-color="#f8884f"/><stop offset="0.167" stop-color="#fed07d"/><stop offset="0.222" stop-color="#f6fbb0"/><stop offset="0.278" stop-color="#bae3a1"/><stop offset="0.333" stop-color="#90d2a4"/><stop offset="0.389" stop-color="#79caa5"/><stop offset="0.444" stop-color="#71c6a5"/><stop offset="0.500" stop-color="#71c6a5"/><stop offset="0.556" stop-color="#74c8a5"/><stop offset="0.611" stop-color="#88cfa5"/><stop offset="0.667" stop-color="#c5e89f"/><stop offset="0.722" stop-color="#fffab7"/><stop offset="0.778" stop-color="#fdaf62"/><stop offset="0.833" stop-color="#f57245"/><stop offset="0.889" stop-color="#d7414e"/><stop offset="0.944" stop-color="#a40844"/><stop offset="1.000" stop-color="#9e0142"/></linearGradient><linearGradient id="lg2"><stop offset="0.000" stop-color="#e55749"/><stop offset="0.056" stop-color="#f26a44"/><stop offset="0.111" stop-color="#fa9857"/><stop offset="0.167" stop-color="#fee796"/><stop offset="0.222" stop-color="#eaf69e"/><stop offset="0.278" stop-color="#a3daa4"/><stop offset="0.333" stop-color="#80cca5"/><stop offset="0.389" stop-color="#6dc5a5"/><stop offset="0.444" stop-color="#65c1a5"/><stop offset="0.500" stop-color="#65c1a5"/><stop offset="0.556" stop-color="#69c3a5"/><stop offset="0.611" stop-color="#82cda5"/><stop offset="0.667" stop-color="#bbe4a1"/><stop offset="0.722" stop-color="#ffffbf"/><stop offset="0.778" stop-color="#fdb668"/><stop offset="0.833" stop-color="#f57647"/><stop offset="0.889" stop-color="#d9444d"/><stop offset="0.944" stop-color="#ac1045"/><stop offset="1.000" stop-color="#9f0242"/></linearGradient><linearGradient id="lg3"><stop offset="0.000" stop-color="#fdbd6d"/><stop offset="0.056" stop-color="#fec978"/><stop offset="0.111" stop-color="#fede89"/><stop offset="0.167" stop-color="#fff2a9"/><stop offset="0.222" stop-color="#edf8a3"/><stop offset="0.278" stop-color="#bbe4a1"/><stop offset="0.333" stop-color="#92d3a4"/><stop offset="0.389" stop-color="#75c8a5"/><stop offset="0.444" stop-color="#6bc4a5"/><stop offset="0.500" stop-color="#6ac3a5"/><stop offset="0.556" stop-color="#6ec5a5"/><stop offset="0.611" stop-color="#7bcaa5"/><stop offset="0.667" stop-color="#aedea3"/><stop offset="0.722" stop-color="#f4fbae"/><stop offset="0.778" stop-color="#fed17f"/><stop offset="0.833" stop-color="#f88950"/><stop offset="0.889" stop-color="#e2524a"/><stop offset="0.944" stop-color="#b61b48"/><stop offset="1.000" stop-color="#9e0142"/></linearGradient><linearGradient id="lg4"><stop offset="0.000" stop-color="#9e0142"/><stop offset="0.056" stop-color="#ac1145"/><stop offset="0.111" stop-color="#d6404f"/><stop offset="0.167" stop-color="#f46c43"/><stop offset="0.222" stop-color="#fb9e5a"/><stop offset="0.278" stop-color="#fee18d"/><stop offset="0.333" stop-color="#fafdb7"/><stop offset="0.389" stop-color="#a9dca4"/><stop offset="0.444" stop-color="#7ecba5"/><stop offset="0.500" stop-color="#62bea7"/><stop offset="0.556" stop-color="#58b2ac"/><stop offset="0.611" stop-color="#61bda7"/><stop offset="0.667" stop-color="#85cea5"/><stop offset="0.722" stop-color="#c1e6a0"/><stop offset="0.778" stop-color="#fdfebb"/><stop offset="0.833" stop-color="#feca78"/><stop offset="0.889" stop-color="#f98e52"/><stop offset="0.944" stop-color="#f06844"/><stop offset="1.000" stop-color="#e65749"/></linearGradient><linearGradient id="lg5"><stop offset="0.000" stop-color="#9e0142"/><stop offset="0.056" stop-color="#9e0142"/><stop offset="0.111" stop-color="#c42b4b"/><stop offset="0.167" stop-color="#e85b48"/><stop offset="0.222" stop-color="#f88850"/><stop offset="0.278" stop-color="#fdc171"/><stop offset="0.333" stop-color="#fff4ad"/><stop offset="0.389" stop-color="#d5ee9b"/><stop offset="0.444" stop-color="#91d3a4"/><stop offset="0.500" stop-color="#6ec5a5"/><stop offset="0.556" stop-color="#5ebaa8"/><stop offset="0.611" stop-color="#64c0a6"/><stop offset="0.667" stop-color="#7fcca5"/><stop offset="0.722" stop-color="#b3e0a2"/><stop offset="0.778" stop-color="#f7fcb2"/><stop offset="0.833" stop-color="#fed683"/><stop offset="0.889" stop-color="#fa9656"/><stop offset="0.944" stop-color="#f26944"/><stop offset="1.000" stop-color="#e2524a"/></linearGradient><linearGradient id="lg6"><stop offset="0.000" stop-color="#9e0142"/><stop offset="0.056" stop-color="#a80c44"/><stop offset="0.111" stop-color="#d43d4f"/><stop offset="0.167" stop-color="#f16944"/><stop offset="0.222" stop-color="#fa9957"/><stop offset="0.278" stop-color="#fed885"/><stop offset="0.333" stop-color="#feffbe"/><stop offset="0.389" stop-color="#aedea3"/><stop offset="0.444" stop-color="#85cea5"/><stop offset="0.500" stop-color="#6ac4a5"/><stop offset="0.556" stop-color="#61bca7"/><stop offset="0.611" stop-color="#6cc4a5"/><stop offset="0.667" stop-color="#94d4a4"/><stop offset="0.722" stop-color="#dcf19a"/><stop offset="0.778" stop-color="#fff4ac"/><stop offset="0.833" stop-color="#fdb365"/><stop offset="0.889" stop-color="#f77f4b"/><stop offset="0.944" stop-color="#ea5e47"/><stop offset="1.000" stop-color="#e1504a"/></linearGradient><linearGradient id="lg7"><stop offset="0.000" stop-color="#9e0142"/><stop offset="0.056" stop-color="#a60a44"/><stop offset="0.111" stop-color="#d13a4e"/><stop offset="0.167" stop-color="#f06744"/><stop offset="0.222" stop-color="#fa9756"/><stop offset="0.278" stop-color="#fed884"/><stop offset="0.333" stop-color="#ffffbf"/><stop offset="0.389" stop-color="#b4e1a2"/><stop offset="0.444" stop-color="#85cea5"/><stop offset="0.500" stop-color="#68c3a5"/><stop offset="0.556" stop-color="#5cb7aa"/><stop offset="0.611" stop-color="#66c2a5"/><stop offset="0.667" stop-color="#8ad0a4"/><stop offset="0.722" stop-color="#c9e99e"/><stop offset="0.778" stop-color="#fffebd"/><stop offset="0.833" stop-color="#fdc373"/><stop offset="0.889" stop-color="#f88a50"/><stop offset="0.944" stop-color="#ee6445"/><stop offset="1.000" stop-color="#e3534a"/></linearGradient><linearGradient id="lg8"><stop offset="0.000" stop-color="#9e0142"/><stop offset="0.056" stop-color="#9e0142"/><stop offset="0.111" stop-color="#c42b4b"/><stop offset="0.167" stop-color="#e85b48"/><stop offset="0.222" stop-color="#f88950"/><stop offset="0.278" stop-color="#fdc171"/><stop offset="0.333" stop-color="#fff4ad"/><stop offset="0.389" stop-color="#d5ee9c"/><stop offset="0.444" stop-color="#91d3a4"/><stop offset="0.500" stop-color="#6ec5a5"/><stop offset="0.556" stop-color="#5eb9a9"/><stop offset="0.611" stop-color="#64bfa6"/><stop offset="0.667" stop-color="#7ecba5"/><stop offset="0.722" stop-color="#b1e0a3"/><stop offset="0.778" stop-color="#f6fbb1"/><stop offset="0.833" stop-color="#fed784"/><stop offset="0.889" stop-color="#fa9756"/><stop offset="0.944" stop-color="#f26a44"/><stop offset="1.000" stop-color="#e3534a"/></linearGradient><linearGradient id="lg9"><stop offset="0.000" stop-color="#a40843"/><stop offset="0.056" stop-color="#b31847"/><stop offset="0.111" stop-color="#da454d"/><stop offset="0.167" stop-color="#f57446"/><stop offset="0.222" stop-color="#fca65d"/><stop offset="0.278" stop-color="#fee99a"/><stop offset="0.333" stop-color="#f3faad"/><stop offset="0.389" stop-color="#a0d9a4"/><stop offset="0.444" stop-color="#75c8a5"/><stop offset="0.500" stop-color="#5cb7aa"/><stop offset="0.556" stop-color="#53adae"/><stop offset="0.611" stop-color="#5eb9a9"/><stop offset="0.667" stop-color="#85cea5"/><stop offset="0.722" stop-color="#ccea9d"/><stop offset="0.778" stop-color="#fff9b4"/><stop offset="0.833" stop-color="#fdc070"/><stop offset="0.889" stop-color="#f67b49"/><stop offset="0.944" stop-color="#dc484c"/><stop offset="1.000" stop-color="#b91f48"/></linearGradient><linearGradient id="lg10"><stop offset="0.000" stop-color="#9e0142"/><stop offset="0.056" stop-color="#aa0f45"/><stop offset="0.111" stop-color="#d53f4f"/><stop offset="0.167" stop-color="#f36b44"/><stop offset="0.222" stop-color="#fa9c59"/><stop offset="0.278" stop-color="#fede8a"/><stop offset="0.333" stop-color="#fcfeba"/><stop offset="0.389" stop-color="#aadda4"/><stop offset="0.444" stop-color="#81cda5"/><stop offset="0.500" stop-color="#67c2a5"/><stop offset="0.556" stop-color="#5fbaa8"/><stop offset="0.611" stop-color="#6cc4a5"/><stop offset="0.667" stop-color="#98d6a4"/><stop offset="0.722" stop-color="#e9f69d"/><stop offset="0.778" stop-color="#fee898"/><stop offset="0.833" stop-color="#fca85e"/><stop offset="0.889" stop-color="#f16944"/><stop offset="0.944" stop-color="#d0394e"/><stop offset="1.000" stop-color="#ad1145"/></linearGradient><linearGradient id="lg11"><stop offset="0.000" stop-color="#a60a44"/><stop offset="0.056" stop-color="#ab1045"/><stop offset="0.111" stop-color="#d43d4f"/><stop offset="0.167" stop-color="#f16844"/><stop offset="0.222" stop-color="#fa9b58"/><stop offset="0.278" stop-color="#fede89"/><stop offset="0.333" stop-color="#f9fdb6"/><stop offset="0.389" stop-color="#b3e0a2"/><stop offset="0.444" stop-color="#7dcba5"/><stop offset="0.500" stop-color="#5db8a9"/><stop offset="0.556" stop-color="#51abaf"/><stop offset="0.611" stop-color="#58b2ac"/><stop offset="0.667" stop-color="#71c6a5"/><stop offset="0.722" stop-color="#a9dca4"/><stop offset="0.778" stop-color="#f7fcb2"/><stop offset="0.833" stop-color="#fedb86"/><stop offset="0.889" stop-color="#f99154"/><stop offset="0.944" stop-color="#e65848"/><stop offset="1.000" stop-color="#bd2449"/></linearGradient><linearGradient id="lg12"><stop offset="0.000" stop-color="#aa0f45"/><stop offset="0.056" stop-color="#b91f48"/><stop offset="0.111" stop-color="#dd4b4c"/><stop offset="0.167" stop-color="#f67b4a"/><stop offset="0.222" stop-color="#fdad61"/><stop offset="0.278" stop-color="#fff0a6"/><stop offset="0.333" stop-color="#eef8a4"/><stop offset="0.389" stop-color="#99d6a4"/><stop offset="0.444" stop-color="#6dc5a5"/><stop offset="0.500" stop-color="#56b1ac"/><stop offset="0.556" stop-color="#4da6b1"/><stop offset="0.611" stop-color="#58b2ab"/><stop offset="0.667" stop-color="#7ccba5"/><stop offset="0.722" stop-color="#bde4a0"/><stop offset="0.778" stop-color="#feffbe"/><stop offset="0.833" stop-color="#fecc7a"/><stop offset="0.889" stop-color="#f7834d"/><stop offset="0.944" stop-color="#df4e4b"/><stop offset="1.000" stop-color="#bf264a"/></linearGradient><linearGradient id="lg13"><stop offset="0.000" stop-color="#9e0142"/><stop offset="0.056" stop-color="#ac1145"/><stop offset="0.111" stop-color="#d63f4f"/><stop offset="0.167" stop-color="#f46c43"/><stop offset="0.222" stop-color="#fb9e5a"/><stop offset="0.278" stop-color="#fee18d"/><stop offset="0.333" stop-color="#fafdb7"/><stop offset="0.389" stop-color="#a9dca4"/><stop offset="0.444" stop-color="#7dcba5"/><stop offset="0.500" stop-color="#62bea7"/><stop offset="0.556" stop-color="#59b3ab"/><stop offset="0.611" stop-color="#64c0a6"/><stop offset="0.667" stop-color="#8cd1a4"/><stop offset="0.722" stop-color="#d8ef9b"/><stop offset="0.778" stop-color="#fff2aa"/><stop offset="0.833" stop-color="#fdb567"/><stop offset="0.889" stop-color="#f57446"/><stop offset="0.944" stop-color="#d8434e"/><stop offset="1.000" stop-color="#b21847"/></linearGradient><linearGradient id="lg14"><stop offset="0.000" stop-color="#9e0142"/><stop offset="0.056" stop-color="#ab0f45"/><stop offset="0.111" stop-color="#d6404f"/><stop offset="0.167" stop-color="#f67a49"/><stop offset="0.222" stop-color="#fff0a5"/><stop offset="0.278" stop-color="#daf09a"/><stop offset="0.333" stop-color="#98d5a4"/><stop offset="0.389" stop-color="#77c9a5"/><stop offset="0.444" stop-color="#6dc5a5"/><stop offset="0.500" stop-color="#6dc5a5"/><stop offset="0.556" stop-color="#6dc5a5"/><stop offset="0.611" stop-color="#74c7a5"/><stop offset="0.667" stop-color="#9bd7a4"/><stop offset="0.722" stop-color="#eaf79e"/><stop offset="0.778" stop-color="#fee491"/><stop offset="0.833" stop-color="#fa9a58"/><stop offset="0.889" stop-color="#ea5e47"/><stop offset="0.944" stop-color="#d0384e"/><stop offset="1.000" stop-color="#af1346"/></linearGradient><linearGradient id="lg15"><stop offset="0.000" stop-color="#9e0142"/><stop offset="0.056" stop-color="#af1346"/><stop offset="0.111" stop-color="#dd4a4c"/><stop offset="0.167" stop-color="#f99053"/><stop offset="0.222" stop-color="#ffffbf"/><stop offset="0.278" stop-color="#c7e89e"/><stop offset="0.333" stop-color="#8fd2a4"/><stop offset="0.389" stop-color="#79c9a5"/><stop offset="0.444" stop-color="#71c6a5"/><stop offset="0.500" stop-color="#71c6a5"/><stop offset="0.556" stop-color="#71c6a5"/><stop offset="0.611" stop-color="#84cea5"/><stop offset="0.667" stop-color="#afdfa3"/><stop offset="0.722" stop-color="#fafdb7"/><stop offset="0.778" stop-color="#fdc675"/><stop offset="0.833" stop-color="#f7824d"/><stop offset="0.889" stop-color="#df4d4b"/><stop offset="0.944" stop-color="#c2294a"/><stop offset="1.000" stop-color="#ab0f45"/></linearGradient><linearGradient id="lg16"><stop offset="0.000" stop-color="#fdc071"/><stop offset="0.056" stop-color="#fed17e"/><stop offset="0.111" stop-color="#fee797"/><stop offset="0.167" stop-color="#feffbe"/><stop offset="0.222" stop-color="#ebf7a1"/><stop offset="0.278" stop-color="#d1ec9c"/><stop offset="0.333" stop-color="#abdda4"/><stop offset="0.389" stop-color="#8dd1a4"/><stop offset="0.444" stop-color="#84cea5"/><stop offset="0.500" stop-color="#7dcba5"/><stop offset="0.556" stop-color="#7ccba5"/><stop offset="0.611" stop-color="#7ccba5"/><stop offset="0.667" stop-color="#bce4a1"/><stop offset="0.722" stop-color="#fff9b5"/><stop offset="0.778" stop-color="#fdbb6c"/><stop offset="0.833" stop-color="#f7854e"/><stop offset="0.889" stop-color="#e1504a"/><stop offset="0.944" stop-color="#ad1246"/><stop offset="1.000" stop-color="#9e0142"/></linearGradient><linearGradient id="lg17"><stop offset="0.000" stop-color="#eef8a5"/><stop offset="0.056" stop-color="#e7f69a"/><stop offset="0.111" stop-color="#d4ee9c"/><stop offset="0.167" stop-color="#bfe5a0"/><stop offset="0.222" stop-color="#aadda4"/><stop offset="0.278" stop-color="#9cd7a4"/><stop offset="0.333" stop-color="#8dd1a4"/><stop offset="0.389" stop-color="#80cca5"/><stop offset="0.444" stop-color="#88cfa5"/><stop offset="0.500" stop-color="#90d2a4"/><stop offset="0.556" stop-color="#98d6a4"/><stop offset="0.611" stop-color="#ceeb9d"/><stop offset="0.667" stop-color="#feeda1"/><stop offset="0.722" stop-color="#fba05a"/><stop offset="0.778" stop-color="#f7804c"/><stop offset="0.833" stop-color="#e95c47"/><stop offset="0.889" stop-color="#c9314c"/><stop offset="0.944" stop-color="#9e0142"/><stop offset="1.000" stop-color="#9e0142"/></linearGradient><linearGradient id="lg18"><stop offset="0.000" stop-color="#a9dca4"/><stop offset="0.056" stop-color="#a7dba4"/><stop offset="0.111" stop-color="#a5dba4"/><stop offset="0.167" stop-color="#a3daa4"/><stop offset="0.222" stop-color="#a1d9a4"/><stop offset="0.278" stop-color="#9fd8a4"/><stop offset="0.333" stop-color="#9dd7a4"/><stop offset="0.389" stop-color="#a4daa4"/><stop offset="0.444" stop-color="#b6e2a2"/><stop offset="0.500" stop-color="#d9f09b"/><stop offset="0.556" stop-color="#f4faad"/><stop offset="0.611" stop-color="#feec9e"/><stop offset="0.667" stop-color="#fdad61"/><stop offset="0.722" stop-color="#f99354"/><stop offset="0.778" stop-color="#f67848"/><stop offset="0.833" stop-color="#e65848"/><stop offset="0.889" stop-color="#c9314c"/><stop offset="0.944" stop-color="#9f0242"/><stop offset="1.000" stop-color="#9f0242"/></linearGradient><linearGradient id="lg19"><stop offset="0.000" stop-color="#bae3a1"/><stop offset="0.056" stop-color="#b6e2a2"/><stop offset="0.111" stop-color="#b3e0a2"/><stop offset="0.167" stop-color="#afdfa3"/><stop offset="0.222" stop-color="#acdda4"/><stop offset="0.278" stop-color="#a9dca4"/><stop offset="0.333" stop-color="#a7dca4"/><stop offset="0.389" stop-color="#b2e0a3"/><stop offset="0.444" stop-color="#c9e99e"/><stop offset="0.500" stop-color="#e8f69c"/><stop offset="0.556" stop-color="#fcfeba"/><stop offset="0.611" stop-color="#fee18d"/><stop offset="0.667" stop-color="#fba35c"/><stop offset="0.722" stop-color="#f88850"/><stop offset="0.778" stop-color="#f46e43"/><stop offset="0.833" stop-color="#e1514a"/><stop offset="0.889" stop-color="#c0264a"/><stop offset="0.944" stop-color="#9e0142"/><stop offset="1.000" stop-color="#9e0142"/></linearGradient><linearGradient id="lg20"><stop offset="0.000" stop-color="#3f78b5"/><stop offset="0.056" stop-color="#3387bc"/><stop offset="0.111" stop-color="#4097b7"/><stop offset="0.167" stop-color="#56b0ac"/><stop offset="0.222" stop-color="#68c3a5"/><stop offset="0.278" stop-color="#7bcaa5"/><stop offset="0.333" stop-color="#9cd7a4"/><stop offset="0.389" stop-color="#d6ee9b"/><stop offset="0.444" stop-color="#fcfeba"/><stop offset="0.500" stop-color="#feea9b"/><stop offset="0.556" stop-color="#fec978"/><stop offset="0.611" stop-color="#fba25b"/><stop offset="0.667" stop-color="#f7834d"/><stop offset="0.722" stop-color="#f47145"/><stop offset="0.778" stop-color="#f67f4b"/><stop offset="0.833" stop-color="#fa9a58"/><stop offset="0.889" stop-color="#fdb466"/><stop offset="0.944" stop-color="#fed985"/><stop offset="1.000" stop-color="#fedf8a"/></linearGradient><linearGradient id="lg21"><stop offset="0.000" stop-color="#9e0142"/><stop offset="0.056" stop-color="#b11647"/><stop offset="0.111" stop-color="#db474d"/><stop offset="0.167" stop-color="#ed6246"/><stop offset="0.222" stop-color="#f67e4b"/><stop offset="0.278" stop-color="#fb9d59"/><stop offset="0.333" stop-color="#fecb79"/><stop offset="0.389" stop-color="#fff4ad"/><stop offset="0.444" stop-color="#f0f9a7"/><stop offset="0.500" stop-color="#cae99e"/><stop offset="0.556" stop-color="#a9dca4"/><stop offset="0.611" stop-color="#95d4a4"/><stop offset="0.667" stop-color="#89d0a4"/><stop offset="0.722" stop-color="#85cea5"/><stop offset="0.778" stop-color="#8ad0a4"/><stop offset="0.833" stop-color="#93d3a4"/><stop offset="0.889" stop-color="#9cd7a4"/><stop offset="0.944" stop-color="#a9dca4"/><stop offset="1.000" stop-color="#bbe3a1"/></linearGradient><linearGradient id="lg22"><stop offset="0.000" stop-color="#a80c44"/><stop offset="0.056" stop-color="#bd2349"/><stop offset="0.111" stop-color="#e3534a"/><stop offset="0.167" stop-color="#f46f44"/><stop offset="0.222" stop-color="#f98f53"/><stop offset="0.278" stop-color="#fdaf62"/><stop offset="0.333" stop-color="#fee390"/><stop offset="0.389" stop-color="#fafdb7"/><stop offset="0.444" stop-color="#dcf19a"/><stop offset="0.500" stop-color="#a9dca4"/><stop offset="0.556" stop-color="#95d4a4"/><stop offset="0.611" stop-color="#81cda5"/><stop offset="0.667" stop-color="#74c7a5"/><stop offset="0.722" stop-color="#70c6a5"/><stop offset="0.778" stop-color="#74c7a5"/><stop offset="0.833" stop-color="#7ccba5"/><stop offset="0.889" stop-color="#85cea5"/><stop offset="0.944" stop-color="#92d3a4"/><stop offset="1.000" stop-color="#9ed8a4"/></linearGradient><linearGradient id="lg23"><stop offset="0.000" stop-color="#aa0e45"/><stop offset="0.056" stop-color="#b21847"/><stop offset="0.111" stop-color="#de4c4b"/><stop offset="0.167" stop-color="#f06745"/><stop offset="0.222" stop-color="#f8874f"/><stop offset="0.278" stop-color="#fca75e"/><stop offset="0.333" stop-color="#fed682"/><stop offset="0.389" stop-color="#fffdbc"/><stop offset="0.444" stop-color="#e8f69b"/><stop offset="0.500" stop-color="#b2e0a3"/><stop offset="0.556" stop-color="#99d6a4"/><stop offset="0.611" stop-color="#85cea5"/><stop offset="0.667" stop-color="#73c7a5"/><stop offset="0.722" stop-color="#6fc5a5"/><stop offset="0.778" stop-color="#6fc5a5"/><stop offset="0.833" stop-color="#77c9a5"/><stop offset="0.889" stop-color="#80cca5"/><stop offset="0.944" stop-color="#8cd1a4"/><stop offset="1.000" stop-color="#98d6a4"/></linearGradient><linearGradient id="lg24"><stop offset="0.000" stop-color="#9e0142"/><stop offset="0.056" stop-color="#9e0142"/><stop offset="0.111" stop-color="#cf384e"/><stop offset="0.167" stop-color="#e45449"/><stop offset="0.222" stop-color="#f46d43"/><stop offset="0.278" stop-color="#f88c52"/><stop offset="0.333" stop-color="#fdae61"/><stop offset="0.389" stop-color="#fee593"/><stop offset="0.444" stop-color="#fcfebb"/><stop offset="0.500" stop-color="#e2f399"/><stop offset="0.556" stop-color="#bee5a0"/><stop offset="0.611" stop-color="#a2daa4"/><stop offset="0.667" stop-color="#91d3a4"/><stop offset="0.722" stop-color="#8dd1a4"/><stop offset="0.778" stop-color="#8ed2a4"/><stop offset="0.833" stop-color="#96d5a4"/><stop offset="0.889" stop-color="#9fd8a4"/><stop offset="0.944" stop-color="#abdda4"/><stop offset="1.000" stop-color="#c0e5a0"/></linearGradient><linearGradient id="lg25"><stop offset="0.000" stop-color="#be254a"/><stop offset="0.056" stop-color="#cc344d"/><stop offset="0.111" stop-color="#da464d"/><stop offset="0.167" stop-color="#e35449"/><stop offset="0.222" stop-color="#ec6146"/><stop offset="0.278" stop-color="#f67848"/><stop offset="0.333" stop-color="#fa9656"/><stop offset="0.389" stop-color="#fdba6b"/><stop offset="0.444" stop-color="#fee99b"/><stop offset="0.500" stop-color="#f6fbb1"/><stop offset="0.556" stop-color="#eaf69e"/><stop offset="0.611" stop-color="#d2ed9c"/><stop offset="0.667" stop-color="#b5e1a2"/><stop offset="0.722" stop-color="#a0d9a4"/><stop offset="0.778" stop-color="#99d6a4"/><stop offset="0.833" stop-color="#9bd7a4"/><stop offset="0.889" stop-color="#9fd8a4"/><stop offset="0.944" stop-color="#b0dfa3"/><stop offset="1.000" stop-color="#cbea9e"/></linearGradient><linearGradient id="lg26"><stop offset="0.000" stop-color="#d13a4e"/><stop offset="0.056" stop-color="#dd4a4c"/><stop offset="0.111" stop-color="#e75948"/><stop offset="0.167" stop-color="#f06645"/><stop offset="0.222" stop-color="#f57748"/><stop offset="0.278" stop-color="#f99555"/><stop offset="0.333" stop-color="#fdb466"/><stop offset="0.389" stop-color="#fee492"/><stop offset="0.444" stop-color="#fafdb7"/><stop offset="0.500" stop-color="#ddf19a"/><stop offset="0.556" stop-color="#c0e6a0"/><stop offset="0.611" stop-color="#a6dba4"/><stop offset="0.667" stop-color="#96d5a4"/><stop offset="0.722" stop-color="#85cea5"/><stop offset="0.778" stop-color="#81cda5"/><stop offset="0.833" stop-color="#84cea5"/><stop offset="0.889" stop-color="#8ad0a4"/><stop offset="0.944" stop-color="#99d6a4"/><stop offset="1.000" stop-color="#a8dca4"/></linearGradient><linearGradient id="lg27"><stop offset="0.000" stop-color="#c42b4b"/><stop offset="0.056" stop-color="#d63f4f"/><stop offset="0.111" stop-color="#df4e4b"/><stop offset="0.167" stop-color="#e85b47"/><stop offset="0.222" stop-color="#f26a44"/><stop offset="0.278" stop-color="#f7864e"/><stop offset="0.333" stop-color="#fca35c"/><stop offset="0.389" stop-color="#fed07e"/><stop offset="0.444" stop-color="#fff7b2"/><stop offset="0.500" stop-color="#eef8a4"/><stop offset="0.556" stop-color="#dcf19a"/><stop offset="0.611" stop-color="#bfe5a0"/><stop offset="0.667" stop-color="#a6dba4"/><stop offset="0.722" stop-color="#95d4a4"/><stop offset="0.778" stop-color="#92d3a4"/><stop offset="0.833" stop-color="#95d4a4"/><stop offset="0.889" stop-color="#9cd7a4"/><stop offset="0.944" stop-color="#abdda4"/><stop offset="1.000" stop-color="#c4e79f"/></linearGradient><linearGradient id="lg28"><stop offset="0.000" stop-color="#c2294b"/><stop offset="0.056" stop-color="#cc344d"/><stop offset="0.111" stop-color="#d7424e"/><stop offset="0.167" stop-color="#e1504a"/><stop offset="0.222" stop-color="#f36c43"/><stop offset="0.278" stop-color="#f88850"/><stop offset="0.333" stop-color="#fca55d"/><stop offset="0.389" stop-color="#fecc7a"/><stop offset="0.444" stop-color="#fff7b2"/><stop offset="0.500" stop-color="#f0f9a8"/><stop offset="0.556" stop-color="#d2ed9c"/><stop offset="0.611" stop-color="#a6dba4"/><stop offset="0.667" stop-color="#8bd1a4"/><stop offset="0.722" stop-color="#7dcba5"/><stop offset="0.778" stop-color="#7acaa5"/><stop offset="0.833" stop-color="#78c9a5"/><stop offset="0.889" stop-color="#75c8a5"/><stop offset="0.944" stop-color="#73c7a5"/><stop offset="1.000" stop-color="#71c6a5"/></linearGradient><linearGradient id="lg29"><stop offset="0.000" stop-color="#cb334d"/><stop offset="0.056" stop-color="#d33c4f"/><stop offset="0.111" stop-color="#db484d"/><stop offset="0.167" stop-color="#e45449"/><stop offset="0.222" stop-color="#f47045"/><stop offset="0.278" stop-color="#f98f53"/><stop offset="0.333" stop-color="#fdab60"/><stop offset="0.389" stop-color="#fed582"/><stop offset="0.444" stop-color="#fffcba"/><stop offset="0.500" stop-color="#eaf79f"/><stop offset="0.556" stop-color="#c5e89f"/><stop offset="0.611" stop-color="#9fd8a4"/><stop offset="0.667" stop-color="#84cea5"/><stop offset="0.722" stop-color="#71c6a5"/><stop offset="0.778" stop-color="#6fc5a5"/><stop offset="0.833" stop-color="#6dc5a5"/><stop offset="0.889" stop-color="#6ac4a5"/><stop offset="0.944" stop-color="#68c3a5"/><stop offset="1.000" stop-color="#65c1a5"/></linearGradient><linearGradient id="lg30"><stop offset="0.000" stop-color="#cb334d"/><stop offset="0.056" stop-color="#d7414e"/><stop offset="0.111" stop-color="#de4c4b"/><stop offset="0.167" stop-color="#ea5e47"/><stop offset="0.222" stop-color="#f67e4b"/><stop offset="0.278" stop-color="#fa9a58"/><stop offset="0.333" stop-color="#fdba6b"/><stop offset="0.389" stop-color="#fee695"/><stop offset="0.444" stop-color="#f7fcb2"/><stop offset="0.500" stop-color="#e0f399"/><stop offset="0.556" stop-color="#b4e1a2"/><stop offset="0.611" stop-color="#95d4a4"/><stop offset="0.667" stop-color="#7acaa5"/><stop offset="0.722" stop-color="#71c6a5"/><stop offset="0.778" stop-color="#6ec5a5"/><stop offset="0.833" stop-color="#6cc4a5"/><stop offset="0.889" stop-color="#69c3a5"/><stop offset="0.944" stop-color="#67c2a5"/><stop offset="1.000" stop-color="#65c1a6"/></linearGradient><linearGradient id="lg31"><stop offset="0.000" stop-color="#ed6246"/><stop offset="0.056" stop-color="#ee6445"/><stop offset="0.111" stop-color="#ef6545"/><stop offset="0.167" stop-color="#f06645"/><stop offset="0.222" stop-color="#f57245"/><stop offset="0.278" stop-color="#f7824d"/><stop offset="0.333" stop-color="#fa9957"/><stop offset="0.389" stop-color="#fcaa5f"/><stop offset="0.444" stop-color="#fdbf70"/><stop offset="0.500" stop-color="#fee796"/><stop offset="0.556" stop-color="#fffab6"/><stop offset="0.611" stop-color="#f7fcb3"/><stop offset="0.667" stop-color="#eaf79e"/><stop offset="0.722" stop-color="#cdeb9d"/><stop offset="0.778" stop-color="#93d4a4"/><stop offset="0.833" stop-color="#68c3a5"/><stop offset="0.889" stop-color="#4fa8b0"/><stop offset="0.944" stop-color="#348abc"/><stop offset="1.000" stop-color="#466db0"/></linearGradient><linearGradient id="lg32"><stop offset="0.000" stop-color="#ed6346"/><stop offset="0.056" stop-color="#ee6445"/><stop offset="0.111" stop-color="#ef6545"/><stop offset="0.167" stop-color="#f16844"/><stop offset="0.222" stop-color="#f57547"/><stop offset="0.278" stop-color="#f7854e"/><stop offset="0.333" stop-color="#fb9e5a"/><stop offset="0.389" stop-color="#fdad61"/><stop offset="0.444" stop-color="#fec877"/><stop offset="0.500" stop-color="#feec9f"/><stop offset="0.556" stop-color="#fffdbc"/><stop offset="0.611" stop-color="#f5fbaf"/><stop offset="0.667" stop-color="#e7f599"/><stop offset="0.722" stop-color="#c6e89f"/><stop offset="0.778" stop-color="#89d0a4"/><stop offset="0.833" stop-color="#63bea7"/><stop offset="0.889" stop-color="#4aa2b2"/><stop offset="0.944" stop-color="#3584bb"/><stop offset="1.000" stop-color="#476db0"/></linearGradient><linearGradient id="lg33"><stop offset="0.000" stop-color="#f16944"/><stop offset="0.056" stop-color="#f26a44"/><stop offset="0.111" stop-color="#f36b43"/><stop offset="0.167" stop-color="#f46d43"/><stop offset="0.222" stop-color="#f57446"/><stop offset="0.278" stop-color="#f7844e"/><stop offset="0.333" stop-color="#fa9756"/><stop offset="0.389" stop-color="#fdad60"/><stop offset="0.444" stop-color="#fdc373"/><stop offset="0.500" stop-color="#fee391"/><stop offset="0.556" stop-color="#fffcba"/><stop offset="0.611" stop-color="#f5fbb0"/><stop offset="0.667" stop-color="#e9f69d"/><stop offset="0.722" stop-color="#ccea9d"/><stop offset="0.778" stop-color="#a0d9a4"/><stop offset="0.833" stop-color="#6ec5a5"/><stop offset="0.889" stop-color="#53acae"/><stop offset="0.944" stop-color="#3a91b9"/><stop offset="1.000" stop-color="#4470b2"/></linearGradient><linearGradient id="lg34"><stop offset="0.000" stop-color="#f46f44"/><stop offset="0.056" stop-color="#f57145"/><stop offset="0.111" stop-color="#f57346"/><stop offset="0.167" stop-color="#f57747"/><stop offset="0.222" stop-color="#f7864f"/><stop offset="0.278" stop-color="#fa9656"/><stop offset="0.333" stop-color="#fdb062"/><stop offset="0.389" stop-color="#fdc776"/><stop offset="0.444" stop-color="#fee28e"/><stop offset="0.500" stop-color="#fffdbb"/><stop offset="0.556" stop-color="#f4faad"/><stop offset="0.611" stop-color="#e8f69b"/><stop offset="0.667" stop-color="#c9e99e"/><stop offset="0.722" stop-color="#a7dba4"/><stop offset="0.778" stop-color="#75c8a5"/><stop offset="0.833" stop-color="#55afad"/><stop offset="0.889" stop-color="#3c93b9"/><stop offset="0.944" stop-color="#4174b4"/><stop offset="1.000" stop-color="#515faa"/></linearGradient><linearGradient id="lg35"><stop offset="0.000" stop-color="#f67a49"/><stop offset="0.056" stop-color="#f67b4a"/><stop offset="0.111" stop-color="#f67d4b"/><stop offset="0.167" stop-color="#f77f4b"/><stop offset="0.222" stop-color="#f88a50"/><stop offset="0.278" stop-color="#fa9957"/><stop offset="0.333" stop-color="#fdae61"/><stop offset="0.389" stop-color="#fecd7b"/><stop offset="0.444" stop-color="#fee28f"/><stop offset="0.500" stop-color="#fffab6"/><stop offset="0.556" stop-color="#f1f9a9"/><stop offset="0.611" stop-color="#e4f498"/><stop offset="0.667" stop-color="#c6e89f"/><stop offset="0.722" stop-color="#a7dba4"/><stop offset="0.778" stop-color="#83cda5"/><stop offset="0.833" stop-color="#58b3ab"/><stop offset="0.889" stop-color="#3f97b7"/><stop offset="0.944" stop-color="#3c7bb7"/><stop offset="1.000" stop-color="#555aa7"/></linearGradient><linearGradient id="lg36"><stop offset="0.000" stop-color="#f67a49"/><stop offset="0.056" stop-color="#f67c4a"/><stop offset="0.111" stop-color="#f67e4b"/><stop offset="0.167" stop-color="#f7804c"/><stop offset="0.222" stop-color="#f98f53"/><stop offset="0.278" stop-color="#fb9e5a"/><stop offset="0.333" stop-color="#fdba6b"/><stop offset="0.389" stop-color="#fed481"/><stop offset="0.444" stop-color="#fee898"/><stop offset="0.500" stop-color="#fcfeba"/><stop offset="0.556" stop-color="#edf8a3"/><stop offset="0.611" stop-color="#daf09a"/><stop offset="0.667" stop-color="#bbe3a1"/><stop offset="0.722" stop-color="#a0d9a4"/><stop offset="0.778" stop-color="#73c7a5"/><stop offset="0.833" stop-color="#50aaaf"/><stop offset="0.889" stop-color="#378ebb"/><stop offset="0.944" stop-color="#4470b2"/><stop offset="1.000" stop-color="#5955a5"/></linearGradient><linearGradient id="lg37"><stop offset="0.000" stop-color="#d53e4f"/><stop offset="0.056" stop-color="#da464d"/><stop offset="0.111" stop-color="#e2524a"/><stop offset="0.167" stop-color="#ea5e47"/><stop offset="0.222" stop-color="#f36b44"/><stop offset="0.278" stop-color="#f67f4b"/><stop offset="0.333" stop-color="#f99455"/><stop offset="0.389" stop-color="#fca85e"/><stop offset="0.444" stop-color="#fdc575"/><stop offset="0.500" stop-color="#fee391"/><stop offset="0.556" stop-color="#fff7b1"/><stop offset="0.611" stop-color="#f7fcb3"/><stop offset="0.667" stop-color="#e9f69c"/><stop offset="0.722" stop-color="#c3e79f"/><stop offset="0.778" stop-color="#9fd8a4"/><stop offset="0.833" stop-color="#83cda5"/><stop offset="0.889" stop-color="#67c2a5"/><stop offset="0.944" stop-color="#59b3ab"/><stop offset="1.000" stop-color="#4ba4b2"/></linearGradient><linearGradient id="lg38"><stop offset="0.000" stop-color="#d7424e"/><stop offset="0.056" stop-color="#dc494c"/><stop offset="0.111" stop-color="#e45549"/><stop offset="0.167" stop-color="#ec6146"/><stop offset="0.222" stop-color="#f46e43"/><stop offset="0.278" stop-color="#f7834d"/><stop offset="0.333" stop-color="#fa9757"/><stop offset="0.389" stop-color="#fdac60"/><stop offset="0.444" stop-color="#fecb79"/><stop offset="0.500" stop-color="#fee797"/><stop offset="0.556" stop-color="#fffab7"/><stop offset="0.611" stop-color="#f4fbae"/><stop offset="0.667" stop-color="#e5f598"/><stop offset="0.722" stop-color="#bde4a0"/><stop offset="0.778" stop-color="#9cd7a4"/><stop offset="0.833" stop-color="#80cca5"/><stop offset="0.889" stop-color="#64c0a6"/><stop offset="0.944" stop-color="#55afad"/><stop offset="1.000" stop-color="#48a0b3"/></linearGradient><linearGradient id="lg39"><stop offset="0.000" stop-color="#e2514a"/><stop offset="0.056" stop-color="#e95c47"/><stop offset="0.111" stop-color="#f16844"/><stop offset="0.167" stop-color="#f57647"/><stop offset="0.222" stop-color="#f88950"/><stop offset="0.278" stop-color="#fb9e5a"/><stop offset="0.333" stop-color="#fdb667"/><stop offset="0.389" stop-color="#fed582"/><stop offset="0.444" stop-color="#feeda1"/><stop offset="0.500" stop-color="#fdfebc"/><stop offset="0.556" stop-color="#eef8a4"/><stop offset="0.611" stop-color="#d7ef9b"/><stop offset="0.667" stop-color="#b3e0a2"/><stop offset="0.722" stop-color="#98d5a4"/><stop offset="0.778" stop-color="#7dcba5"/><stop offset="0.833" stop-color="#62bda7"/><stop offset="0.889" stop-color="#4ea7b0"/><stop offset="0.944" stop-color="#4098b6"/><stop offset="1.000" stop-color="#3288bd"/></linearGradient><linearGradient id="lg40"><stop offset="0.000" stop-color="#9e0142"/><stop offset="0.056" stop-color="#9e0142"/><stop offset="0.111" stop-color="#ce364d"/><stop offset="0.167" stop-color="#f46d43"/><stop offset="0.222" stop-color="#fcaa5f"/><stop offset="0.278" stop-color="#fee593"/><stop offset="0.333" stop-color="#f9fdb6"/><stop offset="0.389" stop-color="#d4ee9c"/><stop offset="0.444" stop-color="#9bd7a4"/><stop offset="0.500" stop-color="#7bcaa5"/><stop offset="0.556" stop-color="#74c8a5"/><stop offset="0.611" stop-color="#70c6a5"/><stop offset="0.667" stop-color="#7ecba5"/><stop offset="0.722" stop-color="#8cd1a4"/><stop offset="0.778" stop-color="#bbe3a1"/><stop offset="0.833" stop-color="#ecf7a1"/><stop offset="0.889" stop-color="#fffcba"/><stop offset="0.944" stop-color="#fee28e"/><stop offset="1.000" stop-color="#fec978"/></linearGradient><linearGradient id="lg41"><stop offset="0.000" stop-color="#aa0f45"/><stop offset="0.056" stop-color="#aa0f45"/><stop offset="0.111" stop-color="#d43c4f"/><stop offset="0.167" stop-color="#f57446"/><stop offset="0.222" stop-color="#fdb769"/><stop offset="0.278" stop-color="#fff2a9"/><stop offset="0.333" stop-color="#edf8a4"/><stop offset="0.389" stop-color="#bae3a1"/><stop offset="0.444" stop-color="#8cd1a4"/><stop offset="0.500" stop-color="#65c1a6"/><stop offset="0.556" stop-color="#60bba8"/><stop offset="0.611" stop-color="#5bb5aa"/><stop offset="0.667" stop-color="#63bfa6"/><stop offset="0.722" stop-color="#70c6a5"/><stop offset="0.778" stop-color="#93d3a4"/><stop offset="0.833" stop-color="#bee5a0"/><stop offset="0.889" stop-color="#ebf79f"/><stop offset="0.944" stop-color="#fffebd"/><stop offset="1.000" stop-color="#feeb9d"/></linearGradient><linearGradient id="lg42"><stop offset="0.000" stop-color="#a90d45"/><stop offset="0.056" stop-color="#be254a"/><stop offset="0.111" stop-color="#e95d47"/><stop offset="0.167" stop-color="#fa9b58"/><stop offset="0.222" stop-color="#fee18c"/><stop offset="0.278" stop-color="#f8fcb4"/><stop offset="0.333" stop-color="#d7ef9b"/><stop offset="0.389" stop-color="#9dd8a4"/><stop offset="0.444" stop-color="#75c8a5"/><stop offset="0.500" stop-color="#63bfa6"/><stop offset="0.556" stop-color="#5eb9a9"/><stop offset="0.611" stop-color="#61bca7"/><stop offset="0.667" stop-color="#6dc5a5"/><stop offset="0.722" stop-color="#86cea5"/><stop offset="0.778" stop-color="#aedea3"/><stop offset="0.833" stop-color="#e1f399"/><stop offset="0.889" stop-color="#fafdb7"/><stop offset="0.944" stop-color="#feeea3"/><stop offset="1.000" stop-color="#fee695"/></linearGradient><linearGradient id="lg43"><stop offset="0.000" stop-color="#a80c44"/><stop offset="0.056" stop-color="#a80c44"/><stop offset="0.111" stop-color="#ca324c"/><stop offset="0.167" stop-color="#f16944"/><stop offset="0.222" stop-color="#fca95e"/><stop offset="0.278" stop-color="#fee99b"/><stop offset="0.333" stop-color="#f3faac"/><stop offset="0.389" stop-color="#c8e99e"/><stop offset="0.444" stop-color="#94d4a4"/><stop offset="0.500" stop-color="#6dc5a5"/><stop offset="0.556" stop-color="#62bea7"/><stop offset="0.611" stop-color="#5eb9a9"/><stop offset="0.667" stop-color="#64c0a6"/><stop offset="0.722" stop-color="#71c6a5"/><stop offset="0.778" stop-color="#90d2a4"/><stop offset="0.833" stop-color="#bce4a1"/><stop offset="0.889" stop-color="#eaf69e"/><stop offset="0.944" stop-color="#ffffbe"/><stop offset="1.000" stop-color="#feea9c"/></linearGradient><linearGradient id="lg44"><stop offset="0.000" stop-color="#9f0242"/><stop offset="0.056" stop-color="#a30743"/><stop offset="0.111" stop-color="#d8434e"/><stop offset="0.167" stop-color="#f67b49"/><stop offset="0.222" stop-color="#fdba6b"/><stop offset="0.278" stop-color="#fff0a7"/><stop offset="0.333" stop-color="#f1f9a9"/><stop offset="0.389" stop-color="#bfe5a0"/><stop offset="0.444" stop-color="#8fd2a4"/><stop offset="0.500" stop-color="#71c6a5"/><stop offset="0.556" stop-color="#6ac4a5"/><stop offset="0.611" stop-color="#68c3a5"/><stop offset="0.667" stop-color="#75c8a5"/><stop offset="0.722" stop-color="#86cfa5"/><stop offset="0.778" stop-color="#b0dfa3"/><stop offset="0.833" stop-color="#ecf7a1"/><stop offset="0.889" stop-color="#fff0a6"/><stop offset="0.944" stop-color="#fdb264"/><stop offset="1.000" stop-color="#f8884f"/></linearGradient><linearGradient id="lg45"><stop offset="0.000" stop-color="#a80c44"/><stop offset="0.056" stop-color="#a80c44"/><stop offset="0.111" stop-color="#cb334d"/><stop offset="0.167" stop-color="#f26a44"/><stop offset="0.222" stop-color="#fcaa5f"/><stop offset="0.278" stop-color="#feea9c"/><stop offset="0.333" stop-color="#f3faac"/><stop offset="0.389" stop-color="#c7e99e"/><stop offset="0.444" stop-color="#94d4a4"/><stop offset="0.500" stop-color="#6cc4a5"/><stop offset="0.556" stop-color="#63bfa6"/><stop offset="0.611" stop-color="#5eb9a9"/><stop offset="0.667" stop-color="#65c1a5"/><stop offset="0.722" stop-color="#72c7a5"/><stop offset="0.778" stop-color="#92d3a4"/><stop offset="0.833" stop-color="#c4e79f"/><stop offset="0.889" stop-color="#f4fbaf"/><stop offset="0.944" stop-color="#fee08b"/><stop offset="1.000" stop-color="#fba15b"/></linearGradient><linearGradient id="lg46"><stop offset="0.000" stop-color="#9e0142"/><stop offset="0.056" stop-color="#a10443"/><stop offset="0.111" stop-color="#d7424e"/><stop offset="0.167" stop-color="#f67848"/><stop offset="0.222" stop-color="#fdb365"/><stop offset="0.278" stop-color="#feec9f"/><stop offset="0.333" stop-color="#f5fbb0"/><stop offset="0.389" stop-color="#c8e99e"/><stop offset="0.444" stop-color="#94d4a4"/><stop offset="0.500" stop-color="#7acaa5"/><stop offset="0.556" stop-color="#73c7a5"/><stop offset="0.611" stop-color="#73c7a5"/><stop offset="0.667" stop-color="#81cca5"/><stop offset="0.722" stop-color="#94d4a4"/><stop offset="0.778" stop-color="#c8e99e"/><stop offset="0.833" stop-color="#f0f9a7"/><stop offset="0.889" stop-color="#fff7b2"/><stop offset="0.944" stop-color="#fedb87"/><stop offset="1.000" stop-color="#fec978"/></linearGradient><linearGradient id="lg47"><stop offset="0.000" stop-color="#a70b44"/><stop offset="0.056" stop-color="#b91f48"/><stop offset="0.111" stop-color="#e65749"/><stop offset="0.167" stop-color="#f99455"/><stop offset="0.222" stop-color="#fed985"/><stop offset="0.278" stop-color="#fbfeb9"/><stop offset="0.333" stop-color="#e0f299"/><stop offset="0.389" stop-color="#a2daa4"/><stop offset="0.444" stop-color="#7acaa5"/><stop offset="0.500" stop-color="#65c1a5"/><stop offset="0.556" stop-color="#60bca8"/><stop offset="0.611" stop-color="#62bea7"/><stop offset="0.667" stop-color="#6ec5a5"/><stop offset="0.722" stop-color="#86cea5"/><stop offset="0.778" stop-color="#afdfa3"/><stop offset="0.833" stop-color="#e2f399"/><stop offset="0.889" stop-color="#fafdb7"/><stop offset="0.944" stop-color="#feeda1"/><stop offset="1.000" stop-color="#fee491"/></linearGradient><linearGradient id="lg48"><stop offset="0.000" stop-color="#9e0142"/><stop offset="0.056" stop-color="#a60a44"/><stop offset="0.111" stop-color="#dc484c"/><stop offset="0.167" stop-color="#f67f4b"/><stop offset="0.222" stop-color="#fdb668"/><stop offset="0.278" stop-color="#feeea2"/><stop offset="0.333" stop-color="#f5fbaf"/><stop offset="0.389" stop-color="#c5e89f"/><stop offset="0.444" stop-color="#93d3a4"/><stop offset="0.500" stop-color="#7fcca5"/><stop offset="0.556" stop-color="#78c9a5"/><stop offset="0.611" stop-color="#7ccba5"/><stop offset="0.667" stop-color="#89d0a4"/><stop offset="0.722" stop-color="#a2d9a4"/><stop offset="0.778" stop-color="#dff299"/><stop offset="0.833" stop-color="#f9fcb5"/><stop offset="0.889" stop-color="#feeca0"/><stop offset="0.944" stop-color="#fece7c"/><stop offset="1.000" stop-color="#fdc070"/></linearGradient><linearGradient id="lg49"><stop offset="0.000" stop-color="#9e0142"/><stop offset="0.056" stop-color="#a90e45"/><stop offset="0.111" stop-color="#dc494c"/><stop offset="0.167" stop-color="#f7824d"/><stop offset="0.222" stop-color="#fdc171"/><stop offset="0.278" stop-color="#fff5ae"/><stop offset="0.333" stop-color="#eef8a5"/><stop offset="0.389" stop-color="#b7e2a2"/><stop offset="0.444" stop-color="#8ad0a4"/><stop offset="0.500" stop-color="#71c6a5"/><stop offset="0.556" stop-color="#6ac4a5"/><stop offset="0.611" stop-color="#6bc4a5"/><stop offset="0.667" stop-color="#78c9a5"/><stop offset="0.722" stop-color="#8cd1a4"/><stop offset="0.778" stop-color="#bae3a1"/><stop offset="0.833" stop-color="#eaf79e"/><stop offset="0.889" stop-color="#fffebe"/><stop offset="0.944" stop-color="#fee593"/><stop offset="1.000" stop-color="#fed683"/></linearGradient></defs>
<rect x="353.5" y="634.20" width="259.0" height="4.95" fill="url(#lg0)"/><rect x="353.5" y="638.55" width="259.0" height="4.95" fill="url(#lg1)"/><rect x="353.5" y="642.90" width="259.0" height="4.95" fill="url(#lg2)"/><rect x="353.5" y="647.24" width="259.0" height="4.95" fill="url(#lg3)"/><rect x="353.5" y="651.59" width="259.0" height="4.95" fill="url(#lg4)"/><rect x="353.5" y="655.94" width="259.0" height="4.95" fill="url(#lg5)"/><rect x="353.5" y="660.29" width="259.0" height="4.95" fill="url(#lg6)"/><rect x="353.5" y="664.64" width="259.0" height="4.95" fill="url(#lg7)"/><rect x="353.5" y="668.98" width="259.0" height="4.95" fill="url(#lg8)"/><rect x="353.5" y="673.33" width="259.0" height="4.95" fill="url(#lg9)"/><rect x="353.5" y="677.68" width="259.0" height="4.95" fill="url(#lg10)"/><rect x="353.5" y="682.03" width="259.0" height="4.95" fill="url(#lg11)"/><rect x="353.5" y="686.38" width="259.0" height="4.95" fill="url(#lg12)"/><rect x="353.5" y="690.72" width="259.0" height="4.95" fill="url(#lg13)"/><rect x="353.5" y="695.07" width="259.0" height="4.95" fill="url(#lg14)"/><rect x="353.5" y="699.42" width="259.0" height="4.95" fill="url(#lg15)"/><rect x="353.5" y="703.77" width="259.0" height="4.95" fill="url(#lg16)"/><rect x="353.5" y="708.12" width="259.0" height="4.95" fill="url(#lg17)"/><rect x="353.5" y="712.46" width="259.0" height="4.95" fill="url(#lg18)"/><rect x="353.5" y="716.81" width="259.0" height="4.95" fill="url(#lg19)"/><rect x="353.5" y="721.16" width="259.0" height="4.95" fill="url(#lg20)"/><rect x="353.5" y="725.51" width="259.0" height="4.95" fill="url(#lg21)"/><rect x="353.5" y="729.86" width="259.0" height="4.95" fill="url(#lg22)"/><rect x="353.5" y="734.20" width="259.0" height="4.95" fill="url(#lg23)"/><rect x="353.5" y="738.55" width="259.0" height="4.95" fill="url(#lg24)"/><rect x="353.5" y="742.90" width="259.0" height="4.95" fill="url(#lg25)"/><rect x="353.5" y="747.25" width="259.0" height="4.95" fill="url(#lg26)"/><rect x="353.5" y="751.60" width="259.0" height="4.95" fill="url(#lg27)"/><rect x="353.5" y="755.94" width="259.0" height="4.95" fill="url(#lg28)"/><rect x="353.5" y="760.29" width="259.0" height="4.95" fill="url(#lg29)"/><rect x="353.5" y="764.64" width="259.0" height="4.95" fill="url(#lg30)"/><rect x="353.5" y="768.99" width="259.0" height="4.95" fill="url(#lg31)"/><rect x="353.5" y="773.34" width="259.0" height="4.95" fill="url(#lg32)"/><rect x="353.5" y="777.68" width="259.0" height="4.95" fill="url(#lg33)"/><rect x="353.5" y="782.03" width="259.0" height="4.95" fill="url(#lg34)"/><rect x="353.5" y="786.38" width="259.0" height="4.95" fill="url(#lg35)"/><rect x="353.5" y="790.73" width="259.0" height="4.95" fill="url(#lg36)"/><rect x="353.5" y="795.08" width="259.0" height="4.95" fill="url(#lg37)"/><rect x="353.5" y="799.42" width="259.0" height="4.95" fill="url(#lg38)"/><rect x="353.5" y="803.77" width="259.0" height="4.95" fill="url(#lg39)"/><rect x="353.5" y="808.12" width="259.0" height="4.95" fill="url(#lg40)"/><rect x="353.5" y="812.47" width="259.0" height="4.95" fill="url(#lg41)"/><rect x="353.5" y="816.82" width="259.0" height="4.95" fill="url(#lg42)"/><rect x="353.5" y="821.16" width="259.0" height="4.95" fill="url(#lg43)"/><rect x="353.5" y="825.51" width="259.0" height="4.95" fill="url(#lg44)"/><rect x="353.5" y="829.86" width="259.0" height="4.95" fill="url(#lg45)"/><rect x="353.5" y="834.21" width="259.0" height="4.95" fill="url(#lg46)"/><rect x="353.5" y="838.56" width="259.0" height="4.95" fill="url(#lg47)"/><rect x="353.5" y="842.90" width="259.0" height="4.95" fill="url(#lg48)"/><rect x="353.5" y="847.25" width="259.0" height="4.35" fill="url(#lg49)"/>
<text x="614.0" y="637.9" font-size="4.25" text-anchor="start" fill="#444" >PRKCZC</text>
<text x="614.0" y="642.2" font-size="4.25" text-anchor="start" fill="#444" >FOXP1</text>
<text x="614.0" y="646.6" font-size="4.25" text-anchor="start" fill="#444" >WDR75</text>
<text x="614.0" y="650.9" font-size="4.25" text-anchor="start" fill="#444" >GPR137</text>
<text x="614.0" y="655.3" font-size="4.25" text-anchor="start" fill="#444" >RBBM1</text>
<text x="614.0" y="659.6" font-size="4.25" text-anchor="start" fill="#444" >SRRM2</text>
<text x="614.0" y="664.0" font-size="4.25" text-anchor="start" fill="#444" >BTG1</text>
<text x="614.0" y="668.3" font-size="4.25" text-anchor="start" fill="#444" >RPS14</text>
<text x="614.0" y="672.7" font-size="4.25" text-anchor="start" fill="#444" >RBM3</text>
<text x="614.0" y="677.0" font-size="4.25" text-anchor="start" fill="#444" >ASXL1</text>
<text x="614.0" y="681.4" font-size="4.25" text-anchor="start" fill="#444" >MBNL1</text>
<text x="614.0" y="685.7" font-size="4.25" text-anchor="start" fill="#444" >SRSF5</text>
<text x="614.0" y="690.1" font-size="4.25" text-anchor="start" fill="#444" >WDR43</text>
<text x="614.0" y="694.4" font-size="4.25" text-anchor="start" fill="#444" >HNRNPC</text>
<text x="614.0" y="698.7" font-size="4.25" text-anchor="start" fill="#444" >ZNF638</text>
<text x="614.0" y="703.1" font-size="4.25" text-anchor="start" fill="#444" >TLK2</text>
<text x="614.0" y="707.4" font-size="4.25" text-anchor="start" fill="#444" >PTMA</text>
<text x="614.0" y="711.8" font-size="4.25" text-anchor="start" fill="#444" >ANKRD12</text>
<text x="614.0" y="716.1" font-size="4.25" text-anchor="start" fill="#444" >PRRX1</text>
<text x="614.0" y="720.5" font-size="4.25" text-anchor="start" fill="#444" >ANTXR1</text>
<text x="614.0" y="724.8" font-size="4.25" text-anchor="start" fill="#444" >DEFA4</text>
<text x="614.0" y="729.2" font-size="4.25" text-anchor="start" fill="#444" >MEF2C</text>
<text x="614.0" y="733.5" font-size="4.25" text-anchor="start" fill="#444" >CR2</text>
<text x="614.0" y="737.9" font-size="4.25" text-anchor="start" fill="#444" >TNFRSF13C</text>
<text x="614.0" y="742.2" font-size="4.25" text-anchor="start" fill="#444" >LUC7L3</text>
<text x="614.0" y="746.6" font-size="4.25" text-anchor="start" fill="#444" >CD74</text>
<text x="614.0" y="750.9" font-size="4.25" text-anchor="start" fill="#444" >FCHSD2</text>
<text x="614.0" y="755.3" font-size="4.25" text-anchor="start" fill="#444" >TTN</text>
<text x="614.0" y="759.6" font-size="4.25" text-anchor="start" fill="#444" >NCOA3</text>
<text x="614.0" y="764.0" font-size="4.25" text-anchor="start" fill="#444" >MYO9B</text>
<text x="614.0" y="768.3" font-size="4.25" text-anchor="start" fill="#444" >AKNA</text>
<text x="614.0" y="772.7" font-size="4.25" text-anchor="start" fill="#444" >EXOSC10</text>
<text x="614.0" y="777.0" font-size="4.25" text-anchor="start" fill="#444" >SPI4</text>
<text x="614.0" y="781.4" font-size="4.25" text-anchor="start" fill="#444" >FAM65B</text>
<text x="614.0" y="785.7" font-size="4.25" text-anchor="start" fill="#444" >TBC1D9</text>
<text x="614.0" y="790.1" font-size="4.25" text-anchor="start" fill="#444" >C2CD3</text>
<text x="614.0" y="794.4" font-size="4.25" text-anchor="start" fill="#444" >POU2F2</text>
<text x="614.0" y="798.8" font-size="4.25" text-anchor="start" fill="#444" >ZDHHC6</text>
<text x="614.0" y="803.1" font-size="4.25" text-anchor="start" fill="#444" >NDUFB2</text>
<text x="614.0" y="807.4" font-size="4.25" text-anchor="start" fill="#444" >AIM2</text>
<text x="614.0" y="811.8" font-size="4.25" text-anchor="start" fill="#444" >CD82</text>
<text x="614.0" y="816.1" font-size="4.25" text-anchor="start" fill="#444" >RPS7</text>
<text x="614.0" y="820.5" font-size="4.25" text-anchor="start" fill="#444" >RPL13</text>
<text x="614.0" y="824.8" font-size="4.25" text-anchor="start" fill="#444" >EIF3E</text>
<text x="614.0" y="829.2" font-size="4.25" text-anchor="start" fill="#444" >HMGB1</text>
<text x="614.0" y="833.5" font-size="4.25" text-anchor="start" fill="#444" >RPL9</text>
<text x="614.0" y="837.9" font-size="4.25" text-anchor="start" fill="#444" >TPT1</text>
<text x="614.0" y="842.2" font-size="4.25" text-anchor="start" fill="#444" >TNFAIP3</text>
<text x="614.0" y="846.6" font-size="4.25" text-anchor="start" fill="#444" >SMC3</text>
<text x="614.0" y="850.9" font-size="4.25" text-anchor="start" fill="#444" >JMJD1C</text>
<path d="M353 636.4H351.5M353 640.7H351.5M351.5 636.4V640.7M353 645.1H351.5M353 649.4H351.5M351.5 645.1V649.4M353 653.8H351.5M353 658.1H351.5M351.5 653.8V658.1M353 662.5H351.5M353 666.8H351.5M351.5 662.5V666.8M353 671.2H351.5M353 675.5H351.5M351.5 671.2V675.5M353 679.9H351.5M353 684.2H351.5M351.5 679.9V684.2M353 688.6H351.5M353 692.9H351.5M351.5 688.6V692.9M353 697.2H351.5M353 701.6H351.5M351.5 697.2V701.6M353 705.9H351.5M353 710.3H351.5M351.5 705.9V710.3M353 714.6H351.5M353 719.0H351.5M351.5 714.6V719.0M353 723.3H351.5M353 727.7H351.5M351.5 723.3V727.7M353 732.0H351.5M353 736.4H351.5M351.5 732.0V736.4M353 740.7H351.5M353 745.1H351.5M351.5 740.7V745.1M353 749.4H351.5M353 753.8H351.5M351.5 749.4V753.8M353 758.1H351.5M353 762.5H351.5M351.5 758.1V762.5M353 766.8H351.5M353 771.2H351.5M351.5 766.8V771.2M353 775.5H351.5M353 779.9H351.5M351.5 775.5V779.9M353 784.2H351.5M353 788.6H351.5M351.5 784.2V788.6M353 792.9H351.5M353 797.2H351.5M351.5 792.9V797.2M353 801.6H351.5M353 805.9H351.5M351.5 801.6V805.9M353 810.3H351.5M353 814.6H351.5M351.5 810.3V814.6M353 819.0H351.5M353 823.3H351.5M351.5 819.0V823.3M353 827.7H351.5M353 832.0H351.5M351.5 827.7V832.0M353 836.4H351.5M353 840.7H351.5M351.5 836.4V840.7M353 845.1H351.5M353 849.4H351.5M351.5 845.1V849.4M351.5 638.5H349.5M351.5 647.2H349.5M349.5 638.5V647.2M351.5 655.9H349.5M351.5 664.6H349.5M349.5 655.9V664.6M351.5 673.3H349.5M351.5 682.0H349.5M351.5 690.7H349.5M349.5 673.3V690.7M351.5 699.4H349.5M351.5 708.1H349.5M351.5 716.8H349.5M349.5 699.4V716.8M351.5 725.5H349.5M351.5 734.2H349.5M349.5 725.5V734.2M351.5 742.9H349.5M349.5 742.9V742.9M351.5 751.6H349.5M351.5 760.3H349.5M349.5 751.6V760.3M351.5 769.0H349.5M351.5 777.7H349.5M351.5 786.4H349.5M349.5 769.0V786.4M351.5 795.1H349.5M351.5 803.8H349.5M349.5 795.1V803.8M351.5 812.5H349.5M351.5 821.2H349.5M349.5 812.5V821.2M351.5 829.9H349.5M351.5 838.6H349.5M351.5 847.3H349.5M349.5 829.9V847.3M349.5 642.9H346M349.5 660.3H346M346 642.9V660.3M349.5 682.0H346M349.5 708.1H346M346 682.0V708.1M349.5 729.9H346M349.5 742.9H346M349.5 755.9H346M346 729.9V755.9M349.5 777.7H346M349.5 799.4H346M346 777.7V799.4M349.5 816.8H346M349.5 838.6H346M346 816.8V838.6M346 651.6H343M346 695.1H343M343 651.6V695.1M346 742.9H341M346 788.6H341M346 827.7H341M341 742.9V827.7M343 673.3H338M341 785.3H338M338 673.3V785.3" stroke="#555" stroke-width="0.4" fill="none"/>
<defs><linearGradient id="spg" x1="0" y1="1" x2="0" y2="0"><stop offset="0.000" stop-color="#5e4fa2"/><stop offset="0.125" stop-color="#3288bd"/><stop offset="0.250" stop-color="#66c2a5"/><stop offset="0.375" stop-color="#abdda4"/><stop offset="0.500" stop-color="#ffffbf"/><stop offset="0.625" stop-color="#fdae61"/><stop offset="0.750" stop-color="#f46d43"/><stop offset="0.875" stop-color="#d53e4f"/><stop offset="1.000" stop-color="#9e0142"/></linearGradient></defs>
<rect x="644" y="732" width="5" height="27" fill="url(#spg)"/>
<text x="643.5" y="730.4" font-size="7.6" text-anchor="start" fill="#231f20" >z-score</text>
<text x="650.8" y="736.4" font-size="6.3" text-anchor="start" fill="#333" >2</text>
<text x="650.8" y="742.0" font-size="6.3" text-anchor="start" fill="#333" >1</text>
<text x="650.8" y="747.8" font-size="6.3" text-anchor="start" fill="#333" >0</text>
<text x="650.8" y="754.0" font-size="6.3" text-anchor="start" fill="#333" >−1</text>
<text x="650.8" y="760.3" font-size="6.3" text-anchor="start" fill="#333" >−2</text>
</svg>
</body></html>
